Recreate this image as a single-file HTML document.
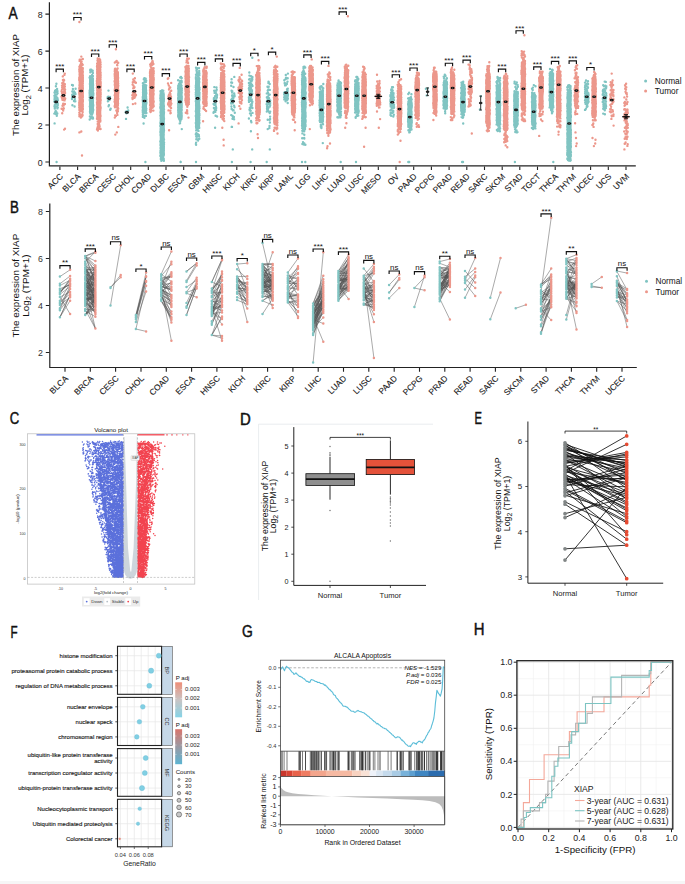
<!DOCTYPE html>
<html><head><meta charset="utf-8"><style>html,body{margin:0;padding:0;background:#fff;}svg{display:block;}</style></head>
<body><svg width="685" height="884" viewBox="0 0 685 884" font-family='"Liberation Sans", sans-serif'>
<rect width="685" height="884" fill="#fff"/>
<rect x="78.6" y="66.7" width="5" height="43.2" rx="1.5" fill="#ec978b"/><rect x="89" y="77.6" width="5" height="35.7" rx="1.5" fill="#80c4c2"/><rect x="96.3" y="64.2" width="5" height="55" rx="1.5" fill="#ec978b"/><rect x="114" y="71.1" width="5" height="35.4" rx="1.5" fill="#ec978b"/><rect x="142" y="85.6" width="5" height="27" rx="1.5" fill="#80c4c2"/><rect x="149.3" y="68.2" width="5" height="38.4" rx="1.5" fill="#ec978b"/><rect x="159.7" y="94.1" width="5" height="62.6" rx="1.5" fill="#80c4c2"/><rect x="177.4" y="83.7" width="5" height="33.7" rx="1.5" fill="#80c4c2"/><rect x="184.7" y="66.9" width="5" height="37.1" rx="1.5" fill="#ec978b"/><rect x="195.1" y="77.3" width="5" height="51.6" rx="1.5" fill="#80c4c2"/><rect x="202.4" y="70.7" width="5" height="34.6" rx="1.5" fill="#ec978b"/><rect x="220.1" y="73" width="5" height="37.8" rx="1.5" fill="#ec978b"/><rect x="255.5" y="73.6" width="5" height="42.1" rx="1.5" fill="#ec978b"/><rect x="273.2" y="74.4" width="5" height="49.3" rx="1.5" fill="#ec978b"/><rect x="290.9" y="75.9" width="5" height="38.1" rx="1.5" fill="#ec978b"/><rect x="301.3" y="76.8" width="5" height="50.6" rx="1.5" fill="#80c4c2"/><rect x="308.6" y="71.8" width="5" height="26.5" rx="1.5" fill="#ec978b"/><rect x="318.9" y="91.1" width="5" height="30.4" rx="1.5" fill="#80c4c2"/><rect x="326.2" y="83.2" width="5" height="44.5" rx="1.5" fill="#ec978b"/><rect x="336.6" y="85.3" width="5" height="25.5" rx="1.5" fill="#80c4c2"/><rect x="343.9" y="70.7" width="5" height="38.3" rx="1.5" fill="#ec978b"/><rect x="354.3" y="82.8" width="5" height="29" rx="1.5" fill="#80c4c2"/><rect x="361.6" y="74.9" width="5" height="37.1" rx="1.5" fill="#ec978b"/><rect x="397" y="89" width="5" height="38.5" rx="1.5" fill="#ec978b"/><rect x="407.4" y="99.9" width="5" height="27.7" rx="1.5" fill="#80c4c2"/><rect x="414.7" y="77" width="5" height="40.5" rx="1.5" fill="#ec978b"/><rect x="432.4" y="72.6" width="5" height="37" rx="1.5" fill="#ec978b"/><rect x="442.8" y="80.8" width="5" height="27.4" rx="1.5" fill="#80c4c2"/><rect x="450.1" y="73.2" width="5" height="38.1" rx="1.5" fill="#ec978b"/><rect x="460.5" y="86.1" width="5" height="26" rx="1.5" fill="#80c4c2"/><rect x="485.5" y="74.2" width="5" height="49.6" rx="1.5" fill="#ec978b"/><rect x="495.9" y="84.8" width="5" height="39.2" rx="1.5" fill="#80c4c2"/><rect x="503.2" y="80.1" width="5" height="50.9" rx="1.5" fill="#ec978b"/><rect x="513.5" y="91.2" width="5" height="34.8" rx="1.5" fill="#80c4c2"/><rect x="520.8" y="60.9" width="5" height="49.6" rx="1.5" fill="#ec978b"/><rect x="531.2" y="93.8" width="5" height="32.3" rx="1.5" fill="#80c4c2"/><rect x="538.5" y="75.4" width="5" height="34.4" rx="1.5" fill="#ec978b"/><rect x="548.9" y="74.1" width="5" height="33.2" rx="1.5" fill="#80c4c2"/><rect x="556.2" y="72" width="5" height="45.7" rx="1.5" fill="#ec978b"/><rect x="566.6" y="90.8" width="5" height="66.4" rx="1.5" fill="#80c4c2"/><rect x="591.6" y="77.2" width="5" height="40.1" rx="1.5" fill="#ec978b"/>
<g>
<path d="M56.8 115.8h0M56.4 83.8h0M56.4 103.5h0M55.9 104.1h0M57.4 108.4h0M57.7 103.4h0M56 91.8h0M56.7 98.1h0M54.5 92.5h0M56.8 99.7h0M56.6 98.3h0M57.9 100.2h0M57.3 113.5h0M55.3 94.2h0M55.7 97.3h0M56.7 97.4h0M54.3 113.6h0M56 114h0M54.9 108.1h0M54.7 105.2h0M54.5 99.1h0M57.1 102.2h0M54.7 97.2h0M55.2 106.4h0M55.7 99.1h0M57.5 98.3h0M54.5 106.5h0M55.9 86.3h0M56.3 96.9h0M57.5 91.1h0M57.3 106.2h0M57.4 107h0M55.3 104.3h0M55.8 102.6h0M55.6 96.2h0M57.5 99.7h0M57.8 105h0M54.8 108.5h0M54.9 105.5h0M55.1 90.8h0M55.1 107.5h0M56 99.7h0M56.4 98h0M55.2 112.2h0M54.3 101.5h0M55.8 90.1h0M55.6 104.1h0M56.3 102.6h0M57.8 107.6h0M56.8 97.4h0M56.2 102.3h0M56.5 112.1h0M56.8 94.4h0M54.4 95.8h0M57.6 93.3h0M57.1 88.9h0M57.5 98.6h0M57.2 100.8h0M55.7 110.9h0M55.7 96.3h0M54.6 123.4h0M56.6 162h0M74.6 106.5h0M72 84.9h0M74 101h0M73.6 95h0M72 99h0M73.2 92.1h0M74.2 92.3h0M73.8 92.8h0M72.2 94.8h0M75.6 88.8h0M74.9 92.8h0M75.5 94.1h0M72.3 91.4h0M72.9 89h0M72.1 98.2h0M74.8 99h0M72.9 85.2h0M72.4 105.3h0M73.5 94h0M75.3 101.3h0M75 92.7h0M72.9 85.6h0M72.5 97.3h0M75.3 93.4h0M74.1 91.4h0M74.5 101.2h0M72.3 97.2h0M72.2 95h0M89.7 119.5h0M91.2 69.6h0M91.2 102.4h0M92.5 108.9h0M90.9 105.8h0M92.2 104.3h0M91.6 104.5h0M90.4 110.4h0M92.8 88.8h0M90 112h0M92.7 88.5h0M90.3 108.8h0M89.6 92.9h0M90.4 78.4h0M92.5 95h0M93.2 105.7h0M89.6 97.2h0M91.4 95.7h0M91.4 116.6h0M92.6 104.4h0M90.3 95.5h0M91.5 102.9h0M90.9 96.7h0M92.7 87.5h0M90.6 87h0M93.1 85h0M90.7 89.5h0M90.4 101h0M92.2 98h0M91.5 100.8h0M90 101.2h0M92 99.8h0M89.9 116.5h0M92.5 101.4h0M92.2 98.1h0M92.5 108.4h0M92 98.1h0M90.9 90.5h0M91.1 99.6h0M91.1 100.1h0M92.9 117.6h0M89.9 84h0M92.9 96h0M89.7 90.5h0M90.4 101.1h0M90.6 90h0M93 85.8h0M91.5 92.6h0M91 97.5h0M92.9 104.2h0M90.5 88.8h0M91.3 103.1h0M91.6 94.7h0M92.4 103.4h0M92.4 98.2h0M92 95h0M90.9 87.2h0M90.8 107.3h0M90.2 98.2h0M92.7 89.1h0M92.1 95.8h0M92.4 80.3h0M90.3 69.7h0M91.3 107.7h0M92.5 118.6h0M91.8 85.7h0M90.1 76.2h0M91.3 84.8h0M92.9 86.3h0M90.5 104.5h0M90.3 105.6h0M90.7 85.3h0M92.2 107.7h0M92.8 117.5h0M90.2 108.6h0M90.2 70.6h0M90.5 105.3h0M90.8 105.7h0M91.6 94.6h0M90.2 105.9h0M90.8 79.3h0M90.3 98.7h0M93.2 109.6h0M92.3 79.3h0M90 104.1h0M93.2 94.7h0M90 98h0M91.1 101.2h0M93.3 93.2h0M92.6 105.3h0M92.3 117.8h0M91.2 111.5h0M90.4 106h0M92 98.1h0M90 97.1h0M90.4 90h0M91.1 96.1h0M89.8 106.4h0M91.1 105.5h0M92.6 99.7h0M92.2 91h0M91.5 90.3h0M92 99.2h0M91.3 99.7h0M90.2 84.6h0M91.9 97.6h0M91.1 87.4h0M92.4 89.6h0M93 94.8h0M91.2 79.4h0M91.8 104h0M92.4 101.7h0M91.2 106.6h0M90.5 106.5h0M92.3 75.8h0M92.9 73h0M92.5 97.5h0M92.2 89.8h0M92.8 81.2h0M92.1 86.4h0M92 80.8h0M91.3 111.5h0M90.8 104.8h0M92 91.4h0M90 77.5h0M91.2 96.4h0M92.5 107.1h0M92.3 101.7h0M92 105h0M90.6 107.1h0M91.2 76.6h0M91.3 104.6h0M91.9 97.6h0M91.1 81.1h0M92.1 93.1h0M93.1 104.5h0M90.3 92h0M92.1 74.9h0M92.5 89h0M91.1 80h0M91.4 96.5h0M93.2 90.5h0M89.8 100h0M91.6 91.8h0M90.2 79.4h0M92.5 113.3h0M93.1 98.5h0M91.6 94.4h0M90 104h0M91.8 101.2h0M91.6 86.7h0M92.3 88.9h0M91.5 93.2h0M92 114.6h0M92.7 70.6h0M91.6 96.8h0M91.1 98.2h0M93.1 109.9h0M90.4 98.5h0M92.2 109.7h0M91.1 96.8h0M92.5 91.2h0M90.1 97.4h0M93.3 93.9h0M90.9 107.1h0M89.8 77.6h0M90.6 104.9h0M91.1 117.5h0M89.7 99.9h0M91.2 106.1h0M91.2 108.8h0M92.2 101.7h0M90.9 93.7h0M90.6 110.6h0M90.5 99.3h0M92.4 77.7h0M93.1 88.2h0M91.6 99.5h0M90.4 96h0M92.6 99.1h0M91.1 98.4h0M90.4 87.5h0M90.1 98.8h0M92.5 98.1h0M92.6 107.5h0M92 88.6h0M91.4 104.4h0M91.7 95.7h0M90.5 109.2h0M93.2 110h0M90.9 113.1h0M92 118.2h0M92.7 92.7h0M92.6 104.7h0M91.4 118h0M90.7 113.9h0M91.7 89.1h0M90.1 106.2h0M92.7 101.8h0M90.9 93.2h0M92.8 78.7h0M90.6 70.4h0M91 83.2h0M90.6 95.8h0M91.2 95.2h0M90.3 72.3h0M89.6 77.6h0M92.3 101.2h0M90.7 91.4h0M90.5 93.8h0M90.7 97.1h0M91.4 103.2h0M91.2 112.2h0M92 103.6h0M92.1 114.5h0M91 80.5h0M93.1 90.2h0M92.8 110.9h0M89.8 78.1h0M92.7 85.2h0M93 118.5h0M92.5 71.8h0M90.1 86.4h0M92.7 111.2h0M92 90.3h0M89.7 91.9h0M89.7 95h0M93.2 95.4h0M92.1 82.9h0M90.6 114h0M90 111.3h0M90.2 112.9h0M90.5 103.9h0M92.5 104.4h0M90.9 92.6h0M90.2 94.1h0M93 97.4h0M92.6 105.2h0M90.3 102.6h0M92.9 84.4h0M91.9 87h0M92.5 96.4h0M92.1 101.3h0M92.9 75.9h0M92.5 104.3h0M92.7 88.7h0M90.4 81.5h0M92.2 100.7h0M91.6 86.2h0M92.4 109.9h0M110.2 109.7h0M108.5 90.6h0M110 97h0M108.6 98.5h0M107.9 101.2h0M108.3 96.6h0M107.7 97.1h0M110.7 108.8h0M109.5 100h0M108.6 106.2h0M109 105.1h0M108.7 98h0M107.5 98.3h0M126 118.9h0M127.6 107.5h0M125.8 111.8h0M126.5 113.3h0M125.8 111.9h0M127.2 112.9h0M128.2 110.5h0M127.4 111h0M125.7 112.2h0M144.4 117.8h0M144.4 78.1h0M145.8 96h0M144.2 106h0M144.5 102.8h0M146 90.8h0M144.3 103.9h0M144.5 96.7h0M144.6 95.2h0M145.8 102.4h0M145.2 99.5h0M145.4 98.6h0M144.2 99.5h0M142.9 107.2h0M145.2 87.6h0M144.7 102.1h0M145.5 106.1h0M145.5 106.8h0M143.1 97h0M143.5 109.9h0M143 109.1h0M145.7 78.8h0M143.1 86.5h0M143 89.3h0M145.5 85.8h0M144.8 94.4h0M142.9 114.7h0M145.2 87.7h0M145.3 87.2h0M144.5 95.5h0M142.9 116.9h0M145.3 87.2h0M144.2 85.8h0M144.9 105h0M146.4 99.6h0M145.7 92.4h0M145.9 101.7h0M143.2 88.8h0M143.9 100.1h0M144.6 93.3h0M142.7 100h0M146.4 113h0M143.7 109.1h0M143.7 97.9h0M143.9 86.4h0M143.6 88.3h0M145.9 81.9h0M144.8 94.8h0M144.6 105.8h0M144.3 100.8h0M142.9 116.6h0M143.8 102.5h0M145.9 90.9h0M145.7 98.8h0M145.9 91.8h0M143.7 86.2h0M143.4 108.5h0M142.9 106.3h0M144.7 116.3h0M144.1 109.3h0M144.4 95h0M144.5 110.3h0M144.9 85.6h0M144.1 96.2h0M145.7 105h0M143.4 101.5h0M146.1 98.5h0M144.8 81h0M142.9 99.5h0M143.9 90.1h0M144.7 85.8h0M144.2 95.3h0M144.8 97h0M143.9 102.5h0M143.7 104.3h0M145.6 111h0M143.8 79.3h0M145.3 104.6h0M145.7 98h0M144.9 101.3h0M144.4 99h0M146.2 80.8h0M144.3 101.9h0M145.9 103.2h0M142.9 107.1h0M144.3 101.2h0M145.1 104.6h0M142.9 98.7h0M145.9 96.6h0M143 108h0M144.9 79.5h0M143.4 91.3h0M146.1 91.9h0M144.8 93h0M145.7 91.8h0M144.5 93.5h0M145.2 85.3h0M145.2 89.8h0M143.8 85.9h0M143.5 105.1h0M145.8 101h0M143.2 107h0M146.1 90.3h0M143.5 91.7h0M143.1 104.8h0M143.1 94.5h0M145.6 87.2h0M146.2 110.1h0M144.2 101.7h0M145.1 93.9h0M143.7 101.3h0M146.1 96.7h0M145.2 87.8h0M143.3 97.3h0M142.9 110h0M145.3 93h0M142.9 101.8h0M145.8 99.7h0M143.8 105.6h0M143.6 112.3h0M144.9 111.2h0M143.9 103.9h0M144.8 109.7h0M143.3 88.2h0M146.1 110.5h0M143.9 106.9h0M145.8 95h0M143.3 86h0M145.7 107.3h0M146.3 93.6h0M144.1 104.9h0M142.8 97.6h0M144.1 99.8h0M145.1 101h0M143.5 116h0M144.7 113h0M143 101.3h0M144.4 85.2h0M145.4 105.5h0M144.3 95h0M145.2 99.2h0M143.1 95.6h0M145.8 89.9h0M143.2 113.3h0M146.1 97.9h0M146.4 102.4h0M146.2 103.5h0M144.6 108h0M143.8 107.4h0M144 109.4h0M145.5 110h0M144.5 82h0M146.1 100.9h0M143 92.7h0M144.5 109h0M145.9 115.9h0M144.9 99.4h0M144.7 84.9h0M143 101.3h0M143.2 109.2h0M143.7 103h0M146 109.2h0M145.8 112.4h0M143.5 102.9h0M146.1 104.3h0M142.8 107.6h0M144.9 108.2h0M146.3 108.6h0M144 98.3h0M146.2 85.4h0M145.1 102.7h0M142.9 114.2h0M143.9 97.9h0M144.4 110.5h0M143.6 102.3h0M145.4 99.8h0M143.4 94.7h0M145.6 88.4h0M143.8 105.5h0M143 111.2h0M144.8 102.5h0M143.1 97.7h0M144.7 106.7h0M145.6 91h0M144.9 82.2h0M144.4 112.6h0M142.8 96.9h0M144.6 89.6h0M143.1 116.7h0M145.1 98.7h0M143.2 102.8h0M144.8 112.7h0M144 86.3h0M144.1 98.6h0M145.2 104.9h0M143.3 96h0M143.3 93.8h0M146.2 92.4h0M143.9 94.5h0M145.8 96.4h0M145.9 110.6h0M144.5 104.4h0M143.3 99.5h0M143 104.1h0M146 109.6h0M143.1 115.9h0M144.5 98.2h0M144.7 100.6h0M143.1 105.8h0M144.4 104.4h0M143.3 108.3h0M144.7 107.1h0M144.6 101.8h0M144.1 106.3h0M143.4 93.4h0M144.2 102.2h0M143.5 99.5h0M143.2 96.5h0M143.6 86.8h0M145.9 94.3h0M144.6 98.4h0M146 102.3h0M142.8 107.6h0M146.2 103.8h0M144.5 93.4h0M145.6 98.5h0M144.8 104.2h0M145.2 111.9h0M143.5 113.6h0M145.5 97.4h0M143.3 89.5h0M143.7 96.8h0M142.8 112.2h0M144.2 102.7h0M144.6 98.5h0M143.8 108.5h0M146 97.1h0M143 102.6h0M144.8 107.8h0M143.6 111.2h0M144.9 91.9h0M145.6 97h0M145.3 108.3h0M142.9 109.3h0M143.6 91h0M144.9 94.3h0M146.3 103.5h0M142.9 83.2h0M145 103.4h0M145.3 109.6h0M145.7 88.8h0M144 102.5h0M145.7 97.1h0M144.4 100.6h0M146.1 109.2h0M142.7 110.7h0M146.2 102.6h0M144.2 85.3h0M144.2 109.2h0M143 85.8h0M143.6 123.5h0M145.4 162h0M163.9 160.7h0M161.9 90.4h0M160.6 106.7h0M163.8 160.2h0M160.8 155.4h0M160.5 152.7h0M161.5 112.1h0M161.5 118.6h0M164 124.2h0M163.6 128.7h0M161.9 132.1h0M162.3 117.8h0M163.5 115.1h0M163.4 96.3h0M162.8 109.2h0M162.3 104.7h0M160.8 96.6h0M161.3 101.9h0M162.8 110.4h0M162.6 158.6h0M163.4 112.9h0M163.7 101h0M164 130.4h0M161.1 99h0M160.7 148.1h0M163.7 94.5h0M162.5 129.7h0M161.1 111.1h0M163 143h0M161.3 139.6h0M161.3 136.2h0M161.7 137.9h0M162.3 154.1h0M162.9 129.6h0M160.7 91.8h0M163.1 114.8h0M162.7 95.2h0M162.1 107.1h0M162.9 101.9h0M163.3 90.8h0M160.4 107.8h0M162.1 141.4h0M162.9 143.2h0M163 131.7h0M162.8 159.2h0M161.1 144.5h0M163.9 98.4h0M163.3 96h0M161.3 137.6h0M162 106.6h0M163.9 106.3h0M161.2 98.2h0M161.9 104.9h0M163.9 123.3h0M163.7 153.3h0M161.3 102.7h0M163.1 138.7h0M161.7 116.7h0M162.8 134.9h0M163.2 123h0M160.9 92.9h0M161.2 149.4h0M161.2 123.4h0M161.4 115h0M160.5 122.9h0M160.9 94.8h0M161.9 132.1h0M161.9 96.5h0M160.7 112.2h0M162.5 92.7h0M163.9 154.4h0M162.5 145.8h0M161.7 140.5h0M163 97h0M162 159.7h0M161 142.4h0M162.2 110.4h0M160.5 91.2h0M162.9 148.3h0M161 129.9h0M161.8 112.4h0M164 112.2h0M163.2 108.3h0M163.5 107.8h0M162.8 143.2h0M162.7 142.6h0M163 158.8h0M164 112.1h0M161.1 146h0M163.2 142.5h0M161.5 93h0M161.3 115.5h0M163.4 119.2h0M162.6 114.6h0M163.5 118.7h0M163.6 111.9h0M162.6 139.4h0M161.1 156.2h0M160.4 156h0M162.4 159.7h0M163.1 135.3h0M161.4 150.7h0M160.6 152.8h0M160.4 126h0M161 92.6h0M163 112.4h0M160.4 141.5h0M161.2 106.6h0M161.4 148.2h0M163 153.7h0M164 139.4h0M160.5 132h0M160.8 112.3h0M163.8 129.4h0M164 109.5h0M160.9 154h0M161.6 95.2h0M162.3 136.7h0M161.6 102.2h0M161.9 158.5h0M162.2 102.5h0M161.3 144.8h0M160.6 100.6h0M160.7 104.3h0M161 113.6h0M160.7 141.2h0M162.7 160h0M163 147.4h0M161.4 97.1h0M163.3 149.6h0M163.1 114.4h0M161.7 119.5h0M162.2 114.2h0M161.1 148h0M163.8 150.6h0M162.5 153.9h0M160.6 91.7h0M161 133.8h0M163 114.9h0M161.8 120.7h0M163 145h0M161.2 156.2h0M163.3 159.7h0M163.4 100.8h0M160.7 151.6h0M162.6 93h0M161.1 135.2h0M163 109.9h0M163.4 151h0M163.3 105.3h0M161.2 143h0M160.7 135h0M162.8 124h0M162.5 152.9h0M160.9 143.3h0M161.1 104.8h0M162.5 140.7h0M160.8 134h0M162.7 107h0M161.3 145h0M161.3 147.1h0M162 145.3h0M162.4 133.7h0M163.1 135h0M160.5 115.6h0M163.1 127.6h0M161.2 99.6h0M161.5 157.2h0M162.8 114.1h0M162.9 101.9h0M162.7 144.2h0M163.7 158.6h0M161.1 129.9h0M161.5 152.6h0M162.8 128.4h0M161.4 110.7h0M161 154.1h0M161.2 152.4h0M163.2 127h0M163.4 148.5h0M163 144.5h0M163.9 129.8h0M163.3 152.4h0M161.5 155.9h0M161.6 135.3h0M163.1 127.7h0M160.6 94.9h0M162.6 121.7h0M160.7 155.7h0M160.6 145.1h0M162.3 108.4h0M160.9 121.2h0M163.8 99.6h0M163.6 93.1h0M162.1 100.4h0M161.1 153h0M160.8 94.4h0M162.3 123.8h0M162.3 143.9h0M161.7 148.7h0M163 100h0M162.3 145.8h0M163.3 154.9h0M160.8 142.1h0M160.6 95.8h0M161.8 128.3h0M162.2 109.3h0M161.3 155.5h0M162.9 128.9h0M161.2 138.4h0M161.6 146.3h0M162.2 114.1h0M163 135.3h0M163.2 152.3h0M161.8 91.6h0M162 126.9h0M163.8 148.1h0M163.8 159.9h0M162.7 114.8h0M160.8 124.5h0M162.1 159h0M162.7 127.7h0M161.4 108.7h0M160.5 123h0M164 144.3h0M163.8 125.6h0M160.9 118.2h0M162.1 115h0M162.7 150.5h0M161.5 104.2h0M160.6 94.3h0M163.2 108.7h0M163.2 100.5h0M162 134.9h0M160.7 97.3h0M161.8 147.9h0M160.7 144.8h0M164 118.7h0M160.6 97.4h0M161.5 154.9h0M163.2 145.5h0M160.9 158.2h0M160.8 129.9h0M160.7 150.8h0M161 147.2h0M162.4 108.1h0M163.5 119.7h0M161 94.7h0M161 132.5h0M163.2 113h0M162 159.8h0M161.6 94.1h0M160.8 144.3h0M161.3 127.2h0M164 124.8h0M160.8 94.1h0M161.4 126.1h0M163.1 91h0M163.7 117.1h0M163.7 145.5h0M162.1 102.1h0M163.9 146.5h0M162.6 90.5h0M161.5 128.6h0M162.1 144.8h0M163 93.2h0M163.1 138.1h0M160.9 132.1h0M161.1 136.6h0M163.9 113.7h0M160.8 159.1h0M163.4 134.4h0M161.6 149.3h0M161.3 102.5h0M161.3 160.7h0M162.1 118h0M164.1 142.6h0M160.9 128.8h0M163.6 121.2h0M161.6 110.7h0M161 151h0M163.1 143.8h0M161.7 152.2h0M161.1 93.2h0M161.9 150.2h0M163.4 151.1h0M163.6 124h0M162.5 119.9h0M160.4 98.4h0M163.2 156.7h0M162.6 144.2h0M163.7 148.9h0M163.9 119.6h0M161.6 128.9h0M163.5 132h0M163.4 98.3h0M161.4 114.2h0M161.7 100.3h0M161.8 93.5h0M161.7 141.8h0M179.7 123.4h0M181 76.9h0M180.2 98.7h0M179.8 91.8h0M181.3 110.2h0M180.3 84.1h0M179.3 95.8h0M179.5 87.4h0M181.6 117.8h0M181.3 101.9h0M181.5 82.5h0M180.2 77.4h0M178.6 85.9h0M178.7 101.9h0M179.5 99.7h0M180.6 108.5h0M178.1 88.6h0M181 109.2h0M181 100.4h0M180 117.6h0M178.1 80.3h0M181 101.2h0M179.6 99.3h0M180.6 102.3h0M180.2 117.5h0M180.8 103.6h0M179.6 107.5h0M181.6 104.1h0M181.6 115.1h0M181.5 116.1h0M180.4 114.8h0M179.3 94.1h0M179.5 102.4h0M179.1 91.9h0M181.4 113.2h0M181 94.7h0M181 106.5h0M181.1 100.8h0M181.7 90.5h0M180.6 101.5h0M179.3 105.6h0M180.9 119.3h0M179.1 101.1h0M180.3 92.3h0M178.7 108.5h0M181.3 102.6h0M179.9 120.4h0M179.1 115.9h0M181.5 97h0M178.4 86.1h0M181.5 105.2h0M180.9 119.4h0M178.6 105.9h0M180.9 118.3h0M180.2 104.8h0M181.4 78.3h0M180.3 98.3h0M179.7 103.5h0M181.5 89.2h0M178.4 105.9h0M181 97.8h0M178.5 99.5h0M179.1 96.5h0M178.5 117.3h0M181.3 93.2h0M179.7 91.1h0M180.8 111.3h0M179 83.7h0M180.8 101.7h0M180.5 93.6h0M178.4 95.1h0M179.9 91h0M180.8 108.6h0M178.9 108.1h0M180.5 97.3h0M179.1 94.5h0M179.5 94.9h0M181.5 97.7h0M181.6 107h0M181.8 88.4h0M179.7 96.1h0M180.2 88.9h0M181.1 89.5h0M180.9 99.3h0M179.8 108.9h0M181.3 100.4h0M179.6 106.9h0M181.6 105.2h0M179.8 99.5h0M178.5 97.7h0M180.9 110.3h0M178.6 110.1h0M180.6 95.3h0M178.3 110.8h0M181.7 96.6h0M180.1 105.8h0M180.8 111.9h0M178.6 87.5h0M180.4 81.5h0M179.5 103h0M179 102.4h0M181.1 90.1h0M178.2 115.9h0M179.8 111.1h0M178.4 88h0M181.2 90.8h0M181.4 107.1h0M178.2 110.1h0M179.8 97.6h0M179.8 116.8h0M180.7 107.2h0M180.8 104.4h0M179.3 94.6h0M181.5 92.5h0M178.8 88.8h0M178.6 117.1h0M181.1 115.5h0M178.5 110.6h0M178.8 115.7h0M179.9 112.3h0M179.3 105.2h0M178.7 99.4h0M181.5 96.3h0M179.8 84h0M181 113.5h0M179 91h0M181.5 100.1h0M178.9 114.4h0M181.4 100h0M180.3 116.8h0M181.7 81.9h0M180.9 109.7h0M180.4 89.5h0M180.1 85.8h0M181.2 108.5h0M179.7 111.5h0M178.4 100.3h0M181.5 113.1h0M181.1 90.8h0M180.6 99.7h0M180.8 110h0M178.9 109.2h0M179.8 92.9h0M181.1 117.3h0M181.6 81h0M181.5 110.3h0M178.7 104h0M180.6 111.8h0M180.1 81.8h0M179.6 91.7h0M178.7 85.8h0M178.6 93.8h0M179.8 100.8h0M179.9 80.9h0M179.1 93.7h0M179.4 96.5h0M180.1 94.7h0M180.9 92.8h0M180.3 98.4h0M178.7 103.7h0M181.4 118.9h0M179.4 115.8h0M181.6 109.5h0M181.7 77.9h0M178.6 86.7h0M180.2 108.3h0M181.7 98.6h0M179.5 102.2h0M180.1 123.1h0M179.2 105.5h0M178.2 98.3h0M178.8 87.3h0M178.5 114.8h0M179.1 118.7h0M180.4 97.8h0M180.2 100.9h0M181.6 100h0M180.6 100.1h0M179.4 105.8h0M181.6 116.5h0M180.4 96.3h0M180.1 97.1h0M181.3 94.7h0M180.6 86.4h0M179.4 115.2h0M180.3 121h0M179.2 111.7h0M181.7 96.9h0M179 102.1h0M181.7 92.8h0M178.3 107.4h0M178.1 103.7h0M180.1 108.3h0M178.8 98.8h0M180 95.4h0M178.5 112.3h0M181.2 85.5h0M180.6 87.6h0M180.6 96.4h0M181.5 103.1h0M181.8 129.1h0M180.6 162h0M180.7 162h0M196.1 144.8h0M196 67.7h0M198.3 84.9h0M197.9 84.4h0M198.4 104.3h0M196.8 109.7h0M197.6 93.1h0M196.5 116.3h0M197.4 127.6h0M196.8 120.7h0M197.9 93.2h0M196.9 95.5h0M196.8 71.4h0M198.1 140.6h0M196.1 90.7h0M198.7 125.1h0M197.6 80.7h0M196.6 87.8h0M196.2 96.5h0M197.7 75.9h0M197.6 107h0M198.4 110.6h0M197.2 122.7h0M197.3 113.6h0M199.1 96.6h0M196.8 88.1h0M199.4 78.8h0M199.1 104.6h0M199.4 115.2h0M199.3 106.1h0M196.7 108.3h0M198.8 109.2h0M198 107.7h0M196.5 118.5h0M199.5 99.6h0M198.2 110.2h0M198.8 102.3h0M197.8 130.4h0M196.1 96.2h0M199 89.7h0M196.4 88.5h0M196.7 111h0M198 124.7h0M196.5 128.4h0M197.5 125.4h0M198.4 113.2h0M196.1 105.5h0M198.2 139.3h0M196.2 88.2h0M197.5 133.9h0M198.2 114.2h0M198.3 115h0M195.9 85.8h0M196.5 70.4h0M199.3 106.5h0M197.2 104.7h0M197.3 107.4h0M197.2 103h0M198.3 102.3h0M198.5 123.4h0M198.2 100.9h0M197.3 116.5h0M197.9 93h0M197.7 110.3h0M196.5 89.6h0M199.3 123.2h0M199.3 95.2h0M198.6 139h0M199.4 87.8h0M197.5 109.2h0M198.9 124.9h0M196.7 91.7h0M198.5 110.3h0M198.4 87.2h0M199.2 111h0M198.9 84.7h0M199 96.1h0M196.8 93h0M198.7 96h0M197.5 106.8h0M196.9 106.7h0M197.1 91.5h0M198.7 87.6h0M198.9 107.8h0M198.9 72.7h0M198.2 124.7h0M196.4 81.9h0M196.3 100h0M197.9 94.9h0M196.6 116.5h0M197 73.3h0M196.1 117.3h0M196.3 100.3h0M198.4 115h0M196.6 69.1h0M198.9 79.4h0M197 128.6h0M198.9 108.7h0M196.9 92.9h0M196.8 108.2h0M197.2 106.5h0M195.8 123h0M197.4 94.6h0M197.2 123.3h0M195.8 85.8h0M199 105.9h0M197.2 73.5h0M195.8 92.7h0M199.3 113.7h0M196.6 106.3h0M196.7 120.3h0M195.9 96.7h0M196.1 87.8h0M198.4 84.3h0M197.9 104.7h0M197.6 125.7h0M196.7 100.1h0M196.8 73.1h0M199.4 94.1h0M197.1 99.8h0M199.4 108.3h0M199.1 90.2h0M196.2 120h0M198.9 78h0M195.8 111.3h0M198.4 118.2h0M198.8 111.7h0M198.3 100.5h0M197.8 83.3h0M198.8 111.2h0M196.3 139.2h0M197.8 100.1h0M196.8 90.5h0M197.2 75.1h0M196.5 124.1h0M198.4 76h0M197.9 88.2h0M198.7 91.5h0M198.1 115.9h0M198 118.4h0M199.2 120.2h0M198.8 84.3h0M197.9 95.1h0M197 82.3h0M199.2 70.9h0M197.1 98.1h0M196.1 99.5h0M197 69.5h0M198.4 128.2h0M199.2 108.5h0M198.2 106.8h0M198.2 106.9h0M199.2 96.2h0M198.6 117.4h0M197.4 80.8h0M197.5 129.4h0M198.6 117h0M196.9 136.8h0M196.2 130.4h0M198.1 89.5h0M198.8 88.9h0M196.7 102.8h0M198.3 85.6h0M199.1 89h0M196.2 111.6h0M196.3 99.2h0M197.6 92.8h0M197 68.1h0M199.3 108.4h0M199.5 92.8h0M197.4 90.2h0M198.7 80h0M198.1 92h0M196.4 82.2h0M199.4 122.7h0M196.4 104.3h0M196.1 142.6h0M197.4 99.4h0M195.8 94.7h0M197.5 97h0M197.3 94.3h0M199.3 96.2h0M197.3 128.4h0M198.9 114.2h0M198.7 102.2h0M197.9 95.8h0M196.6 117.9h0M196.9 100.8h0M197.6 114.9h0M197.2 128.5h0M198.2 113.2h0M197.6 116.8h0M197 85.7h0M198 78.2h0M199.5 89.6h0M196.5 103.2h0M197 110.9h0M195.8 134.2h0M196.1 110.2h0M196 74.8h0M197.3 81h0M198.9 95h0M198.4 103.8h0M199.3 98.3h0M198.9 92h0M197.9 98.6h0M197.9 91.9h0M195.8 116h0M197.2 97.6h0M196.7 106.4h0M198.1 82.2h0M196 126.7h0M197.8 78.9h0M197.2 100.3h0M197.6 109.6h0M197.3 98.1h0M196.1 96.4h0M198.5 103.7h0M198.7 91.9h0M198 111.6h0M196.2 136.6h0M198 87.9h0M199 98.8h0M199.4 73.3h0M198.6 92.5h0M195.9 144h0M199 79.7h0M198.2 114.1h0M196.8 90.1h0M199.2 81.9h0M198.8 123.3h0M199.1 100.3h0M196.7 135h0M197.9 88.3h0M197.2 89.9h0M196.9 121.4h0M198.6 91.6h0M198.1 84.3h0M197 86.2h0M197.8 113.4h0M199.2 114.2h0M197.9 123.6h0M199.2 127.9h0M197.9 93.6h0M199.4 97.8h0M195.9 78.8h0M197.5 94.3h0M197.8 105.5h0M198.5 130.9h0M199.4 75.2h0M198.1 95.9h0M197.5 98.9h0M198.1 121.3h0M197.7 121.9h0M198.4 88.8h0M199.3 120.2h0M195.8 89.6h0M197 88.9h0M199 107.1h0M196 134.8h0M198.7 92.2h0M195.9 77.3h0M198.2 117.2h0M198.7 126.7h0M196.7 82h0M197.2 96.1h0M196.6 112.6h0M198.4 80h0M197.7 104.7h0M198 91.5h0M197 107.6h0M197.9 115.1h0M199.3 95.1h0M198.7 117.6h0M199.3 138.8h0M196.7 110.4h0M197.7 79.8h0M197.2 81.9h0M197.1 83.4h0M198.7 74.1h0M196.4 94.5h0M197.8 108.3h0M198.6 91.3h0M199.2 120h0M195.8 87.3h0M196.8 108.6h0M197.6 94.4h0M199.2 117.8h0M196.4 101.2h0M198.9 83.6h0M197.2 103.1h0M197.8 113.7h0M199.2 94h0M196 85.1h0M197 102.4h0M196.3 125h0M196.3 133.3h0M196.9 128.9h0M198.4 82.4h0M197.9 100.4h0M196.2 91.1h0M198.7 82.2h0M197.6 94h0M196.3 91.1h0M198.8 109.5h0M198.8 135h0M196.6 88.9h0M199.2 100.6h0M198.8 89.7h0M196.6 122.6h0M195.8 101.3h0M199 68.1h0M198.8 117.1h0M196.1 96.9h0M198.6 78.8h0M198.6 103.7h0M198.1 96.4h0M198.9 86.7h0M199.4 108.4h0M197 79.1h0M198.9 100.5h0M199.2 106.5h0M196.9 91.8h0M198.3 103.5h0M198.3 110.1h0M198.9 75.3h0M197.9 83.6h0M196.8 96.6h0M196.7 86.2h0M197.8 86h0M196.3 89.7h0M199 97.5h0M199.1 97.3h0M196.7 92.2h0M198.3 89.9h0M198.3 93h0M196.2 110.9h0M198.7 99.8h0M198.6 91.5h0M196.9 120.1h0M196.1 98.6h0M196.8 87h0M198.6 95.9h0M197.5 104.5h0M198.8 98.9h0M196.4 108.9h0M196.2 83.6h0M197.1 106.5h0M199 136.2h0M196.4 125h0M196 162h0M217.1 116.5h0M214.3 87.1h0M213.5 112.8h0M214.7 109.1h0M214.6 101.5h0M213.9 99.5h0M215 96.2h0M213.6 104h0M216.9 97.5h0M215.3 100.2h0M216.7 89.6h0M216 101.6h0M216.2 100.2h0M216.3 97.3h0M214.6 92.9h0M216.2 108h0M214.2 104.7h0M215.5 103.2h0M215.7 92.4h0M216.3 93.8h0M214.1 101h0M214.7 92.6h0M216.5 87.4h0M216.4 90.5h0M217.1 95h0M213.9 111.6h0M214.2 90.7h0M213.9 98.3h0M216.1 110.1h0M216.2 100.8h0M215.9 96h0M216.3 94.5h0M215.4 100h0M215.5 105h0M216.9 95.9h0M215.9 106.8h0M215.9 101.7h0M215.6 96h0M215.3 111.9h0M216.3 98.6h0M215.6 115.8h0M213.9 108h0M215 110.3h0M215 101.8h0M215.1 127.8h0M231.7 126.9h0M234.3 76.9h0M233.5 96.9h0M234.6 96.3h0M231.8 102.4h0M232.1 101.1h0M233 110.4h0M231.4 106.5h0M232.3 91.3h0M233.1 96.9h0M232.9 101.5h0M234.5 107.3h0M233.3 98.6h0M233.5 87h0M233.3 101.4h0M234.1 105.8h0M232.5 116h0M231.2 100h0M234.8 112.7h0M234.1 119.3h0M231.6 90.8h0M231.6 109h0M232 126.9h0M233.6 110.2h0M231.6 79.3h0M231.2 102.5h0M233 117.9h0M231.2 115.1h0M232.1 92.6h0M232.6 96.3h0M231.9 98.6h0M231.2 103.6h0M232.1 95.4h0M232.1 82.8h0M232.3 95.4h0M232.7 103.2h0M232.5 118.8h0M232.3 95.9h0M231.2 82.5h0M234.2 93.4h0M233.9 117h0M233 99h0M231.2 85.7h0M232 109.2h0M234.5 95.3h0M232.8 149.4h0M231.9 162h0M251.4 122.2h0M249.3 72.5h0M249.2 99.2h0M249 99.1h0M249.8 97.2h0M251.2 95.1h0M252.4 108h0M252.4 101.7h0M252 103.5h0M249.3 85.4h0M251.8 101.2h0M251.7 99.4h0M250.6 93.2h0M252.5 86h0M251.1 92.1h0M249.3 89h0M249.6 89.6h0M249.3 93.5h0M251.1 99.9h0M251.1 115.4h0M252 84.8h0M248.9 100.4h0M248.9 118.5h0M252.4 77.4h0M249.8 79h0M249.8 110.4h0M252 78.8h0M249.3 90.6h0M251.8 105.2h0M252.2 93.5h0M250.9 87.1h0M251.1 84.2h0M248.9 88.4h0M251.1 92.7h0M251.1 84.5h0M251.7 107.4h0M250.8 90.6h0M249.3 100.7h0M249.7 110.1h0M251.3 93.2h0M249.1 87.9h0M249.2 89.3h0M249.8 79h0M251.8 105.1h0M250.9 113.6h0M250.2 95.8h0M252.4 77h0M251 120.9h0M249.7 98.4h0M250.9 97.2h0M252 90.1h0M250.2 100.7h0M250.4 94.3h0M251 88.7h0M252.5 112.9h0M251.2 96.1h0M249.5 109.7h0M251 91.6h0M250 83.5h0M250.6 81h0M251.5 106.2h0M248.9 97.5h0M250.7 81.5h0M250 113.4h0M251.1 84.7h0M251.9 90.1h0M250.6 104.8h0M251.2 92.1h0M249.9 95.9h0M249.8 86.2h0M250.7 84.6h0M250.8 100.6h0M249.7 100.9h0M251.7 93.1h0M250.7 110.7h0M250.2 91.1h0M249.8 93.1h0M251.9 103.3h0M252.2 102h0M252.3 79.5h0M249.8 93.6h0M249.1 79.4h0M251.2 84.3h0M248.9 83h0M252 90.9h0M251.4 94.2h0M250.1 91.3h0M250.5 90.9h0M251.4 92.4h0M249.4 75.6h0M250.2 108.1h0M251.8 80.8h0M251.4 81.6h0M251 91.8h0M249.2 100.8h0M249.6 96.2h0M249.8 107.8h0M249 101.9h0M251.2 106.8h0M251 76.2h0M252.3 57.7h0M250.9 131.3h0M252.2 149.4h0M250.6 162h0M267.7 129.1h0M268.5 81.6h0M270.2 103h0M268.8 82.3h0M268 92.6h0M270.1 118.9h0M267.5 107.4h0M270.1 116.6h0M267.7 119.7h0M268.1 110.3h0M267.7 90.6h0M268.9 100.7h0M269.8 94.6h0M269.1 103h0M267.2 106.7h0M270.2 100.4h0M269.2 102h0M268.4 82.9h0M269.7 84h0M266.9 97.6h0M268.7 95.3h0M269.4 128h0M269.4 102.6h0M269 111.7h0M266.8 93.4h0M268.3 89.5h0M267.5 106.5h0M268.8 104h0M268 107.3h0M268.2 93.5h0M268.5 100.9h0M268.7 86.8h0M269.8 89.9h0M267.6 101.1h0M267.5 105.1h0M267.2 109.4h0M266.9 104.2h0M269.7 113h0M269.9 106.6h0M267 102.1h0M267.9 92.6h0M269.9 122.5h0M269.7 119.8h0M270.2 111.6h0M270.2 105.1h0M267.7 96.8h0M266.8 111.6h0M267.5 86.8h0M268.4 108.1h0M266.6 104.1h0M267.5 100.5h0M268.3 90.1h0M269.1 98.2h0M267.1 100.9h0M267 108.3h0M267.8 99.5h0M266.9 97.2h0M267 105.9h0M266.9 101.3h0M269.5 126h0M269.8 149.4h0M266.7 162h0M287.7 103h0M287.9 73.6h0M284.7 97.6h0M285.1 85.4h0M284.9 92.2h0M285.9 94.6h0M285.3 99.2h0M286.7 94.5h0M287.5 93.8h0M284.5 97.4h0M284.3 99.4h0M284.6 98h0M285.4 98.5h0M284.7 83h0M285.8 85.3h0M285.6 95.6h0M286.9 98.6h0M287.8 93.8h0M287.8 88.8h0M285.8 96.3h0M286.6 94h0M284.7 83.5h0M286.5 94.5h0M287.5 95.3h0M287.5 81.6h0M284.7 93.7h0M284.8 93.5h0M287.6 98.1h0M286.8 83.5h0M287 91.2h0M284.5 94.8h0M286.5 93.8h0M284.3 80.2h0M286.9 93.7h0M287.2 94h0M285.4 92.3h0M284.2 92.7h0M286.9 84.1h0M287.9 94.7h0M286.5 95.4h0M285.6 96.9h0M285.4 92.1h0M287.2 100h0M287.8 95.9h0M285.6 101.3h0M285 93.8h0M287.9 94.4h0M285.8 94.3h0M285.9 96.1h0M285.4 97.7h0M286.9 91.6h0M287.9 98.7h0M286 77.8h0M287.4 91.1h0M285.7 79h0M285.8 74.9h0M287.2 92.2h0M287.8 98.1h0M287 89.3h0M286.8 97.8h0M287.3 92.7h0M287.6 91h0M287.7 78.2h0M286.2 94h0M285.7 94.1h0M284.2 94.4h0M286.2 93.7h0M285.5 85h0M284.2 97.2h0M287.9 95.2h0M305.4 144.8h0M304.5 66.8h0M305 111.3h0M304 75.3h0M304.2 95h0M302.4 111.2h0M305 129.3h0M304.3 88.9h0M304.3 138.5h0M303 128.8h0M304.7 128.9h0M303.9 71.4h0M303.1 71.4h0M305.6 103.6h0M304.8 107.3h0M304.4 87.3h0M305 78.7h0M304.5 117.2h0M303.3 103.2h0M305.4 80.5h0M305.3 99.6h0M304.4 114.7h0M303.5 66.9h0M303.8 103.4h0M302.1 128.1h0M305.2 67.5h0M305 114.4h0M304.1 98.5h0M303.6 127.5h0M304.9 87.7h0M302 95.4h0M303.4 105.2h0M302.8 107.8h0M304.2 111.7h0M303.2 115.2h0M304.2 131.2h0M305.2 79.3h0M303.4 84.2h0M302.3 130.8h0M302 125.6h0M305 91.9h0M303.6 103.2h0M303.5 105.7h0M302 104.3h0M302.3 94.5h0M301.9 102.5h0M305.2 81.2h0M302.1 82.8h0M303.1 89.6h0M303.7 73.4h0M304 103.8h0M302.7 111.2h0M304.3 143.4h0M304.3 134.8h0M305.6 92.7h0M302.3 123.3h0M303 81.6h0M302.3 101.6h0M303 107.5h0M302.7 123.6h0M302 80.7h0M304.9 107.7h0M302.9 91.3h0M304.7 110.7h0M304.9 96h0M304.9 108.9h0M302 97.2h0M304.1 100.7h0M305.1 114.3h0M304.2 91.5h0M304.1 102.7h0M303.5 121h0M305 122.9h0M303.9 91.4h0M303.2 77.3h0M303.7 129h0M303.7 108.2h0M302.6 91.3h0M304.4 81.9h0M305 87.1h0M304.3 126h0M301.9 97.8h0M303.4 84.1h0M304.7 94.6h0M302.4 103.7h0M303.8 126h0M304.4 95.8h0M303.9 99.9h0M303.1 97.9h0M302 74.6h0M304.5 79.6h0M302.5 116.9h0M304.1 94.7h0M303.9 105.7h0M304.6 96.8h0M302.3 72.5h0M305.5 83.9h0M304.7 97.8h0M305.1 113.7h0M302.6 102.2h0M304.6 92.6h0M303.3 110h0M304.5 80.9h0M304.5 98.1h0M303.4 125.9h0M305.4 104.7h0M303.5 101.2h0M303.6 82.7h0M304.6 80.7h0M302.5 75.3h0M305.2 73.7h0M303.1 93.4h0M305.2 96.6h0M302.4 82.2h0M302.4 99h0M304.1 127.8h0M302.8 109h0M303.5 87.9h0M302.7 88.7h0M304.6 124.2h0M304.6 79.4h0M304.4 93.5h0M302.4 133.4h0M302.1 91h0M304.1 82.4h0M302.2 89.9h0M304.6 105.7h0M303.9 117.1h0M305.4 80.6h0M304.9 94.8h0M304.3 98.6h0M305 107.7h0M303.8 122.5h0M303 142.1h0M302.1 106.4h0M304.5 80.8h0M304.4 86.3h0M304.3 114.3h0M303.8 74.2h0M303.6 103.7h0M305.3 121.9h0M303.3 82.9h0M302.4 76.4h0M305.4 107.5h0M304.7 126.9h0M305.2 99.9h0M305.6 97.6h0M303.5 74.2h0M302.5 94.1h0M303.7 115.5h0M303.7 87.1h0M303.3 109.9h0M304.8 78.3h0M302.8 106.8h0M305.5 106.6h0M302.7 95.4h0M303 120.3h0M305 128.2h0M302.8 92.9h0M304.6 92.8h0M302.9 121h0M303.4 89.5h0M303.6 108h0M302.8 111.3h0M305 100.1h0M305.4 92.1h0M305.3 86.9h0M302.5 78.8h0M302 92.4h0M303.5 115.4h0M304.6 114.4h0M303.9 92.5h0M305.5 126.2h0M305.6 102.4h0M304.4 107.3h0M302.9 100.7h0M303.4 95.5h0M302.2 81.9h0M303.4 72.4h0M304.7 84.4h0M303.1 82.4h0M302.6 123.3h0M303.9 82h0M305.2 77.8h0M304.3 129.9h0M302.3 111.6h0M303.5 70.4h0M302.8 97.4h0M304.9 117.1h0M303.5 111.7h0M303.6 81.4h0M305.2 94.3h0M303 107.1h0M303.6 80.1h0M305.5 120.2h0M303 118.2h0M303.9 111.5h0M304.3 115.8h0M303.1 87.5h0M304.2 103.8h0M303.5 122.9h0M305 109.1h0M304 144.6h0M304.6 95.8h0M304 96.8h0M304.5 88.7h0M303.4 103.9h0M302.5 92.1h0M303.3 120.1h0M303.1 98h0M302 95.9h0M304.8 126.7h0M303.9 89.1h0M303.7 96.1h0M304.5 97.6h0M302.2 109.5h0M302.4 98.4h0M304.6 116.3h0M302.1 118.2h0M305.1 89h0M303.8 103.3h0M305.5 116.8h0M305.1 115.2h0M303.4 83.6h0M303.2 97h0M303.5 81.7h0M304.8 98.8h0M303.6 125.9h0M304.6 84.6h0M305.6 93.4h0M304.7 113.6h0M303.8 105.6h0M304.7 121h0M303.7 85.3h0M304.1 108.1h0M303.5 90.8h0M305.4 94.3h0M305.6 104.4h0M304 92.5h0M304 104.2h0M302.3 125.9h0M304 108.1h0M305.3 125.8h0M302.8 86.5h0M304.8 88.1h0M302.9 112h0M304.6 88.6h0M303 94.5h0M304.1 83h0M304.8 120.1h0M302 98h0M305 121.4h0M303.8 114.3h0M302.8 76.8h0M303 119.7h0M304 90.7h0M304.7 86.1h0M302.6 116.6h0M302.2 138.3h0M302.8 92.6h0M304.3 80.9h0M303.4 84.1h0M304.7 115.4h0M304.6 77h0M303.3 102.8h0M304.1 88.7h0M302.4 102.9h0M304.2 73.2h0M304.3 110.4h0M302.8 105.7h0M304.4 95.4h0M302.4 94h0M305.5 115.1h0M303.9 103.8h0M305.3 124.7h0M304.4 103.8h0M302.7 97h0M304.6 94.6h0M304.2 72.4h0M303.3 90.2h0M304.5 91.6h0M304.7 125.3h0M304.4 97.3h0M302.7 98.6h0M305.5 121.7h0M305.3 87h0M303.5 68.2h0M305.3 87.8h0M305.6 86.1h0M303.2 81.6h0M302.6 101.4h0M302.8 83h0M303.7 117.1h0M302.4 95.6h0M302.8 87.3h0M304.6 77.8h0M302 105.1h0M304.2 105.2h0M303.4 91h0M304.5 100.2h0M302.9 96.2h0M303.7 85.7h0M302.7 116.1h0M302 84.6h0M305.1 92.4h0M303.3 104.5h0M303 127.4h0M305.4 113h0M303.3 99.4h0M303.9 83.6h0M302.4 144h0M303.4 87.2h0M305.1 95.4h0M305 124.5h0M304.9 84.9h0M305.3 92.1h0M302.8 91.5h0M302.1 121h0M302.4 124h0M304.3 84.1h0M303.9 76.3h0M303.3 92.6h0M304.5 102.9h0M302.7 108.8h0M304.2 138h0M303.5 82.9h0M302.4 100.6h0M304.8 79h0M302.6 115.1h0M304.9 81.9h0M304.7 114.9h0M303.5 89.2h0M303.6 76.8h0M302.7 114.6h0M302.4 84.1h0M304.5 98.6h0M303.3 120h0M304 95.2h0M303.3 88.3h0M302.9 114.9h0M302.5 104.6h0M304.7 111.5h0M303.5 116.1h0M302.5 103.2h0M305.1 85.5h0M302.5 109.8h0M302.8 78.8h0M302.5 107.2h0M304 114.3h0M304.8 81.6h0M302 162h0M305.3 162h0M321.4 128h0M323.3 84h0M323.2 116.7h0M321 100.9h0M322.9 121.2h0M322.1 97.5h0M319.9 107.4h0M322.9 113.5h0M320.6 120.6h0M323.2 88.2h0M320.1 115h0M322.9 91.1h0M321.5 120.8h0M321.5 86.3h0M320.3 86.7h0M321.4 109.5h0M322.4 96.9h0M321.7 101.9h0M323.2 113.1h0M321.6 108.1h0M322.9 120.3h0M320.1 121.9h0M322.3 108.3h0M321.8 100.3h0M322.9 107.8h0M320.8 120.9h0M321.3 98.9h0M322.6 108.6h0M320.5 100.1h0M321 112.4h0M322.7 112.3h0M322 96.1h0M321.4 92h0M319.7 120.7h0M322.4 119.9h0M321.1 97.2h0M320.5 105.2h0M321 109h0M320.1 118.8h0M322.7 96.6h0M322.6 107.4h0M323.2 106.9h0M322.1 104.8h0M320.2 114.5h0M321.2 104.7h0M323.3 108h0M319.6 100.5h0M320.9 104.8h0M320.2 121.5h0M320.2 116.2h0M320.6 112.3h0M321.9 94.7h0M319.8 115.8h0M322.8 95.1h0M321.2 95.8h0M320.2 98.4h0M320 109.8h0M321.5 105.7h0M320.9 93.9h0M321.5 104.6h0M320 96.9h0M320.9 111h0M321.5 91.4h0M319.9 105.3h0M321.5 127h0M322.7 95.8h0M321.8 111.5h0M320.1 117.9h0M321.9 112.4h0M319.9 112.4h0M320.1 94.9h0M319.6 105.5h0M321.6 110.4h0M320.3 110h0M320.6 117.9h0M320 115.7h0M322.9 114h0M320.1 111.9h0M322.1 120.3h0M322.6 113.5h0M321.3 96.7h0M321.8 104h0M320.8 109.7h0M322.6 105.4h0M322.1 111.9h0M319.9 120.6h0M322.2 98.3h0M320.1 103.1h0M321.4 100.9h0M320.3 120.9h0M321.4 102.9h0M322 113h0M322.3 112.2h0M320.8 124.9h0M319.8 110.4h0M321.3 104.7h0M323 124.2h0M321.6 111.9h0M321.9 114.2h0M322.4 119h0M322 101.5h0M323.1 88.5h0M323.1 104.3h0M322.3 96.5h0M322.6 99.9h0M320.1 110.4h0M320.6 102.2h0M322.2 92.6h0M321.7 113.6h0M322.8 111.2h0M322.5 122.2h0M320.8 126.8h0M320.2 117.1h0M322 98.2h0M320 105h0M321.4 106.5h0M320.6 92.8h0M321.1 125.9h0M322 91.9h0M321.9 108.8h0M321.9 99.7h0M319.8 91.9h0M322.9 117h0M322.2 117.8h0M323 104.5h0M321.9 110.4h0M322 115h0M322.9 111h0M322.4 116.3h0M321.9 108.1h0M319.7 113.2h0M319.7 87.8h0M322.3 119.1h0M322.7 102.3h0M321 108.7h0M320.4 89.3h0M321.2 118.4h0M322.7 114.1h0M322.4 87.4h0M320.1 115.8h0M320.3 113.1h0M320.4 113.4h0M322.4 118.5h0M320.5 94h0M322.9 90.2h0M321.1 111.2h0M320.3 116.5h0M321.1 122.2h0M320.1 101.2h0M322.9 114.7h0M319.7 102.6h0M321.1 113.5h0M321 101.7h0M319.7 104.3h0M320.4 105.9h0M323.3 108.2h0M322.8 109.9h0M321.2 113h0M322.8 113.7h0M323 108h0M322.8 143.1h0M338.1 117.6h0M338.6 80.5h0M339.9 96.9h0M338.8 113h0M339.2 93.3h0M338.1 96.1h0M339.6 101.5h0M339.1 114.3h0M337.3 94.5h0M340.1 93h0M340.3 82.3h0M340.9 98.2h0M340.8 91.3h0M339.9 93.7h0M339 99.4h0M338.3 101.4h0M339.9 101.5h0M338.8 94.1h0M338.5 88.4h0M337.7 91h0M339.5 116.2h0M339.9 101.4h0M340.1 88.6h0M337.9 95.6h0M338 87.1h0M339.6 91.5h0M337.8 92.3h0M340.6 89.9h0M340.7 84.9h0M339.6 98.8h0M338.3 103.1h0M339.4 108.8h0M340.1 92.3h0M338.6 84.7h0M339.7 92.5h0M339.5 96.7h0M340.7 92.1h0M340.2 104.3h0M339.8 92.4h0M339.3 85.1h0M340.6 93.1h0M339.5 101.1h0M339.8 92.9h0M338.4 87.3h0M337.7 93.2h0M339.4 87.1h0M338.1 94.1h0M340.9 96h0M338.1 102.4h0M340.6 93.5h0M338.5 90.7h0M338 87h0M339.4 87.6h0M338.5 99.8h0M341 111.6h0M339.6 101.9h0M337.7 83.1h0M338.4 99.2h0M337.7 91.7h0M339.1 86.7h0M339.2 103.2h0M338.5 92.6h0M339.8 99.9h0M338.9 94.9h0M340.3 101.1h0M339.8 93.2h0M338.2 92.9h0M340.4 103.1h0M337.4 89.7h0M338.2 109.9h0M337.4 117.3h0M340.8 108.8h0M339.3 91.5h0M340.4 104.9h0M341 91.8h0M337.6 95.9h0M340.6 95h0M337.4 96.4h0M339.9 83.5h0M340.2 92.3h0M338.7 111.6h0M340.6 106.3h0M340.1 92.9h0M339.1 93.7h0M338.3 90.5h0M337.9 85.6h0M337.6 96h0M339.3 106.9h0M339.2 90.4h0M338 104.9h0M339.3 95.5h0M337.6 105.9h0M338.4 91.8h0M339.8 82.8h0M337.8 109.5h0M339.2 98.7h0M337.8 87.6h0M340.6 92.5h0M338.1 90h0M340.7 89.2h0M340.7 87.3h0M340.9 95.2h0M338.3 97.6h0M339.8 95.5h0M337.5 90.6h0M340.9 88.4h0M339.9 105h0M337.4 94.7h0M337.8 89.4h0M337.7 93.5h0M338.6 98.7h0M340.8 92.9h0M340.2 102h0M338.5 100.3h0M340.3 112.6h0M337.3 99.2h0M339.3 86.8h0M338.7 95h0M337.6 110.9h0M340.7 113.3h0M339.7 103.4h0M341 115.2h0M339.7 99.9h0M339.6 102.4h0M337.8 90.8h0M339.1 112.7h0M340.6 94.4h0M339.4 90.8h0M339.7 104.3h0M339 88.3h0M338.6 94.5h0M337.3 102.1h0M338.1 97.7h0M338 95.8h0M337.6 91.5h0M337.5 94.3h0M340.1 87.9h0M341 82.9h0M339.9 83.6h0M340.4 117.2h0M338.1 96.7h0M340.4 97.5h0M338.7 87.3h0M340.5 95.6h0M338.2 85.6h0M338.4 99.6h0M339.2 109.5h0M338.1 103.9h0M338.2 100.6h0M340 94.4h0M340.2 96.4h0M340.9 90.1h0M339.7 86h0M338.6 81.1h0M339 99.4h0M339.5 95.4h0M339.5 109.5h0M340.7 93.1h0M339.4 104.9h0M340.8 107.9h0M339.1 83.9h0M338.9 111.8h0M337.4 105.1h0M338.5 81h0M339.1 102.5h0M337.3 85.1h0M338.9 89.8h0M337.7 86.6h0M338.3 106.8h0M340.6 101.3h0M340.7 105.1h0M337.7 92.1h0M339.5 97.1h0M339.1 96.1h0M337.5 111.6h0M338.4 87.3h0M339.3 94.9h0M338.9 87h0M339.4 89.4h0M337.5 101.2h0M339.6 97.3h0M339.6 86.6h0M338 101.5h0M339.4 102.1h0M340.7 101.6h0M340.6 91.9h0M339.6 90.2h0M339.2 90.8h0M340.1 94.7h0M339 106.7h0M339.9 95.6h0M338.7 95.5h0M339.3 101.8h0M340 93.3h0M339.5 86.8h0M339.5 99.5h0M338.7 104.6h0M338.6 94.7h0M339.7 92h0M338.9 102.8h0M338.9 90.1h0M338.7 94.2h0M338.4 103.5h0M339.6 105.5h0M340.5 85.1h0M338 95.2h0M339.7 93.7h0M339.3 100h0M339.6 99.4h0M339.7 90.1h0M338.8 103.1h0M337.3 94.5h0M338.6 92.2h0M339.2 98.4h0M339.6 106.5h0M340.7 86.2h0M339.7 117.4h0M339.7 91.2h0M338.6 85.4h0M340.2 85.3h0M337.8 93.6h0M340.6 106.5h0M339.1 96.3h0M339 104.9h0M339.9 87.3h0M339.3 92.2h0M341 88.3h0M337.7 91.9h0M337.5 89.7h0M339.5 107.2h0M338.1 96.6h0M338.1 90.5h0M341 108h0M339.2 100.5h0M338.4 91.9h0M338.6 99.6h0M338.1 107.4h0M338.2 94h0M337.8 100.8h0M340.9 92.4h0M340 106h0M338.6 89.4h0M337.7 93.5h0M340.9 89.5h0M340.6 100.2h0M337.6 105.8h0M340.5 95h0M339.3 86.8h0M340.9 93.8h0M338.9 98.8h0M338.9 92.6h0M337.3 110.7h0M339.4 94.1h0M338.2 106.4h0M340.6 85.7h0M338.1 98.5h0M340.6 98.7h0M338.5 86.9h0M340.3 92.9h0M339.9 106.8h0M340.7 162h0M355.7 117.8h0M357.1 76.9h0M356.9 93.1h0M358.6 94.6h0M358.3 86.7h0M355.2 89.4h0M358 101.3h0M358.6 83h0M357.7 91.8h0M358.5 89.5h0M356.4 77h0M357.3 81.5h0M357.5 105.2h0M357.9 93.1h0M357.6 114.6h0M358 91.3h0M356.2 105.2h0M357.9 96.1h0M357.2 97.5h0M358.5 99.9h0M356.2 107h0M357.3 79.3h0M358.2 97.7h0M357.8 112.3h0M357.6 91.5h0M355.5 108.9h0M355.6 103.6h0M356.2 89.1h0M357.4 95.5h0M355.1 96.6h0M357.4 81.1h0M355.4 84.3h0M355.7 103.6h0M356 95.1h0M357 111.4h0M357.6 91.4h0M358.5 90.1h0M355.8 111.9h0M355.3 104.8h0M358.2 110.6h0M357.2 88.7h0M358.4 100.6h0M357.6 88.7h0M355.5 91.1h0M356.3 87.3h0M355.8 100.5h0M356.6 98.4h0M356 94.7h0M358.2 96.4h0M358.3 97h0M355.7 105.9h0M358.7 88.6h0M358.5 99.2h0M356.4 81.5h0M358.2 93.5h0M358.5 110.5h0M357.7 83.8h0M356.3 101.7h0M357.3 106.1h0M357.8 104.6h0M356.2 109.9h0M356.7 99.2h0M355.3 90.3h0M355.6 103.9h0M357.9 107.5h0M356.1 90.5h0M357.6 94.2h0M356.6 100.1h0M357.6 94.1h0M356 106.7h0M355.3 97.5h0M357.4 101h0M355.9 80.7h0M355.7 96.1h0M356.7 99.9h0M356.8 115.5h0M358.3 115.6h0M357.6 95.1h0M356.6 89.2h0M356.6 99.6h0M357.2 89.7h0M355.5 91.9h0M356.1 89.7h0M357.2 115.9h0M358.5 95.9h0M357.2 95.4h0M355.8 98.9h0M358.6 94.4h0M357.9 111.4h0M355.8 95.9h0M356.3 94.7h0M355.1 92.6h0M357.8 100.4h0M355.8 96h0M358 87.8h0M357.6 89.3h0M357.9 80h0M357.1 106.6h0M355.9 89.8h0M355.1 106.1h0M357.2 89.3h0M355 93.4h0M356.9 92.8h0M357.8 92.2h0M355.5 90.3h0M356.6 89.6h0M357 88.3h0M355.5 93.4h0M355.7 91.5h0M357.2 102.3h0M355.6 117.2h0M355.5 97h0M355.8 80.7h0M358.4 94.3h0M358.3 98.4h0M355.4 96.5h0M357.1 82.8h0M356.5 108.2h0M355.1 81.5h0M355.9 109.6h0M357.4 103.1h0M355.1 95.3h0M358.5 93.5h0M356 100.6h0M356.3 112.5h0M358.5 94.8h0M355.5 93.6h0M355.5 104.2h0M356.7 100.1h0M356.1 108.2h0M356.2 80.1h0M357.1 100.9h0M358.5 98h0M356.5 101.3h0M355.1 112.5h0M356.4 107.1h0M358.1 111.6h0M356.6 93.7h0M355.2 88.3h0M355.9 93.1h0M355.8 99.4h0M356.3 86.3h0M356.2 101.2h0M357.5 96.2h0M357.6 97.1h0M355.1 99.2h0M355.5 96h0M358 83.3h0M358.2 87.5h0M357.9 94.5h0M355.6 90.2h0M357.5 112.4h0M355.3 100.5h0M357.5 91.8h0M355.8 95.8h0M358.1 87.2h0M358.1 91h0M356.7 112h0M357.7 100.8h0M358.5 90.7h0M358.3 79h0M357.4 111.1h0M357.3 108.3h0M356.3 82.3h0M357.5 101.2h0M355.5 100.2h0M356.7 103.9h0M355.3 97.3h0M355.3 86.8h0M357.5 91.1h0M356.6 109.6h0M355.7 100h0M358.5 99h0M356.1 106.1h0M357 110.5h0M356.8 114.9h0M355.7 112.1h0M358.7 94h0M357.8 106.8h0M358.3 89.3h0M356.1 91.8h0M358.4 87.7h0M358.3 111.3h0M358.5 87.8h0M355.6 92.4h0M355.6 90.6h0M355.3 103.5h0M355.3 105.6h0M357.6 94.4h0M355.2 97.3h0M356.7 115.2h0M356.3 89.5h0M357.7 95.5h0M355.2 106.1h0M357.6 106.8h0M358.5 96.9h0M356.1 91.9h0M356.5 95.7h0M357.7 93.2h0M356.1 93h0M358.1 88.6h0M358.7 111.7h0M355.8 101.9h0M356.7 101.4h0M355.5 103.4h0M357 96.8h0M356.4 94.5h0M358.6 93.3h0M357.7 106.1h0M358.7 97.7h0M358 89.6h0M358 102.1h0M356.4 95.6h0M357.4 98.2h0M355.4 91.9h0M356.3 91.6h0M358.4 85.1h0M358.6 98.3h0M355.6 91.8h0M356.8 93.5h0M356.5 98.6h0M357.3 103.6h0M357.2 91.7h0M355.9 88.4h0M358.2 93h0M356.6 111.5h0M357.8 90.6h0M357.7 96.4h0M358.6 86.6h0M356.9 85h0M357.2 104.9h0M357.8 103h0M355.8 93.6h0M355.1 91h0M358 94.6h0M357.5 77.5h0M357.8 104.6h0M357.9 88.1h0M355.7 88.9h0M358.2 94.7h0M357.3 95.4h0M358.5 89.5h0M357 85.2h0M358.2 104.1h0M355.2 80.4h0M355.6 100.4h0M357 84h0M357.5 88.7h0M356.4 110.4h0M355.2 97.2h0M358.3 92.7h0M355.2 108.7h0M358.3 113.1h0M355.8 94.9h0M357.6 110h0M357.2 93.8h0M355.9 97.7h0M356.2 90.6h0M355.9 91.6h0M357 97.6h0M356 162h0M393.3 116.5h0M392 87.1h0M391.3 101.7h0M393.2 112h0M393.2 93.2h0M393.4 104.4h0M392.2 101.5h0M390.4 101.4h0M390.4 95.1h0M392.4 97.7h0M390.5 115h0M392.7 106.7h0M390.9 99.6h0M393.2 101h0M390.4 96.3h0M392.9 98.2h0M391.2 90.1h0M394.1 107.1h0M392.1 92.5h0M392.3 99.5h0M393.5 100h0M391.4 97.4h0M394 104.6h0M391.5 97.1h0M390.5 103.7h0M391.4 97.1h0M391.7 107.6h0M392.6 93.9h0M390.6 112.9h0M393.7 106.7h0M393.2 102.6h0M393.1 100.5h0M394 107.8h0M390.6 105h0M392.9 100.3h0M393.5 94.7h0M391 92.6h0M391.9 105.5h0M391.1 102.7h0M393.8 104.4h0M392.1 112.9h0M393.4 105.3h0M391.3 93.8h0M392.6 111.3h0M393.1 95.3h0M391.6 89.3h0M391.4 100.9h0M390.7 99.1h0M392.7 90.4h0M391.9 106.1h0M391.1 92.8h0M391.5 96.8h0M391.5 96.4h0M390.8 96.9h0M392.6 97.9h0M390.9 97.6h0M391.2 93.3h0M391.7 99.2h0M394 97.5h0M393 99.2h0M391.1 101.2h0M393.5 108.1h0M393.8 114.8h0M391.6 109.1h0M393.3 110.9h0M392.7 112.2h0M392.4 97.1h0M393.7 104.5h0M392.8 92.8h0M392.8 96.5h0M393.8 105.4h0M392 99.4h0M390.7 103.6h0M390.4 100.1h0M393 87.3h0M392.1 90.3h0M393.6 93.1h0M394 100.1h0M391.3 89.5h0M391.1 96.1h0M392.5 95.9h0M390.4 110.4h0M390.7 106.4h0M390.6 101h0M391.5 103.7h0M392 105.9h0M391.1 115.7h0M392.9 107.4h0M409.3 132.4h0M409.1 92.8h0M409.1 119.5h0M410.6 120.4h0M409.8 117.6h0M408.9 126.4h0M408.6 127h0M411 123.2h0M408.8 108.4h0M408.7 124h0M410 124h0M408.3 94h0M409.5 119h0M408.8 119.9h0M411.2 123.6h0M410.1 99.9h0M409.9 110.9h0M409.8 114h0M408.1 98.4h0M411.2 125.8h0M411.5 129.5h0M408.1 104.1h0M410.1 112h0M411 120.8h0M411.2 107.7h0M411.6 117.8h0M411.4 94.2h0M411.3 126.4h0M408.6 112.8h0M411.7 105.7h0M411.7 106.7h0M410.4 119.7h0M411.3 120h0M409 120.3h0M409.6 109h0M408.5 120h0M409.8 118.1h0M411.7 105.1h0M410.7 117.9h0M409.8 114.2h0M409.2 118h0M408.8 117h0M409.6 124h0M409.1 112.7h0M409.9 121.8h0M410.2 121.6h0M409.6 116.4h0M410.2 122.7h0M409.6 124.1h0M409.9 130.3h0M409.8 111.7h0M411.2 117.5h0M411.4 123.3h0M410.2 120.1h0M410.9 105.6h0M409.2 105.2h0M408.7 112.8h0M409.2 103.6h0M408.6 105.2h0M410.9 120.5h0M411.4 107.7h0M410.4 115.2h0M408.9 108.1h0M408.5 113.8h0M410.9 126.3h0M410.2 112.8h0M408.6 125.1h0M411.7 120.9h0M410.8 119.8h0M411.6 117.2h0M411.7 117.4h0M411 97.2h0M411.5 117.5h0M411.5 114.2h0M408.6 104.6h0M409.3 99.5h0M410 124.2h0M410.4 113.5h0M408.6 126.9h0M409.1 111.3h0M410.9 100.4h0M411.6 120.9h0M409.8 119.1h0M411.5 103.2h0M411.3 111.9h0M411.4 107.7h0M408.7 120.5h0M409.5 119.4h0M410.5 119.8h0M411.1 98.8h0M411.1 128.2h0M408.5 120.9h0M410.6 98.7h0M408.1 117.6h0M409.2 125.2h0M408.2 114.3h0M409.9 118.7h0M408.5 118h0M410.5 111.2h0M409.6 107.9h0M411 128.2h0M409.2 114.7h0M411.7 99.4h0M408.5 127h0M408.4 117.8h0M409.9 125.7h0M409.9 109.2h0M411.2 123.3h0M408.1 119.5h0M408.7 120.1h0M409 111.7h0M409.7 126.7h0M411.1 127.5h0M410.5 114.9h0M408.9 101.1h0M409.5 120.8h0M410.9 112.2h0M410.1 114h0M408.4 115.8h0M409.4 117.2h0M408.1 121.2h0M409.7 118.9h0M408.9 102.9h0M409.2 111.9h0M409.3 102h0M411.3 122.5h0M408.4 115.7h0M408.4 121.8h0M408.5 126.9h0M409.6 106.6h0M409.7 119.2h0M411.5 114.3h0M410.7 127.6h0M409 119h0M408.5 118h0M410.1 120h0M411.1 105.1h0M408.9 111.8h0M410.9 115.5h0M409.4 114.4h0M411.6 120.4h0M411.6 122.3h0M408.7 119.2h0M411 124.6h0M410.2 118.3h0M409.5 117.9h0M410 103.8h0M411.4 120.3h0M409.8 120.9h0M410.1 115.5h0M409.9 117.3h0M408.1 121.7h0M410.9 117.6h0M408.4 130.3h0M411.4 104.1h0M408.1 121.4h0M410.2 117.3h0M409 130.7h0M410.6 110.5h0M410.4 126.7h0M410.8 101.3h0M411.1 124.9h0M411.7 122.5h0M408.5 109.2h0M408.9 102.2h0M409.8 131.9h0M411.5 129.5h0M409.5 98h0M408.8 112h0M410 128.5h0M409.2 162h0M408.3 162h0M426.7 95.4h0M427.7 88.4h0M425.9 88.8h0M445.2 113.2h0M444.8 74.7h0M447 105.5h0M443.6 108.3h0M444.2 99.2h0M444.2 89.3h0M445.3 90.7h0M444.9 108.2h0M443.9 92.2h0M445.7 106.6h0M446.7 84.5h0M445.5 92.4h0M444.7 102h0M445.3 100.5h0M444.3 97.4h0M443.6 101.4h0M444.6 83.7h0M444.8 93.3h0M446.3 101.5h0M444.9 91.7h0M446.7 108.2h0M443.9 94.9h0M444.6 99.5h0M444.1 101.3h0M446.3 97.2h0M444 94.2h0M445.5 109h0M445.3 92.7h0M446.1 88h0M445.4 101.7h0M444.5 92.8h0M446.9 78.2h0M445.2 105.4h0M444 78.2h0M445.4 99.5h0M445.3 75.5h0M443.8 103.4h0M443.6 85h0M445.3 101.3h0M446.1 82.7h0M444.8 87h0M445.8 92.9h0M444.4 103.4h0M446.1 85h0M446.4 92.6h0M445.4 105.8h0M446.8 90.6h0M444.9 98.1h0M444.8 97.6h0M443.5 105h0M444.8 94.4h0M446.3 87.1h0M446.3 103.4h0M445 87.7h0M445.1 111.3h0M445.7 95.5h0M443.6 93.8h0M445.4 104.7h0M446.6 95h0M443.9 107.7h0M443.7 76.6h0M445.3 92.3h0M445.7 85h0M444.8 104.5h0M445 97.5h0M446.9 82.3h0M447.1 98.1h0M447.1 84.3h0M444.1 92.2h0M444.6 93.1h0M444.4 84.9h0M446.8 101.4h0M445.7 100.2h0M445.5 84.9h0M443.8 91.6h0M446.4 101h0M447 105.8h0M444.3 80.8h0M444.5 86.9h0M443.5 98h0M446.5 107h0M444.3 92.2h0M444.1 91.6h0M446.7 93.5h0M445.9 104.1h0M445.1 88.2h0M444.3 100.5h0M447 97.2h0M444.7 97.3h0M446.2 80.7h0M445.8 93.2h0M444.9 98.1h0M447 101.7h0M445 85.4h0M444.4 102.2h0M444.3 92.1h0M443.6 92.3h0M445.1 88.4h0M446.9 88.4h0M446.1 93.6h0M444.7 75.9h0M444.5 87.9h0M446.4 102.6h0M446.5 104.4h0M444.6 102.2h0M444.4 81.8h0M444.4 105.3h0M446.4 79.2h0M445.2 92.2h0M445.9 101.7h0M445.9 104.5h0M446.4 97.6h0M445.4 88.7h0M443.5 97.4h0M445.9 89.1h0M444.3 94.8h0M446.6 82.4h0M445.6 100.8h0M446 97.7h0M446 106.2h0M446.6 99.2h0M446.5 105.1h0M446.8 108.5h0M446.5 98.6h0M444.4 89.6h0M446.2 106.6h0M444.7 108.5h0M446.2 92.8h0M445.5 90.4h0M445.6 93.3h0M443.8 98.3h0M444.1 102.7h0M443.9 94.7h0M443.8 103.4h0M446.6 98.7h0M446.8 92.5h0M444.7 98.9h0M445.1 84.2h0M445.6 109.1h0M446 85.6h0M443.7 101.1h0M447 100.7h0M443.5 101h0M443.9 97.3h0M446.1 97.9h0M444.6 92.7h0M445.8 87h0M445.5 76h0M445.2 113.2h0M445.3 97.7h0M446.4 103.6h0M444.9 94.4h0M462.9 117.8h0M463.2 81.6h0M463.1 105.5h0M462.2 100.2h0M461.9 108.8h0M462.2 96.4h0M462 102.7h0M464.7 94.9h0M461.7 88h0M461.9 107h0M464.8 92.7h0M461.6 98.3h0M461.2 105.7h0M462.6 99.9h0M463.2 88.1h0M463.6 101h0M464.3 90.9h0M464.5 99.2h0M461.2 87.8h0M464.1 103.5h0M461.9 104.1h0M463.4 96.4h0M464.2 106.4h0M461.6 85h0M463.1 108.1h0M464.6 86.6h0M462.6 105.5h0M463.5 108.2h0M464 97h0M462.5 93.6h0M461.5 82.6h0M463.7 87.4h0M461.2 107.2h0M464.6 94h0M462.9 105.6h0M463.2 91.9h0M461.6 96.3h0M463.1 88.3h0M462.7 102.2h0M463.5 94.4h0M461.5 111.8h0M462.2 109.8h0M463.1 95.8h0M464 101.5h0M463.6 91.9h0M461.2 106.5h0M464.6 111.4h0M462.6 110.1h0M463.5 107.2h0M464.8 88.9h0M464.2 98.8h0M462.5 103.9h0M462.1 95.8h0M463 102.8h0M463 100h0M461.6 101.5h0M463.4 112.7h0M464.2 92.6h0M461.8 100.7h0M463.4 101.5h0M463.1 106.4h0M461.9 100.7h0M464.3 107.4h0M461.6 102.7h0M464 104.5h0M461.4 99.2h0M464.4 109h0M462.1 103.2h0M463.7 104.9h0M463.6 109.9h0M463.6 102.1h0M464 95.6h0M462.1 93.5h0M462.8 99.4h0M463.3 102.5h0M463.8 93h0M462.6 103.8h0M462.4 95.8h0M463.4 115.7h0M461.5 111.6h0M463.1 107.5h0M462.6 91.2h0M463.7 103.7h0M462.3 97.9h0M461.3 110.5h0M463.7 113.9h0M462.3 86h0M461.4 82.6h0M461.3 102.3h0M464.6 107h0M463 99.9h0M461.6 103.5h0M461.4 105.9h0M463.2 100.2h0M462.7 106.2h0M461.3 114.1h0M463.1 82.5h0M463 112.1h0M463.3 105.4h0M461.5 97.4h0M461.1 104.8h0M463.4 98.8h0M461.1 93.1h0M463 106.8h0M462.6 97.2h0M464.3 102.6h0M463.1 112.4h0M461.7 98.4h0M461.7 110.6h0M464.2 90.3h0M462 102.3h0M463.3 99.6h0M462.4 92.4h0M462.2 108.4h0M462.5 108.4h0M463.4 86.1h0M462.5 95.1h0M462.4 96.8h0M462.4 117.6h0M464.3 101.2h0M464.7 109.6h0M463.9 106.6h0M463.9 114.9h0M462.5 115.1h0M463.8 105.7h0M463.6 97.4h0M464.8 106.2h0M462 103.1h0M461.1 101.6h0M463 87.1h0M463.7 106.8h0M462.3 100.1h0M464.7 101.8h0M461.9 94.1h0M463.5 111.4h0M464.3 110.5h0M464.8 105.3h0M462.5 106.8h0M463.8 88.1h0M461.6 105.8h0M463 112h0M461.6 117.1h0M464 100.7h0M463.1 90.2h0M461.3 108.4h0M464.7 105h0M462.9 110.9h0M464.3 107.7h0M464.5 91.9h0M463.3 106.1h0M462.7 110.4h0M463.6 95h0M463 99.6h0M461.8 102h0M461.1 98.3h0M463.9 90.5h0M464.5 111.9h0M463.8 102.8h0M463.1 87.9h0M464.2 94.6h0M462.3 91.7h0M462.2 113.8h0M464 104h0M464.4 85.1h0M463.2 85.9h0M463.1 117.3h0M463.4 88.3h0M462.6 93h0M462.7 88.6h0M461.4 101.3h0M463.3 93h0M464.1 89.7h0M462.4 109.7h0M463.7 91.4h0M463.8 93.1h0M463.7 106.3h0M461.8 84.5h0M462.8 89.1h0M463.3 92h0M464.4 105.8h0M461.2 98.6h0M461.5 102.4h0M461.8 83.7h0M464.1 108.8h0M461.7 96.9h0M463.1 107.5h0M462.2 107.7h0M463.7 86.3h0M462.7 98.2h0M462.1 107.4h0M463.1 103.3h0M464.4 105.2h0M464.3 102.8h0M463.1 83.5h0M463.8 107.4h0M464.5 104.7h0M463.7 96.9h0M463.4 91.5h0M464 106.8h0M461.5 104.5h0M463.2 123.5h0M462.1 162h0M463 162h0M479.9 109.5h0M480.9 96.2h0M499.9 131.3h0M497.5 76.9h0M497.2 109.9h0M499.7 94.9h0M498.5 105.6h0M499.7 114.7h0M497.1 96.3h0M499.8 111.8h0M498 79.4h0M499.8 122.9h0M498.8 105.9h0M497.8 103.1h0M497.8 96.1h0M496.9 130h0M498.5 88.6h0M496.8 86.9h0M499.8 92.9h0M497.5 96.1h0M497.7 104.2h0M497.9 95h0M498.3 128.8h0M499.9 102.9h0M496.8 102.8h0M497.8 95.5h0M498.5 107.5h0M498.4 79.3h0M499.7 108.3h0M498.5 91.8h0M499 90.2h0M499 116.6h0M497.9 125.6h0M498.1 86.6h0M497.3 96.8h0M496.9 95.5h0M500.1 114.7h0M499 113.5h0M496.9 112.8h0M499.6 126.6h0M498 105.7h0M498 110.4h0M499.4 103.9h0M497.6 112.6h0M499 93.4h0M499.4 96.1h0M499 115h0M497.1 92.2h0M496.9 88.9h0M499.3 90.1h0M498.8 129.4h0M497.8 99.1h0M500 96h0M498.5 120.7h0M500.2 105.3h0M497.2 107.4h0M499.6 122.7h0M500.1 97.5h0M497.1 105h0M497.2 99.7h0M498.2 91.4h0M497.7 97.7h0M498.7 93.5h0M496.9 88.4h0M496.6 92.5h0M496.9 94.2h0M496.9 111.6h0M497.8 89.2h0M499.4 127.3h0M498.7 128.2h0M497.1 115.1h0M498.7 102.5h0M500.1 84.8h0M500.1 102.9h0M497 103.1h0M499.1 92.4h0M496.8 103h0M499.7 127.8h0M497.7 105h0M498.8 109.6h0M499.9 101.2h0M498.2 104h0M497.7 115h0M496.7 101.6h0M499 91.2h0M499 101.7h0M499 81.1h0M496.8 105.2h0M497.8 91.1h0M497.5 87.6h0M497.1 89.5h0M496.9 94.6h0M497.3 99.3h0M499.7 103.1h0M499.7 102.4h0M498.8 90.9h0M497.7 94.1h0M497.7 94.5h0M499.8 128.8h0M497 120.8h0M496.9 106.3h0M500 123.2h0M497.5 107.7h0M500 83.8h0M497.6 105h0M496.9 100.6h0M497.7 93.1h0M499.7 123.7h0M499.7 101h0M498.8 99.3h0M498.5 113.3h0M498.1 100.1h0M497.8 97h0M500 101.9h0M498 105.7h0M496.9 88.6h0M498.7 101.2h0M497.9 89.8h0M497.7 103.5h0M500 90.5h0M499 96.9h0M498.2 97.8h0M499.9 94.7h0M497.2 81h0M497.2 107.8h0M500.1 124h0M496.9 100.8h0M499.2 111.8h0M497.6 86.9h0M496.9 105.6h0M500 104.6h0M499.2 79.5h0M497.7 102.1h0M497.3 99.7h0M499.2 101.7h0M499.3 109.7h0M497.6 78h0M496.6 103.7h0M497.8 121.5h0M498.5 117.5h0M497.6 112h0M499.3 108.7h0M498.2 111.3h0M497.3 110h0M498.5 106.7h0M497 92.3h0M499.1 118.3h0M500.1 120.2h0M497.4 111.7h0M497.2 102.3h0M498.6 107.3h0M497.4 122.4h0M496.9 117.6h0M498.4 87.9h0M497.2 104.8h0M499 102h0M498.4 89.4h0M497.3 104.5h0M499.9 86h0M498.5 92.3h0M499.4 100h0M499.4 114.4h0M497.4 101.5h0M497.3 105.4h0M497.6 115.6h0M498.4 117h0M499.2 100.3h0M497 99.4h0M497.5 120.1h0M496.6 124.4h0M499.5 85.4h0M499.9 87.6h0M498.7 98.3h0M498.7 98h0M498.1 112.2h0M497.7 131h0M497.9 91.2h0M496.5 98.5h0M497.4 105.2h0M498.3 125.2h0M497.8 123h0M498.8 109.6h0M497.1 90.7h0M497.9 116h0M499.9 109.3h0M497.3 96.2h0M500.2 115.6h0M496.5 82h0M500.1 94.6h0M500.1 112.9h0M499.9 98.8h0M500.2 90.3h0M500.1 97.9h0M498.4 121h0M499.5 91.4h0M497.2 83.7h0M499.5 97.4h0M497.1 93.8h0M499.7 100.1h0M499.3 125.3h0M499 94.5h0M499.4 95.6h0M497.7 85h0M499.5 94.8h0M499.9 101h0M498.9 104.1h0M499 97.4h0M497.4 96.3h0M498 120h0M499.1 95.4h0M498.7 116.5h0M498.5 105.4h0M497 103.3h0M496.6 92.1h0M498.3 107.2h0M499.5 119.9h0M500.2 124.3h0M497 113.3h0M500.1 95.7h0M497.5 100.2h0M500.1 128.4h0M498 91.3h0M499.5 110h0M498.6 111.3h0M498.9 89.4h0M496.7 120.2h0M497 114.4h0M499.9 93.7h0M496.7 120.2h0M498.8 102.4h0M500 80.4h0M498.9 98.3h0M498.6 129.5h0M499.1 91.8h0M499.4 94.7h0M497.6 94.6h0M496.9 113.7h0M497.6 100.2h0M498.8 99.1h0M497.3 103.1h0M497.8 105.6h0M498.2 111.2h0M497.8 90.6h0M498.9 95.4h0M500 89.9h0M498.5 102.6h0M499.5 107.7h0M497.4 111.9h0M499.8 85.4h0M499.7 115.8h0M496.9 114.9h0M496.6 105h0M498 90.6h0M497.4 88.9h0M496.5 108.9h0M497.1 106h0M499.5 88.3h0M498.3 89.9h0M498.9 91.2h0M498.3 85.1h0M496.9 109.7h0M500.1 77.9h0M500 101.5h0M498.2 101h0M500.1 98.9h0M499 105.3h0M498.1 86.8h0M496.9 101.4h0M500.2 103.8h0M496.6 101.1h0M498 118.6h0M497.7 94.8h0M499.2 101h0M497.9 93.2h0M496.7 94.1h0M497.9 104.8h0M496.6 100h0M498.7 81.2h0M500 107.9h0M499 106.4h0M500 84.8h0M498.6 128.1h0M498.6 99.1h0M498.6 100.2h0M496.6 104.5h0M497.7 122.4h0M498.2 121.5h0M498.5 110.7h0M499.8 98.3h0M499.1 111.8h0M497.7 101.4h0M500.1 116.9h0M498.8 86.5h0M496.8 100.2h0M498.4 112.1h0M497.6 77.1h0M498 90.5h0M498.8 97.2h0M499.6 82.8h0M499.2 108.8h0M500 117.9h0M498.6 104h0M496.9 83.1h0M498.7 93.2h0M499.7 105.2h0M497.7 97.9h0M500.1 96.8h0M496.8 103.3h0M498.8 124.2h0M497.3 98.3h0M498.7 116.2h0M497.4 105.9h0M498.5 102.8h0M497.2 113h0M499.9 106.7h0M499.9 116.6h0M498.4 78h0M497.1 108.2h0M498.5 97.5h0M497.3 114.6h0M499.9 98.2h0M499.6 97.4h0M497 95.8h0M497 93.5h0M498.9 100.1h0M497.4 119h0M497 89.7h0M497.1 86.2h0M496.6 114.7h0M499.7 110.2h0M497 95.1h0M496.8 111h0M497.5 85.9h0M496.6 97.5h0M499.4 129.8h0M499.3 97.4h0M498.5 106.5h0M500.1 83.5h0M499.9 104.4h0M498.6 118.6h0M497.1 98.7h0M499.3 129.8h0M496.5 85.6h0M500 85.9h0M499.4 78.7h0M499 104.6h0M497 118.6h0M499.5 112.8h0M499.4 88.9h0M500 92.8h0M498.1 105.2h0M497.9 93.3h0M516.9 132.4h0M514.6 81.6h0M516.7 126h0M515.6 99.5h0M517.8 115.3h0M515 109.1h0M516.5 117.6h0M515.9 112.1h0M516 105.9h0M516.5 107.6h0M515.7 117.6h0M517.1 100.6h0M516.5 123.2h0M515.1 100.3h0M515 125.5h0M516.6 100.3h0M516.2 88.9h0M514.8 104.2h0M515.8 121h0M517.6 107.1h0M515.7 119.6h0M515.3 95.9h0M516.5 100.4h0M514.4 97.7h0M515.5 104h0M517.6 84.9h0M514.3 119.9h0M514.7 109.9h0M515.5 121.2h0M515 99.6h0M514.3 96.1h0M516.1 89.1h0M516.4 97.4h0M514.3 107.9h0M516.9 114.4h0M516.2 115.6h0M516.5 94.1h0M515.1 123h0M516.5 95.5h0M517.9 86.8h0M517.5 104.4h0M515.6 114h0M514.3 116.8h0M515.5 103.2h0M517 106.3h0M515.7 100.9h0M516.5 96.8h0M516.7 108.6h0M515.8 108h0M515 112.2h0M517 106.9h0M515.9 84.2h0M516.1 105.7h0M515.5 117h0M516.2 114.9h0M516.4 112.6h0M517.3 95.7h0M516.8 123.7h0M516.2 100.9h0M517.3 100.8h0M517 92.8h0M517.1 124.5h0M514.6 126.8h0M517.6 100.5h0M515.9 127.6h0M515.2 113h0M517 111.7h0M514.8 93.5h0M516.5 119.8h0M514.4 118.4h0M516.7 116.3h0M517.1 104h0M516.9 106.3h0M516.2 96.7h0M517.1 116.8h0M515 129.1h0M515.9 91.6h0M516.3 119.9h0M515.2 108.7h0M517.6 120.6h0M517.6 100.2h0M516.3 123.2h0M514.3 121.6h0M515.4 87h0M516.9 103.9h0M516.1 116h0M516.8 113.3h0M516.3 104h0M517.1 98.3h0M517.4 111.2h0M517.7 92h0M516 130.8h0M516.9 111.1h0M517.3 119h0M515.1 124.5h0M517.7 110.8h0M514.6 112.1h0M515.9 91.4h0M514.5 91.2h0M517.5 111.4h0M516.9 119.7h0M514.4 117.1h0M515.4 110.6h0M516.8 82.4h0M515 96.4h0M514.9 101.2h0M515.3 132h0M515.6 93.6h0M516.1 112h0M515.1 112.7h0M515.3 112.5h0M517.6 102.9h0M514.4 94.9h0M514.9 121.2h0M515 106.5h0M516 112.1h0M516.6 130.5h0M516 99.2h0M517.7 101.6h0M516 99.9h0M514.6 126.7h0M514.6 125h0M516.4 107.9h0M514.5 100h0M517 92.1h0M516.8 105.2h0M515.1 111.9h0M517.8 112.5h0M517.8 98.9h0M515.5 98.4h0M514.7 112.3h0M515.9 112.4h0M515.3 96.6h0M517.2 119.4h0M514.7 121.7h0M516 120.8h0M515.7 120.7h0M517.2 96.6h0M515.7 124.2h0M514.6 95.2h0M514.3 113.6h0M515.8 110.2h0M515.6 112.8h0M515.7 106.3h0M516.9 105.5h0M515.5 112.7h0M516.1 127h0M514.6 101.7h0M514.2 112h0M515.7 108.3h0M516.7 105.6h0M515.4 95.9h0M517.7 110.1h0M514.5 83.3h0M514.6 102.9h0M515.1 113.2h0M515 117.3h0M514.6 123h0M514.8 100.9h0M517.8 93.8h0M515.4 83.7h0M517.5 96.3h0M517.5 93.3h0M515.8 131.4h0M517.1 110.9h0M517 103.3h0M516.5 105.8h0M516.3 117.8h0M516.4 113.2h0M514.5 109.7h0M516.5 97.5h0M516.4 108h0M517.5 123.7h0M517 97.4h0M516 93.8h0M516.5 109.5h0M515.2 109.2h0M515.1 111.3h0M514.8 96h0M516.4 118.2h0M515.3 109.1h0M515 94.2h0M516.9 88.7h0M517.5 96.5h0M514.7 99h0M517.8 105.3h0M515.5 119.7h0M515.8 114.6h0M516.7 117.5h0M517.6 112.4h0M517.3 113.4h0M517.3 116.3h0M516.5 89.3h0M516.5 114.1h0M514.2 125h0M516.2 104.7h0M514.4 99.8h0M517.5 132.1h0M515.2 120h0M516.6 109.3h0M514.4 105.7h0M517.2 98.9h0M514.9 111.2h0M514.4 114.4h0M515.3 112.6h0M516.7 112.2h0M516.4 107.9h0M515.3 117.7h0M515.7 131h0M514.2 101h0M514.9 162h0M533.1 129.1h0M533.8 85.1h0M533 105.2h0M532.9 110.3h0M533.5 124.9h0M534.3 113.3h0M534 126.1h0M532.2 112h0M534.6 108.8h0M533.6 114.3h0M532.2 95.2h0M533.3 101.9h0M535.3 115.7h0M534.5 101.4h0M535.3 103.2h0M533 115.1h0M532.3 93.8h0M532.1 117.1h0M532.6 122.1h0M535.2 104.4h0M532 88.8h0M534.4 93.1h0M532 117.6h0M531.9 102h0M535.4 128.4h0M534.7 97.3h0M535.1 112.3h0M532.9 123.6h0M532.4 104.1h0M534.9 109.9h0M534.7 118.7h0M532.8 93.3h0M534.5 116.2h0M534.2 101.4h0M532 113h0M535.5 110.7h0M532.5 107.4h0M534.2 118.5h0M533 116h0M533.7 121.7h0M534.8 117.9h0M532.4 112.4h0M532.9 114.7h0M533.5 93.7h0M533.1 112.2h0M534.3 124.3h0M535 116.6h0M534.9 125.7h0M534.2 120h0M533.9 119.3h0M534.3 112.6h0M532.9 106.5h0M534.5 101.8h0M532.5 117.4h0M535.3 103.9h0M534.7 123.2h0M534.6 115.1h0M533.6 117h0M534.1 99.1h0M533.6 123.1h0M534.3 110h0M532.2 107.1h0M533.8 117h0M533.4 125.9h0M535.1 112h0M532.2 119.6h0M535.1 100.4h0M535.4 106h0M535.4 107.3h0M532.9 117.1h0M533 115.9h0M532.5 118.6h0M534.8 109.9h0M534.5 112.6h0M532.7 117.4h0M534.5 116h0M532.8 113.3h0M534.8 122.3h0M532.1 92.8h0M535.1 123.8h0M533.4 106.7h0M535.2 116.7h0M533.8 117.4h0M532.3 122.6h0M534.7 97.7h0M534.5 112.6h0M532 121.2h0M532.4 120.7h0M532.4 103.4h0M533.4 105.1h0M533.9 127.6h0M534.1 119.6h0M535.3 126.1h0M533.6 101.6h0M533.9 126.4h0M534.4 119h0M535.4 101h0M535.3 115.1h0M533.8 113.7h0M533.3 109.1h0M532.3 107.6h0M532.5 121.8h0M532.6 107.5h0M533.6 114.5h0M534.1 127.6h0M532.3 104.1h0M533.8 106.9h0M535.1 95.9h0M535.1 95.4h0M535.1 122.4h0M535 107.9h0M533.6 97.9h0M533.7 118.2h0M532.2 101.6h0M535.5 86.2h0M533.4 98.2h0M531.9 128h0M535.1 117.6h0M534.6 113.3h0M534.3 114.5h0M532.7 114.8h0M532.1 105.6h0M534 116.2h0M532.7 90h0M533.9 111.3h0M534.5 113.4h0M533.2 111.5h0M534.9 114h0M535.1 108.6h0M535.5 96.4h0M532 101.7h0M533.7 110.2h0M534.6 114.3h0M533.1 106.2h0M534.6 118.9h0M532.4 98.8h0M533.7 124.5h0M535.6 123.5h0M533.3 109h0M532.2 115.1h0M533.9 109.1h0M532.5 121.7h0M533.8 118.3h0M535.2 97.9h0M535.5 105.3h0M534.5 111.5h0M534.5 98.4h0M533.4 117h0M534.3 116.2h0M533.9 112.9h0M533.4 109.1h0M533.1 115h0M533.6 126.8h0M531.9 96.9h0M534.6 112.1h0M534.1 118.1h0M533.1 103.7h0M534.6 120.1h0M534.6 119.5h0M533.6 98.9h0M533.9 104.7h0M532.2 101.5h0M532 115.2h0M534.9 127.2h0M532.9 87.6h0M552 113.2h0M550 69h0M552.7 75.8h0M551.1 94.6h0M550.4 76.6h0M551.8 101.8h0M552.7 89.7h0M551.9 91.9h0M549.9 95.9h0M552 71.1h0M550.9 99.7h0M552.9 83.6h0M552.9 73.9h0M552.6 82.5h0M551.9 111.7h0M552.6 103h0M550.8 95.1h0M551.9 95.8h0M553.2 89h0M550 93.6h0M552.4 91.3h0M551.8 102.7h0M549.8 90.1h0M552.5 77.4h0M552.3 90.7h0M550.4 102.1h0M553.2 81h0M552.2 73.9h0M552.5 107.7h0M551.4 101.6h0M550.1 81.2h0M550.6 99h0M552.5 93.3h0M552.8 83h0M550.7 76.9h0M552.6 99.7h0M550 93.2h0M550.8 75.7h0M552.5 108.1h0M552.2 95.2h0M550.2 77.3h0M553.2 105.9h0M552 76.4h0M552.6 100.5h0M553.2 92.3h0M552.7 88.6h0M551.8 88h0M550.7 78.2h0M551 91.6h0M552.7 104.7h0M553.2 84.5h0M553.1 99.3h0M551.9 104h0M550.7 93.2h0M551.4 84.8h0M552.2 104.2h0M550.2 101.9h0M551.9 89.5h0M549.8 79.9h0M550.8 95h0M551.5 87.4h0M553 73.4h0M552.7 93.7h0M551.5 101.7h0M550.3 78.9h0M551.3 87.2h0M550.5 87.6h0M553.2 96.2h0M549.6 84.8h0M551.2 108.7h0M550.6 92.5h0M551.6 101.6h0M551.8 97.9h0M551.3 86h0M549.6 100.2h0M553.1 80.5h0M550.7 72.5h0M551.2 96.4h0M551.2 91.9h0M550.6 93.7h0M550.6 95.6h0M550 87.7h0M553 102.5h0M552.3 108.2h0M551 100h0M552.9 107.8h0M549.7 96.3h0M552.1 85.7h0M552.4 89.6h0M552.9 96.4h0M552.1 96.3h0M550 99.2h0M552.1 94.7h0M551.2 85.2h0M551.1 90h0M552.3 100.5h0M552 103.8h0M551.3 86.5h0M550.3 81.5h0M552.9 78.9h0M551.5 101.7h0M550.6 75.1h0M551.2 101.6h0M552 83.5h0M550.6 96.7h0M551.3 93h0M552.2 86.1h0M552 79.4h0M551.5 79.4h0M552 97.5h0M550.8 87.4h0M553.2 94.4h0M553.2 83.5h0M552.7 101.9h0M552.1 82h0M549.8 78.3h0M550.9 94.7h0M550.6 72.5h0M553 95h0M551.9 104h0M552 97.1h0M551.8 83.4h0M553.3 80.6h0M551.5 92.3h0M550.4 91.6h0M553.2 94.9h0M550.6 89.3h0M552 104.1h0M551.6 91.1h0M553.1 74.9h0M552.4 73.2h0M553.2 101.1h0M552.5 89h0M551.9 95.5h0M550.1 95.6h0M550.2 104.4h0M550.9 86.5h0M550.9 88.5h0M550.2 87.3h0M552 79h0M552.9 73.4h0M551.6 106.3h0M552.4 107.9h0M550.9 103.2h0M551 100.3h0M551.9 101h0M550.1 88.8h0M552.2 98.5h0M552.1 92.3h0M550.8 79.8h0M553 95.7h0M552.6 88.6h0M552.2 69.7h0M551.3 85.9h0M551.7 95.8h0M551.9 73.8h0M553.3 107.3h0M551.9 101.3h0M550.5 94.4h0M552.7 75.3h0M551.8 90.5h0M551.2 97.7h0M551.8 103.7h0M551.3 110.2h0M551 98h0M551.5 107.3h0M552.7 81.1h0M552.9 95.5h0M553 76.8h0M552 92.7h0M549.6 92.3h0M552.7 70.1h0M549.6 91.5h0M552.8 100.1h0M551.1 98.5h0M551.3 91.1h0M551 90.4h0M552.4 109.2h0M552.6 95h0M553 99.4h0M550.7 82.3h0M553.3 81.3h0M551 99.8h0M551.6 89.4h0M551.7 78h0M550.2 99.9h0M551.6 106.3h0M550.7 83h0M550.3 86h0M549.7 73.4h0M551.8 81.6h0M549.8 81.1h0M552.2 98.4h0M552 100.4h0M552.2 98.9h0M550.8 96.9h0M552.7 97.3h0M552.9 89.8h0M552.1 71.3h0M550.5 99h0M552.9 83.7h0M551.4 101.6h0M550.7 93.1h0M550.7 84.7h0M550.9 85.3h0M551.3 99h0M552.7 84.9h0M550.4 72.2h0M551.4 86.9h0M550 86.9h0M550.1 95.9h0M551.3 93.5h0M551 108.5h0M550.7 89.9h0M552.7 111.5h0M549.6 99.1h0M549.8 84.8h0M549.8 83.6h0M549.6 107.4h0M550.8 103.1h0M550.5 88.1h0M552.3 96.6h0M550.8 95.7h0M550 81.8h0M551.4 80.7h0M553.1 106.5h0M551.5 101.9h0M550.2 74.1h0M552.5 82.9h0M549.9 83.2h0M550.5 88.7h0M552.3 85h0M552.2 91.3h0M551.5 102h0M551.1 106.5h0M549.8 75.2h0M551.4 106.9h0M551.2 85.8h0M550.1 96.7h0M552.3 98.6h0M550.5 93.5h0M550.5 96.1h0M550.7 99h0M551.6 74.2h0M551.5 101.6h0M552.3 86.9h0M551.1 96.4h0M551.1 110h0M551.1 101.7h0M549.6 95.8h0M552.9 105.1h0M550.7 85.4h0M552.4 96.8h0M552.4 97.5h0M552.7 102.5h0M552.2 92.1h0M552.8 82.7h0M550.6 95.2h0M552.1 85.7h0M550.2 87.7h0M553.3 162h0M570.1 160.7h0M569.3 85.1h0M570.7 129.6h0M567.7 140.6h0M568.6 108.2h0M567.6 135.9h0M568.4 132.1h0M569 100.4h0M568.9 152.4h0M568.5 99.3h0M570 127h0M570.7 93.5h0M569.4 144.4h0M569 145.5h0M570.2 147.1h0M569.5 143.7h0M569.5 146.7h0M568.2 119.2h0M569.3 99.9h0M569.8 149.7h0M567.7 124.8h0M569.4 91.3h0M569.5 119.7h0M569.4 91.8h0M569.8 103.4h0M570.7 160.3h0M570.8 137.2h0M570.7 95.5h0M570.3 131.8h0M567.9 97.2h0M569.9 118.4h0M569.9 157.6h0M569.2 144.1h0M568.9 151.1h0M568.7 126.5h0M568.7 99.2h0M568.8 122.4h0M568 160h0M570.3 98.6h0M569.4 160.2h0M570.9 93.1h0M569.2 111.6h0M570.8 130.5h0M570.8 134.2h0M567.6 139.7h0M569.2 131.1h0M569.6 121.9h0M570.6 86.2h0M568.8 142.4h0M570.1 98.2h0M568.2 93.8h0M568.6 112.7h0M568.8 92.9h0M569.5 113.4h0M568.2 94.8h0M567.9 151.9h0M567.4 129.6h0M567.9 104.8h0M570.5 90.7h0M570.4 145.3h0M568.4 113.9h0M568.9 124.5h0M568.8 140.5h0M569.3 122.8h0M568.1 121.7h0M567.4 153.9h0M569.3 107.6h0M570.8 117h0M570.3 110.3h0M569.5 143h0M567.7 158.8h0M568.8 119.9h0M569.1 85.6h0M570.9 116.5h0M569.6 143.4h0M569.9 110.3h0M569 158.2h0M570 151.8h0M567.9 153.1h0M570.9 146.8h0M570.8 90.8h0M569.8 116.5h0M568.8 109.5h0M570.4 130.6h0M567.3 154.7h0M568.2 112.3h0M569.5 136.5h0M570.3 145.4h0M568.3 155.8h0M569.8 92.8h0M570.6 104.7h0M570.2 132.8h0M569.2 144.4h0M570.2 86.7h0M570.5 87.9h0M569 119.3h0M568.1 129.9h0M568.5 98.4h0M568.6 117.6h0M570.8 134.7h0M567.3 87.2h0M569.6 91h0M567.9 140.9h0M567.9 86.8h0M568.6 96.4h0M568.8 86h0M570.1 88.4h0M568.2 137.4h0M569.8 100.2h0M567.4 146.5h0M568.5 147.2h0M568.4 141.5h0M567.8 137.9h0M569.2 135.9h0M568.5 96.9h0M568.3 112.7h0M568.3 159.5h0M570.1 98.5h0M568.7 148.3h0M569.8 101.4h0M569.9 141.8h0M570.3 88.3h0M570.3 112.3h0M569.8 114.1h0M569.2 139.7h0M568.5 96.3h0M570.8 154.9h0M567.6 98.2h0M567.6 118.3h0M567.6 129.8h0M568.7 130.2h0M570.5 158.9h0M570.7 123.5h0M569.8 124.7h0M570.7 132.6h0M568.1 145.5h0M569.3 116.7h0M568.5 126.5h0M569.3 144.4h0M570.5 143.4h0M567.9 147.6h0M569.2 158.9h0M567.6 106.5h0M567.7 146.9h0M568.5 109.3h0M569.1 132.2h0M567.4 152.9h0M570.3 144.3h0M567.3 106h0M570.1 136.2h0M568.4 118.2h0M568.6 154.3h0M570.3 88.8h0M567.4 126.2h0M569 100h0M567.8 144h0M570 89.6h0M570 143.1h0M568 108.9h0M570.2 92.8h0M567.8 112.9h0M567.8 152.4h0M567.9 95h0M568.8 101.5h0M570.7 109.3h0M568.3 113.8h0M568.9 156.6h0M569.2 137.9h0M570.4 135.6h0M568 143.1h0M568.5 100h0M567.8 151.1h0M570.7 140.9h0M570 147.5h0M569.1 147.6h0M568.6 94.6h0M569.4 157.8h0M568.6 157.2h0M568.6 102.5h0M569.8 138.1h0M567.5 138.6h0M567.6 148.3h0M567.9 114.9h0M571 152.3h0M567.8 128.3h0M568.8 112.5h0M568.8 160.6h0M569 127.5h0M569.8 150.5h0M570 157.9h0M570.4 100.7h0M568 158.9h0M570.9 146.7h0M569.7 88.4h0M569.8 157.2h0M568.5 127.5h0M569.3 107.3h0M567.3 117.8h0M570.4 87.4h0M568.7 128.3h0M569.7 93.9h0M569.3 141h0M569.4 131.4h0M568.2 85.5h0M569.9 128.6h0M568 115.2h0M570.6 96.6h0M569 94.4h0M570.6 91.3h0M567.4 158.9h0M567.4 133.2h0M567.5 89.8h0M569.1 133h0M567.6 143.4h0M569.3 142h0M567.8 97h0M567.6 117.9h0M569.6 131.7h0M570.6 146.4h0M569.9 140.4h0M567.5 141.9h0M569.2 123.5h0M570.7 156.5h0M568 120.2h0M570.7 115.5h0M570.4 104h0M570.1 119.4h0M569.5 103.2h0M568.6 147.9h0M567.7 97.8h0M567.8 144.6h0M567.5 134.6h0M570.6 115.1h0M570 152.7h0M568.8 98.9h0M570.5 99.3h0M569.2 106.5h0M569.8 135.8h0M567.4 146.8h0M570.7 146.2h0M568.3 143.6h0M568.6 113h0M568.7 142.8h0M569 118h0M569.7 102.5h0M568.3 93.8h0M569.4 104.2h0M569 135.9h0M568.1 105.8h0M570.3 88.9h0M567.7 111.3h0M569.4 154.4h0M568.2 120.4h0M570.1 124.9h0M568.2 159.6h0M569.7 138.7h0M568.8 96.1h0M569.5 125h0M569.3 91h0M568.9 96.2h0M570 124.9h0M570.2 120.2h0M567.4 146.9h0M567.5 111.3h0M569.1 149.7h0M570.1 120.1h0M570 124.4h0M569.9 108h0M568.5 107.2h0M569.2 90.9h0M569.3 93.2h0M567.6 97.2h0M569.7 149.6h0M567.4 127.1h0M569.2 107.5h0M568.9 128.9h0M569.1 160.6h0M570.4 116.2h0M569.9 152.5h0M569.5 158.9h0M569 147.8h0M569.8 143.4h0M569.7 144h0M568.2 130h0M568.9 104.2h0M567.9 114.9h0M570.7 130.4h0M568.9 132.1h0M569.4 126h0M570.5 134.6h0M568.9 93.6h0M568.8 130.7h0M567.5 104.2h0M569 118.8h0M568.6 127.5h0M569.3 116h0M569.8 101.6h0M569.3 124.8h0M568.2 110.6h0M570.5 139.2h0M570 109.6h0M568 143.3h0M570.5 139.2h0M568.8 90.1h0M567.6 108.3h0M569.4 112.3h0M569.3 138h0M569.5 117.3h0M569.8 138.2h0M568.4 144.2h0M570.6 112.1h0M567.6 150.6h0M567.4 158.5h0M570 110.6h0M567.7 133.7h0M569.4 134.9h0M567.9 112.9h0M568.5 94.3h0M568.5 111.2h0M569.2 151.3h0M585 109.9h0M586 80.5h0M587.7 102.9h0M586.7 96.5h0M585.5 103.8h0M585.3 102.2h0M587.5 100.2h0M586.8 106.3h0M585 82.6h0M586.3 99.2h0M588.6 95h0M586.7 98.3h0M588.4 97.4h0M588.6 101.8h0M585.1 93.5h0M585.8 99.5h0M588.2 102.1h0M585.1 89.5h0M585.5 84.9h0M586.3 93.2h0M587.8 92.7h0M586.3 98.7h0M585.4 95.8h0M587.1 91.1h0M586.7 96.5h0M586.8 86.3h0M585.2 85.6h0M587.6 94.8h0M586.5 95h0M585.5 102h0M587.9 99.5h0M586.6 100.8h0M587.3 99h0M585.2 102.3h0M586 93.8h0M587.1 94.2h0M587.1 97.8h0M588.1 84h0M586.2 94.8h0M587.2 97.1h0M587.5 95.3h0M585.1 100.5h0M586 90.8h0M587.4 102.4h0M585 97h0M588 81.2h0M587 94.6h0M586.3 103.4h0M586.5 103.9h0M588 87.8h0M586 108.6h0M586.6 83.8h0M587.3 86.4h0M586.2 99.6h0M586.7 94.7h0M588.2 99.7h0M588 102.7h0M588.4 93.3h0M586.8 101.1h0M586.5 92h0M585.6 94.2h0M588.2 100.6h0M585 96.2h0M587.6 96.4h0M587.1 97.8h0M587.6 98.1h0M585 87.2h0M585.4 101.3h0M586.9 95.6h0M585.9 88.7h0M585.8 93.7h0M588.3 99.3h0M586.2 104h0M585.6 98.4h0M585.7 109.2h0M585.9 99.5h0M586.1 96.9h0M587.5 86.5h0M585.2 91.8h0M587.2 88.6h0M587.2 93.2h0M587.4 94.8h0M587.1 106.8h0M585 100.3h0M586.9 98.2h0M586.1 97.2h0M586.9 104.6h0M587.5 106.3h0M586.7 95.4h0M587.1 98.4h0M587 96.7h0M588.5 98.1h0M587.5 98.3h0M587.3 103.9h0M587 90h0M585.3 93.6h0M585.2 97h0M587.3 83.4h0M586.2 101.3h0M586.1 90.3h0M585.9 97.1h0M604.9 114.3h0M604.7 81.6h0M602.8 94.2h0M606.2 87.5h0M603.2 113.6h0M605.1 98.6h0M604.2 107.1h0M605.4 85.7h0M605.1 97.6h0M605.2 100.4h0M604.4 86.4h0M603.2 85.2h0M603.1 101.2h0M605.1 90.7h0M603.5 95.5h0M604.5 96.2h0M604.5 109.5h0M605.8 81.9h0M603.4 98.7h0M606.1 106.2h0M605.1 108.7h0M606.3 86.2h0M605 95.7h0M602.9 90.6h0M606.1 96.9h0M603.2 108.7h0M604.8 99.5h0M604.1 104.1h0M603.5 106.6h0M606.1 96.8h0M604.7 103.7h0M606.3 95.4h0M605.2 96.8h0M603.1 101.9h0M604.7 105h0M605.2 100h0M604.4 89.7h0M603.2 89.7h0M606 88.4h0M603.4 104.6h0M605.8 105h0M604 96.2h0M604.2 98.1h0M603.3 92.9h0M603.9 94.6h0M603.6 109.1h0M606 96.1h0M604.1 86.3h0M602.8 98.8h0M606 98.4h0M605.1 97.5h0M604.8 110.2h0M604.5 92.4h0M602.7 94.7h0M602.9 91.2h0M603.4 102.2h0M605.6 103.6h0M605.3 106.2h0M604.6 99.1h0M603.2 98.2h0M606.2 93.4h0M603.6 105.4h0M605.5 103.8h0M604.1 107h0M602.7 101.9h0M604.3 91.3h0M604.6 90.9h0M604.8 97.7h0M604.2 89.1h0M602.8 94.6h0M606 101.5h0M606 92.9h0M605.9 108h0M605.5 103.6h0M605.4 96.3h0M604.3 97.8h0M603.6 103.2h0M604.2 100.5h0" stroke="#80c4c2" stroke-width="2.4" stroke-linecap="round" fill="none"/>
<path d="M62.2 113.2h0M64.5 74.7h0M62.8 94h0M64.5 93.9h0M65.1 89.5h0M63 97h0M63 92.6h0M65.1 89.5h0M64.2 95.4h0M62.2 87.5h0M62 89.6h0M62.1 92.1h0M64.9 99.2h0M64.5 98.7h0M62.1 95.6h0M64.6 85.9h0M65.2 98.4h0M64 91.4h0M62.8 76.4h0M63.6 105.4h0M62 92.9h0M61.6 91.3h0M65.1 93h0M64 99.3h0M63.5 88.7h0M65 92.5h0M63.2 100.1h0M64.8 91.8h0M64.6 100.4h0M62.3 96.3h0M62.5 97.4h0M62.6 96h0M62.4 99.8h0M63.7 85h0M62.5 105.8h0M63.1 96h0M62 85.6h0M64.9 86.6h0M62.9 80h0M63.2 110.5h0M63.7 98.6h0M64.9 98.5h0M63.1 89h0M64.9 84.1h0M63.4 84.2h0M63.5 108.3h0M63.5 88.4h0M61.6 108.7h0M63.2 93.6h0M62.2 83.1h0M61.6 96.8h0M64.5 93.5h0M62.2 87.2h0M63.3 94h0M64.2 96.2h0M63.6 79.6h0M62.8 84.6h0M63.5 98h0M63.6 105.6h0M64.5 86h0M61.9 97.8h0M63.6 94.1h0M62.5 88.1h0M62.6 93.1h0M64.4 88.8h0M63.4 109h0M63.6 108.8h0M64.4 89.1h0M64.9 104h0M63.2 104.5h0M63.8 108.5h0M63.4 82.3h0M63.4 87.7h0M64.1 80.2h0M63.2 103.8h0M63.5 95.4h0M63.3 105.6h0M65 128.7h0M64.1 129.6h0M64.8 73.6h0M80.9 117.6h0M81.3 56.6h0M79.4 104h0M82.1 73.2h0M80.1 106.9h0M82.6 108.9h0M81.6 61.7h0M80.4 74h0M79.7 59.7h0M80.2 77.1h0M81.6 102.6h0M81.8 86.5h0M79.7 101h0M79.5 91.8h0M81.2 82h0M81.4 100.7h0M80.7 92.7h0M80.1 83.1h0M81.5 84.5h0M79.3 80h0M80.4 87.4h0M80.9 95.3h0M82.8 77.4h0M81.6 90.1h0M82.5 102h0M81 99.3h0M80.1 91h0M80.2 92.5h0M82.8 88.3h0M81.8 91h0M80.4 88h0M79.3 92.8h0M81.1 107.8h0M81.7 83.8h0M80.8 72.9h0M80.2 83.5h0M81.7 93.5h0M82.7 83.3h0M80.1 103.9h0M79.4 116.2h0M80.5 90h0M80.8 103.4h0M81.8 78.3h0M80 105.4h0M82.2 104.8h0M82 63.9h0M81.1 96.1h0M80 109.2h0M82.8 101.2h0M80.4 82h0M82.3 82.5h0M80.1 88h0M80.1 65.5h0M82.1 78.8h0M80.3 91.3h0M82.8 80.7h0M81.1 62.5h0M79.9 74.3h0M80.1 73.4h0M80.8 105.4h0M81.7 93h0M82.8 78.4h0M79.8 94.9h0M80.7 72.6h0M80 80.7h0M82.8 75.4h0M79.8 93.8h0M79.4 69.7h0M79.5 93.9h0M80.7 89.4h0M82.6 95.6h0M82.5 76h0M82 74.1h0M82.9 90.9h0M82.7 106.5h0M80.5 87.8h0M79.9 84.8h0M82.7 71.6h0M82 77.5h0M79.4 90.6h0M81.7 76.3h0M80.6 81.7h0M80.6 87.5h0M80.5 90h0M79.9 94.2h0M79.3 79.2h0M80.3 105h0M80.5 99.4h0M82.8 90.9h0M79.7 110.5h0M82.8 96.8h0M80 100.1h0M80.6 81.2h0M82.3 81.3h0M82.3 91.7h0M80.8 94.1h0M79.4 109.9h0M81 59.6h0M80.6 82.1h0M82.6 72.2h0M80 102.7h0M80.6 93.5h0M82.6 115.2h0M79.4 77.6h0M80.8 74.9h0M82.2 116.3h0M82.1 91.7h0M79.4 80.2h0M79.4 114.5h0M79.5 115.3h0M82.6 105.2h0M80.2 99.4h0M82 109.7h0M82.6 90.5h0M80.5 86.7h0M80.2 80.1h0M82.8 78.9h0M81.5 65.2h0M80.2 71h0M81.9 108.5h0M80.4 97.7h0M80.3 105.1h0M79.3 105.3h0M82 92.1h0M82.6 90.9h0M81.6 82.6h0M82.7 112.1h0M79.3 107.5h0M80.1 91.3h0M81 93.7h0M82.8 95.1h0M82.8 91.8h0M80.7 101.1h0M80.2 78.9h0M80.8 84.9h0M81.1 92.2h0M82.7 99.9h0M79.9 93.3h0M82.2 104.1h0M82 90.4h0M82.3 111h0M82.1 87.6h0M81.5 88.5h0M80.5 109.3h0M80.4 94.3h0M80.6 95.2h0M82.1 83.1h0M79.5 80.5h0M80 91.5h0M82 102.3h0M80.2 92.9h0M79.5 91.9h0M79.4 78.4h0M81.3 85.9h0M80.4 100.6h0M82.9 109h0M82.5 96h0M82.9 100.9h0M80.2 105.8h0M79.6 92.5h0M79.6 97.5h0M81.1 89.2h0M81.9 82h0M80.9 96.5h0M80.1 95.3h0M80.8 72.1h0M81.5 88.9h0M81.7 71.8h0M82 101h0M82.4 86.8h0M81.7 80.6h0M79.7 85.5h0M82.4 69h0M80.3 77.8h0M81.3 74.7h0M80.6 82.2h0M82 93.1h0M80 82.2h0M80.2 105.4h0M80.1 70.7h0M79.8 104.5h0M82.5 86.7h0M81.4 94h0M80.4 90.7h0M80.7 71h0M82.9 90.5h0M81.1 101.8h0M80.1 86.6h0M82.2 81h0M81.7 78.8h0M82.9 101.3h0M79.6 60.9h0M81 62.3h0M82.3 90.7h0M82.4 86.4h0M82.6 96.7h0M79.4 66.7h0M80.3 100.4h0M79.7 79.4h0M79.9 97.4h0M82.8 100.2h0M81.4 78.6h0M82.7 68.1h0M80.6 91.1h0M82.4 100h0M80.9 77h0M80.2 91.7h0M82.1 85.7h0M82.7 64.8h0M79.6 71.5h0M81.4 97.9h0M81.5 90.9h0M80 77.5h0M80.6 99.6h0M79.8 91.6h0M80 114.3h0M80.2 60.3h0M81.5 67.5h0M81.7 107.2h0M80 111h0M79.3 112.6h0M80.5 70.8h0M81.7 97.1h0M79.9 91.8h0M80.4 95.2h0M80 92.6h0M82.2 105.5h0M81.3 90.6h0M79.5 110.1h0M79.6 91.9h0M80.7 85.7h0M81.3 83h0M81.6 94.1h0M79.6 103h0M79.8 88.3h0M81.8 97.5h0M80.8 64.1h0M80.3 77.8h0M80.4 92.5h0M82.8 97.3h0M80.4 100.4h0M81.3 103.5h0M80.6 95.7h0M80.8 85.9h0M82.4 82.1h0M82.9 81.2h0M80.6 100.4h0M80 90.8h0M81.9 115.9h0M80 97.9h0M79.3 88.1h0M82.6 88.3h0M80.8 84h0M82.3 94.2h0M80.7 84.7h0M82.5 90.1h0M80.9 77.7h0M79.8 116.2h0M79.3 102.8h0M81.3 91h0M81.6 104.7h0M82.6 104.9h0M79.6 80.2h0M81.5 99.7h0M80.6 80.1h0M81.1 78.2h0M79.8 85.7h0M80.3 82.3h0M81.2 92.4h0M82.7 109.8h0M79.6 91.4h0M81.1 83.2h0M82.2 98h0M82.8 92.3h0M80 78.1h0M79.7 102.7h0M82.7 80h0M82.8 59h0M81 98.4h0M79.4 88.5h0M82.7 93h0M80.7 64.5h0M82.6 85.6h0M81.5 75.6h0M82.3 100.2h0M79.8 91.2h0M82.1 91.1h0M80.1 114.6h0M80.7 66.2h0M82.4 75.5h0M82.3 114.3h0M79.9 78.2h0M80 92.7h0M80.7 83.3h0M81.2 84.7h0M80.7 111h0M79.7 93.8h0M80.2 65.3h0M81.9 98.7h0M82.6 104.6h0M79.4 132.4h0M81.3 131.5h0M82 155.5h0M79.4 22h0M97.9 130.6h0M97.7 58.5h0M98.3 103.1h0M100.6 92.9h0M100.6 86.3h0M100.4 79.3h0M97.3 94.6h0M98 86.9h0M100.2 99h0M97.1 85.5h0M99.6 112.6h0M98 86.2h0M100.6 129.1h0M97 97.8h0M99.9 59.7h0M98.2 86h0M97.4 114.5h0M96.9 83.4h0M100 108.2h0M98.9 123h0M97.6 103.1h0M98.5 76.6h0M100.3 81.6h0M97.7 89.2h0M99 107.2h0M97.4 110.5h0M97.6 67.8h0M99.8 83.6h0M99.6 107.8h0M97.7 116.9h0M97.2 112.1h0M97.3 88.8h0M99.2 84.1h0M98.8 90.5h0M97.9 93.2h0M97.7 116.9h0M99.2 110h0M99.5 62.9h0M99.9 103.5h0M99.1 75h0M97.7 123.9h0M97.2 93.1h0M99.6 83.4h0M98.4 72.3h0M99.6 111.5h0M97.1 78.6h0M99.9 81.6h0M98.2 103.1h0M100 80.3h0M100.1 106.6h0M98.8 104.4h0M97 87.5h0M100.3 89.5h0M98.7 108.8h0M100.2 118.9h0M97.9 96.4h0M97.6 76.2h0M100 95.9h0M98.3 69h0M97.5 112.3h0M98.3 115.6h0M99.1 64.9h0M96.9 81.4h0M98.9 73.6h0M98.6 105.1h0M98.8 75.6h0M97.4 83.4h0M99.6 77.8h0M100 86.8h0M100.1 69.8h0M98.1 101.2h0M99.6 108.1h0M98.3 119.2h0M99.7 70.5h0M97.2 103.2h0M100.2 109.8h0M100.5 107.5h0M98.8 96.8h0M98.8 114.7h0M98.9 93.4h0M98.9 100.7h0M97 99.1h0M100.5 108h0M97.8 86.6h0M97.6 97.1h0M97.3 85.5h0M97.9 83.5h0M100 82.2h0M97 98.8h0M97.3 104.4h0M99.5 76h0M97.7 121.4h0M97 102.6h0M99.1 93.5h0M99.1 94.4h0M98.9 72.9h0M99.5 96.7h0M97.3 73.3h0M100.1 119h0M99.6 126.5h0M97.1 69.6h0M97.4 80.9h0M98.8 80.1h0M98.8 85.4h0M98 80.2h0M97.4 113.5h0M98.4 73.5h0M97.4 98.7h0M99.1 73h0M100.1 85.9h0M97.5 130h0M99 115.1h0M99.7 71h0M97.5 90.1h0M100 95.7h0M100.4 83.6h0M98.4 96.4h0M98.5 98.9h0M100 85.6h0M98.9 85h0M98.4 65.4h0M100.4 86.5h0M99.8 60.2h0M98.2 61.3h0M97.8 62.5h0M98.2 71.9h0M98.5 85.2h0M100.6 85.1h0M99.9 90.2h0M100.3 103h0M99.9 88.6h0M100.1 101h0M97.1 63.6h0M98.8 79.5h0M100.5 96.8h0M100.4 128.7h0M97.9 88.3h0M98.5 96.2h0M99.3 110.7h0M98.3 111.8h0M98.9 79h0M97.2 88.5h0M98.5 87.8h0M98.8 90.3h0M97 66.4h0M97.4 85.2h0M100.5 84.7h0M99.8 95.2h0M100.4 100.3h0M99.3 65.6h0M99.9 72.8h0M100.2 62.5h0M100.2 94.7h0M97.1 86.7h0M99.3 106.3h0M97.9 73.3h0M99.4 117.4h0M97.9 79h0M98.9 71.4h0M100.4 66.9h0M99.2 107.5h0M97.9 71.5h0M98.9 102.6h0M98.5 103.6h0M100.4 115.9h0M98 70.6h0M98.1 63.5h0M99.3 100h0M97.4 103.6h0M99.1 94.5h0M100.5 72.7h0M98.8 98.9h0M97.9 126.1h0M98.7 101.7h0M98.9 70.1h0M97.5 60.4h0M97.4 92.9h0M97.4 102.1h0M98 98.2h0M98.4 128.1h0M98 74.1h0M97.8 110.7h0M97.3 71.9h0M99 124.2h0M100 114.7h0M99.2 83h0M99 103.7h0M99.3 75.9h0M97.7 87h0M99.6 112.6h0M98.6 78.2h0M99 75.1h0M99.2 128.7h0M98.7 60.9h0M98.1 80h0M97.8 76.2h0M97.7 127.5h0M98.8 102.8h0M98.3 94.7h0M99.1 71.7h0M97 118.8h0M98.2 106.3h0M100.1 92.4h0M97.8 82.2h0M99 123.7h0M98.7 100h0M98 79.8h0M100.6 64.4h0M98 77.6h0M99.8 93.7h0M97.5 112.7h0M97.2 107.5h0M100.2 101.5h0M98.6 85h0M97.2 88.2h0M98.4 63.2h0M98.6 83h0M99.7 110.4h0M97.3 65h0M97.8 73.5h0M100.5 85.7h0M99.7 102.8h0M97.5 127.8h0M98.2 109.3h0M98.2 74.1h0M99.4 104.6h0M99.2 115.8h0M100.1 84.3h0M100 83.6h0M98.8 78.4h0M99.7 77.7h0M99.7 66.9h0M99.7 105.4h0M98.7 73.1h0M99.8 108.6h0M99.6 77.2h0M100.3 84.5h0M97.4 83.6h0M100.2 73.2h0M96.9 87.5h0M99.8 71.2h0M99.1 74.6h0M98.8 85.2h0M100.5 99.4h0M99 103.5h0M98.5 98.6h0M99.8 91.5h0M100.2 87.7h0M99.2 78h0M98.3 76.1h0M98.6 105.8h0M98.6 102.6h0M99.6 94h0M98 84.4h0M98.4 109.6h0M99 64h0M98.4 99.4h0M98.1 71.7h0M99.8 87.3h0M100.1 83.1h0M98.8 84.4h0M98.6 78.5h0M97.6 83.1h0M98.1 84.8h0M97.5 128.2h0M99.1 102.6h0M99.1 78.1h0M97.3 82.7h0M100.3 91.4h0M98.1 105h0M100.1 99.8h0M100 60.7h0M100.5 62.3h0M97.7 88.4h0M98.5 68.7h0M100.3 121.6h0M97 129.2h0M97.1 97.6h0M99 106.1h0M98.8 99.3h0M100.3 84.4h0M99.8 101.5h0M98.9 86.4h0M100.6 83.2h0M98.8 87.9h0M98.8 73.8h0M99.5 61.7h0M98.4 114.1h0M98.3 84.8h0M99.1 92.9h0M98.2 82h0M100.4 120.4h0M99.4 125.3h0M98.9 79.6h0M97.3 84.4h0M98.3 86.1h0M98.4 95.2h0M99 103.5h0M99.1 117.8h0M100.2 107h0M100.5 77.1h0M98.7 79.3h0M98.6 87.6h0M99.2 79.7h0M100.6 100.2h0M98.2 86.1h0M98.9 86.5h0M99.9 79.2h0M97.6 88.6h0M98.1 90.2h0M100.6 90h0M100 101.1h0M98.8 79.7h0M97.3 81h0M100.2 67h0M99.5 120.9h0M100 77.2h0M100.6 75.1h0M100.2 60.1h0M98.5 68.3h0M97.5 76.1h0M98 112.7h0M98.8 106h0M98.8 83.3h0M97.6 79.9h0M97.6 109.3h0M99.3 95.5h0M99.2 95.8h0M98.2 86.2h0M100.6 82.3h0M99.3 93.3h0M97.1 114h0M98.5 69.3h0M99.8 64.2h0M98.1 89.4h0M99.5 72.4h0M96.9 80.8h0M98.1 77.7h0M100 80.2h0M99.1 103.7h0M99.4 78.9h0M97.7 72.6h0M98.8 106.6h0M99 58.9h0M97.9 61h0M99.3 58.6h0M98.9 76.5h0M100.6 94.5h0M99.1 100.1h0M98.5 104.8h0M114.8 117.6h0M116.7 61h0M116.9 75.2h0M117.7 94.3h0M117.2 98.1h0M118 97.6h0M118.1 81.3h0M116.4 82.8h0M116.5 99.9h0M115.2 68.7h0M115.7 105.4h0M116.8 96.7h0M114.9 71.7h0M117.2 73.9h0M115.2 94.6h0M116.3 80.1h0M118.2 93.8h0M115 107.2h0M114.8 75.6h0M116.2 88.4h0M115.3 78.1h0M117.3 78.6h0M114.6 101.6h0M117.7 87.7h0M117.8 100.3h0M117.5 84.2h0M116.2 78.3h0M115.7 75.3h0M117.1 95h0M116.5 72.3h0M116.2 76.9h0M115.9 78.6h0M116.2 100.9h0M117.1 80.7h0M117.7 83.7h0M118 87.6h0M115.2 84.3h0M115.7 101.8h0M116.3 90.3h0M116.7 81h0M115.9 92.7h0M115.3 80h0M114.9 69.3h0M115.8 85.9h0M116.3 94.9h0M118.2 83.4h0M118 92.3h0M117.8 96.4h0M118.2 93.8h0M118.2 62.8h0M116.9 79.5h0M117.6 79.1h0M114.8 76.8h0M117.1 111.5h0M116.9 83.2h0M115.7 79h0M116.7 92.9h0M118.1 103.6h0M116.4 80.9h0M117 93h0M115.7 73.9h0M115.9 95.5h0M117.9 88.3h0M114.7 74.6h0M115.3 74.9h0M117.1 73.7h0M116.3 92.6h0M114.9 101.7h0M117.1 97.4h0M116 90.2h0M116.8 70.4h0M116.2 83.6h0M116.6 61.4h0M116.7 77.9h0M116.1 78.3h0M115 101h0M115.3 93.5h0M117.9 88.6h0M116.6 103.8h0M115 100.2h0M117.8 105.2h0M115.6 95.6h0M115 77h0M116.6 82.7h0M115.6 85.9h0M116.4 82.9h0M116.7 100.2h0M115.5 94h0M116.7 96.2h0M115 102.5h0M116.5 95.5h0M116.8 102h0M114.9 90.7h0M116.1 78.9h0M114.9 85.5h0M116.2 89.5h0M117.8 83h0M116.7 92.9h0M117.3 101.4h0M117.4 114.9h0M115 72.2h0M118.3 85.8h0M117.3 85.6h0M115 96.1h0M117.7 91.2h0M116.1 87.1h0M115.3 99.2h0M118.2 108.6h0M116.7 98.9h0M117.5 78.4h0M115.1 101.9h0M117.5 108.2h0M114.8 90.3h0M115.5 62h0M116 102h0M114.7 73.9h0M116.8 87.6h0M115.4 84h0M115.7 70.1h0M117.2 102.1h0M116.2 91.5h0M117.9 94.4h0M116.9 82.1h0M117.8 88.4h0M116.7 86.6h0M118 78.7h0M117.8 93.4h0M115.2 87.8h0M117.4 97.8h0M115.9 71.1h0M117.4 78.5h0M117.1 65.1h0M117.7 110h0M115.1 99.8h0M116 91.1h0M117.3 74.8h0M118.1 95.6h0M117.3 102.1h0M114.8 62.6h0M116.9 90.5h0M115 88.6h0M116.7 101.6h0M117.6 62.7h0M115 82.9h0M118 93.9h0M117.1 93.3h0M115.6 90.4h0M115.3 83.5h0M116.3 88h0M117.7 99.6h0M116.8 69.5h0M115 102.1h0M114.7 71.1h0M115 78.9h0M117.6 108.2h0M115.3 75.4h0M116.7 84.9h0M115.7 100.3h0M117.2 71.5h0M116 74.9h0M115.2 98.6h0M117.9 111.3h0M116.6 80.6h0M117.2 107.3h0M117.6 94.9h0M118.1 89.2h0M114.7 95.2h0M115.9 104.2h0M115.2 92.9h0M116.5 73.2h0M117.9 72.6h0M117.6 68.5h0M114.8 84.4h0M115.3 86.7h0M117.6 100.5h0M117.1 100.9h0M116.1 101.6h0M116.4 103.5h0M115.2 90.6h0M117.7 85.5h0M116.1 99.3h0M117.9 78.8h0M116.9 86.8h0M114.9 78.5h0M115.8 75.5h0M115.4 73.1h0M117.9 95.4h0M116.8 99.4h0M114.8 89.7h0M115.2 72.8h0M116 78.9h0M116.4 97.4h0M116.8 80.6h0M116.1 84.5h0M115.9 95.6h0M114.6 101.8h0M116.8 95.3h0M115.9 83.2h0M114.7 106.2h0M116.3 90h0M118.3 98.8h0M114.8 99.8h0M115.2 106.4h0M117.1 113h0M115.6 84.5h0M115.6 87.1h0M116.5 96.4h0M115.6 93.8h0M116.7 77.1h0M116.6 89.2h0M118.2 85.6h0M118.3 92.4h0M114.7 81h0M116.7 95h0M117.5 104.7h0M117.8 80.7h0M117.5 82.1h0M117 103.2h0M117 87.9h0M116 87.8h0M115.7 85.7h0M117.6 87.5h0M117.8 90.6h0M118.1 96.3h0M117.1 98.4h0M115.7 96.6h0M117.4 93.2h0M117.4 105h0M116.5 89.5h0M117 83.8h0M115.9 73.4h0M116.7 88.9h0M116.1 102.3h0M114.8 105.6h0M115.9 70.9h0M115.8 98.4h0M118.3 90.7h0M116.4 79.5h0M116 88.4h0M115.5 87.9h0M115.5 86.3h0M115.9 116.1h0M115.1 93.1h0M114.6 81.5h0M117.8 107.5h0M116.3 110.5h0M116.3 82.6h0M116.7 94.3h0M115.7 84.6h0M115.2 115.5h0M114.9 91.2h0M115.7 102.6h0M115.8 79.6h0M117.3 65.3h0M116.7 96.2h0M118.1 77.8h0M115.9 102.9h0M118 94.7h0M116.8 85.3h0M114.9 99.3h0M115.3 134.6h0M116.8 132.4h0M118.3 126.9h0M115.9 49.2h0M132.9 104.1h0M132.8 73.6h0M135.1 92.7h0M132.6 84.6h0M135.3 103.5h0M133.9 93.1h0M134.3 87.2h0M134.5 87.1h0M134.4 81.1h0M134.7 82.3h0M134.5 97.7h0M133.5 85.8h0M135.1 93.3h0M133.3 96.2h0M134.9 78.2h0M135.1 95.1h0M135.2 96.5h0M133.5 93.7h0M135.2 96.5h0M135.9 82.7h0M134 88h0M133.3 79.4h0M134.2 87.7h0M135.8 95h0M132.8 82.3h0M132.3 95.3h0M134.1 94.1h0M134.7 92.2h0M135.2 90.9h0M133.7 81.1h0M136 95h0M133.2 88.2h0M135.1 91.4h0M132.6 99h0M132.4 98h0M132.8 92.6h0M150.6 112.1h0M152.5 61h0M152.8 93.8h0M151.9 91.3h0M153.3 81.5h0M153.3 84.5h0M152.7 78.7h0M153 103.9h0M152.4 64.1h0M153.3 87.9h0M150.5 101.8h0M152.6 85.5h0M152.6 82.2h0M152.3 87.3h0M151 105h0M150.2 81.7h0M152.2 69.9h0M153 74.3h0M151 105.3h0M150.8 69.9h0M150.8 76h0M150.3 91.8h0M152.5 81.1h0M153.6 68.2h0M153 91.4h0M151.3 87.7h0M152.6 94.1h0M150.3 72.8h0M153.1 69.4h0M151.2 98.9h0M150 75.7h0M152.3 106.7h0M150.5 98.6h0M151 94.6h0M150.2 76.9h0M151.6 106.7h0M152.1 79.8h0M153 95h0M150.1 71.7h0M153.1 91.2h0M150.4 81.3h0M150.8 89.5h0M152.3 64.7h0M151.3 91.7h0M151.2 87.8h0M152.1 62.2h0M150.8 86.5h0M152.9 78.8h0M150.8 96.2h0M153.1 84.9h0M153 86.1h0M152 95.1h0M150.1 105.3h0M152.9 104.2h0M150.1 73h0M151.9 82.1h0M151.6 105.4h0M150.2 64.4h0M152.3 95.7h0M152.7 91.8h0M152.2 84.3h0M151.5 100.9h0M151.9 106.6h0M152.2 96.3h0M150.8 72.5h0M153.2 75.4h0M153.7 106.2h0M153 72.2h0M153.6 87.1h0M151.2 81.1h0M153.6 86.8h0M150.3 82.2h0M151.8 99.3h0M150.5 98.2h0M151.7 95.8h0M152.5 91.8h0M152.6 79.6h0M151.7 101.9h0M151.3 67.2h0M150.7 95h0M151.5 94.4h0M151 78.5h0M150.7 82h0M152.7 91.5h0M151.9 100.1h0M151.6 99.3h0M150.7 106.4h0M152.6 72.9h0M150.7 73.7h0M151 63.7h0M152.1 81.1h0M152.6 83.3h0M153.6 77.9h0M152.8 75.4h0M153.5 90.5h0M153.4 83h0M152.7 107.5h0M152.7 104.1h0M150.2 98.9h0M150.8 77.9h0M150 72.4h0M153.2 91.5h0M152.7 78.9h0M152.3 88.1h0M151 83.7h0M151.3 93.9h0M150.6 87.8h0M152.3 87.5h0M153.7 73.1h0M151.1 109h0M150.2 80.7h0M150.6 87.5h0M151.3 75.2h0M153.3 74h0M153 77.6h0M151.7 77.2h0M150.4 98.7h0M150.4 107.7h0M150.6 66.2h0M152.9 72.1h0M151.7 98.8h0M153.7 71.1h0M153.4 79h0M152.9 76h0M151.8 99.2h0M153 72.6h0M150.5 95.6h0M150.4 96.3h0M152.1 105.8h0M151.9 90.1h0M150.8 74.5h0M150.9 95.4h0M150.1 109.5h0M153.4 64h0M152.6 78.7h0M153.5 93.9h0M153.6 101.8h0M151.6 106.9h0M152.7 80.4h0M151.4 70.9h0M153 100h0M153.1 87.5h0M150.5 90.8h0M150 90.5h0M150.8 81.1h0M152.2 95h0M151.4 76.7h0M150 73.6h0M153.1 90.9h0M152.9 89.2h0M151.7 103.4h0M150.2 73.7h0M153.3 93.8h0M152 95.2h0M150.3 86.6h0M151.2 97.7h0M152.3 99.8h0M153.3 91h0M151.8 68.5h0M152.4 89.9h0M150.8 80.8h0M150.9 104.9h0M153.4 110.6h0M151.4 64.3h0M150.4 92.2h0M152.2 105.7h0M150.5 88.7h0M150.7 79.7h0M151.7 108h0M152.2 97.9h0M152.4 84.2h0M152.6 98.4h0M151.6 77.3h0M150.2 75.2h0M152.7 81.8h0M150.2 92.6h0M151.7 88h0M151.5 95h0M152.5 89h0M152.6 83.4h0M150.9 91h0M152.4 75.1h0M152.6 94h0M151.7 83.1h0M150.5 77h0M153.4 79.3h0M152.2 90.3h0M150.2 93.2h0M150.9 74.7h0M153.7 79.5h0M150.8 81h0M151.5 97h0M152.9 79.4h0M153 77.3h0M152.3 89.7h0M152.7 79.2h0M150.1 109.8h0M150.3 79.7h0M153.6 101.4h0M153 103.7h0M150.1 90.3h0M150.2 80.5h0M150.9 86.8h0M153.4 101.3h0M150.8 104.6h0M152.5 94.1h0M153.4 87.3h0M152.4 97.4h0M153.4 105.4h0M151 65.1h0M150.6 97.5h0M150.1 89.3h0M152.8 94h0M150.4 94.4h0M153.6 87h0M152.6 91h0M150.7 79.6h0M153 101.6h0M150.6 105.2h0M151.9 62.6h0M150.4 88.4h0M152.9 77.7h0M153.3 72.4h0M153.4 80.4h0M150 87h0M153.2 106h0M152.1 106.5h0M153 75h0M151.9 78.8h0M152.3 80.2h0M152.2 107.2h0M153 100.1h0M150.3 101.6h0M150.2 85.4h0M152 99.7h0M151.1 67.2h0M151.5 94.9h0M150 94.2h0M152.8 76.4h0M150.1 83.3h0M153.1 98.2h0M153 77h0M151.7 62.9h0M150.5 102.1h0M152.4 90.4h0M150.8 100.3h0M151.6 110.6h0M150.4 79.5h0M153.6 78.5h0M152 75h0M151.3 82h0M150.3 111.5h0M152.7 87.8h0M153.1 95.5h0M153.1 101.5h0M150.4 100.7h0M151.4 77.7h0M151.1 91h0M152.8 62.3h0M150.5 81.4h0M170.4 113.2h0M168.4 78.1h0M169.4 95.1h0M169.2 95.4h0M170.7 107.4h0M171.2 90.8h0M168.8 85.5h0M170 106.6h0M171 97.8h0M169.4 88.1h0M171 100.3h0M170.4 110.7h0M168.8 95.6h0M170.9 103.7h0M169.8 102.6h0M168.1 104.5h0M169.9 95.6h0M170.8 101.9h0M169.6 105h0M169.5 100.2h0M169.2 94.5h0M170.9 104.7h0M170.2 87.5h0M168.5 110.4h0M169 94.5h0M169 101.3h0M171.2 82.9h0M170.3 103.1h0M168.2 103.3h0M171.1 108.1h0M167.8 78.8h0M169.9 92.4h0M169.3 106.3h0M170.3 101h0M169.3 105.4h0M168 83.4h0M169.6 94.4h0M170.7 113h0M170.6 96.5h0M169 89.5h0M168.5 98.6h0M170.4 93.9h0M170.7 99.4h0M168.5 96.5h0M171 96.5h0M171.4 103.6h0M169.3 95.1h0M169.1 130.2h0M187.3 113.4h0M187.2 58.5h0M186.6 86.5h0M186.8 70.1h0M187.3 93.3h0M187.6 69.8h0M186.2 72h0M186.4 85.8h0M187.2 71.2h0M187.2 96.8h0M186.9 85.5h0M187.8 88.5h0M186.1 84h0M187.3 78.1h0M186.4 83.3h0M188.2 92h0M188 76.5h0M188.3 90.9h0M187.3 74.2h0M186.3 97.6h0M188.8 102.1h0M187.3 103.7h0M186.8 74.4h0M186.5 62.4h0M186.9 75.7h0M188 79.8h0M188.4 87.3h0M187.2 86.8h0M188.1 97.2h0M186.2 78.6h0M187.1 75.8h0M186.7 104h0M186.5 88.2h0M186.7 100.5h0M188.2 100.2h0M188.1 74.6h0M186.1 67.4h0M186.2 98.6h0M188.3 90.6h0M187.8 77.8h0M187.9 92.6h0M187.7 81.4h0M187.9 80.2h0M186.4 75.5h0M185.6 71.5h0M186.7 84h0M185.5 94.1h0M188.9 104.1h0M187.3 86.9h0M187.9 99.4h0M189 91.7h0M188.4 88.8h0M186.2 87.2h0M186.6 72.8h0M185.8 81.3h0M188.3 84.6h0M188.1 63h0M187.2 85.2h0M186.7 60.4h0M186.4 86.2h0M187.2 80.4h0M188 99.7h0M188.7 84.6h0M188.5 98.2h0M188.6 66h0M187 82.9h0M186.9 66h0M186.5 78.7h0M189 99.2h0M186.1 87.2h0M186 93.3h0M186.4 91.7h0M188.8 81.3h0M188.5 84.1h0M186.6 89.4h0M188.5 81.3h0M188.7 94.9h0M187 97.9h0M186.1 92.3h0M188.2 70.8h0M186.8 76.9h0M185.8 90.5h0M188.7 79.8h0M187 76.7h0M186.9 99.8h0M187.6 59h0M186.3 90.4h0M185.5 100.2h0M186.8 84.4h0M186.8 82.9h0M185.4 67h0M186.8 67.6h0M188.2 91.2h0M186.6 92.8h0M187.9 89.8h0M187.7 89.9h0M186.1 98.7h0M185.5 87.1h0M187.9 68h0M187.6 72.7h0M186.5 89.9h0M186.1 102.2h0M188.5 76.3h0M188.7 68.4h0M186.2 104.6h0M187.5 78.1h0M187.5 61.1h0M186.6 70.1h0M185.5 76.6h0M186.6 86.3h0M187.8 93.7h0M187.6 81h0M187.3 68.3h0M185.8 75.3h0M186.2 73.9h0M186.5 87h0M186.9 88.6h0M186.7 65.7h0M188.7 84.1h0M185.8 72.5h0M189 91.9h0M186.3 99.7h0M188.5 83.6h0M186.3 82.1h0M187.6 97.5h0M186.8 80.9h0M185.5 89.5h0M188.3 102.1h0M188.4 86.8h0M186.4 79.4h0M188.3 66.9h0M187.2 110.9h0M189 85.9h0M185.6 94.7h0M186.8 80.3h0M186.2 100.5h0M187.7 76.4h0M188.3 74h0M188.5 71.6h0M187.4 71.2h0M186.8 92.3h0M188.3 103.2h0M185.8 82.3h0M186.3 87.2h0M188.2 91.8h0M187 110.1h0M189.1 77.2h0M185.7 78.5h0M187.1 69h0M186.2 80.4h0M185.4 88.7h0M185.7 98.8h0M185.7 90.9h0M186.7 98.6h0M187 89.1h0M187.3 97.1h0M186.5 71.6h0M188 88.5h0M187.3 80.4h0M189 86.4h0M186 90.6h0M187.3 113.1h0M187.2 91.6h0M186.8 92.5h0M188.6 71.1h0M186.2 101.9h0M188.6 76.3h0M186.7 77.5h0M186.6 87.1h0M187.7 87.6h0M187.5 73.9h0M186.4 83.1h0M185.7 98.8h0M188.9 58.6h0M186.7 80.2h0M185.8 112.7h0M187.8 105.2h0M187.3 106.7h0M186.6 112.2h0M186.6 94.7h0M188.5 117.6h0M206.1 111h0M206.7 66.8h0M204.5 89.4h0M206.7 91.3h0M203.1 86.6h0M206.3 72.1h0M203.2 79.7h0M205.1 95.7h0M204.5 89.8h0M205.9 86.1h0M204.2 91.8h0M203.8 80.6h0M206 83.1h0M205.1 105.4h0M205.9 84.3h0M204.9 101.4h0M203.2 88.9h0M205.9 92.9h0M203.9 94.4h0M204.8 81.4h0M203.1 90.9h0M204 70.7h0M205.5 84.9h0M205.9 78.2h0M205.4 91.8h0M204.7 67.2h0M205.8 95.8h0M205.5 97.4h0M203.8 106.7h0M205.1 71.3h0M205.3 76.7h0M205.8 91.8h0M203.8 108.8h0M204.2 96.7h0M204.3 87.3h0M203.4 79.1h0M204.4 77.4h0M205.8 79.7h0M205.2 86.3h0M203.7 93.9h0M205.8 74.2h0M203.5 98.6h0M205.8 85.8h0M203.6 75.6h0M203.4 108.4h0M204 91.3h0M205 83.3h0M204.1 99.8h0M206.3 101.9h0M206.5 73.8h0M204.1 95.1h0M205.8 92.1h0M205.6 75.6h0M205.1 90h0M204 76.3h0M206.6 82.5h0M206.6 67.8h0M203.1 102.2h0M204.3 83.3h0M204.3 72.3h0M203.8 69.5h0M204.7 102.4h0M206.4 105.8h0M203.2 70.9h0M206.2 67.6h0M204.2 83.9h0M203.1 82.8h0M206.4 97.5h0M204.1 83.6h0M203.9 94.3h0M203.5 86.8h0M204.4 100.4h0M203.5 93.7h0M203.7 83.4h0M204 81.9h0M205.2 105.4h0M204.7 72.2h0M204.2 85.2h0M205 77.3h0M205.9 100.5h0M205.7 80.2h0M204.3 68.2h0M206.5 105.4h0M206 94.6h0M205.1 95.4h0M204.8 84h0M204.3 84.6h0M203.6 102.7h0M206.3 88.8h0M205.3 77.6h0M203.4 96.5h0M206.5 82.1h0M206.4 93.4h0M203.2 83.9h0M205.7 74.4h0M204 92.9h0M205.1 99.1h0M206.2 90.3h0M204.4 86.9h0M204.9 78.2h0M205.5 100h0M203.8 86.5h0M205.4 74.1h0M204.6 88.9h0M206.7 86h0M203.8 83.7h0M205.7 81.9h0M203.2 79.1h0M204.1 82.6h0M203.5 85.4h0M203.6 69.5h0M205 100.9h0M203.7 82.4h0M206 90.4h0M203.4 87.7h0M205.4 73.3h0M206.3 80.9h0M203.5 91.3h0M203.9 97.8h0M205.9 70.6h0M204.8 97.8h0M206.5 88.4h0M204.3 83.4h0M204.5 103.5h0M206.6 92.7h0M204.3 86.4h0M206.6 84h0M206.4 90.1h0M203.8 86.7h0M205.1 88.3h0M206.6 103.7h0M203.5 89.3h0M206.2 76.2h0M205.9 86.2h0M205.8 80.5h0M205.3 79.2h0M203.4 70.1h0M206.6 105.2h0M203.4 82.3h0M206 99.5h0M205.7 72h0M204.2 101.4h0M205.6 96.8h0M204.6 99h0M205.8 78.9h0M203.2 77h0M206.5 93.9h0M204.5 100h0M206 90.5h0M204.8 91.2h0M206.1 91.3h0M204.2 80.6h0M205.1 86h0M203.2 88.5h0M204.9 109.7h0M203.4 80h0M206.2 83.7h0M205.6 105.7h0M204.6 89.7h0M206.7 80h0M206.6 89.8h0M206.6 96.6h0M203.4 88.8h0M205.7 97.9h0M205.8 86.1h0M205.3 102.6h0M203.1 121.3h0M224.3 121.1h0M220.8 63.4h0M224.1 104.4h0M223.4 83h0M222.6 119h0M223.9 64.5h0M221.3 90.6h0M222 91.4h0M223.4 95.4h0M223.8 106.8h0M222.1 110.8h0M224.4 86.6h0M223.2 99.9h0M220.9 84.8h0M221.2 90h0M221 81.7h0M222.9 97.2h0M222 105.1h0M221.7 90h0M222.4 63.9h0M221 81.7h0M224.1 87.2h0M223.9 101.8h0M222.8 93.5h0M222.4 70.1h0M221.9 88.1h0M223 108.1h0M222 100.7h0M224.4 85.9h0M224.3 84.1h0M223.4 119.8h0M223.8 88.3h0M221 98.3h0M221.2 115.7h0M222 96.3h0M221.2 108.2h0M222.3 89.7h0M224.4 88.7h0M223.8 93.5h0M224.3 98.1h0M221.6 85h0M221.6 112.4h0M220.8 87.7h0M221.8 74.3h0M221 100.9h0M222.7 77h0M221.9 81.4h0M223.3 102.3h0M222.8 87.5h0M223 71.4h0M221.9 102.8h0M223.5 85.2h0M223.3 85.5h0M223.4 103h0M222.5 76.8h0M222.5 99.7h0M221.8 78.7h0M220.9 89.2h0M222.5 101.1h0M223 95.2h0M221.4 105.3h0M223.9 104.7h0M224 101.9h0M223.9 75.1h0M223.8 81.3h0M222.6 83.2h0M221.4 107.3h0M221.8 107h0M223.5 94.9h0M224.4 89.6h0M221.2 79.5h0M220.8 79.6h0M222.1 86.9h0M222.1 81.8h0M223 115.2h0M221.2 113.4h0M223.9 103.6h0M222 93.9h0M224.1 102.6h0M222 98.7h0M221.9 91.1h0M221.4 100.9h0M224.3 94h0M222.9 77.1h0M223.8 85.4h0M221 97.5h0M222.8 90.1h0M223.5 85.5h0M224.4 89.9h0M224.2 80h0M221.1 111.7h0M222.1 77.6h0M224.5 106.1h0M222.7 83.4h0M224.3 112.3h0M221.7 77.5h0M220.9 80.1h0M224.3 101.4h0M221.7 83h0M222.8 97.9h0M222.1 75.1h0M222.9 95.2h0M224.2 98.6h0M224.3 105.5h0M224 93.9h0M221.7 85h0M223.8 82.4h0M220.8 101.7h0M222.3 97.8h0M224.3 107.8h0M221.7 102.3h0M222.1 94.5h0M222.9 87h0M221.6 80.9h0M223.4 100.2h0M223.2 108.9h0M221.1 69.7h0M224.2 92.5h0M221 97.7h0M223.3 90.6h0M222 93.5h0M221.3 82.7h0M221 84.6h0M224.5 108.9h0M223.7 97.8h0M222.5 83h0M223.7 95.8h0M224.3 81.3h0M224.2 107.1h0M222.7 71.5h0M221.8 87.4h0M222.7 114.1h0M224.4 76.8h0M223.5 106.5h0M223.2 89.5h0M223.9 89.9h0M222.3 87h0M222.8 83.1h0M223.9 118.7h0M221.5 97.5h0M223.9 105.7h0M220.9 100.5h0M222.7 90.8h0M222.9 92.6h0M221.3 105.8h0M224.2 81h0M222.4 93.9h0M221.4 64.4h0M222.3 77h0M222.9 78.5h0M222.3 111.2h0M220.8 68.7h0M221.1 94.7h0M223.4 86.4h0M221.2 84.4h0M221.7 67.6h0M223.7 71.9h0M223.9 95.6h0M224 97.6h0M221.4 103.3h0M220.8 93.7h0M223.6 86.6h0M223 88.5h0M222.1 93.2h0M220.8 102.8h0M222.4 101.4h0M221.6 86.8h0M222.9 78.3h0M224.4 82.8h0M221.5 97.3h0M221 82.3h0M223.3 75h0M221.2 102.2h0M221.6 107h0M222.4 80h0M224.4 65.8h0M222 85.9h0M221.9 87h0M222.5 91.9h0M221.4 75.2h0M222.2 110.6h0M223.4 90.1h0M222 97.2h0M223.7 96.9h0M221.4 92h0M221.1 91.5h0M223.1 95.2h0M222.4 96.1h0M224.2 85.4h0M221.1 112.6h0M223.5 107.6h0M223.2 84.4h0M222.1 84h0M221.2 79.5h0M223 110.3h0M223.6 75.5h0M222.5 78.7h0M222.5 88.7h0M223.3 106.8h0M223 80.8h0M222.3 75h0M221.4 96h0M222.5 85.7h0M222.8 85.2h0M224.1 80h0M224.4 82.7h0M222.8 82.5h0M222 109.8h0M221.6 98.5h0M223.1 113.7h0M223.5 77.8h0M221.7 81.6h0M223.3 86h0M224.5 66h0M222.2 104.3h0M224.2 70.9h0M222.4 104.3h0M223.2 117.1h0M224 98.4h0M221.5 99.2h0M222 96h0M224.4 93.1h0M221 86.2h0M221.9 83.7h0M222.5 101.7h0M223.5 107.5h0M223.1 82.8h0M224.2 74.3h0M223.2 79.2h0M220.8 85.4h0M221 117h0M220.9 83.4h0M222.4 101.2h0M220.9 77.6h0M222.7 73.1h0M223.1 97.6h0M221.5 105.6h0M223.9 97.4h0M222.3 85.8h0M224.3 84.8h0M222.1 106.5h0M223.1 87.8h0M222.8 104.8h0M221.7 100.2h0M223.6 76.9h0M220.8 93.7h0M221.7 106h0M221.9 74.8h0M224 116h0M222.6 76.2h0M220.9 91.7h0M221.9 110.8h0M223 100.2h0M223.8 83.9h0M221.2 73h0M223.6 109.7h0M222.2 94.9h0M222.7 87h0M222.3 80h0M222.4 66.9h0M224.4 86.3h0M224.2 110.5h0M224.2 96.1h0M223.5 106.9h0M223.4 96.4h0M221.3 98.6h0M220.9 95h0M223.8 86.8h0M223.3 96h0M223.1 78.7h0M221.9 76h0M221.7 109.1h0M224.2 112.7h0M222.7 104.4h0M220.8 90.8h0M222 92.2h0M222.1 90.7h0M221 67.4h0M224.4 82.5h0M224.1 78h0M223.8 91.8h0M220.8 101h0M222.3 98.1h0M221.2 93.1h0M223.4 107.1h0M223.8 104.2h0M223.7 91.3h0M223.7 68h0M221.2 98.9h0M220.8 97.9h0M221.1 103.8h0M223.9 94.7h0M223.8 109.1h0M222.7 88.7h0M221.6 105.7h0M223.9 76.4h0M221.2 107.4h0M222 110.2h0M220.8 87.1h0M224.4 86.7h0M222.3 127.8h0M223.6 139.8h0M223.7 145.4h0M240.4 108.7h0M241.6 74.7h0M242.1 83.9h0M241.3 84.1h0M240.4 94.8h0M241.1 92.3h0M240.8 95.9h0M242 80.6h0M242 96.5h0M241.3 101.9h0M239.3 97.1h0M240.6 96.7h0M240.1 89.3h0M239.3 90h0M241.3 82.3h0M239.3 106.1h0M241.1 88h0M240.3 92.7h0M240 90h0M241.1 96.2h0M241.1 94.1h0M242.1 86.3h0M242.1 81.3h0M241.4 103.5h0M239.4 86.8h0M240.9 98.3h0M240.3 84.9h0M241.9 93.4h0M240.1 102.7h0M239.8 96.7h0M238.5 89.8h0M240.2 82.9h0M240.4 79.2h0M239.6 82.3h0M238.8 88.9h0M240.2 86.7h0M238.7 92.9h0M239.1 79.4h0M240.1 97.8h0M239.7 99h0M240.3 82.6h0M240.4 102.7h0M239.9 88.2h0M238.9 81.1h0M238.5 87.8h0M240.5 85.5h0M242 88.7h0M239.5 88.1h0M239.8 101.8h0M239.6 77.2h0M241.2 92.8h0M240.3 93.9h0M241.4 88.6h0M238.5 80.2h0M238.9 92.7h0M239.2 91h0M239.8 82.1h0M239.9 84.9h0M239.9 93.6h0M242 92.8h0M240.1 89.8h0M240.6 97.3h0M242 100.1h0M240.8 96.5h0M240.7 102.4h0M241.5 98.2h0M239.7 67.9h0M238.6 123.4h0M256.7 123.4h0M258.2 65.9h0M257.2 87.4h0M256.6 96h0M259.4 95h0M258.3 100.8h0M259.4 87.4h0M257.2 107.1h0M258.3 106.9h0M257.2 90h0M259.2 94.6h0M256.9 101.1h0M258.5 72.8h0M258.2 90.7h0M257.3 111.9h0M256.4 106.8h0M257.9 98.9h0M258.1 95.1h0M259.2 120.7h0M256.9 86.8h0M256.8 98.5h0M257.3 97.6h0M259.1 72.6h0M257 72.7h0M258.5 103.2h0M256.3 97.4h0M256.4 103.7h0M258.8 81.1h0M258 110.3h0M256.6 92.9h0M257.9 100.7h0M259.6 120.2h0M257.6 89h0M258.2 99.3h0M257.7 88.2h0M258 79.9h0M256.3 111.6h0M259.4 89.8h0M258.3 94.8h0M257.4 107.4h0M257.2 116.4h0M256.8 114.6h0M259.6 80h0M259.3 83.3h0M257.5 89.6h0M258.4 83.1h0M258.2 85.4h0M256.9 81.9h0M256.3 74.6h0M258.9 89h0M256.7 113.7h0M258.2 119.5h0M256.2 94.4h0M256.2 100.6h0M256.7 82.6h0M258.6 108.1h0M258.4 79.4h0M259.8 101.5h0M258.6 75.2h0M258.1 83.9h0M256.2 75.6h0M259.7 102.5h0M257.9 107.6h0M259.3 94.5h0M256.3 106.7h0M259.2 114h0M257.9 106.1h0M256.9 92.2h0M257.6 114.7h0M256.4 84h0M258.3 93.9h0M257 86.6h0M258.7 115.7h0M256.8 92.9h0M258.7 84.4h0M258.4 90.3h0M258.8 83.7h0M259.7 97h0M257.2 93.4h0M258.7 107h0M257.6 80.6h0M259.4 86.4h0M259.2 77.8h0M259 113h0M258.4 73.3h0M257.1 88.3h0M259.5 106.8h0M259.7 106.2h0M259.7 103.8h0M257.4 109.8h0M259.2 85.9h0M258.7 74.5h0M259.2 86.4h0M259.1 86h0M257.8 83.8h0M257.6 109.8h0M259.1 117.3h0M258.6 96.6h0M258.1 109h0M259.4 94.4h0M256.3 97.9h0M256.2 96h0M257.9 97.5h0M256.5 91.7h0M259.3 95.9h0M256.5 99.8h0M259.4 101.9h0M257 87.8h0M256.6 104.2h0M258.9 87.9h0M258.6 114.4h0M257.7 113.5h0M258.3 109.3h0M258.2 98h0M259.6 67.5h0M258 118h0M258.1 101.4h0M257.8 89.1h0M257.7 104.2h0M258.7 106.4h0M256.6 87.7h0M258.7 68.7h0M259.6 81.2h0M259 101.5h0M258.1 110.2h0M257.4 123h0M256.5 103.2h0M256.5 82.6h0M258.1 89.2h0M259.4 101.9h0M259.3 111.2h0M256.8 106h0M258.9 94.9h0M259.1 91.4h0M257.9 73.6h0M259.3 113.1h0M256.8 66.1h0M257.4 116.7h0M258 97.9h0M258.8 77.8h0M257.8 84.1h0M257.3 86.7h0M259.3 79.7h0M257.6 87.3h0M257.7 71.2h0M257 101.5h0M257.9 102.5h0M258.8 86.2h0M257.5 90.7h0M258.6 97h0M258 78.9h0M256.2 118.1h0M259.7 80h0M257.2 103.6h0M258.2 106.2h0M259.7 112.3h0M256.9 86h0M256.4 123.1h0M256.9 99.9h0M256.7 84.8h0M259.3 102.8h0M258.1 69.7h0M256.3 93.7h0M257.1 107.4h0M258 111.6h0M256.8 89.9h0M257.3 92.5h0M259.5 83.9h0M257.8 103.1h0M257 88.4h0M258.4 88h0M256.6 75.5h0M258.1 77.7h0M258.5 88h0M256.5 95.6h0M258.2 103.3h0M257.3 92.7h0M258.9 83.2h0M258.4 117.3h0M259.5 73.1h0M258.4 102.4h0M256.8 120.3h0M256.8 102.8h0M258.7 87.9h0M259.1 113.8h0M256.4 99.4h0M257.7 102.8h0M257.2 101.7h0M257.9 84.1h0M259.4 79h0M258.2 114.2h0M258.9 106.5h0M259 90.2h0M257.2 93.2h0M258.4 97.7h0M257.5 89.9h0M257.9 82h0M258.1 99.2h0M258.6 116.3h0M256.8 76.5h0M259.2 114.6h0M256.7 99.2h0M257.3 109.7h0M259.3 89.1h0M259.8 83.7h0M257.5 98.1h0M259.7 111h0M256.3 97.6h0M259.7 89.9h0M256.9 88.7h0M256.3 120.4h0M259 96.1h0M256.7 99.6h0M258.9 93h0M256.2 87.8h0M256.6 98.1h0M257.5 91.7h0M256.5 97.9h0M257.9 99.8h0M257.4 101.5h0M258.9 96h0M258 79.8h0M259.7 94.5h0M259.3 110.2h0M256.8 107.6h0M259.5 87.8h0M259.5 106.5h0M258.2 96.6h0M258.1 86h0M256.8 97.7h0M257.3 82.7h0M257 81.4h0M256.9 108.5h0M258.4 76.3h0M257.3 73.8h0M259 89.7h0M258.3 116.4h0M259.2 69.9h0M256.5 99.7h0M259.3 80.3h0M258 102.2h0M258.5 78.6h0M257 99.1h0M258.7 73.7h0M257.6 113.9h0M258.8 83h0M258.3 99.1h0M256.7 79.5h0M257.3 116.2h0M258.9 103h0M256.2 103.7h0M258.5 107.3h0M258.2 89h0M258.8 91.4h0M257.4 89.4h0M257.9 87.6h0M257.9 86.3h0M258.9 75.4h0M256.4 111.8h0M258 68.2h0M257.1 94h0M258.3 84.2h0M257.1 91.7h0M256.9 87.6h0M257 102.8h0M259.5 112h0M257.5 95.3h0M259.4 68.4h0M258.9 101.8h0M257.1 108.4h0M258.2 111.2h0M256.2 108h0M259.6 100.8h0M258.5 92.7h0M256.6 117.6h0M258.1 68.5h0M258 109.2h0M258.6 80.2h0M257.2 73.7h0M259.5 81.8h0M258.4 85.8h0M256.4 105.4h0M259.2 106.8h0M259.4 82.4h0M257.3 95.2h0M258.8 85h0M259.3 79.7h0M259.4 79h0M256.4 97.1h0M259.2 66.1h0M257.1 101.8h0M259.1 68.9h0M258.7 104.3h0M257.9 87.5h0M259.5 93.9h0M259.1 99.4h0M259.8 109.8h0M259.7 108.1h0M258.3 108.8h0M258.9 89.1h0M258.6 60.3h0M257.6 134.3h0M258 138h0M277.5 133.5h0M275.3 65.9h0M275.7 104.5h0M276.6 108.3h0M276.8 92.5h0M276.6 102.2h0M275.2 84.6h0M276.5 89.3h0M274.6 94.9h0M276.1 101h0M273.9 77.6h0M274.5 83.3h0M274.5 81.9h0M275.1 77.9h0M276.6 101.6h0M273.9 107.4h0M277.1 108.2h0M274.2 93.6h0M277.3 80.8h0M277.3 114.7h0M276.1 104.8h0M276.9 120.1h0M277.3 66.8h0M275.5 83.7h0M277 91.8h0M274 117.8h0M276.7 113.9h0M276.2 107.1h0M276.7 94.5h0M274.4 118.8h0M274.1 99.1h0M275.8 77.7h0M276.1 94.7h0M276.4 93.7h0M274.5 100.1h0M275.9 97.6h0M277.4 108h0M274.8 120.5h0M276.9 96.4h0M277.4 113.8h0M276.3 105.3h0M275.5 124.4h0M275.4 96.8h0M275.6 82.2h0M274.3 110.8h0M274.1 90.4h0M274.9 123.4h0M274.5 86.8h0M277.2 87.3h0M275.2 102.1h0M277.1 82.5h0M275.9 111.1h0M277.2 94.4h0M277.1 71.3h0M276.5 95.5h0M275.5 115.7h0M274.7 78.7h0M275.9 87.4h0M275 100.2h0M276.9 128.5h0M274 130.3h0M276.2 123h0M275.1 74h0M275.4 90.8h0M275.8 111h0M277.5 78.8h0M277.5 74.2h0M275.2 110.5h0M277.4 88.2h0M277.4 125.3h0M275.8 89.7h0M275.9 69.4h0M274.6 121.5h0M276.8 94.1h0M275.6 107h0M276.6 96.6h0M277.2 93.8h0M276.1 91h0M276.4 82.4h0M275.9 87.7h0M274.3 80.2h0M275.5 80.7h0M274.1 79.4h0M274.5 107.3h0M277.5 89.2h0M275.2 101.8h0M274.3 110.8h0M275.4 67.5h0M274.1 90.9h0M276.1 94.3h0M274.7 99.2h0M274.6 84.1h0M276.2 98.6h0M277.3 105.3h0M273.9 74.3h0M276.5 100.9h0M276 101h0M275.6 96.9h0M275.4 99.3h0M273.9 80.1h0M275.1 87h0M275.8 96.4h0M275.1 101.6h0M277.5 99.3h0M275.1 71.2h0M277 100.8h0M276.8 85.8h0M276.8 124.6h0M275.7 90.4h0M275.7 85.3h0M277 77.1h0M274.3 90.5h0M274.7 86.8h0M273.9 90.5h0M275.6 80h0M275.5 65.9h0M277.4 92.1h0M277.3 110.4h0M275.3 86.6h0M275.7 97.1h0M274.2 86h0M276.6 84h0M275.8 92.8h0M274.5 103.3h0M277.1 90.6h0M274 118.5h0M274.5 91.1h0M275.6 111.7h0M277.5 88.6h0M274.3 93.3h0M274.8 98.9h0M276.8 117.6h0M275.1 94.2h0M277.3 107.8h0M273.9 97.5h0M274.7 85.2h0M275 81.6h0M277 119.2h0M274.2 81.8h0M276.3 75.6h0M277.1 79.2h0M277.4 91.1h0M276.8 96.5h0M274 70.2h0M275.6 100.8h0M274.6 123.7h0M274.3 93.7h0M274.7 91h0M276.5 113.9h0M276 117.9h0M274.3 67.2h0M274.9 93.4h0M274.1 84h0M277.3 106h0M276.6 122.8h0M275.6 98.4h0M277.4 76.2h0M277.4 107.6h0M274.6 127.8h0M274.8 98.3h0M274.5 100h0M276.2 94.8h0M276 114.1h0M275.7 100.9h0M276.7 104.9h0M275.8 82.5h0M275 92.8h0M276.3 82.6h0M277.3 95.8h0M274 130.9h0M275.6 87.4h0M274.3 82.7h0M276.6 82.6h0M275.4 96.2h0M276.9 128.6h0M276.3 103.9h0M277.4 89.3h0M276 75.6h0M276 101.5h0M277.4 105.2h0M276.8 109.6h0M275.1 80.7h0M274.2 82.7h0M277.2 128.4h0M274.1 77.8h0M277.2 111.8h0M277.3 122.7h0M276.3 124.2h0M277.3 108.7h0M276.1 117.7h0M276.6 107.7h0M276 92.7h0M274.7 89.1h0M274.1 103.6h0M276.6 124.8h0M275.5 102.4h0M274.3 107.8h0M275.9 127.8h0M274.8 93h0M274.8 121.8h0M277.1 127.7h0M276.1 73.7h0M276.6 81.6h0M276.9 74.7h0M275.4 93.4h0M275.5 102.4h0M275.4 96.7h0M275.2 120h0M276.7 84.5h0M277.1 91.1h0M274.9 100.8h0M276.5 129.3h0M274.6 97.1h0M273.9 72.2h0M276.4 74.4h0M276.7 82.7h0M275.1 101.7h0M277.5 93h0M276.5 87.1h0M275 92.2h0M276.6 80.1h0M277 107.1h0M274.3 112.2h0M277.2 120.3h0M275.4 85.6h0M274.8 79.9h0M275.2 95.1h0M275.8 87.4h0M275.8 94h0M274.9 92.5h0M274.1 103.9h0M276.2 102.3h0M276.5 78.1h0M276.4 99.8h0M275.3 95.8h0M277 78.2h0M273.9 81h0M274.3 102.1h0M273.9 91.4h0M275.9 113.5h0M275.8 93.2h0M274.7 90.5h0M275.8 95.1h0M273.8 92.6h0M274 89.9h0M277.4 110.5h0M277.1 93.8h0M274.1 104.3h0M276.3 112.6h0M275.7 99.5h0M275.8 72.4h0M276.9 99.3h0M276.2 106.8h0M277.3 104.1h0M276.4 116.7h0M277.2 88.1h0M274.3 113h0M276.9 82.1h0M275 82.2h0M277.2 86.9h0M276.8 56.6h0M295.1 122.2h0M292.8 71.4h0M293.1 91.8h0M293 89.5h0M292.3 114.3h0M292.8 100.8h0M294.4 107.9h0M292.2 75.9h0M293.3 81.9h0M292.6 92h0M293.7 109.6h0M294.4 117.4h0M291.9 102.9h0M293.3 109.5h0M292.2 92.4h0M293.9 116.7h0M294 91.1h0M292.3 94.1h0M292.4 106.1h0M292.6 91.1h0M292.7 106.9h0M294.8 99.5h0M294.8 105.5h0M294.4 72.3h0M293 113.5h0M293.2 91h0M292.3 107h0M293.2 102.2h0M295 83.7h0M291.9 95.9h0M293 95.2h0M292.2 102.3h0M294.6 72.1h0M292.6 84h0M293.3 115.3h0M291.7 96.8h0M294.1 115.9h0M293.4 92.6h0M294.5 108.2h0M294.2 77.3h0M294.3 78.6h0M292.5 80.6h0M292.4 109.2h0M293.7 90.3h0M291.7 80.5h0M295 106.8h0M294.2 94.1h0M293.3 109.1h0M292.9 92.1h0M291.8 77.9h0M293.6 95.4h0M294.4 97.6h0M292 84.7h0M291.9 76.3h0M294.1 107.4h0M293.3 83h0M294.4 115.1h0M293 102.2h0M295.2 99.8h0M294.7 77.5h0M292.7 110.4h0M293.5 79.2h0M293.7 113.9h0M293.2 92.2h0M294.5 84.2h0M294.1 93.1h0M294.5 92.2h0M292.5 113.8h0M293.4 96.1h0M293.5 81.9h0M293.7 119.9h0M291.6 72h0M294.5 111.1h0M293.2 81.9h0M292.1 87.8h0M294.7 105h0M293.6 105.1h0M294.3 87.9h0M294.3 101.1h0M293.8 83.6h0M294.9 90.7h0M291.7 97.1h0M292.8 73.9h0M292.1 94.6h0M293.9 112.5h0M292.3 100.5h0M291.6 100.5h0M292 75.5h0M292.2 85.5h0M293.5 103.1h0M293.2 103.2h0M293.2 92.8h0M291.6 93h0M293.5 71.9h0M292.5 102.9h0M291.9 105.3h0M291.7 98.8h0M292.1 100.1h0M293 82.8h0M292.1 92.6h0M293.2 101.2h0M292.1 97.1h0M294.2 105.4h0M294.8 96.2h0M292.7 94.7h0M291.8 75.3h0M295.1 108.4h0M291.8 79.3h0M293.9 92.9h0M294.3 107.1h0M293.3 72.6h0M294.8 88.8h0M292.1 111.2h0M294.2 99h0M294.9 100.2h0M294.8 109.9h0M294.7 91.7h0M293.1 93.9h0M293.4 78.3h0M294.7 96.8h0M292.9 119.6h0M292.5 80h0M291.6 81.4h0M292.3 104.9h0M292 77.9h0M295 91.9h0M292.7 109.2h0M292.8 85.5h0M295.1 90.1h0M294.1 99.7h0M293.1 87.7h0M291.9 103.4h0M292.9 92.9h0M292.6 89.9h0M295 86.2h0M293.1 87.6h0M295.1 99.2h0M292.5 88.7h0M291.7 85h0M294.8 107.5h0M291.8 81.9h0M294.4 106.1h0M293.7 80.2h0M292.6 91h0M294.6 90.2h0M293.1 113.5h0M295.2 104.2h0M293.6 90.6h0M295 90.3h0M295 95.5h0M292.9 97.6h0M294.1 78.2h0M294.2 103h0M293.9 87h0M291.6 83.5h0M294.1 88.5h0M294.3 91.3h0M292.2 110.8h0M291.9 75.2h0M291.8 77.7h0M293.5 106.1h0M291.9 105.5h0M294.7 107.7h0M293.1 114.3h0M295.2 94.3h0M294.2 107.6h0M293.1 92.6h0M292.2 88.1h0M293.1 103.5h0M293.8 111.2h0M294.7 130.2h0M309.9 105.2h0M310.1 65.9h0M309.4 94.1h0M311 79.5h0M311.7 78.2h0M310.7 80.2h0M311.4 79h0M311.4 90.4h0M309.4 70.1h0M309.4 95.8h0M311.1 79.7h0M312.6 86.9h0M311.8 101.8h0M310.9 76.1h0M310.2 87.1h0M309.7 77.8h0M311.6 72.9h0M312 82.7h0M310.7 91.1h0M309.5 86.4h0M310.2 85h0M311.8 71.2h0M312.1 76.7h0M310.7 69.9h0M312.5 77.5h0M310.7 92.1h0M309.3 76h0M310 75.5h0M312.5 85.6h0M311.8 80h0M309.5 87.6h0M310.3 97.2h0M310.7 85.2h0M311 77.3h0M309.3 88h0M312.6 92.5h0M311.2 74.4h0M310.2 82.3h0M309.3 74.1h0M311.3 92h0M312.7 88.5h0M311.9 94.6h0M312.4 92.2h0M312.4 79.7h0M311.7 82.9h0M309.4 89.3h0M310.4 81.5h0M311.4 97.7h0M310.7 88.2h0M310 99.7h0M309.5 99.7h0M312.4 98.2h0M311.7 95.5h0M310.3 70.2h0M310.9 71.8h0M312.4 73.1h0M309.7 90.2h0M311.5 78.7h0M310.1 95.9h0M312.6 89.9h0M312.2 82h0M312.7 100.7h0M310.6 82.4h0M311.1 78.8h0M310.4 87h0M310.5 85.6h0M312.7 82.9h0M312.8 95.9h0M312.9 79h0M312.6 83.2h0M311 91.8h0M311.7 69.7h0M312.6 81.8h0M310.8 77.7h0M312.6 67.5h0M312.2 89.4h0M310.3 86.5h0M310.5 102.1h0M311.8 86.5h0M309.8 80.4h0M310.2 79.3h0M309.9 82.4h0M309.6 97.3h0M312.6 93h0M312.9 103.3h0M312.2 98.5h0M311.1 83.3h0M312 81.5h0M311.8 93.7h0M310.8 86.4h0M311.1 92.6h0M309.7 78.6h0M310.1 78.6h0M310.5 90h0M310.5 89h0M311.6 96.9h0M310.1 89.1h0M310.1 84.5h0M312.4 76.4h0M312.1 79.1h0M312.7 70.9h0M312.1 87.7h0M309.9 93.6h0M311 75.1h0M312.3 75.9h0M312.2 91.1h0M310.1 74.3h0M311 84.5h0M311.4 84.6h0M309.3 67.9h0M310.1 79.4h0M312 81.5h0M311.7 87.5h0M310.9 82.5h0M311.3 74.6h0M311.2 80.2h0M310.5 92h0M309.5 80.3h0M312 85.4h0M312.1 81.6h0M310.8 86.2h0M312.1 101h0M312.3 88.3h0M311.8 99.8h0M312.2 78.1h0M312.8 89h0M309.4 81.4h0M312.7 82.1h0M310.9 75.3h0M312.1 82.6h0M311.9 97.8h0M309.6 75.7h0M311.4 89.7h0M309.5 90.2h0M311.9 82.4h0M310.5 87.4h0M310.6 85.8h0M310.2 80.3h0M312.2 97.1h0M311.6 84.3h0M310.3 83.7h0M312 71.5h0M309.9 72.6h0M312.2 91.1h0M311.4 88.8h0M312 93.5h0M311.5 80.9h0M312.9 69.9h0M311.8 94.7h0M310.9 87.9h0M311.4 92h0M311.3 79.6h0M310.3 80.5h0M310.3 84.7h0M312.2 78.2h0M312.2 92.4h0M312.8 88.1h0M311.7 80.1h0M311.1 65.9h0M310.7 84.7h0M311.8 83.6h0M311.6 72.6h0M312.7 83.5h0M312 72.7h0M310.6 82h0M310.2 74h0M309.4 82.5h0M312.1 93.8h0M310.8 93.1h0M310.7 80.5h0M309.4 67.1h0M311 67.6h0M312.5 87.5h0M310.2 95.8h0M312 93.1h0M312 75.7h0M311.7 100h0M311.4 75.9h0M310.1 80.9h0M311.7 78.4h0M311.4 96.8h0M312.8 80.7h0M311.1 75.9h0M310.5 84.7h0M312.6 75.1h0M311.5 83.9h0M310.5 81.2h0M311.6 87.5h0M309.8 98.3h0M309.9 85.8h0M312.5 79.8h0M310.9 92.1h0M312.2 104.5h0M310 100.4h0M311 72.5h0M310.1 86.5h0M312.2 92.2h0M311.4 72.9h0M310.7 86.1h0M310.6 100h0M310 88.9h0M310 93.4h0M311.8 86.2h0M310.4 93.7h0M309.6 83.7h0M310.6 80h0M310.9 90.2h0M312.9 86.3h0M310.6 85.9h0M310.7 76.6h0M312.8 91.7h0M311.9 77.3h0M310.9 73.1h0M310.7 86.2h0M310 94.3h0M309.8 87.4h0M311 102.6h0M311.6 89.9h0M309.6 96.7h0M311 85.9h0M309.9 88.2h0M311.4 79.4h0M310.5 83.2h0M311.7 80.3h0M312.1 84.8h0M310.7 81.6h0M310.6 96h0M309.5 78.1h0M310 72.6h0M311.5 74h0M312.2 98.2h0M309.7 80.3h0M312.8 101.1h0M312.6 77.2h0M310.6 86.4h0M311.2 89h0M311.7 92h0M310.4 86.7h0M310.6 84.4h0M311.9 94.3h0M311 83.8h0M310.8 81.8h0M311.3 79.6h0M309.6 84.6h0M311 84.4h0M310.3 75.2h0M309.8 81.2h0M311.2 98.7h0M311.8 78.5h0M311.2 79.1h0M311.1 86h0M311.7 80.7h0M310.8 84h0M312.8 83.3h0M310 85.9h0M309.2 71.5h0M311.3 80.9h0M311.8 87.1h0M310.6 86.7h0M310.7 93.2h0M310.5 89.7h0M310.1 81.4h0M312.1 82.8h0M312.4 81.6h0M310.2 71.8h0M311.3 74h0M310.9 80.3h0M309.7 83.9h0M311.9 84.8h0M311.2 86.7h0M312.9 75h0M312.6 97.4h0M312.6 95.1h0M310.2 89h0M309.6 94.3h0M312.2 91.9h0M309.6 73.2h0M311.8 78.9h0M309.9 97.9h0M311.8 86.7h0M309.4 90.3h0M309.5 94.6h0M312.4 99.7h0M311.1 83.5h0M310.9 88.3h0M312.8 74.1h0M312.1 67.6h0M310 87.2h0M311.8 92.6h0M310.6 87.2h0M310.9 80h0M310.4 75.6h0M310.1 94.2h0M310.3 79.8h0M310.2 84.6h0M309.9 73.7h0M312.4 88.5h0M310.6 86.3h0M311.3 93.1h0M312.2 98.1h0M311.7 59.4h0M309.8 129.1h0M328.4 135.7h0M329.3 72.5h0M328.4 124.4h0M330.1 129.2h0M327.5 105.9h0M330.1 129.4h0M328.5 89.8h0M329.8 73.5h0M328.4 103.6h0M327.9 121.2h0M330.2 96.6h0M329.3 114.7h0M329.6 120.2h0M328.8 91h0M329.5 92.6h0M330.4 106.3h0M329.6 90.8h0M330.5 123.1h0M328.2 92.4h0M328 110.6h0M330.2 121.2h0M330 132.5h0M330.2 85.9h0M328.5 120.4h0M328.4 92.1h0M330.4 123.1h0M327.6 113.9h0M327.5 107.5h0M327.5 109.1h0M328 99.8h0M328.4 105.7h0M328.3 108h0M328.6 93.1h0M327 98.6h0M328.2 112.5h0M328.8 103.1h0M327.1 114.5h0M328.7 126.8h0M330.2 89.4h0M329.3 89.3h0M330.4 108.2h0M330.1 77.9h0M328.7 82.4h0M327 94.4h0M327.1 106h0M329 115.3h0M330 83.4h0M328.1 97.4h0M327.4 127.5h0M329.7 130.2h0M328.9 104.3h0M328.6 109.7h0M327.4 104.7h0M328.9 119.6h0M329 94h0M329.5 111.7h0M330.2 116.7h0M327.2 83.5h0M330 94.1h0M328.1 93.2h0M328.4 99.9h0M328.2 94.9h0M329.9 101.2h0M328.5 104.3h0M327.2 116.6h0M328.7 91.4h0M327.4 105.2h0M327 96.3h0M327.1 128.7h0M328.3 117.5h0M328.6 121h0M326.9 85.2h0M327.4 81.3h0M330.2 86.9h0M328.9 113.2h0M330.5 101.5h0M328.9 97.9h0M330.4 105.7h0M329.5 109.4h0M328.3 92.4h0M327.1 108.3h0M327.4 104.8h0M329.8 97.4h0M329.4 130.8h0M328 105.5h0M327.5 100.5h0M329.3 80.8h0M330.3 121.1h0M327.8 103.2h0M330.6 115h0M328.9 82.4h0M327.7 110.5h0M327.6 95.3h0M329.5 107.3h0M330.3 113.7h0M327.7 87.7h0M327.8 117.7h0M327.4 106.6h0M327.7 107h0M327.7 97.8h0M328.4 76.8h0M327.8 93.8h0M329.4 103.2h0M327.8 85.2h0M327.9 95.3h0M328.4 86.2h0M327.5 83h0M327.1 130.5h0M327.2 95.9h0M326.9 126h0M329.4 98.7h0M327.1 90.1h0M328.7 100.3h0M330.2 117.8h0M329.2 90.9h0M328 109.6h0M328.4 112.6h0M328.5 112.8h0M328.1 106.3h0M327.1 116.8h0M327.5 126.5h0M327.4 92.2h0M327.7 100h0M328.1 111.8h0M327.3 99.1h0M329.2 94.5h0M327.6 101.6h0M328.8 127.7h0M329.5 110h0M328.7 132.2h0M329.6 102.2h0M329.8 85.7h0M328.6 89.4h0M327.7 103.7h0M327.1 114h0M329.5 111.4h0M328.3 101.1h0M328 114.6h0M327.2 126.5h0M327.6 95.6h0M330.2 100h0M328.6 81.2h0M330 108.2h0M330 101.2h0M327.8 86h0M327.7 90h0M330.2 93.6h0M327.8 125.6h0M329.1 88.9h0M330.4 121.9h0M328.6 98.7h0M328.5 133.8h0M330.4 120.2h0M330.1 115.1h0M330.3 98h0M329.5 94.3h0M327.7 97.5h0M327.1 100.2h0M327 114.3h0M330.3 95.9h0M328.9 131.5h0M330.2 115.5h0M330.4 108.1h0M327.8 98.9h0M330.5 113h0M327.9 113h0M327.6 109.7h0M327.9 93.9h0M330.6 99.7h0M330.4 103.6h0M328.2 102.3h0M328.7 75.8h0M329.9 99.5h0M329.9 83.2h0M330.2 127.8h0M328.2 101h0M327.8 102.6h0M328.8 94.6h0M330.4 116.1h0M329.2 118h0M330.1 83.8h0M327.6 118h0M328.8 106.8h0M330.3 99.5h0M329 97.8h0M329.8 112.2h0M329.9 93.2h0M328.5 101.4h0M329.5 116.4h0M329.5 106.1h0M328.5 122.7h0M328.8 102.9h0M329.9 104.8h0M330.2 96.3h0M330.6 129.3h0M328.3 90.1h0M329.4 91.4h0M328.9 89.1h0M330.1 96.5h0M327.8 123.2h0M328.6 124.9h0M327.8 74.4h0M329.9 93.6h0M329.5 109.7h0M326.9 86.8h0M327.3 133h0M327.4 94.8h0M329.1 118.7h0M329.8 117.8h0M328.2 107.2h0M327.2 109.2h0M329.1 97.4h0M329.2 98.8h0M328.5 93.6h0M327.9 79.6h0M328.2 130.7h0M327.8 113.7h0M329.9 122.5h0M328.3 98.7h0M329.5 99h0M328.9 118.3h0M327.7 96.4h0M327.9 105.7h0M329.4 86h0M330.1 104.4h0M330.3 130.4h0M327.5 90.5h0M327.9 113.6h0M327.3 99.3h0M327.6 117.5h0M328.3 102.3h0M329.6 105.4h0M330.3 76.9h0M329.1 117h0M327.4 86.1h0M328.3 106.7h0M327.4 96.8h0M327.9 98.8h0M329 130.9h0M328.8 110.2h0M327.5 125h0M327.9 95.6h0M330.2 87.5h0M329.2 90.3h0M329.1 128.1h0M328.1 122.9h0M328 116.2h0M329.7 101.6h0M327 99.4h0M329.3 102.4h0M330.4 106.6h0M329.3 104.5h0M327.1 88.2h0M327 111.6h0M329.8 127.4h0M327.6 79.7h0M328.5 131.2h0M329.3 105.7h0M329.4 92.3h0M328 93.9h0M329.4 94.3h0M330.3 79.9h0M328.6 120.5h0M328.4 112.5h0M329.4 91.8h0M330.1 103.3h0M329.4 77h0M330.3 100.6h0M329.8 92.1h0M330.4 91.4h0M327.8 89.3h0M329.4 108.5h0M327.7 84h0M327.3 106.6h0M328.2 115.2h0M330.4 91.2h0M328 90.1h0M328 118h0M330.3 94h0M330.5 110.6h0M329.7 97.1h0M328.2 85.8h0M329.9 86.4h0M327.1 120.2h0M326.9 122.1h0M327.1 116.3h0M328.1 118.6h0M327.8 92.6h0M330.1 121.3h0M328.6 107.7h0M330 105.2h0M328.7 88.8h0M328.3 88.1h0M328.2 106.1h0M327.1 101.4h0M328.6 111.8h0M330.4 114.4h0M330.5 111.5h0M330.3 102.8h0M327.3 90.7h0M328.5 65.9h0M330 143.5h0M327.5 146.3h0M327.1 148.3h0M346.5 117.8h0M346.2 64.6h0M347.4 95.2h0M346.4 89.8h0M345.2 80.1h0M345.6 80.8h0M346.7 82.8h0M347.1 99.9h0M346.9 68.2h0M347.4 74.6h0M345.9 88.3h0M347.4 97.4h0M346.7 89.4h0M345.5 92.4h0M345.1 98.2h0M346.9 89.3h0M347.7 97.7h0M348.1 81.3h0M347.6 97.6h0M347.6 83.2h0M346.8 85.1h0M345.5 87.1h0M345.7 82.7h0M347.8 104h0M345.6 99.1h0M346.4 80.3h0M346.6 88.9h0M344.7 94.6h0M345 68h0M345.3 76.1h0M347.5 93.1h0M347.5 82.3h0M344.9 80.8h0M345.2 70.6h0M348.2 76.8h0M345.2 91h0M347.5 92.8h0M346.8 104.6h0M347.8 85.9h0M347.3 78.8h0M345 94.8h0M347.4 81.1h0M347.2 87.5h0M344.7 95h0M348.1 106.7h0M345.7 75.9h0M346.3 82.5h0M346.5 104.7h0M346.6 102.8h0M346.7 86h0M344.8 81.3h0M347.7 70.6h0M346.5 66.6h0M345 86.9h0M346.4 87.5h0M345.3 84.3h0M346.2 94.3h0M347.3 92.6h0M347.4 76.3h0M345.2 112.4h0M345.7 90.8h0M348.2 82.3h0M346.9 112.9h0M345.3 90.9h0M346.8 70.4h0M345.5 84.5h0M344.9 80.5h0M347 80.6h0M345 86.4h0M345.1 84.6h0M347.1 100.8h0M348.2 91.6h0M344.8 66.6h0M347.4 105.5h0M345.1 91.5h0M344.8 106h0M344.7 96.8h0M344.7 99.3h0M347.3 106.8h0M347.9 86h0M344.6 102.7h0M345.1 82.7h0M344.8 67h0M346.1 91.5h0M345.8 117.4h0M345.3 90.9h0M347.6 84.5h0M345 86.5h0M346.9 74.8h0M345.1 87.1h0M347 112.3h0M345.1 70.7h0M345.3 101.7h0M348.2 90.4h0M345.6 85h0M346.3 101.8h0M347 87.7h0M348.3 70.8h0M346.6 111.8h0M345 113.1h0M347.1 94.9h0M347.1 91.5h0M346.8 106.2h0M346 78.2h0M347.6 84.3h0M344.8 106.9h0M346.6 82.1h0M346.6 89.6h0M348 87.1h0M347.5 107.1h0M345.5 92.2h0M346 83.2h0M346.8 114.3h0M346 103.2h0M344.8 77.2h0M348.3 65.7h0M346.3 81h0M345.1 89.7h0M345.2 104.7h0M344.6 94.3h0M348 92.7h0M345.1 83.7h0M346.7 92.7h0M348.1 72.9h0M347.4 105.9h0M346.8 88.8h0M345.6 77h0M347.1 84.1h0M347.6 111.4h0M345.4 72.6h0M345.4 81.9h0M346.1 79.5h0M346.8 83.4h0M347.9 71h0M346.8 95.5h0M345.6 96.3h0M347.3 103.7h0M345.1 85.9h0M345 83.7h0M344.6 77.9h0M346.7 71.3h0M346.7 81.5h0M346.3 74h0M346.6 92.2h0M345.3 103h0M345.4 80.3h0M346.8 76.6h0M346.1 73.2h0M346.4 91.4h0M348 95.3h0M346.3 94.3h0M347.3 84.6h0M344.8 89.7h0M346.4 91.3h0M344.8 85.9h0M345.3 92.8h0M345.3 84.9h0M346 97.1h0M345.2 111.3h0M348 93.1h0M345.7 65.9h0M345.7 100h0M344.9 77.8h0M346 73.1h0M347.5 96.9h0M346.6 85.8h0M347.9 82.2h0M346.9 70.2h0M347 86.7h0M346.2 117.8h0M347.7 96.8h0M346.3 99.7h0M345.1 87.5h0M345.4 85.5h0M347.5 94.5h0M344.8 93.5h0M345.3 100.1h0M346.9 82h0M347.1 86.5h0M346.3 84.8h0M347 95.8h0M346.1 83h0M346.8 93h0M344.7 85.4h0M346.1 91h0M348.2 98.6h0M346.7 104h0M345.9 115.9h0M346.9 107.7h0M348.2 83.3h0M346.3 112.7h0M346.1 100.1h0M347.6 89.1h0M347.7 92h0M345.4 105h0M347.1 83.9h0M345.7 105h0M345.9 73.8h0M347.6 104.9h0M345.9 90.5h0M348 97.6h0M346.4 79.6h0M347.8 109h0M345.1 85.2h0M346.1 86.3h0M344.7 82.1h0M347.8 83.9h0M347.9 87.1h0M346.4 113.5h0M346.3 93.7h0M348.2 102h0M346 82.5h0M345.7 92.1h0M345.1 87.1h0M348 75.9h0M347.6 90.5h0M346.5 69.1h0M347.3 78.8h0M347.7 109.5h0M347.1 97.4h0M345 74.6h0M347 96.2h0M347.8 74.8h0M346.3 97.1h0M346.2 90.6h0M347 76.4h0M345.3 110.8h0M345.4 88h0M347.1 95.2h0M348.3 86.9h0M345 68.8h0M347.1 83h0M346.5 107.7h0M344.7 77.2h0M345.2 95.2h0M345.7 87h0M347.2 75.3h0M345.1 93.5h0M346 77.6h0M346.9 86.8h0M347.4 101.5h0M348.3 93.4h0M347.7 107.8h0M345.3 74.5h0M346.7 87h0M346.8 77.1h0M346.6 104.4h0M346.8 78.6h0M346 105.5h0M345.5 85.5h0M347.1 89.1h0M347.8 97.5h0M347.1 85.3h0M347 88.5h0M348.1 101h0M345.5 99.7h0M346.7 107.1h0M347.7 72.2h0M347 87.2h0M344.6 94.2h0M346.5 80.8h0M347.6 101.4h0M345.3 105.1h0M346 84.6h0M348.2 70.2h0M346.3 85.3h0M346.6 87.1h0M346.8 67.7h0M347.7 110.5h0M346.3 104.3h0M347.9 90h0M347.2 107.6h0M346.1 106.5h0M346.9 92.3h0M345.7 102h0M344.8 97.9h0M346.4 85.8h0M344.8 103.7h0M345.7 92.5h0M347.7 79h0M348.2 93.3h0M345.3 93h0M345.2 96.4h0M345.9 90.6h0M346.3 114.9h0M345.1 95.1h0M347.6 96.5h0M345.2 103.3h0M346.6 73.5h0M345.6 65.3h0M347 79.2h0M345 101h0M346.4 71.6h0M347.7 83.1h0M344.7 100.8h0M345.3 81.8h0M344.9 97.3h0M347.7 82.2h0M347.1 77.7h0M345.5 75.3h0M347.9 16.3h0M345.2 127.8h0M346.4 123.2h0M362.3 118.9h0M363.1 66.8h0M365 98.4h0M365.5 79.5h0M364.3 80.4h0M365.6 97.9h0M362.6 103.3h0M363.2 89.5h0M365.3 100.8h0M365.2 108.7h0M363.1 78.6h0M364.4 114h0M363.9 96.8h0M365 92h0M363.8 77.7h0M363.5 95.4h0M365.1 102.5h0M364.9 102.5h0M363.6 106h0M364.9 88.2h0M363.3 100.7h0M364.1 88.7h0M363 112.3h0M363.6 100.5h0M363.8 90.7h0M362.6 96.6h0M363.4 79.4h0M363.6 91.4h0M363.5 74.5h0M364.2 108.5h0M365.6 85.1h0M365.4 107.3h0M363.4 86.3h0M362.8 74.6h0M362.6 105.1h0M365.6 89.9h0M365.1 88.9h0M365 103.7h0M365.6 91.9h0M363.8 107.5h0M362.9 81.7h0M362.6 83.1h0M363.8 97.3h0M365.1 86.2h0M362.6 97.5h0M363.9 116.5h0M362.6 91.1h0M363.1 100.5h0M364.3 104.4h0M364.7 82.6h0M365.8 81.9h0M363.5 87h0M363.1 73.1h0M362.5 102.5h0M363 100.4h0M362.4 89.4h0M362.3 91h0M362.7 97.9h0M364.3 95h0M364 106.3h0M365.6 92.6h0M364.1 80.5h0M362.6 102.8h0M362.8 87.4h0M364.9 97.5h0M365.9 97.3h0M365.1 94.2h0M363.1 74.1h0M363.6 88.5h0M363.9 85.7h0M363.9 93.7h0M363.3 82.7h0M362.9 95.7h0M362.4 94.4h0M365.5 101.2h0M365.9 112.8h0M365.9 74.4h0M363.7 70.3h0M364.8 73.2h0M363 116.1h0M362.7 87.6h0M362.3 108.8h0M363.5 97.6h0M365.2 101.5h0M364.2 102.5h0M363.1 104.3h0M364.1 100.9h0M364.3 85h0M363 72.7h0M363.9 82.9h0M365.7 95.6h0M363.9 97.4h0M365.9 98.3h0M365 96h0M362.8 102.5h0M365.7 97.8h0M364.8 83.5h0M363.9 98.3h0M363 104.7h0M364.7 97.1h0M363 94.3h0M364 96.7h0M362.8 98.5h0M363.8 86h0M365.9 96.1h0M364.5 106.9h0M364.2 87.5h0M364.6 103.7h0M364.7 84.6h0M364.5 84.4h0M363.3 88.7h0M363.1 91.5h0M364.5 110.8h0M365.7 98h0M365.5 93.7h0M364.1 86.9h0M363.4 108.2h0M364.5 97.5h0M362.5 112.9h0M364.1 93.3h0M365.2 94.4h0M365.9 94.1h0M362.6 72.1h0M363 85.6h0M364.1 97.8h0M364.5 102.2h0M365.8 100.6h0M362.7 84.9h0M362.8 82.6h0M364.1 101.4h0M365.2 96.9h0M362.4 100.6h0M363.7 85.8h0M364.9 93.1h0M363.8 103.7h0M362.9 105.6h0M362.5 77.1h0M365.1 111.3h0M364.2 116.1h0M364.3 101.7h0M364.8 83.4h0M365.1 88h0M363.8 83.6h0M363.6 80h0M365.7 100.9h0M362.6 96h0M365.2 81.6h0M364 88h0M364.3 104.2h0M363.2 104.1h0M365.8 111.9h0M363.4 92.2h0M363.5 101.6h0M362.5 113h0M365.6 101.9h0M365.4 91.3h0M362.5 92.9h0M362.8 98.2h0M363.3 93.2h0M362.4 86.7h0M364.1 109.2h0M365.4 104.8h0M364.9 81.7h0M364.1 85.6h0M365.9 111.5h0M363.4 103.8h0M363.5 74.9h0M363.3 85.3h0M364.5 97.2h0M364 81.6h0M362.7 76h0M364.1 76.2h0M365.9 111.4h0M365.5 110.1h0M364.6 101.4h0M365.5 96.3h0M364.1 99.6h0M364.1 92.4h0M364.9 74.4h0M363 80.5h0M364.5 81.4h0M364.1 95.8h0M363.4 72h0M364.1 89.4h0M362.9 92.1h0M364.7 96h0M362.7 116.5h0M363.9 95.9h0M362.5 83.3h0M364.3 97.9h0M362.6 108.8h0M365.3 81.6h0M362.3 92.1h0M365.3 106.2h0M363.4 81.8h0M365.8 95.6h0M363.5 106.4h0M362.8 106.9h0M364.8 90.5h0M363.2 107.4h0M365.3 82.3h0M364 91.3h0M363.3 92.3h0M364.5 96.6h0M363.1 83.2h0M363.3 95.3h0M362.6 80.7h0M363.2 76.1h0M363.1 83.3h0M362.9 106.4h0M363.8 86h0M363.9 98.7h0M364.5 91.1h0M364.3 82.3h0M364.8 103.1h0M364.6 92.9h0M364 74.5h0M365.4 105h0M362.8 97.8h0M363.3 85.7h0M362.3 98.2h0M365.6 81.6h0M365.5 107.1h0M363.8 112.3h0M365.4 90.1h0M364.4 97.3h0M365.7 91h0M365.6 82.4h0M363.5 80.5h0M363.3 99.6h0M363.8 100h0M365.8 117.1h0M364 106.7h0M363.6 92.4h0M362.4 92.4h0M363.7 112.1h0M365.7 84.3h0M363.8 96.2h0M365.2 79.8h0M365.6 99.7h0M365.7 81.7h0M365 108h0M364.1 116.7h0M363.4 104.6h0M365.8 85.5h0M365.3 90.1h0M365 117.1h0M362.5 93.7h0M364.7 85.9h0M364.8 72.6h0M362.8 84.3h0M363.5 88.7h0M364 113.6h0M363.2 90.6h0M362.7 118.1h0M362.8 99h0M364 99.8h0M362.3 106.4h0M365.2 107.2h0M363.8 97.3h0M363.3 87.2h0M363.2 102.9h0M363.5 91.2h0M364.5 86h0M364.9 95.9h0M363.9 69.4h0M364.9 99.2h0M364.4 103.8h0M365.3 117.3h0M365 81h0M365.1 85.8h0M362.4 97.8h0M363.6 91.1h0M362.7 97.2h0M365.4 83h0M362.9 95.9h0M365.7 92.3h0M363.5 96.6h0M362.8 105.7h0M364.9 87.7h0M363 109.4h0M363.6 89.8h0M363.9 86.9h0M364.6 68.5h0M364.2 103.9h0M364.7 93.4h0M365.2 82.7h0M365.9 103.2h0M364.6 102.2h0M363.9 89.1h0M364.1 67.3h0M363.6 80.1h0M365.4 82.6h0M364.3 106.6h0M364.9 86.7h0M365.3 79.2h0M364.9 109.6h0M365.6 95.4h0M364 97.9h0M364.9 86.3h0M365.6 127.8h0M364.1 146.7h0M379 107.5h0M379.5 81h0M377.2 100.4h0M379.7 88.3h0M378.4 83.7h0M378.8 100.9h0M379.7 99.9h0M377.3 98.8h0M378.2 84.5h0M379.1 85h0M376.5 96.4h0M377.9 91.7h0M378.5 105h0M378.1 97.9h0M378.3 97.9h0M379.6 97.1h0M376.9 94.1h0M379.1 104.5h0M377.5 102.1h0M376.8 105.8h0M378.2 95.9h0M376.9 90.8h0M378.2 92.8h0M377.1 95.9h0M378.1 104.8h0M377 98.9h0M380.2 104.5h0M377.2 81.5h0M378.1 93.8h0M378.7 90.8h0M379 94.9h0M376.9 98.5h0M379.6 87.8h0M377.8 89.7h0M376.8 91.8h0M378.1 91.9h0M378.8 91h0M377.8 97.9h0M379.2 93.2h0M377.6 95.7h0M379.5 97.7h0M379.9 91.4h0M379.5 107.4h0M376.7 86h0M378 98.7h0M378.4 87.7h0M377.9 101.9h0M377.2 97.3h0M378.6 88.6h0M376.9 96.7h0M377.1 93.7h0M378 102.7h0M380.2 102.6h0M377.9 84.3h0M380 95.2h0M379 96.8h0M378.9 103.9h0M379.9 101.8h0M378.6 102h0M379.2 96.6h0M378.2 97h0M379.4 99.5h0M379.7 100h0M376.5 95.6h0M379.9 87.5h0M376.6 103.7h0M378.8 104.1h0M376.7 88.2h0M379.3 104.2h0M378.1 98.5h0M377 95.5h0M379.6 83.2h0M377.4 96.8h0M379.8 88.6h0M377.9 95.3h0M378.5 100.6h0M378.1 94.9h0M379.3 107.1h0M377.8 90.1h0M378.4 85.7h0M377.3 97.5h0M377.7 90.4h0M376.9 102.1h0M377.4 85.7h0M377.5 99.9h0M379 100.5h0M377 74.7h0M377 111.5h0M380.1 119.1h0M378.8 127.8h0M397.8 134.6h0M401.1 79.2h0M398.7 133.2h0M398.4 129.6h0M399.5 115.3h0M399.4 102.2h0M399.5 128.9h0M400.3 116h0M398.3 91.3h0M400.6 104h0M398.9 117.7h0M399.1 110.3h0M401 107.4h0M400.4 114.2h0M400.4 112.9h0M400.6 116.9h0M399.2 105.9h0M398.9 85.7h0M399.6 88.3h0M400.8 124.4h0M398.3 110.4h0M400.3 126.1h0M399.4 127.5h0M401.2 107h0M400.3 105.5h0M401.1 116.8h0M399.2 118.9h0M399.4 111.7h0M398.6 105.1h0M398.4 99.4h0M398.8 100.7h0M398.5 116.3h0M400 105.3h0M399.8 103.4h0M400.4 97.6h0M400.4 127.4h0M401.2 86.7h0M399.6 123.8h0M399.9 111.5h0M399.6 114.7h0M399.4 114.8h0M398.9 118.6h0M398.8 97.4h0M398.9 97.4h0M399.5 104h0M399.3 124.7h0M399.7 116.7h0M400.1 109.6h0M401.3 103.3h0M399.8 115.8h0M401.3 112.3h0M398.8 108.1h0M399.9 112.6h0M399.8 118.2h0M399.3 85.8h0M399.4 96.5h0M398.5 123.5h0M401.3 97.4h0M397.9 106.6h0M400.6 118.8h0M399.4 97.7h0M398.9 116.5h0M398.8 112.7h0M401.2 108.6h0M398.9 106h0M399.8 114.3h0M399.2 104.8h0M400.1 108.8h0M399.7 106.2h0M399.6 103.2h0M398.1 116.8h0M397.8 125.9h0M400.1 109.9h0M397.7 90.9h0M399.6 104.3h0M398.7 105.6h0M400.4 118h0M398.9 123.1h0M397.8 124.1h0M398.2 120.3h0M398.9 113.6h0M400 128h0M400.3 110.5h0M400.7 128.4h0M401.2 99.7h0M399.7 109.2h0M397.8 130.4h0M400.1 115.7h0M399 105.7h0M399.9 103.3h0M398.3 98h0M399.1 113.2h0M398.6 110.8h0M400.2 111.8h0M401.2 101.3h0M399 117.5h0M399.5 111h0M400 106.7h0M400.5 113.3h0M399 122.3h0M398.7 89.7h0M400.1 101.6h0M398.8 120.1h0M399.5 80.3h0M400 118.3h0M399.7 119.7h0M401.3 113.5h0M398.9 101.1h0M398.5 87.7h0M399.2 89h0M401 101.1h0M400.8 107.9h0M397.9 99.6h0M398.3 118.6h0M398.5 117.6h0M400.5 101.2h0M400.2 106.2h0M398.3 105.4h0M400.6 121.4h0M400.9 105.3h0M400.7 126.5h0M398.9 95.4h0M400.7 108.9h0M398.6 116.8h0M401.1 114.7h0M398.2 117.5h0M399.1 89.5h0M398.8 93h0M400.7 108.6h0M400.5 105.4h0M399.6 120.7h0M399.6 124.9h0M398.7 105.4h0M399.8 114.4h0M397.8 101.5h0M400.3 93.9h0M401.2 110.3h0M399.3 101.4h0M399.4 106.3h0M399.8 105.7h0M399.1 115.3h0M401.1 105.6h0M398.5 102.5h0M399.5 107.9h0M400.2 114.5h0M400.4 126.7h0M398.8 122h0M398.1 86.7h0M400.2 94.1h0M398.1 104.8h0M400.7 104.6h0M397.7 110.8h0M400.9 99h0M400.7 95.3h0M399.5 112h0M401 104.6h0M400.5 95h0M400.1 128.2h0M398.6 120.5h0M398 116h0M398.1 123.2h0M398 114.3h0M400.2 119.3h0M400.3 113.8h0M401.2 101.9h0M399.1 123.3h0M399 107.4h0M400.8 89.3h0M400.6 106.1h0M401.3 123.9h0M397.7 116.3h0M401.2 92.4h0M399.2 112.1h0M400.6 116.6h0M398.4 97.5h0M399.7 117.7h0M400.4 122.6h0M400.3 100.3h0M400.2 108.6h0M398 116.9h0M401 102.1h0M397.9 93.3h0M400.7 93.2h0M399.8 107.5h0M400 102.2h0M398.5 101.9h0M400.6 127.1h0M400.5 85.3h0M398.6 117h0M401.1 115.8h0M399.2 119h0M400.8 120.7h0M398.5 93h0M399 108.9h0M398.4 116h0M397.8 131.2h0M398.2 106.4h0M398.2 109.6h0M399.6 121.6h0M399.4 110.2h0M398.1 131.3h0M401.1 99.8h0M400 123.9h0M399.6 101.9h0M398.7 107.4h0M399.2 122.6h0M401 117h0M399.2 97.4h0M399.5 100.5h0M401.1 99.7h0M399.1 85.1h0M400.8 112.4h0M397.9 115.2h0M400.3 131.9h0M398.1 121.5h0M398.7 100.7h0M398 119.2h0M400.9 119.6h0M401 95.4h0M400.6 89.1h0M399.5 90.2h0M398.1 130.8h0M399.6 102h0M401 109.1h0M400.3 95.7h0M397.7 113.1h0M401.3 110.3h0M401.2 88.9h0M399.8 116.1h0M397.7 103h0M400.3 99.7h0M400 110.4h0M397.7 96.2h0M399.3 101.6h0M397.7 96.9h0M397.9 129.7h0M400.2 121.6h0M400.5 104.8h0M398.9 92h0M398.2 88.5h0M398.7 108.6h0M398.5 118.1h0M399.7 122.3h0M398.7 132.6h0M401 115h0M397.7 100.7h0M398.5 109.7h0M400 126.9h0M399.3 110.1h0M398 108.3h0M399.1 118h0M398.7 88.2h0M400.6 102.5h0M398.5 93.3h0M400 107.4h0M400.2 120.8h0M399.2 93.2h0M397.8 93.2h0M399.6 116h0M398.1 125.2h0M398.5 97.1h0M401.1 115.9h0M398.3 123.1h0M401.2 110h0M398.2 100.9h0M397.8 118.1h0M397.8 108.3h0M400.8 94.8h0M401 98h0M398.7 127.9h0M398.9 98.5h0M398.9 83.6h0M400 95.6h0M398.8 110h0M399.4 103.5h0M400.1 128.1h0M398.7 116h0M398.2 115.3h0M400.1 108.9h0M400.1 120.8h0M397.7 84.8h0M399.3 91.1h0M400.8 129.1h0M399.9 111.3h0M400.2 129.5h0M401.3 93.9h0M398.4 82.1h0M399.1 121.8h0M398.2 121.6h0M401 101.1h0M399.8 103.9h0M400.9 96.5h0M400.1 121h0M398.9 96.2h0M400.3 112.4h0M398.7 101.3h0M399.5 105.7h0M400 88.9h0M400.5 124.6h0M398.6 125.9h0M400.5 140.7h0M399.7 162h0M419 126.9h0M417.3 72.5h0M416.2 87.8h0M418.7 97.3h0M418.3 94.9h0M418 86.3h0M416.9 84.7h0M416.2 106.6h0M417.7 94.8h0M418.5 93.7h0M418.1 107h0M418 86.9h0M415.6 93.9h0M417.1 103h0M416.4 82.3h0M417.3 91.7h0M417.8 110.7h0M417.6 91.9h0M415.4 93.6h0M416.5 87.6h0M416.4 85.3h0M416.9 78.1h0M416.4 93.3h0M416.1 86.2h0M416.2 85.8h0M417.2 92.1h0M418.6 88h0M416.2 98.3h0M418.9 84.1h0M417.8 106.3h0M418.7 75.2h0M418.6 115.4h0M418.1 92.5h0M418.7 86.9h0M416.1 89h0M417.7 119.7h0M416.7 86.6h0M416 106.3h0M416.4 88.5h0M417.7 97.8h0M415.8 95.1h0M415.7 117.9h0M418.5 113.3h0M418.4 100.3h0M415.5 109.1h0M416.1 88h0M415.4 114.9h0M417.3 88.2h0M419 85.5h0M415.9 103.8h0M417.5 107.2h0M417 96.5h0M418 83.6h0M417.5 78h0M418.1 89.3h0M415.7 85h0M419 88.4h0M418.3 90.7h0M415.8 109.7h0M415.4 96.6h0M418.4 80.4h0M418.2 78.6h0M416.8 101.2h0M418.8 118.8h0M417.7 73.7h0M417.2 89.9h0M415.5 86.2h0M417.1 93.4h0M416.8 123.1h0M417 87.6h0M416.6 107.8h0M418.5 95.3h0M416.7 101.6h0M415.7 95h0M416.3 77.5h0M418.4 125.8h0M417.3 117.5h0M416.6 99.4h0M418.6 102.1h0M419 83.3h0M416.9 77h0M415.9 103.5h0M416.5 85.4h0M415.8 94h0M418.6 125.2h0M418 79.9h0M416.5 75.5h0M417.8 105.1h0M418.5 84.9h0M419 99.6h0M416 92h0M417 98.5h0M417.7 92.8h0M417 89.7h0M417.3 101.1h0M417 87.7h0M416.9 113.2h0M417.5 83h0M416.8 107.2h0M416.4 124.1h0M416.9 83.2h0M418.2 96.4h0M415.9 99.7h0M417.1 82.2h0M416.2 90.9h0M418.8 73.2h0M415.4 86.6h0M416.6 116.2h0M418.9 99.2h0M418 102.4h0M416.2 95.4h0M418.1 75.4h0M417.2 75.2h0M415.7 86.4h0M415.7 85.3h0M415.5 88.8h0M416.4 78.5h0M416.9 72.8h0M418.9 99.6h0M418.6 90.7h0M417.4 102.9h0M417.8 93.9h0M417.6 105.6h0M418.4 110.8h0M416.7 80h0M417.8 125.7h0M416.2 81.5h0M416.2 111h0M416.3 94.8h0M416.8 126.8h0M416.4 84.7h0M417.6 108.4h0M415.5 107.2h0M416.5 88.1h0M417.6 84.3h0M418.3 107.5h0M418.3 105.3h0M416.9 109.2h0M417.7 85.2h0M415.4 87.7h0M418.8 81.3h0M417.8 115.7h0M418.3 107.1h0M415.7 92.4h0M416.9 98.3h0M416.5 87.6h0M418.5 80.3h0M418.2 89.1h0M415.9 104.7h0M418.9 91.1h0M416.1 103.3h0M415.8 101.8h0M417.4 73.9h0M417 84.5h0M418.9 74.2h0M415.5 94.1h0M418.7 91.4h0M418 112.6h0M416.5 88h0M415.9 84.1h0M418 84.1h0M415.5 110.8h0M416.4 89.2h0M415.7 82.4h0M416.6 98.7h0M419 84.3h0M418.5 99.3h0M417.4 90.4h0M417.7 100.8h0M417.7 116.4h0M418.3 105.4h0M418.4 88.7h0M418.9 95.4h0M418.8 90.5h0M416.6 100.7h0M418.9 82.8h0M416.3 93.4h0M415.8 86.9h0M417.8 98.8h0M433.4 120h0M434.7 67.7h0M434.8 80.9h0M433.6 84.9h0M433.5 81.5h0M434.2 96.2h0M434.5 79.7h0M436.6 94.1h0M434.3 79.5h0M436.3 74.4h0M433.1 80.9h0M434.8 109.6h0M433.6 86h0M433.3 103.2h0M434.1 68.4h0M435.6 84.9h0M435.3 107.7h0M434.1 110.9h0M435.7 74.3h0M435.6 102.7h0M436.2 82.9h0M435.6 91.9h0M433.4 89.1h0M435.9 93.7h0M436.6 86.6h0M436.3 72h0M435.5 101.1h0M433.5 82h0M436.2 82.2h0M434.9 97.4h0M435.7 104.7h0M436.5 100.9h0M433.8 81.3h0M433.1 85.2h0M436.5 77.1h0M436.3 83.4h0M433.4 85.6h0M434.7 86.5h0M436.2 84.5h0M435.3 86.3h0M435 80.4h0M436.7 100.4h0M433.1 76.7h0M434.4 71.9h0M433.6 88.2h0M436.6 81.5h0M435.2 106h0M434 85.8h0M436.3 110.2h0M436.4 77.7h0M434.8 86.3h0M436.6 76.9h0M433.8 76.1h0M435.6 98.4h0M436.7 79.1h0M433.9 72.6h0M435.6 88.3h0M436.1 81.6h0M436.2 96.8h0M434 80.7h0M434.5 81.2h0M433.5 73.1h0M434.9 89h0M436.2 86.1h0M434.1 82.1h0M436.3 89.4h0M434 67.8h0M434.8 113.9h0M435.5 94.9h0M436 80.4h0M436.5 86.5h0M434.4 82.9h0M434.5 111.5h0M435.8 81.3h0M436 81.6h0M436 71.8h0M434 79h0M436.2 96.5h0M435.9 98.7h0M435.2 104.7h0M434.3 94.6h0M435.7 88.2h0M433.3 75h0M435.8 71.6h0M434.6 86h0M435.9 81.2h0M435.2 89.4h0M434.4 107.3h0M434.2 81.7h0M434.9 98.2h0M433.5 113h0M434 100h0M435.4 72.8h0M433.8 105.1h0M436.4 74h0M435 108.4h0M434.2 87.8h0M433.7 82.1h0M434.1 93.2h0M434.5 102.1h0M433.5 86.7h0M434.2 71.4h0M436.6 80.5h0M436.5 84.9h0M436.4 81.3h0M436.5 75.9h0M435.6 74.3h0M436.6 90.9h0M435.4 101h0M434.6 102.3h0M433.7 86.1h0M435.5 91.4h0M436.6 86.6h0M436.5 96.5h0M436.6 97.8h0M434.7 73.4h0M435.6 100.3h0M436.7 99.5h0M435.7 105.4h0M436.2 104.4h0M436.3 112.7h0M435.1 100.1h0M436.3 90.5h0M434.3 80.2h0M436.1 115.1h0M434.6 82.6h0M433.8 88.5h0M436.1 86.7h0M436 82.2h0M435.4 80.6h0M434.8 76h0M434 91.3h0M436.2 75.1h0M435.5 86h0M435.5 101.6h0M436.1 81.9h0M433.1 77.6h0M436 84.5h0M436.2 87.1h0M433.6 90.6h0M433.2 80.4h0M436.2 115.5h0M434 83.9h0M435 107.3h0M436.5 95.1h0M433.8 84.8h0M434.9 75.2h0M433.3 86.8h0M436.3 101.7h0M436.2 83.7h0M434.7 88.2h0M436 98.4h0M433.6 96.5h0M436 77h0M436 85.8h0M435.7 108.5h0M433.2 78.7h0M434.1 85.8h0M435.5 93.2h0M436.1 84.8h0M434.9 105.2h0M435.6 84.9h0M434.7 83.4h0M435.2 75.6h0M434.1 68.3h0M433.8 96.8h0M436.3 83.2h0M435.1 99.5h0M434.2 85.6h0M434.1 76h0M434.3 80.7h0M435 91.4h0M433.6 70.2h0M434.7 78.4h0M434.3 75.4h0M434.5 85.9h0M434.4 74.4h0M433.2 89h0M436.3 78.7h0M434.2 86.3h0M435.8 86.7h0M436.5 111.8h0M452.3 120h0M452 67.7h0M453 84.4h0M452.4 93.1h0M451.9 89h0M452.5 85.9h0M452.7 75.5h0M450.9 85.7h0M451.9 97.8h0M451.7 86.3h0M451.8 84.2h0M452.1 82.4h0M451.8 77.9h0M452.1 101h0M453.3 106h0M451.6 81.5h0M454.3 105.1h0M451 83.2h0M451.8 75.1h0M453.4 110.1h0M453.1 101.1h0M451.9 84.3h0M451.8 92.4h0M453.4 81.3h0M452.1 85.4h0M453.7 84.8h0M454.1 82.2h0M451.3 111.6h0M453.2 76.1h0M451.6 109.4h0M452.8 102.1h0M454 87.8h0M453.1 84.1h0M454 93.8h0M452 106.1h0M451.8 82.6h0M452.7 106.4h0M452.1 93.5h0M452.7 85.4h0M451.7 89h0M451.5 83.6h0M453 72.1h0M451.1 80.5h0M451.6 103.3h0M451.1 88.4h0M453.3 91.5h0M451.3 101.6h0M451.7 81.7h0M453.9 94h0M452.7 85.8h0M452.5 81.2h0M451.9 67.8h0M452.6 97.6h0M453.6 81h0M452.1 72.7h0M451.2 84.7h0M451.4 99.1h0M453.3 86.2h0M452.5 97.4h0M454.2 94.5h0M451.5 114.1h0M453.4 92.4h0M452.2 118.4h0M451.8 77.7h0M453.4 83h0M451.9 94.3h0M451.5 87.7h0M452.4 86.6h0M452.3 91.8h0M451 84.8h0M454.4 90.7h0M452.2 83.2h0M452.1 100.3h0M451.2 87.1h0M451.3 71.8h0M451.4 100.8h0M451 100.2h0M452.8 78.1h0M453.1 84.9h0M453.9 86.2h0M451.7 86.2h0M453.7 94.2h0M453.5 96h0M450.9 82.5h0M451.5 86.3h0M451.5 81.1h0M454 83.6h0M453.5 87.1h0M451 73.3h0M451.6 86.5h0M451.3 78.5h0M453.1 99.8h0M452.3 72.7h0M454.2 96.7h0M453.8 78.2h0M451.8 99.8h0M451.7 84.5h0M452.6 86.1h0M452.2 74.2h0M453.7 117.2h0M451.4 77.6h0M453.9 80.7h0M452.9 95.8h0M452.2 87h0M454.3 115.8h0M452 93.7h0M453.6 98.2h0M454.3 79.4h0M454 85.1h0M454.4 90.3h0M452.4 75.8h0M453.6 97.8h0M453.8 79.8h0M451.8 91.5h0M452.4 83h0M454.1 92.4h0M453.6 73.2h0M451.9 94.6h0M453.6 80.2h0M451.2 100.9h0M452.2 94.7h0M452.9 73.8h0M451.9 73.7h0M450.8 107h0M452.9 86.3h0M453 81.2h0M453.2 80.7h0M451.3 91h0M451 78.1h0M450.9 87.2h0M452.7 101.2h0M450.9 88.6h0M451.5 90.9h0M452.6 91.2h0M452.1 86.7h0M453.3 84.5h0M451.2 99.9h0M452.6 81.4h0M452.3 112.8h0M451.5 81.5h0M454.1 82.5h0M454.2 83.8h0M454.3 111.4h0M451.7 95.5h0M450.8 85.4h0M453.3 83.4h0M454.1 79.8h0M452 111.3h0M451.8 87.3h0M453.7 77.4h0M452.8 106h0M452.9 106.5h0M453.4 94.8h0M452.7 92h0M453.8 91.4h0M452.8 75.8h0M453.5 84.6h0M450.8 117.1h0M452.5 79.4h0M454.1 87h0M452.5 78.7h0M453.3 88.3h0M452.7 73.2h0M454.2 86.5h0M451 95h0M451.8 106.2h0M451.3 77.9h0M454 90h0M454.3 115.4h0M451.4 79.7h0M451.8 74.1h0M451.6 119.9h0M453 81.6h0M453.4 81.6h0M451.7 69.7h0M453.8 76h0M452.4 99.1h0M452.6 83.5h0M452.1 79.8h0M452.4 110.4h0M450.9 72.6h0M450.9 83.1h0M454.3 78.8h0M451.8 101.4h0M452 78.9h0M454.4 88.6h0M451.9 92h0M451.1 87.6h0M453.9 83.9h0M452.2 111.1h0M453.1 87.4h0M451.8 84.4h0M451.2 113.1h0M451.5 71.4h0M453.6 81.4h0M452.7 87.4h0M453.2 103.8h0M453.4 104.9h0M452.8 106.7h0M453.2 78.3h0M451.4 101.3h0M451.4 85.4h0M452.3 94.6h0M453.8 78.1h0M451.6 75.5h0M453.6 77.9h0M453.8 81.5h0M453.5 76.4h0M451.1 71.3h0M451.2 101h0M453.7 85.4h0M451.5 97.4h0M450.8 87.5h0M452.9 90.4h0M453.3 86.8h0M453.8 80h0M453.4 107.8h0M452.9 85.3h0M452.1 76.4h0M454.2 93.9h0M451.7 72.2h0M452.4 86.6h0M451.1 91.1h0M452.9 82h0M453.3 80.5h0M452.6 111h0M452.1 83.1h0M450.9 120h0M453.1 104.3h0M450.9 85h0M453.5 84.9h0M453 106.1h0M453.9 87.5h0M453.2 74h0M453.5 113.1h0M451.8 81.5h0M454.2 75.6h0M452.9 108.5h0M452.8 76.3h0M452.2 82.6h0M453.9 92.7h0M453.1 87h0M452.8 88.5h0M453 86.9h0M453.6 91.1h0M454.4 98.7h0M451.5 79.1h0M454.3 69.7h0M451.8 90.9h0M452.3 72.7h0M453.4 99.8h0M453.7 107.4h0M452 81.8h0M451.9 84.7h0M452.7 83.5h0M452.5 102.3h0M452.2 94h0M451.8 76.8h0M450.8 72.4h0M454.2 84.6h0M452 84.2h0M454.1 97.9h0M453 73.8h0M451.1 69.4h0M451.4 100.1h0M452.1 82h0M451.5 107.9h0M451.1 93.5h0M453.6 97.2h0M452.6 92.7h0M451.3 102.8h0M452.6 80.5h0M453.2 85.1h0M453.8 108h0M452.3 112.2h0M451.5 82.5h0M450.9 85h0M452.9 113.9h0M452.7 103.9h0M454.4 85.9h0M451.6 84.8h0M450.9 98.4h0M452.7 86.8h0M453.3 94.1h0M451.6 119.5h0M451.7 109.1h0M451.4 97.5h0M453.9 95.3h0M452.9 83.8h0M451.7 70.1h0M452.1 91.7h0M451.7 94.7h0M450.8 86h0M453.8 91.5h0M453.6 114h0M451.9 89.1h0M452 90h0M454.2 100.8h0M451.7 79.5h0M453.3 84.1h0M468.5 106.5h0M468.5 64.6h0M469 81.9h0M469.2 104.8h0M471.5 88.5h0M470.9 90h0M470.5 99.7h0M468.7 99.2h0M469.6 90.5h0M471.9 83h0M471.7 91.9h0M471.7 71.1h0M469.8 91.1h0M470.8 88.4h0M469.3 83.1h0M470.8 70.2h0M470.4 75.4h0M470.6 90.5h0M468.6 89h0M469.3 87.5h0M469.5 101.5h0M470.3 104.3h0M469.6 91.4h0M469.8 88.1h0M470.3 83.3h0M470.5 80.4h0M469.7 100.5h0M469.7 65.4h0M470.5 71.2h0M470.7 97.3h0M471.2 83.8h0M470.7 81.1h0M468.9 83.6h0M469.7 80.5h0M470.8 101.2h0M471.1 97.7h0M471.8 91.8h0M471.1 97.4h0M470.6 71.3h0M470.7 81.9h0M469.4 87.1h0M470.5 88.2h0M469.8 67.7h0M469.7 93h0M469.2 102.8h0M472 79.2h0M472 78h0M469.6 88.7h0M470.3 86.1h0M468.7 92h0M471.5 89h0M469.4 103.6h0M471.6 86.5h0M469.3 64.8h0M470.3 72.5h0M471 86.7h0M470.6 96h0M471.8 72.7h0M471.1 77.2h0M470.2 71.1h0M469.9 100.1h0M469.9 83.7h0M470.1 89.5h0M471.5 81.3h0M468.5 92.5h0M469.5 82.4h0M471 94.1h0M468.8 86.8h0M471.4 89.6h0M469.7 106h0M471.7 90.2h0M469.3 93.9h0M471.3 69.2h0M471.6 80.5h0M469.6 68.9h0M470.5 75.5h0M471.3 76.1h0M471.9 80.6h0M470.5 93.3h0M471.7 92.6h0M471.7 81.3h0M472 83.7h0M469.2 101.7h0M470.1 74.5h0M470.7 85.9h0M470.7 105.3h0M468.8 85.1h0M470.5 89h0M471.8 79h0M470.4 96.5h0M469.1 83.8h0M469.6 89.6h0M471.8 133.5h0M487.6 131.3h0M489.2 65.9h0M488.8 78.5h0M487.9 120.7h0M487.8 89.2h0M487.6 93.4h0M487.5 83.1h0M487.4 103.6h0M487.9 89.5h0M488.3 109.8h0M486.7 98.6h0M486.7 86.4h0M488.4 101.5h0M488.2 107.1h0M487.9 94.2h0M488 86.8h0M487.4 86h0M489.8 113.8h0M487.2 100h0M488.1 113.5h0M487.2 111.7h0M488.3 75.8h0M487.2 82.1h0M487.7 97.1h0M486.3 80.2h0M487.4 71.5h0M487.8 75.5h0M488.4 82h0M489 110.1h0M486.3 81.4h0M487.3 80.2h0M487 86.5h0M487.8 86.4h0M489.5 98.6h0M489.6 125.7h0M488.8 68.8h0M489.6 84.9h0M488 82.6h0M488.4 91.1h0M486.6 81.5h0M488.8 93.7h0M487.1 93h0M488.2 83.2h0M487 125.8h0M488 73.6h0M487.6 99.1h0M489.4 84.2h0M488 83.5h0M488.9 71.1h0M487.1 69.7h0M488 116.3h0M488.1 110.7h0M487.3 88.9h0M487.6 124.4h0M486.2 83.3h0M486.7 93.7h0M487.3 106.3h0M488.6 80.5h0M488.3 109.3h0M488.7 106.3h0M486.4 91.2h0M486.9 80.2h0M489.5 94.9h0M486.6 98.3h0M486.8 88.7h0M488.2 98.8h0M487.8 127.5h0M489.3 79.5h0M489.3 85.1h0M488.3 77.1h0M487.8 89.6h0M487.8 85.2h0M489.8 124h0M486.5 119h0M487.9 129.1h0M488.9 76.2h0M488.6 104.9h0M486.5 74.2h0M489.1 85.8h0M489.5 100.4h0M488.9 93.2h0M486.7 107.4h0M489.4 100.1h0M486.6 86.9h0M486.2 82.8h0M488.7 101.2h0M488.7 122.5h0M489 76.7h0M488.1 113.2h0M486.4 82h0M486.2 121.3h0M488.5 109.7h0M488.9 130.7h0M487.4 82.9h0M488.9 85.8h0M487.5 68h0M487.8 89.5h0M488.7 95.9h0M488.7 88.2h0M488.5 86.6h0M486.6 89.5h0M488.7 111.7h0M489 97.7h0M488.9 67h0M488.4 102.3h0M488.3 99.2h0M487 115.2h0M489.8 103.9h0M489.7 76.5h0M487.1 86.5h0M488.5 101.7h0M488.9 98.6h0M487.9 81.3h0M487.2 102.8h0M487.4 107.5h0M486.7 97.6h0M489.1 76.6h0M488 107.7h0M489.8 81.6h0M486.9 92h0M489.7 78.3h0M488.5 102.3h0M488.1 84.7h0M486.5 95.6h0M486.4 87.7h0M488 114.3h0M486.6 97.2h0M488.5 87.4h0M487 120.9h0M489.5 122.5h0M488.5 86.4h0M486.3 83.7h0M489.3 95.4h0M488.6 73.4h0M486.9 88.1h0M487.5 66.3h0M488.6 80.4h0M489.4 82.2h0M487.6 81.3h0M489.1 73h0M489.6 83.6h0M489.6 86.6h0M488.4 87.1h0M489.1 89.1h0M486.4 84h0M488.7 71.5h0M489.3 123.8h0M487.4 100.7h0M489.3 120.8h0M487.4 103.5h0M489.2 87.7h0M487.3 89.3h0M488.2 86.3h0M488.4 82.5h0M486.6 85.7h0M486.4 98.4h0M487.4 93.7h0M487.7 113h0M488.5 100.2h0M489.7 93.9h0M489.6 86.4h0M486.6 123.3h0M488.7 77.1h0M486.5 93.4h0M486.4 122.7h0M486.5 95.1h0M489.4 83.8h0M488.7 90.5h0M488 99.6h0M488.2 109.6h0M488.4 88.4h0M486.5 89.7h0M487.9 87.4h0M489.5 99.6h0M486.2 75.6h0M488.7 128h0M486.4 91.3h0M488.1 124.4h0M486.8 130.6h0M486.4 89.5h0M486.3 80.5h0M487.7 97.9h0M489.7 85.5h0M486.6 95.7h0M487.7 76.5h0M487.2 103.9h0M487.5 84.4h0M486.9 87.7h0M487.6 123.1h0M489.7 77.2h0M486.6 103h0M489.2 114.7h0M489 104.5h0M487.8 81.1h0M488.7 99.4h0M488.1 82.1h0M489.8 110.2h0M486.3 88.6h0M488.9 126.1h0M489.1 98h0M488.5 74.7h0M489.7 102.7h0M486.3 89h0M488.4 128.1h0M488.9 70.1h0M486.4 96.7h0M488.1 85.5h0M489.1 100h0M488.6 112.1h0M487.5 99.2h0M489.1 97.9h0M489.5 112.8h0M487 94.5h0M487 111.6h0M489.1 101.2h0M488.9 110.9h0M487.7 88h0M489.8 88.4h0M489.7 97.1h0M488.3 86h0M487.5 70.6h0M486.4 86.8h0M486.2 90.5h0M487.6 93h0M487.7 87.8h0M486.4 83.1h0M486.9 80.1h0M489.3 85.2h0M488.9 104.4h0M487.4 93.5h0M486.5 107.5h0M489.6 74.3h0M489.5 106h0M488.9 123.7h0M488.6 96.9h0M488.6 108.4h0M487.1 89.7h0M488.2 89.4h0M486.1 109.2h0M487.3 122.1h0M486.8 99.2h0M486.5 117.3h0M488.8 96.4h0M487.7 89h0M487.3 100.4h0M489 89.2h0M488.5 100.7h0M488.6 70.5h0M489.5 127.6h0M486.8 113h0M487.8 78.2h0M486.4 115.8h0M488.8 84.5h0M488.9 95.7h0M486.2 92.7h0M487.4 119.5h0M486.4 100.9h0M489.1 94.3h0M488.4 91.1h0M487 101.5h0M488.7 90.3h0M489.6 98.5h0M489.3 62.3h0M507.3 147.2h0M505.9 73.6h0M506.1 119.5h0M505.1 135.3h0M505.9 96.8h0M507.3 84.3h0M504.4 87.7h0M504.6 101.7h0M506.4 89h0M506.4 115h0M505.6 99.6h0M506.6 81.1h0M505.8 101.4h0M504.6 103h0M504.9 125.3h0M505 92.4h0M505.2 90.9h0M504.4 87.6h0M507.1 88.1h0M505.1 91.4h0M504.5 97.2h0M504.2 86.1h0M505.6 96.2h0M504.1 83.1h0M505.4 118.4h0M504.3 96.2h0M505.6 96.4h0M504.3 106.5h0M504.7 110.2h0M507.3 106.9h0M504 105.2h0M505.7 78.2h0M506.8 84.6h0M506.6 117.9h0M504.3 94.5h0M504.9 80.1h0M505.9 94.6h0M506.5 135.7h0M507.2 113.8h0M505.8 90.4h0M504.3 93.8h0M503.9 103h0M505.9 100.1h0M507 127.2h0M504.7 94.8h0M506.4 138.1h0M506.6 101.6h0M503.8 126.2h0M504.5 96.8h0M505.6 95.6h0M504.6 88.8h0M504.2 99.9h0M506.2 86.9h0M504.3 116.5h0M506.1 123.1h0M507.5 98.4h0M503.9 78.5h0M504.7 84.2h0M504.2 81.7h0M505.6 94.7h0M506.7 112h0M506.6 94h0M505 85.5h0M505 85.4h0M505.8 97.8h0M505.8 141.7h0M504.1 100.2h0M507.2 92.9h0M506.8 80.1h0M506.5 86.7h0M504.1 93.8h0M505.9 121h0M504.3 95.3h0M507.2 122.2h0M504.5 100.3h0M504.2 111.1h0M505.7 134.2h0M505.6 86.9h0M505.4 101.4h0M506.5 111.9h0M505.9 82.2h0M505.4 89.8h0M507 136.3h0M504.6 75.8h0M505.7 132.1h0M504.1 106h0M506.7 103.1h0M504.5 113.5h0M505.9 89.1h0M506.4 114.5h0M504.1 89.9h0M504.1 90.4h0M505.7 95.1h0M506 92h0M504.5 90.3h0M505.1 77.3h0M507.3 76.1h0M506.2 110.8h0M504.4 141.6h0M506.1 126.5h0M504.8 89.1h0M503.9 114.1h0M503.8 115.4h0M506.8 93.5h0M507.4 92.5h0M504.7 77.6h0M506.5 111.8h0M506.6 88.8h0M504.4 89.7h0M507.4 125.2h0M507.1 82.8h0M504 96.9h0M504.7 88.1h0M506.5 92.3h0M505.2 101h0M504.3 77.3h0M503.9 124.5h0M507.1 112h0M507.3 100.2h0M505.5 132.2h0M506.5 90.9h0M506.3 81.8h0M507.5 83.8h0M504.9 92.1h0M505.6 109.6h0M506 97.5h0M507.3 92h0M507.2 91.5h0M506.7 91.6h0M505.8 87.9h0M505 77.9h0M507.4 103.3h0M506.5 90.6h0M507.4 119.1h0M504.8 100h0M505.5 98h0M505.5 123h0M505.4 111.2h0M507.1 110.2h0M505.6 119.4h0M506.5 108.3h0M505.7 82.1h0M507.1 88.8h0M506.9 115.2h0M504.9 101.3h0M507.5 106.8h0M507 104.5h0M506.8 77.7h0M506.3 97.9h0M505.4 110.6h0M504.3 99.4h0M504.2 142.2h0M505.1 110h0M506.1 96.3h0M507 109.6h0M505.2 103.2h0M506.4 82.1h0M506 106.8h0M507.1 110.6h0M507.2 100.9h0M503.8 101.9h0M506.5 101.6h0M504.9 91.1h0M507.3 89.6h0M504 109.4h0M505.2 86.5h0M503.9 104.6h0M506.1 107.9h0M504 83.3h0M504.1 113.2h0M505.9 107.7h0M504.4 103.7h0M503.8 88.5h0M507 107.9h0M506.9 100.8h0M505.6 79.9h0M506.9 117h0M506 100.5h0M507 78.7h0M504.2 84.6h0M503.9 88h0M506.3 112h0M504.9 123.7h0M505.9 97.1h0M506.5 106.1h0M505.7 145.4h0M504.9 93.8h0M507.3 141.1h0M505.2 111.6h0M505.5 99.8h0M505.7 120.4h0M503.9 98.3h0M505.8 103.2h0M506.1 101.5h0M504.4 105.2h0M506.4 98.9h0M505.5 99.2h0M507.3 94.8h0M505.2 85h0M504.1 127.3h0M507.2 92.6h0M504.8 91.4h0M507.3 113.5h0M506.2 74.1h0M505.1 89.7h0M505.7 109.2h0M506.8 87h0M507 117.4h0M504.3 76.2h0M504.9 82.3h0M504.1 89h0M505.7 107.8h0M504.8 99.7h0M504.8 97.6h0M506.2 115.3h0M507.4 95.9h0M504.6 113.6h0M505.7 91.1h0M505.4 97.2h0M505.9 123.9h0M505 92.4h0M504.5 85.3h0M504.9 110.7h0M507.2 101.2h0M505.6 120.3h0M507.3 99.5h0M503.9 103.3h0M504.5 85.4h0M507.2 101.8h0M504.2 90.3h0M506 116.6h0M504.5 90.7h0M504.3 122.2h0M505.6 108.5h0M507 90.2h0M505.9 78.8h0M503.9 128.5h0M504.6 123.7h0M507.5 101.6h0M506.7 98.3h0M505.7 113.8h0M505 129.5h0M505 110.4h0M503.9 92.6h0M504.7 107.2h0M506.9 140.6h0M505.2 94.2h0M507 91.7h0M507.3 110h0M506.3 91.5h0M504.9 101.5h0M505.4 106h0M504.2 122.5h0M504.7 80.3h0M505.1 88.2h0M503.9 95.3h0M507 112.7h0M505.7 113.1h0M505.1 139.8h0M506.1 118.6h0M505.5 117.9h0M505 85.8h0M505.2 98.6h0M505.4 95.6h0M504.9 101.6h0M505.2 106.3h0M505.5 123.4h0M507 91.6h0M506.8 88.6h0M507 87.4h0M505.5 137.1h0M507.3 91.9h0M504 98.2h0M506.9 127h0M506.3 98.4h0M503.9 82.3h0M506.9 120h0M505 113.5h0M506 109.5h0M504 114h0M506.2 125.5h0M506.2 101.9h0M505.1 102.2h0M505 116.8h0M506.7 93.4h0M507.2 124.2h0M503.8 92.4h0M504.9 97.6h0M505.7 128.7h0M505 97.3h0M505 86.2h0M505.9 108.2h0M506.9 104.8h0M506.8 127h0M505.2 116.3h0M507 122.9h0M507.4 128.4h0M504.3 101.4h0M504.5 111.4h0M507.4 109.1h0M504.2 91.5h0M504.7 133.8h0M507.5 137h0M506.8 128h0M504.5 83.3h0M505.3 91.1h0M507.5 100.7h0M504.7 114h0M506.7 107.2h0M504.7 90.9h0M505.4 105.8h0M507.3 94h0M506.2 106.8h0M505.4 115.3h0M507.4 108.8h0M507.1 92.2h0M507.3 93.8h0M505.7 112.1h0M504.3 135.1h0M505 94.7h0M504.5 90.7h0M504.8 83.3h0M504.4 108.2h0M506.3 78.1h0M506.7 98.4h0M503.9 98.7h0M506.8 90h0M506.8 138.9h0M505.7 117.9h0M507.4 78.2h0M504.2 108.9h0M503.9 121h0M504.2 116.5h0M504.3 138.9h0M506.6 130h0M506.1 103.5h0M504.3 100.1h0M506.9 96.4h0M506.4 78.7h0M505.9 92h0M504.8 76.1h0M505.2 104.2h0M507.4 91.3h0M506 120.8h0M504 77.4h0M505.4 82.2h0M505.9 130.9h0M506.4 109.7h0M505.8 104.7h0M504.6 118h0M523.9 121.1h0M521.7 51.1h0M522.9 63.1h0M523 92.8h0M525.1 94h0M522.6 84.4h0M522.5 117.7h0M521.7 88.1h0M521.6 96.2h0M522.8 63.4h0M523 78.1h0M523.6 59.5h0M521.6 95.4h0M525 61h0M524.6 85.6h0M522.1 78.8h0M523.2 81h0M524.2 109h0M521.9 71.8h0M522.3 95.9h0M522.3 76.7h0M523.5 89.5h0M524.2 103.7h0M524.5 93.7h0M522.8 83.1h0M521.6 93.4h0M521.9 57.6h0M522.8 66h0M521.8 86.6h0M522.6 94.5h0M524.4 62.2h0M523.3 87.9h0M522.6 67.3h0M523 110.5h0M524.6 119.4h0M525.2 74.3h0M524.1 71.8h0M521.8 91.3h0M524.5 91h0M524.7 80h0M523.1 78.9h0M522.1 89.9h0M524 88h0M524.5 84.2h0M525.1 68.9h0M524.5 75.3h0M522.4 82h0M522.1 93.2h0M525 68.5h0M524.7 75.3h0M524 97.1h0M521.7 89.8h0M521.9 90.4h0M523.6 106.2h0M525 86.2h0M524.2 100.2h0M523.6 66h0M523.7 64.5h0M523.2 94h0M524.6 102.9h0M523.2 64.9h0M524.8 110.3h0M523.1 93.9h0M523.2 94.8h0M525.1 84h0M523.9 87.6h0M523.1 102.7h0M521.5 72.3h0M523 81.6h0M522.3 82.5h0M523 59.7h0M521.7 53.4h0M523 83.8h0M522.9 95.2h0M524.5 92.7h0M522.7 90.5h0M524.2 105.2h0M523.7 99.9h0M523.7 96.5h0M524.4 78.8h0M524.7 75h0M522 113.5h0M522.5 98.5h0M521.6 105.2h0M523.6 89.1h0M521.7 115.9h0M522.6 92.4h0M524.8 84.8h0M523 81.3h0M523 95.2h0M522.5 80.8h0M524.4 74.8h0M523.4 94.3h0M523.3 104.9h0M524.7 96.9h0M522.1 83.1h0M521.6 83.5h0M524.8 114.8h0M524.4 112.7h0M524.2 113.6h0M524.5 54.9h0M523.4 80.7h0M521.8 85.3h0M522.2 107h0M524.1 51.6h0M522 77.1h0M523.7 58.5h0M523 81.4h0M524.9 89.4h0M524.3 83.8h0M522.8 71.8h0M521.9 119.6h0M523.5 83.4h0M523.8 108.5h0M521.6 95.3h0M523.3 91.8h0M522 95.5h0M522.7 100.1h0M524.3 85.5h0M524.9 94.8h0M521.9 83.7h0M522.8 74.9h0M523.4 102.5h0M525 91.6h0M524.8 102.5h0M524.4 73.7h0M522.1 75h0M524.3 69.9h0M524 68.8h0M521.6 86.3h0M523 104.7h0M523.4 100.4h0M522.2 66h0M522.1 86.2h0M523 73.7h0M521.5 97.6h0M522.7 92.3h0M523.4 53.6h0M522.5 70.3h0M523.4 113.3h0M524.8 99.8h0M523.2 86h0M522.9 69h0M524 70.9h0M524.8 72.7h0M521.9 66.3h0M524.6 75.6h0M524.9 73.1h0M524.9 102.8h0M522.2 107.4h0M524.8 96.9h0M522.7 65.5h0M522.8 63.4h0M522.5 105.4h0M524.4 93.2h0M523.8 87.1h0M522 77.9h0M522.6 82.5h0M523.6 60.9h0M524.6 83.8h0M523.7 92.2h0M524 92.4h0M522.6 68.3h0M524.6 92.5h0M523.8 78.8h0M523.7 95h0M522.5 107.5h0M523.6 93.4h0M522.7 101h0M523 73.5h0M525 94.4h0M523.1 103.7h0M522.2 75.3h0M523 95.5h0M522.3 96h0M524.1 87.2h0M522.3 101.1h0M524.1 60.8h0M523.2 83.3h0M523 92.2h0M523.6 90.2h0M525.1 121h0M523.7 65.2h0M522.3 88.4h0M522.7 66.9h0M522 101.6h0M523.8 61.7h0M524.9 98.8h0M521.7 88.1h0M522.5 51.9h0M521.9 96.8h0M523.4 88.1h0M524.6 91.3h0M522.1 86.5h0M524.6 85.9h0M523 91h0M523.5 80.5h0M523.7 95.4h0M525 63.8h0M525 76.1h0M525.1 107h0M523.6 96.8h0M525 93.9h0M524.4 71.3h0M523.6 119.8h0M523.7 68.4h0M522.6 120.2h0M522.1 98.3h0M523.2 102.5h0M522.4 94h0M521.5 74h0M524.9 71.7h0M522.3 90.5h0M525.1 91.8h0M523.3 104.4h0M522.4 67.3h0M523 96.6h0M521.8 113.9h0M523.5 98.9h0M522.6 75.8h0M521.5 55.4h0M522.3 93.7h0M523 80.6h0M524.9 98.6h0M522.3 84.6h0M524.6 76.8h0M523.1 97.3h0M522.8 80.8h0M522.9 90.9h0M523.4 103.7h0M522.7 113.7h0M523.7 104h0M524.3 89.5h0M524.8 75.4h0M523 67.8h0M523.6 70.9h0M522 70.5h0M523.4 55.1h0M524.8 74.1h0M522.2 82.7h0M521.8 115.4h0M521.5 70.6h0M522.4 90.7h0M522.9 95h0M523.5 109.3h0M522.9 65.1h0M525.1 88.7h0M523.6 95.6h0M524.7 100.8h0M522.4 90.2h0M522.4 80.5h0M523.5 77.4h0M521.5 86.5h0M524.1 84.7h0M522.7 87.4h0M524.1 95.5h0M523.4 67.7h0M524.6 91h0M522.2 97.6h0M525 56.5h0M525.1 103.2h0M523 96h0M523.6 86.4h0M521.5 91.6h0M523.6 89.9h0M523 70.7h0M524.4 70.3h0M524.2 110.2h0M524.1 54.5h0M525.1 107.7h0M521.6 104.6h0M522.8 76h0M523.8 104.3h0M524.9 108.1h0M522.7 73.4h0M524.4 79.3h0M524.5 81.6h0M523.3 62.4h0M524.1 69.7h0M524.3 96.2h0M523.9 95.9h0M524.6 80.9h0M521.7 95.1h0M524.6 83.9h0M521.7 72.6h0M523.7 83.9h0M522.8 110.5h0M523.4 57.9h0M524.6 89.6h0M522.5 82.2h0M523.4 114h0M524.3 89.4h0M523.5 108.6h0M523.5 59h0M523.8 96h0M525.1 111h0M521.8 90.5h0M523.1 103.7h0M524.5 87.4h0M521.6 103.9h0M524.4 35.2h0M542.4 121.1h0M539.9 71.4h0M539.3 104.5h0M542.7 85.6h0M541 83.3h0M540.2 85.6h0M542.2 94.6h0M540.9 86.3h0M540.6 79.2h0M541 87h0M541.5 71.8h0M539.2 77.9h0M542.8 86.6h0M540.9 90.9h0M541.4 107.6h0M542.2 105.6h0M541.6 85.9h0M539.3 86.6h0M541.7 84.6h0M540.5 74.1h0M541.1 84.1h0M542.1 84.4h0M539.5 91.4h0M539.7 105.8h0M540 95.3h0M542.8 89.2h0M541.3 81.7h0M541.3 82h0M542 104.8h0M542.7 89.4h0M542.8 81.3h0M540.1 111.4h0M542.9 91.6h0M542.9 111.8h0M540.8 99.2h0M539.2 78.3h0M541.8 84.5h0M539.9 105h0M539.4 80.2h0M541.1 90.2h0M542.5 114.2h0M539.5 85.9h0M541.2 85.7h0M542.3 92h0M541.2 77.9h0M542.6 92.8h0M542.6 81.6h0M539.5 87.5h0M540.1 96.4h0M541.9 84.3h0M539.8 79h0M541 75.8h0M541.5 78h0M539.5 116.1h0M540.5 109.8h0M542.4 91.9h0M542.9 78h0M541 119.5h0M539.5 86.4h0M539.7 107.5h0M539.4 81.2h0M541.7 79.1h0M541.9 92.1h0M540.7 76.4h0M541.5 81.5h0M542.9 90h0M540.2 75.9h0M541.2 88.9h0M541.2 85.4h0M540 84.8h0M539.9 80.8h0M542.1 94.2h0M541.1 91.1h0M542.6 78h0M540.4 89.3h0M540.6 76.9h0M541.8 85.2h0M542.1 73.8h0M541.4 75.4h0M542.8 106.6h0M541.7 81.8h0M540.9 91.4h0M540.5 97.4h0M542.7 80.5h0M541.1 78.8h0M541.7 83.2h0M539.2 78.4h0M541.2 74.4h0M541 84.4h0M542.4 82.5h0M540.1 83.4h0M541.4 75.4h0M541.7 101.9h0M542 88.5h0M541.8 107.5h0M541 96.6h0M539.9 84.5h0M540 93.2h0M541.4 99.8h0M539.2 91.2h0M541.5 78.2h0M542.2 86.3h0M540 99.4h0M541.6 85.7h0M539.9 97.6h0M542.7 84.6h0M541.7 81.9h0M542.6 71.7h0M540.2 99.7h0M539.3 89.3h0M541.7 101.1h0M542.4 78.6h0M542.3 103.1h0M542.6 76.8h0M539.8 72.9h0M540.6 115.8h0M542.9 78.6h0M541.4 86.5h0M542.7 88h0M540.6 90.6h0M539.8 88.7h0M541.7 102.3h0M541.9 82.1h0M542.1 76.6h0M542 100.1h0M542.8 80.5h0M542.6 83.3h0M541.8 74.6h0M540.4 88.7h0M541 99.9h0M539.5 85.5h0M540.7 83.5h0M540.5 91.6h0M540.5 102.8h0M542.2 82.2h0M539.4 113.8h0M540.7 106.4h0M540.5 88.9h0M540.4 109.7h0M541.7 83.2h0M541.3 114.1h0M542.5 90.2h0M542 83.9h0M542 76.3h0M542.5 101.1h0M542.6 85h0M541.4 77.7h0M540.1 100.6h0M540 84.3h0M541.5 78.1h0M541.5 78.4h0M539.9 88h0M542.9 84.4h0M541.3 99h0M539.2 135.9h0M558.5 134.6h0M559.8 65.9h0M558.1 92.8h0M558 100.7h0M557.1 94.5h0M557.7 111.6h0M560.4 108h0M558.5 81.3h0M560.1 83.3h0M557.1 82.8h0M559.3 88.4h0M558.9 121.7h0M557.7 79.2h0M559.8 84.5h0M559 76.8h0M558.3 83.2h0M558.4 109.6h0M557.9 75.7h0M558.7 77.1h0M560.1 91h0M559.3 77.7h0M558.9 80.4h0M557.3 96.3h0M557.1 82.5h0M557.7 103.5h0M558.9 71.9h0M558.3 95.6h0M559.8 75.6h0M557.7 67.3h0M560.4 84.1h0M557.1 78.1h0M559.4 70.8h0M558.6 131.7h0M560 78.7h0M557.2 114.8h0M559.8 83h0M559.6 83.5h0M558.9 71.6h0M559.7 74.3h0M559.3 100.4h0M559 81h0M558.1 68.2h0M560 104h0M557.8 83.6h0M558.9 98.1h0M556.9 97.7h0M557.6 89.1h0M557.7 100.1h0M560.3 127.2h0M557.4 108.3h0M559.8 98.8h0M557.6 74.6h0M559 111.8h0M559.1 76.1h0M559.6 94.7h0M560.1 103.6h0M557.1 126.6h0M558 83h0M559.1 86.5h0M559.9 76.9h0M559.4 99.8h0M560.4 79.4h0M558.6 71.6h0M559.8 84.3h0M558.2 83.2h0M560.5 79.9h0M557.4 81.9h0M560.2 86.6h0M557.6 79.8h0M559 75.8h0M560.2 79.6h0M559.6 127.1h0M560.3 80.8h0M559.8 92.3h0M559.6 109.2h0M560.5 75.5h0M559.5 100.9h0M559.8 80.5h0M557 101.8h0M560.3 78.7h0M560.3 72h0M558.4 105.4h0M557.2 104.1h0M558.6 75.5h0M558.1 106.8h0M557.6 74.3h0M559.5 81h0M559.1 106.8h0M559.1 98.4h0M560.5 71.7h0M557.6 76.6h0M560.2 82.9h0M559.3 82.5h0M557.8 73.9h0M560.5 99.6h0M559.1 81h0M556.9 80.3h0M557.1 71.6h0M559 93.6h0M560.5 88.4h0M557.1 82.1h0M557.1 89.2h0M559.5 90.6h0M559.2 79.1h0M559.9 96.5h0M557.1 90.6h0M558.9 82.1h0M558.4 83.2h0M557.7 93.6h0M560.3 85.8h0M560.2 114.4h0M559.3 102.5h0M559.9 102.1h0M559.8 111.2h0M558.9 70.4h0M560.4 90.3h0M557.1 86h0M560.2 87.8h0M558.4 92.7h0M557.9 98.4h0M558.8 75.7h0M560.2 79.6h0M559.3 116.2h0M559.6 82.6h0M559.4 104.6h0M558.1 78.7h0M559.8 102.9h0M559.1 81.7h0M557.4 102.2h0M557.5 89.2h0M557.3 80.8h0M558.5 78.1h0M557.5 118.4h0M559 98.1h0M557.3 104.3h0M559.7 126.5h0M560.1 82h0M559.9 89.9h0M557.9 91.2h0M559.4 104.7h0M558.2 67.4h0M558.3 106.5h0M557.4 93.4h0M559.8 81.6h0M558.5 111.3h0M557.6 87.1h0M557.9 90.2h0M557.6 84.1h0M558.7 107.4h0M560 111.9h0M560.6 110.5h0M558.8 97.8h0M557.4 74.4h0M559.9 83.7h0M559.9 99.4h0M557.2 96.9h0M559.4 77h0M559.1 101.3h0M559 106.3h0M557.3 77.4h0M560.2 84.4h0M558.8 72.3h0M558.8 90h0M557.7 92.2h0M557.9 80.4h0M559.1 82.8h0M557.8 84h0M559.3 108.1h0M559.7 100.7h0M560.5 103.6h0M559.6 96.5h0M558.7 72.6h0M559.7 106.7h0M558.2 80.3h0M560.4 80.3h0M558.3 123.2h0M557.9 74.8h0M560.2 82.5h0M559.3 80.9h0M557.4 82.8h0M558 75h0M558 81h0M557 100.4h0M557 100.2h0M560.3 105.5h0M559.1 104.1h0M557.4 105.5h0M558.7 82.5h0M560 75.2h0M557.5 89.7h0M557.9 74.7h0M558.7 74.1h0M558.4 78h0M560.5 125.4h0M558.2 74.6h0M559.1 79.8h0M557.3 119.5h0M557.7 102.6h0M560.1 82.6h0M557.8 84.6h0M556.9 116.7h0M559.7 85.4h0M560.4 121.3h0M558.1 90.4h0M558 78.9h0M558.7 81.9h0M558.7 99.1h0M558.3 78.5h0M559.4 66.5h0M559.9 91.2h0M556.9 83.5h0M558.4 120.1h0M558.7 77.3h0M559.9 124.6h0M557.1 90.2h0M560.5 75.9h0M558.1 79.2h0M557.2 104.8h0M558.3 92.1h0M557.1 120.9h0M558.1 73.2h0M557 109.4h0M558.1 92h0M558.3 84.1h0M559.3 75.3h0M560.2 71.6h0M558.9 78.2h0M559.9 116.4h0M557.7 123h0M557.5 113.4h0M559.9 77.5h0M559.8 117.7h0M558.5 72.6h0M559.7 77h0M557.1 84h0M560 76.7h0M557.9 102.5h0M558.5 74.6h0M557.2 83.8h0M560.1 99.2h0M560 104.4h0M557.1 92.9h0M559.1 79.5h0M557.7 94.8h0M558.5 95.8h0M558.9 68.5h0M560.4 118.4h0M558.6 72.7h0M557.3 85.4h0M558.5 84.8h0M559 105.3h0M556.9 91h0M560.3 81.8h0M559.7 80.6h0M559 99h0M557.9 97.9h0M558.3 78.6h0M558.2 70.2h0M560.3 95.4h0M557.7 79.7h0M559.8 77.8h0M560 81.2h0M557.8 107.7h0M560.4 84.3h0M560.1 83.9h0M559.3 112.5h0M560.2 84.2h0M558.6 84.7h0M557.4 102.2h0M558.3 68.9h0M558.2 81.8h0M560.4 105.9h0M558.9 73.4h0M559.3 91.7h0M557.3 109.7h0M558.3 114.6h0M560 74.6h0M557.2 114.2h0M557.1 81.6h0M558.2 80.2h0M557.9 98.9h0M558.8 77.5h0M560.4 74.9h0M559.7 86.1h0M559.4 84.7h0M558.6 78.2h0M558.6 84h0M558.8 72h0M560 77.5h0M559.8 83.7h0M558.1 82.5h0M557.2 94.3h0M558.1 78.4h0M558.5 102.8h0M560.5 85.5h0M557.6 116.1h0M557.1 81.7h0M558.9 84.1h0M557.2 80.1h0M559 126.2h0M575.3 114.3h0M577.2 65.3h0M578 77.1h0M577.7 97.2h0M577.4 97h0M575.5 76.5h0M576.4 91.4h0M576.8 84.1h0M577.1 104h0M576.8 82.5h0M577 87.7h0M575.3 112.7h0M576.3 97.6h0M576.3 104.2h0M574.9 100.3h0M575.2 94.4h0M577 100h0M576.3 75.3h0M576.2 93.7h0M578 107.1h0M577.8 81.4h0M576.6 86.3h0M576.8 107.1h0M577.5 78.8h0M578.2 106.2h0M576.8 101.1h0M576.3 72.6h0M574.9 96.4h0M577.3 90.1h0M574.7 100.2h0M575.6 94.2h0M575.3 114.3h0M577.7 94.3h0M576.9 99.7h0M576.7 79.4h0M574.6 95.7h0M575.4 100.5h0M578 96.2h0M575.1 112.7h0M576 85.5h0M575.6 111.2h0M575.1 105h0M575 87.6h0M577.3 94.3h0M576.3 65.7h0M575.6 106.9h0M577.5 86.6h0M576.2 68.3h0M577 98.1h0M575.1 105.8h0M574.6 78.2h0M575.7 67.3h0M574.7 99.7h0M577.8 80.2h0M576.1 82.5h0M575 89.1h0M577.4 80.6h0M575.5 93.8h0M577.5 82.8h0M576.8 93.6h0M577.6 92.7h0M575 103.3h0M577.4 91.3h0M575.3 91.8h0M578 101.2h0M577.5 99.1h0M574.6 95.2h0M575.5 73.1h0M577.9 84.9h0M576.7 82.2h0M576.1 74.5h0M576.9 81.9h0M574.9 70.2h0M576.5 72.9h0M576.2 81.8h0M578.3 91.7h0M574.6 89.1h0M576.9 91.6h0M576.1 99.2h0M576 108.5h0M576.5 85.6h0M577.4 106.3h0M575.2 82.1h0M577 68.8h0M576.7 89.4h0M574.9 101.5h0M576.5 98.1h0M576.7 83h0M576.4 91.7h0M575.3 95.6h0M576.1 87.4h0M575.7 104.1h0M577.2 102.5h0M575.3 85.7h0M575 99h0M575.5 82.8h0M576.8 96.3h0M574.7 89.6h0M574.9 92.5h0M575.9 74.8h0M575.5 93.8h0M577.7 89.5h0M577.1 103.7h0M576.7 88.8h0M576.2 92.5h0M575.3 86.8h0M575.9 114h0M578.1 82.8h0M577.8 89.8h0M576.6 86.8h0M577.5 85.8h0M576.6 77.9h0M577.2 101.8h0M574.7 96.7h0M577.7 87.7h0M578 107.9h0M577.2 113.9h0M577.6 84.1h0M576.7 96.2h0M575.1 123.2h0M575.5 132.4h0M576 138h0M576.7 143.5h0M576.1 146.1h0M593.6 126.9h0M594.2 72h0M594.7 84h0M593.2 88.9h0M594.1 89.6h0M594.1 101.7h0M592.8 92.1h0M594.8 117.3h0M592.9 120.2h0M594.7 104.7h0M595.7 120.3h0M594.4 104h0M595.5 74h0M594.4 94.5h0M593.8 108.4h0M594 92.2h0M595.3 84.2h0M595.2 115.6h0M594.2 97.3h0M594.4 106.6h0M593.3 94.1h0M592.9 124.7h0M594.2 117.4h0M592.8 83.2h0M593.4 107h0M592.5 90.1h0M594.5 80.4h0M593 94.1h0M592.7 98.4h0M592.3 100.3h0M593.6 93.4h0M595.7 88.1h0M593.9 102.9h0M594.1 84.5h0M593.9 97.1h0M593 100.8h0M595.4 113.1h0M594.9 76.9h0M593.7 75.9h0M594.4 112.9h0M595.4 103h0M594.6 87.6h0M592.7 94.8h0M592.3 102.8h0M592.4 110.6h0M593.3 123.4h0M595.8 88.9h0M594.4 115.6h0M592.9 107.7h0M594.4 86.3h0M594.5 87.7h0M595.1 76.6h0M595 109h0M594.8 75.6h0M593.3 95.9h0M593.1 91.8h0M592.8 86.3h0M593.3 83.4h0M593.4 113.9h0M593.8 76.7h0M592.9 93.5h0M594.7 94.9h0M595.2 102.5h0M594.3 112.4h0M593.8 94.6h0M593 81.1h0M595.2 119.6h0M592.8 93.8h0M593 109h0M593.5 90.7h0M595.2 113.7h0M594.2 104.8h0M593 104.3h0M592.5 86.4h0M595.5 96.6h0M595.8 111.9h0M595.6 104h0M595.2 96.3h0M594.2 97.7h0M595.3 77.2h0M593.1 84.6h0M592.5 108.3h0M594.5 107.5h0M594.2 82.4h0M595.1 85.3h0M594 92.4h0M593.2 95.6h0M595.4 100.2h0M594.8 95.4h0M593.4 110.8h0M593 100.1h0M594.4 90.3h0M593.7 95.7h0M593.5 100.4h0M594.1 96.8h0M595.4 84.6h0M594.4 120.2h0M592.8 116.9h0M595.3 115.9h0M593.7 113.1h0M592.6 103.2h0M592.8 89.1h0M593.4 85.7h0M592.3 113.4h0M595.6 83.4h0M593.8 82h0M592.5 78.4h0M595 84.9h0M595.1 108.6h0M592.4 125h0M593.4 105.9h0M594.6 91.2h0M594.1 94.3h0M594 98.1h0M594.8 109.5h0M592.5 97h0M592.4 90.2h0M595.8 91.5h0M593.6 91.1h0M594.1 97h0M594 86.5h0M592.7 102.2h0M595.4 100.4h0M593.2 111h0M595.2 79.7h0M594.4 93.9h0M593.9 93.7h0M593.3 94.2h0M595.4 80.9h0M594 75h0M595.9 103.5h0M595.1 81.7h0M593.4 105.3h0M595.1 87.6h0M595.4 95.1h0M595.2 95.7h0M593.6 94.3h0M593.9 108.2h0M593.2 92.3h0M594.9 98.9h0M592.7 83h0M595 119.8h0M593.1 88.8h0M592.4 111.9h0M594.3 77.5h0M593 89.1h0M594.4 93.4h0M595.6 106.7h0M595.7 96.3h0M595.1 100.5h0M594.1 97.2h0M595.5 97.1h0M593.3 86.7h0M594.3 87.3h0M593.1 77.7h0M595.5 114.4h0M594.6 97.2h0M595.6 101.5h0M592.6 89.2h0M593.9 100.5h0M592.5 107.7h0M595.8 111.2h0M595.2 106.1h0M592.9 86.6h0M592.5 96.1h0M594.2 107.2h0M594.8 73h0M592.6 114.9h0M592.9 101.2h0M595.1 82.1h0M593.6 87h0M593.5 110.7h0M592.9 81.2h0M593.6 91.1h0M594 85h0M593 78.4h0M594.8 88h0M594.1 84h0M594.8 102.3h0M594.5 79.3h0M595.3 76.8h0M592.5 138h0M595.5 139.8h0M595.2 143.5h0M593.9 146.1h0M613.6 125.6h0M611.7 73.6h0M612.9 101.9h0M613.5 89.9h0M611.4 118.9h0M612.8 102.3h0M610.2 109.1h0M611.7 103.9h0M613 116.1h0M613.1 85h0M612.9 111.5h0M612.2 85h0M612.4 103.3h0M611.3 86.7h0M613.3 92.5h0M612.1 82.7h0M610.3 111.4h0M611.8 116.3h0M610.4 98.2h0M610.4 85h0M610 99.2h0M611.8 86.7h0M610.3 100.4h0M611.1 97.9h0M611.3 84.3h0M613.4 96.3h0M613.5 101.6h0M610.4 99h0M613.1 85h0M611.6 84h0M612.6 80.5h0M611.7 94.4h0M610.9 112.3h0M611.5 89.4h0M612.2 103.8h0M612.6 110.2h0M613.1 101.4h0M611 109.2h0M613.4 115.9h0M613.5 99.3h0M609.9 111.6h0M611.7 89.2h0M610.6 95.9h0M611.6 115.6h0M610.3 94.4h0M613.4 95.3h0M613.5 114.5h0M610.7 90.3h0M610.4 105h0M611.7 103.9h0M612.7 90.9h0M611.1 106.7h0M612.4 91.5h0M612.7 95.2h0M610.7 82.2h0M611.6 92.8h0M613.4 99.5h0M624.4 149.4h0M626.1 83.8h0M626 123.3h0M627.1 115.8h0M627 104h0M625.8 117.3h0M627.4 145.9h0M626.8 139h0M625.2 88.7h0M626.1 116.6h0M626.6 134.2h0M627.5 117.4h0M626.1 126.4h0M625 85.1h0M627.5 109.7h0M627.7 131.8h0M624.9 101.9h0M625.5 112.7h0M626.8 94.2h0M627.6 123.7h0M625.7 122.6h0M624.5 109.1h0M625.5 86.4h0M624.4 114.2h0M627.1 118.1h0M624.9 127.7h0M625 105.1h0M626.8 117h0M625.7 134.4h0M626.6 113.7h0M624.6 105.7h0M624.2 131.4h0M626 120.5h0M627.3 109.7h0M625.5 91.7h0M627.5 112.2h0M625.5 109.5h0M625.8 112.4h0M626.8 121.3h0M624.9 114h0M626.4 103.6h0M627.8 113h0M626.9 131.6h0M626.6 127.8h0M627.7 127.9h0M626.9 125.6h0M626.3 87.3h0M624.3 103h0M626.5 109.9h0M626.6 93h0M627.5 111h0M624.5 120.4h0M627.1 124.3h0M624.7 143.7h0M627.1 136.9h0M627.3 110.9h0M625.3 119.1h0M624.2 117.6h0M624.2 109.6h0M626.1 121.7h0M624.7 138.7h0M626.2 110.8h0M627.8 127.7h0M626.8 123h0M627.5 136.7h0M627.1 96.6h0M624.9 143.7h0M624.4 116.1h0M627.8 125.1h0M627.7 144.2h0M625.5 137.3h0M626.3 130.2h0M627.5 102h0M625.3 133.6h0M625.6 142.5h0M626 89.6h0M627.4 132.6h0M624.4 97.4h0M626.3 99.5h0M626.1 93.3h0" stroke="#ec978b" stroke-width="2.4" stroke-linecap="round" fill="none"/>
<ellipse cx="56.1" cy="101.9" rx="2" ry="1.3" fill="#111"/><circle cx="56.1" cy="101.9" r=".45" fill="#bbb"/><ellipse cx="63.4" cy="95.4" rx="2" ry="1.3" fill="#111"/><circle cx="63.4" cy="95.4" r=".45" fill="#bbb"/><ellipse cx="73.8" cy="96.7" rx="2" ry="1.3" fill="#111"/><circle cx="73.8" cy="96.7" r=".45" fill="#bbb"/><ellipse cx="81.1" cy="91" rx="2" ry="1.3" fill="#111"/><circle cx="81.1" cy="91" r=".45" fill="#bbb"/><ellipse cx="91.5" cy="97.8" rx="2" ry="1.3" fill="#111"/><circle cx="91.5" cy="97.8" r=".45" fill="#bbb"/><ellipse cx="98.8" cy="87.1" rx="2" ry="1.3" fill="#111"/><circle cx="98.8" cy="87.1" r=".45" fill="#bbb"/><ellipse cx="109.2" cy="98.6" rx="2" ry="1.3" fill="#111"/><circle cx="109.2" cy="98.6" r=".45" fill="#bbb"/><ellipse cx="116.5" cy="90.6" rx="2" ry="1.3" fill="#111"/><circle cx="116.5" cy="90.6" r=".45" fill="#bbb"/><ellipse cx="126.9" cy="112.4" rx="2" ry="1.3" fill="#111"/><circle cx="126.9" cy="112.4" r=".45" fill="#bbb"/><ellipse cx="134.2" cy="91.2" rx="2" ry="1.3" fill="#111"/><circle cx="134.2" cy="91.2" r=".45" fill="#bbb"/><ellipse cx="144.5" cy="101" rx="2" ry="1.3" fill="#111"/><circle cx="144.5" cy="101" r=".45" fill="#bbb"/><ellipse cx="151.8" cy="87.5" rx="2" ry="1.3" fill="#111"/><circle cx="151.8" cy="87.5" r=".45" fill="#bbb"/><ellipse cx="162.2" cy="124.1" rx="2" ry="1.3" fill="#111"/><circle cx="162.2" cy="124.1" r=".45" fill="#bbb"/><ellipse cx="169.5" cy="98.6" rx="2" ry="1.3" fill="#111"/><circle cx="169.5" cy="98.6" r=".45" fill="#bbb"/><ellipse cx="179.9" cy="101.9" rx="2" ry="1.3" fill="#111"/><circle cx="179.9" cy="101.9" r=".45" fill="#bbb"/><ellipse cx="187.2" cy="86.6" rx="2" ry="1.3" fill="#111"/><circle cx="187.2" cy="86.6" r=".45" fill="#bbb"/><ellipse cx="197.6" cy="98.4" rx="2" ry="1.3" fill="#111"/><circle cx="197.6" cy="98.4" r=".45" fill="#bbb"/><ellipse cx="204.9" cy="86.9" rx="2" ry="1.3" fill="#111"/><circle cx="204.9" cy="86.9" r=".45" fill="#bbb"/><ellipse cx="215.3" cy="101.2" rx="2" ry="1.3" fill="#111"/><circle cx="215.3" cy="101.2" r=".45" fill="#bbb"/><ellipse cx="222.6" cy="92.8" rx="2" ry="1.3" fill="#111"/><circle cx="222.6" cy="92.8" r=".45" fill="#bbb"/><ellipse cx="233" cy="101.2" rx="2" ry="1.3" fill="#111"/><circle cx="233" cy="101.2" r=".45" fill="#bbb"/><ellipse cx="240.3" cy="90.6" rx="2" ry="1.3" fill="#111"/><circle cx="240.3" cy="90.6" r=".45" fill="#bbb"/><ellipse cx="250.7" cy="94.7" rx="2" ry="1.3" fill="#111"/><circle cx="250.7" cy="94.7" r=".45" fill="#bbb"/><ellipse cx="258" cy="95.1" rx="2" ry="1.3" fill="#111"/><circle cx="258" cy="95.1" r=".45" fill="#bbb"/><ellipse cx="268.4" cy="101.2" rx="2" ry="1.3" fill="#111"/><circle cx="268.4" cy="101.2" r=".45" fill="#bbb"/><ellipse cx="275.7" cy="95.1" rx="2" ry="1.3" fill="#111"/><circle cx="275.7" cy="95.1" r=".45" fill="#bbb"/><ellipse cx="286.1" cy="92.8" rx="2" ry="1.3" fill="#111"/><circle cx="286.1" cy="92.8" r=".45" fill="#bbb"/><ellipse cx="293.4" cy="92.8" rx="2" ry="1.3" fill="#111"/><circle cx="293.4" cy="92.8" r=".45" fill="#bbb"/><ellipse cx="303.8" cy="98.4" rx="2" ry="1.3" fill="#111"/><circle cx="303.8" cy="98.4" r=".45" fill="#bbb"/><ellipse cx="311.1" cy="84.2" rx="2" ry="1.3" fill="#111"/><circle cx="311.1" cy="84.2" r=".45" fill="#bbb"/><ellipse cx="321.4" cy="109.9" rx="2" ry="1.3" fill="#111"/><circle cx="321.4" cy="109.9" r=".45" fill="#bbb"/><ellipse cx="328.8" cy="104.1" rx="2" ry="1.3" fill="#111"/><circle cx="328.8" cy="104.1" r=".45" fill="#bbb"/><ellipse cx="339.1" cy="95.8" rx="2" ry="1.3" fill="#111"/><circle cx="339.1" cy="95.8" r=".45" fill="#bbb"/><ellipse cx="346.4" cy="89" rx="2" ry="1.3" fill="#111"/><circle cx="346.4" cy="89" r=".45" fill="#bbb"/><ellipse cx="356.8" cy="95.8" rx="2" ry="1.3" fill="#111"/><circle cx="356.8" cy="95.8" r=".45" fill="#bbb"/><ellipse cx="364.1" cy="95.8" rx="2" ry="1.3" fill="#111"/><circle cx="364.1" cy="95.8" r=".45" fill="#bbb"/><path d="M374.5 96.4h7.6" stroke="#111" stroke-width="1.3"/><path d="M378.3 94.3v4.2M376.3 94.3h4M376.3 98.5h4" stroke="#111" stroke-width=".9" fill="none"/><ellipse cx="378.3" cy="96.4" rx="2" ry="1.3" fill="#111"/><ellipse cx="392.2" cy="102.3" rx="2" ry="1.3" fill="#111"/><circle cx="392.2" cy="102.3" r=".45" fill="#bbb"/><ellipse cx="399.5" cy="109.1" rx="2" ry="1.3" fill="#111"/><circle cx="399.5" cy="109.1" r=".45" fill="#bbb"/><ellipse cx="409.9" cy="117.1" rx="2" ry="1.3" fill="#111"/><circle cx="409.9" cy="117.1" r=".45" fill="#bbb"/><ellipse cx="417.2" cy="90.1" rx="2" ry="1.3" fill="#111"/><circle cx="417.2" cy="90.1" r=".45" fill="#bbb"/><path d="M427.6 87.9V95.6M426.3 87.9h2.6M426.3 95.6h2.6" stroke="#333" stroke-width="1" fill="none"/><ellipse cx="427.6" cy="91.7" rx="1.8" ry="1.3" fill="#222"/><ellipse cx="434.9" cy="86.7" rx="2" ry="1.3" fill="#111"/><circle cx="434.9" cy="86.7" r=".45" fill="#bbb"/><ellipse cx="445.3" cy="96.7" rx="2" ry="1.3" fill="#111"/><circle cx="445.3" cy="96.7" r=".45" fill="#bbb"/><ellipse cx="452.6" cy="88" rx="2" ry="1.3" fill="#111"/><circle cx="452.6" cy="88" r=".45" fill="#bbb"/><ellipse cx="463" cy="102.1" rx="2" ry="1.3" fill="#111"/><circle cx="463" cy="102.1" r=".45" fill="#bbb"/><ellipse cx="470.3" cy="86.6" rx="2" ry="1.3" fill="#111"/><circle cx="470.3" cy="86.6" r=".45" fill="#bbb"/><path d="M480.7 96.1V110M479.4 96.1h2.6M479.4 110h2.6" stroke="#333" stroke-width="1" fill="none"/><ellipse cx="480.7" cy="103" rx="1.8" ry="1.3" fill="#222"/><ellipse cx="488" cy="91.2" rx="2" ry="1.3" fill="#111"/><circle cx="488" cy="91.2" r=".45" fill="#bbb"/><ellipse cx="498.4" cy="102.1" rx="2" ry="1.3" fill="#111"/><circle cx="498.4" cy="102.1" r=".45" fill="#bbb"/><ellipse cx="505.7" cy="101.7" rx="2" ry="1.3" fill="#111"/><circle cx="505.7" cy="101.7" r=".45" fill="#bbb"/><ellipse cx="516" cy="109.9" rx="2" ry="1.3" fill="#111"/><circle cx="516" cy="109.9" r=".45" fill="#bbb"/><ellipse cx="523.3" cy="88.8" rx="2" ry="1.3" fill="#111"/><circle cx="523.3" cy="88.8" r=".45" fill="#bbb"/><ellipse cx="533.7" cy="111.7" rx="2" ry="1.3" fill="#111"/><circle cx="533.7" cy="111.7" r=".45" fill="#bbb"/><ellipse cx="541" cy="87.5" rx="2" ry="1.3" fill="#111"/><circle cx="541" cy="87.5" r=".45" fill="#bbb"/><ellipse cx="551.4" cy="92.1" rx="2" ry="1.3" fill="#111"/><circle cx="551.4" cy="92.1" r=".45" fill="#bbb"/><ellipse cx="558.7" cy="84.7" rx="2" ry="1.3" fill="#111"/><circle cx="558.7" cy="84.7" r=".45" fill="#bbb"/><ellipse cx="569.1" cy="123.5" rx="2" ry="1.3" fill="#111"/><circle cx="569.1" cy="123.5" r=".45" fill="#bbb"/><ellipse cx="576.4" cy="90.6" rx="2" ry="1.3" fill="#111"/><circle cx="576.4" cy="90.6" r=".45" fill="#bbb"/><ellipse cx="586.8" cy="96.7" rx="2" ry="1.3" fill="#111"/><circle cx="586.8" cy="96.7" r=".45" fill="#bbb"/><ellipse cx="594.1" cy="96.7" rx="2" ry="1.3" fill="#111"/><circle cx="594.1" cy="96.7" r=".45" fill="#bbb"/><ellipse cx="604.5" cy="97.8" rx="2" ry="1.3" fill="#111"/><circle cx="604.5" cy="97.8" r=".45" fill="#bbb"/><ellipse cx="611.8" cy="100.1" rx="2" ry="1.3" fill="#111"/><circle cx="611.8" cy="100.1" r=".45" fill="#bbb"/><path d="M622.2 116.7h7.6" stroke="#111" stroke-width="1.3"/><path d="M626 114.6v4.2M624 114.6h4M624 118.8h4" stroke="#111" stroke-width=".9" fill="none"/><ellipse cx="626" cy="116.7" rx="2" ry="1.3" fill="#111"/>
<path d="M56.1 72.2V69.1H63.4V72.2" stroke="#111" stroke-width="1.15" fill="none"/><text x="59.8" y="68.9" font-size="8" text-anchor="middle" fill="#111">***</text><path d="M73.8 20.6V17.5H81.1V20.6" stroke="#111" stroke-width="1.15" fill="none"/><text x="77.4" y="17.3" font-size="8" text-anchor="middle" fill="#111">***</text><path d="M91.5 57.1V54H98.8V57.1" stroke="#111" stroke-width="1.15" fill="none"/><text x="95.1" y="53.8" font-size="8" text-anchor="middle" fill="#111">***</text><path d="M109.2 47.8V44.7H116.5V47.8" stroke="#111" stroke-width="1.15" fill="none"/><text x="112.8" y="44.5" font-size="8" text-anchor="middle" fill="#111">***</text><path d="M126.9 72.2V69.1H134.2V72.2" stroke="#111" stroke-width="1.15" fill="none"/><text x="130.5" y="68.9" font-size="8" text-anchor="middle" fill="#111">***</text><path d="M144.5 59.6V56.5H151.8V59.6" stroke="#111" stroke-width="1.15" fill="none"/><text x="148.2" y="56.3" font-size="8" text-anchor="middle" fill="#111">***</text><path d="M162.2 76.7V73.6H169.5V76.7" stroke="#111" stroke-width="1.15" fill="none"/><text x="165.9" y="73.4" font-size="8" text-anchor="middle" fill="#111">***</text><path d="M179.9 57.1V54H187.2V57.1" stroke="#111" stroke-width="1.15" fill="none"/><text x="183.6" y="53.8" font-size="8" text-anchor="middle" fill="#111">***</text><path d="M197.6 65.4V62.3H204.9V65.4" stroke="#111" stroke-width="1.15" fill="none"/><text x="201.3" y="62.1" font-size="8" text-anchor="middle" fill="#111">***</text><path d="M215.3 62V58.9H222.6V62" stroke="#111" stroke-width="1.15" fill="none"/><text x="219" y="58.7" font-size="8" text-anchor="middle" fill="#111">***</text><path d="M233 66.5V63.4H240.3V66.5" stroke="#111" stroke-width="1.15" fill="none"/><text x="236.7" y="63.2" font-size="8" text-anchor="middle" fill="#111">***</text><path d="M250.7 56.3V53.2H258V56.3" stroke="#111" stroke-width="1.15" fill="none"/><text x="254.3" y="52.8" font-size="8" text-anchor="middle" fill="#111">*</text><path d="M268.4 55.2V52.1H275.7V55.2" stroke="#111" stroke-width="1.15" fill="none"/><text x="272" y="51.7" font-size="8" text-anchor="middle" fill="#111">*</text><path d="M303.8 58V54.9H311.1V58" stroke="#111" stroke-width="1.15" fill="none"/><text x="307.4" y="54.7" font-size="8" text-anchor="middle" fill="#111">***</text><path d="M321.4 64.5V61.4H328.8V64.5" stroke="#111" stroke-width="1.15" fill="none"/><text x="325.1" y="61.2" font-size="8" text-anchor="middle" fill="#111">***</text><path d="M339.1 14.9V11.8H346.4V14.9" stroke="#111" stroke-width="1.15" fill="none"/><text x="342.8" y="11.6" font-size="8" text-anchor="middle" fill="#111">***</text><path d="M392.2 77.8V74.7H399.5V77.8" stroke="#111" stroke-width="1.15" fill="none"/><text x="395.9" y="74.5" font-size="8" text-anchor="middle" fill="#111">***</text><path d="M409.9 71.1V68H417.2V71.1" stroke="#111" stroke-width="1.15" fill="none"/><text x="413.6" y="67.8" font-size="8" text-anchor="middle" fill="#111">***</text><path d="M445.3 66.3V63.2H452.6V66.3" stroke="#111" stroke-width="1.15" fill="none"/><text x="448.9" y="63" font-size="8" text-anchor="middle" fill="#111">***</text><path d="M463 63.2V60.1H470.3V63.2" stroke="#111" stroke-width="1.15" fill="none"/><text x="466.6" y="59.9" font-size="8" text-anchor="middle" fill="#111">***</text><path d="M498.4 72.2V69.1H505.7V72.2" stroke="#111" stroke-width="1.15" fill="none"/><text x="502" y="68.9" font-size="8" text-anchor="middle" fill="#111">***</text><path d="M516 33.8V30.7H523.3V33.8" stroke="#111" stroke-width="1.15" fill="none"/><text x="519.7" y="30.5" font-size="8" text-anchor="middle" fill="#111">***</text><path d="M533.7 70V66.9H541V70" stroke="#111" stroke-width="1.15" fill="none"/><text x="537.4" y="66.7" font-size="8" text-anchor="middle" fill="#111">***</text><path d="M551.4 64.5V61.4H558.7V64.5" stroke="#111" stroke-width="1.15" fill="none"/><text x="555.1" y="61.2" font-size="8" text-anchor="middle" fill="#111">***</text><path d="M569.1 63.9V60.8H576.4V63.9" stroke="#111" stroke-width="1.15" fill="none"/><text x="572.8" y="60.6" font-size="8" text-anchor="middle" fill="#111">***</text><path d="M586.8 70.6V67.5H594.1V70.6" stroke="#111" stroke-width="1.15" fill="none"/><text x="590.5" y="67.1" font-size="8" text-anchor="middle" fill="#111">*</text>
</g>
<path d="M49.4 2.3V166.4M48.8 165.8H635.8" stroke="#222" stroke-width="1.2" fill="none"/>
<path d="M45.4 162H49M45.4 125H49M45.4 88H49M45.4 51.1H49M45.4 14.1H49M59.9 166.4V170M77.6 166.4V170M95.3 166.4V170M113 166.4V170M130.7 166.4V170M148.3 166.4V170M166 166.4V170M183.7 166.4V170M201.4 166.4V170M219.1 166.4V170M236.8 166.4V170M254.5 166.4V170M272.2 166.4V170M289.9 166.4V170M307.6 166.4V170M325.2 166.4V170M342.9 166.4V170M360.6 166.4V170M378.3 166.4V170M396 166.4V170M413.7 166.4V170M431.4 166.4V170M449.1 166.4V170M466.8 166.4V170M484.5 166.4V170M502.2 166.4V170M519.8 166.4V170M537.5 166.4V170M555.2 166.4V170M572.9 166.4V170M590.6 166.4V170M608.3 166.4V170M626 166.4V170" stroke="#222" stroke-width="1.1" fill="none"/>
<text x="42.6" y="165.5" font-size="8.8" text-anchor="end" fill="#222">0</text>
<text x="42.6" y="128.5" font-size="8.8" text-anchor="end" fill="#222">2</text>
<text x="42.6" y="91.5" font-size="8.8" text-anchor="end" fill="#222">4</text>
<text x="42.6" y="54.6" font-size="8.8" text-anchor="end" fill="#222">6</text>
<text x="42.6" y="17.6" font-size="8.8" text-anchor="end" fill="#222">8</text>
<text x="63.5" y="177" font-size="8.4" text-anchor="end" fill="#1a1a1a" stroke="#1a1a1a" stroke-width=".12" transform="rotate(-45 63.5 177)">ACC</text>
<text x="81.2" y="177" font-size="8.4" text-anchor="end" fill="#1a1a1a" stroke="#1a1a1a" stroke-width=".12" transform="rotate(-45 81.2 177)">BLCA</text>
<text x="98.9" y="177" font-size="8.4" text-anchor="end" fill="#1a1a1a" stroke="#1a1a1a" stroke-width=".12" transform="rotate(-45 98.9 177)">BRCA</text>
<text x="116.6" y="177" font-size="8.4" text-anchor="end" fill="#1a1a1a" stroke="#1a1a1a" stroke-width=".12" transform="rotate(-45 116.6 177)">CESC</text>
<text x="134.3" y="177" font-size="8.4" text-anchor="end" fill="#1a1a1a" stroke="#1a1a1a" stroke-width=".12" transform="rotate(-45 134.3 177)">CHOL</text>
<text x="151.9" y="177" font-size="8.4" text-anchor="end" fill="#1a1a1a" stroke="#1a1a1a" stroke-width=".12" transform="rotate(-45 151.9 177)">COAD</text>
<text x="169.6" y="177" font-size="8.4" text-anchor="end" fill="#1a1a1a" stroke="#1a1a1a" stroke-width=".12" transform="rotate(-45 169.6 177)">DLBC</text>
<text x="187.3" y="177" font-size="8.4" text-anchor="end" fill="#1a1a1a" stroke="#1a1a1a" stroke-width=".12" transform="rotate(-45 187.3 177)">ESCA</text>
<text x="205" y="177" font-size="8.4" text-anchor="end" fill="#1a1a1a" stroke="#1a1a1a" stroke-width=".12" transform="rotate(-45 205 177)">GBM</text>
<text x="222.7" y="177" font-size="8.4" text-anchor="end" fill="#1a1a1a" stroke="#1a1a1a" stroke-width=".12" transform="rotate(-45 222.7 177)">HNSC</text>
<text x="240.4" y="177" font-size="8.4" text-anchor="end" fill="#1a1a1a" stroke="#1a1a1a" stroke-width=".12" transform="rotate(-45 240.4 177)">KICH</text>
<text x="258.1" y="177" font-size="8.4" text-anchor="end" fill="#1a1a1a" stroke="#1a1a1a" stroke-width=".12" transform="rotate(-45 258.1 177)">KIRC</text>
<text x="275.8" y="177" font-size="8.4" text-anchor="end" fill="#1a1a1a" stroke="#1a1a1a" stroke-width=".12" transform="rotate(-45 275.8 177)">KIRP</text>
<text x="293.5" y="177" font-size="8.4" text-anchor="end" fill="#1a1a1a" stroke="#1a1a1a" stroke-width=".12" transform="rotate(-45 293.5 177)">LAML</text>
<text x="311.2" y="177" font-size="8.4" text-anchor="end" fill="#1a1a1a" stroke="#1a1a1a" stroke-width=".12" transform="rotate(-45 311.2 177)">LGG</text>
<text x="328.9" y="177" font-size="8.4" text-anchor="end" fill="#1a1a1a" stroke="#1a1a1a" stroke-width=".12" transform="rotate(-45 328.9 177)">LIHC</text>
<text x="346.5" y="177" font-size="8.4" text-anchor="end" fill="#1a1a1a" stroke="#1a1a1a" stroke-width=".12" transform="rotate(-45 346.5 177)">LUAD</text>
<text x="364.2" y="177" font-size="8.4" text-anchor="end" fill="#1a1a1a" stroke="#1a1a1a" stroke-width=".12" transform="rotate(-45 364.2 177)">LUSC</text>
<text x="381.9" y="177" font-size="8.4" text-anchor="end" fill="#1a1a1a" stroke="#1a1a1a" stroke-width=".12" transform="rotate(-45 381.9 177)">MESO</text>
<text x="399.6" y="177" font-size="8.4" text-anchor="end" fill="#1a1a1a" stroke="#1a1a1a" stroke-width=".12" transform="rotate(-45 399.6 177)">OV</text>
<text x="417.3" y="177" font-size="8.4" text-anchor="end" fill="#1a1a1a" stroke="#1a1a1a" stroke-width=".12" transform="rotate(-45 417.3 177)">PAAD</text>
<text x="435" y="177" font-size="8.4" text-anchor="end" fill="#1a1a1a" stroke="#1a1a1a" stroke-width=".12" transform="rotate(-45 435 177)">PCPG</text>
<text x="452.7" y="177" font-size="8.4" text-anchor="end" fill="#1a1a1a" stroke="#1a1a1a" stroke-width=".12" transform="rotate(-45 452.7 177)">PRAD</text>
<text x="470.4" y="177" font-size="8.4" text-anchor="end" fill="#1a1a1a" stroke="#1a1a1a" stroke-width=".12" transform="rotate(-45 470.4 177)">READ</text>
<text x="488.1" y="177" font-size="8.4" text-anchor="end" fill="#1a1a1a" stroke="#1a1a1a" stroke-width=".12" transform="rotate(-45 488.1 177)">SARC</text>
<text x="505.8" y="177" font-size="8.4" text-anchor="end" fill="#1a1a1a" stroke="#1a1a1a" stroke-width=".12" transform="rotate(-45 505.8 177)">SKCM</text>
<text x="523.4" y="177" font-size="8.4" text-anchor="end" fill="#1a1a1a" stroke="#1a1a1a" stroke-width=".12" transform="rotate(-45 523.4 177)">STAD</text>
<text x="541.1" y="177" font-size="8.4" text-anchor="end" fill="#1a1a1a" stroke="#1a1a1a" stroke-width=".12" transform="rotate(-45 541.1 177)">TGCT</text>
<text x="558.8" y="177" font-size="8.4" text-anchor="end" fill="#1a1a1a" stroke="#1a1a1a" stroke-width=".12" transform="rotate(-45 558.8 177)">THCA</text>
<text x="576.5" y="177" font-size="8.4" text-anchor="end" fill="#1a1a1a" stroke="#1a1a1a" stroke-width=".12" transform="rotate(-45 576.5 177)">THYM</text>
<text x="594.2" y="177" font-size="8.4" text-anchor="end" fill="#1a1a1a" stroke="#1a1a1a" stroke-width=".12" transform="rotate(-45 594.2 177)">UCEC</text>
<text x="611.9" y="177" font-size="8.4" text-anchor="end" fill="#1a1a1a" stroke="#1a1a1a" stroke-width=".12" transform="rotate(-45 611.9 177)">UCS</text>
<text x="629.6" y="177" font-size="8.4" text-anchor="end" fill="#1a1a1a" stroke="#1a1a1a" stroke-width=".12" transform="rotate(-45 629.6 177)">UVM</text>
<text x="0" y="0" font-size="9.7" text-anchor="middle" fill="#111" transform="translate(18.5 85) rotate(-90)">The expression of XIAP</text>
<text x="0" y="0" font-size="9.7" text-anchor="middle" fill="#111" transform="translate(28.4 85) rotate(-90)">Log<tspan font-size="7.6" dy="2.2">2</tspan><tspan dy="-2.2"> (TPM+1)</tspan></text>
<circle cx="645.6" cy="81" r="1.5" fill="#80c4c2"/><circle cx="645.6" cy="91" r="1.5" fill="#ec978b"/>
<text x="654.8" y="84" font-size="8.3" fill="#111">Normal</text><text x="654.8" y="93.8" font-size="8.3" fill="#111">Tumor</text>
<text x="0" y="0" font-size="15.7" fill="#111" stroke="#111" stroke-width=".45" transform="translate(8.59 18.58) scale(0.875 1)">A</text>
<path d="M59.9 292.4L70.1 281.1M59.9 283.8L70.1 276M59.9 303.6L70.1 289M59.9 293.1L70.1 278.7M59.9 288.7L70.1 284.7M59.9 290.1L70.1 284.3M59.9 304.9L70.1 297.2M59.9 297.1L70.1 291.9M59.9 292L70.1 283.5M59.9 308.2L70.1 285.9M59.9 285.6L70.1 280.2M59.9 310.2L70.1 296.5M59.9 309.2L70.1 288.9M59.9 293.3L70.1 279.9M59.9 317.2L70.1 294.9M59.9 300.8L70.1 283.3M59.9 302.3L70.1 293.9M59.9 317.2L70.1 295.5M59.9 294.3L70.1 286.6M59.9 317.2L70.1 300.7M59.9 276.6L70.1 269.8M59.9 296.9L70.1 314M85.2 282.3L95.4 297.1M85.2 271L95.4 275.2M85.2 271.4L95.4 281.6M85.2 269.1L95.4 280.3M85.2 273.4L95.4 278.9M85.2 297.9L95.4 301.2M85.2 305.6L95.4 306.9M85.2 305.7L95.4 289.7M85.2 303L95.4 294.4M85.2 283.7L95.4 304.4M85.2 314.9L95.4 305.8M85.2 300.9L95.4 271.4M85.2 272.7L95.4 303.1M85.2 298.3L95.4 306.9M85.2 276.3L95.4 285.4M85.2 282.4L95.4 285.8M85.2 279.4L95.4 274.2M85.2 298.3L95.4 297.7M85.2 268.9L95.4 292.8M85.2 256.1L95.4 281.6M85.2 256.1L95.4 261M85.2 291.6L95.4 297.2M85.2 293.9L95.4 305.3M85.2 297.2L95.4 284.7M85.2 263.5L95.4 292.9M85.2 261.6L95.4 280.8M85.2 314.9L95.4 302.4M85.2 298.2L95.4 299.5M85.2 290.3L95.4 283.9M85.2 311L95.4 316.7M85.2 302.1L95.4 278.1M85.2 300L95.4 298.5M85.2 258.3L95.4 271.4M85.2 294.6L95.4 287.8M85.2 268.1L95.4 267.5M85.2 314.6L95.4 308.9M85.2 299.3L95.4 295.2M85.2 256.1L95.4 267.6M85.2 309.3L95.4 310.2M85.2 296.9L95.4 266.1M85.2 303.3L95.4 310.5M85.2 283.4L95.4 292.8M85.2 286L95.4 269.7M85.2 289.7L95.4 293.4M85.2 286.4L95.4 292.8M85.2 308.9L95.4 299.8M85.2 292.5L95.4 296M85.2 271.8L95.4 272.7M85.2 273.7L95.4 281.9M85.2 273.4L95.4 314.3M85.2 300.4L95.4 295.8M85.2 288.6L95.4 280.6M85.2 286L95.4 284.4M85.2 265L95.4 276.2M85.2 285.7L95.4 297.5M85.2 309.6L95.4 328.5M85.2 256.1L95.4 265.4M85.2 299.9L95.4 293.5M85.2 295.2L95.4 294.3M85.2 256.1L95.4 252.7M85.2 287.7L95.4 304.8M85.2 300.9L95.4 295.9M85.2 279.1L95.4 286.6M85.2 299.9L95.4 313.2M85.2 302.1L95.4 313M85.2 297.1L95.4 275.6M85.2 285L95.4 271.3M85.2 305.9L95.4 284.7M85.2 285.5L95.4 272.4M85.2 256.1L95.4 271.6M85.2 293.6L95.4 303.9M85.2 293.5L95.4 301.1M85.2 278.9L95.4 292.5M85.2 292.2L95.4 297.4M85.2 278.5L95.4 293M85.2 304.5L95.4 300.5M85.2 269.5L95.4 269.6M85.2 305.6L95.4 301.7M85.2 267.6L95.4 291.8M85.2 283.7L95.4 282.6M85.2 298.1L95.4 306.8M85.2 285.2L95.4 295.7M85.2 283.6L95.4 313M85.2 277.3L95.4 299.3M85.2 302.4L95.4 328.5M85.2 268L95.4 283.4M85.2 282.3L95.4 300.1M85.2 296.8L95.4 288.1M85.2 271.5L95.4 267M85.2 278.3L95.4 267.7M85.2 279.1L95.4 279M85.2 300.6L95.4 312.3M85.2 297.8L95.4 301.4M85.2 288.8L95.4 282.9M85.2 269.1L95.4 270.8M85.2 256.1L95.4 283.6M85.2 287.7L95.4 274.1M85.2 271.8L95.4 295.9M85.2 298.9L95.4 303.2M85.2 267.7L95.4 286.4M85.2 314.9L95.4 301.9M85.2 310.3L95.4 301.7M85.2 267.2L95.4 303.9M85.2 300.3L95.4 288M85.2 282.3L95.4 289.9M85.2 299.1L95.4 297.2M85.2 314.9L95.4 298.2M85.2 314.9L95.4 296.3M85.2 273.2L95.4 300.2M85.2 262.1L95.4 251.7M85.2 284.4L95.4 294.4M85.2 279.9L95.4 292.1M85.2 314.9L95.4 305.5M85.2 256.1L95.4 251.7M85.2 285.5L95.4 328.5M110.5 305.5L120.7 245.3M110.5 287.2L120.7 277.3M110.5 287.9L120.7 274.9M135.9 329L146.1 331.4M135.9 317.7L146.1 276.3M135.9 315.4L146.1 276.8M135.9 319.3L146.1 281.7M135.9 317.5L146.1 281M135.9 316.9L146.1 276.6M135.9 329L146.1 285.8M135.9 314.9L146.1 272.6M135.9 321.9L146.1 291.4M161.2 292.2L171.4 281.5M161.2 289.5L171.4 314.2M161.2 285L171.4 273.5M161.2 289.4L171.4 298.3M161.2 276L171.4 264.2M161.2 289.8L171.4 295.5M161.2 283.1L171.4 290.8M161.2 288.1L171.4 306.9M161.2 300.8L171.4 319.3M161.2 291.6L171.4 284.3M161.2 285.8L171.4 275.2M161.2 286.8L171.4 288.9M161.2 295.9L171.4 305.9M161.2 278.9L171.4 276.4M161.2 287L171.4 282.4M161.2 300.8L171.4 318.1M161.2 294.4L171.4 322.4M161.2 286.7L171.4 304M161.2 286.5L171.4 289.8M161.2 283.1L171.4 272.3M161.2 286.5L171.4 261.7M161.2 278.4L171.4 295.4M161.2 289.6L171.4 300.5M161.2 286.1L171.4 290.4M161.2 288.9L171.4 296M161.2 292.7L171.4 296.9M161.2 294.8L171.4 301.1M161.2 277.9L171.4 276.2M161.2 299.2L171.4 304.9M161.2 296.5L171.4 311.6M161.2 279.6L171.4 305.1M161.2 280.4L171.4 276.7M161.2 284.4L171.4 283.6M161.2 295.7L171.4 317.3M161.2 289.3L171.4 294.9M161.2 294.3L171.4 301.4M161.2 286.6L171.4 287M161.2 274.2L171.4 281.5M161.2 288.5L171.4 275M161.2 294.8L171.4 319.7M161.2 279.2L171.4 289.8M161.2 300.8L171.4 314M161.2 274.2L171.4 251.5M161.2 287.5L171.4 340.8M186.5 306.5L196.7 284M186.5 292.1L196.7 277.7M186.5 314.9L196.7 286.8M186.5 282.1L196.7 265.4M186.5 307.1L196.7 283.6M186.5 287.1L196.7 280.1M186.5 302.9L196.7 281.6M186.5 292.5L196.7 288.5M186.5 307.8L196.7 284.2M186.5 280.7L196.7 263.3M186.5 271.4L196.7 263.2M186.5 314.9L196.7 287.1M186.5 271.4L196.7 263.2M186.5 293.2L196.7 297.3M211.8 309.2L222 319M211.8 312.3L222 299.9M211.8 311.3L222 304.4M211.8 309.1L222 306.9M211.8 313.6L222 312.4M211.8 309.9L222 324.4M211.8 313.3L222 284.9M211.8 307.8L222 305.7M211.8 306.4L222 297.2M211.8 288.4L222 280.1M211.8 314.2L222 271.5M211.8 321.3L222 302.4M211.8 293L222 285M211.8 282L222 286.6M211.8 335.1L222 306.1M211.8 301.1L222 280.4M211.8 296.1L222 274.5M211.8 290.9L222 277.3M211.8 288.6L222 301.2M211.8 291.3L222 273.6M211.8 314.8L222 295.7M211.8 290.6L222 274.6M211.8 296.9L222 291.2M211.8 291.2L222 260.3M211.8 307.8L222 300.2M211.8 300.7L222 306.9M211.8 335.1L222 336M211.8 335.1L222 317.6M211.8 300.9L222 291.8M211.8 311.4L222 289.7M211.8 312.6L222 319.1M211.8 304L222 286.5M211.8 335.1L222 338.2M211.8 315.9L222 288.3M211.8 301.7L222 300.8M211.8 282L222 259.4M211.8 323.3L222 304.9M211.8 312.3L222 284.4M211.8 297.2L222 280.8M211.8 324.8L222 298.4M211.8 312.6L222 304.4M211.8 292.9L222 292.5M211.8 306.2L222 310.6M211.8 335.1L222 316.4M211.8 282L222 259.4M211.8 308.6L222 340.8M237.1 281.4L247.3 282.8M237.1 292.6L247.3 299.4M237.1 292L247.3 289.2M237.1 276.5L247.3 276.3M237.1 269.3L247.3 278.9M237.1 286.7L247.3 290.5M237.1 276.8L247.3 288.6M237.1 276.5L247.3 289.9M237.1 284.6L247.3 303.6M237.1 288.4L247.3 288.6M237.1 276.4L247.3 292.8M237.1 297.3L247.3 301.3M237.1 279.2L247.3 287.2M237.1 289.2L247.3 308.6M237.1 280.1L247.3 284.4M237.1 288.5L247.3 300.9M237.1 293.8L247.3 303.2M237.1 286.3L247.3 282.4M237.1 285.4L247.3 297.4M237.1 280.1L247.3 294.2M237.1 278.5L247.3 288.9M237.1 281.7L247.3 302.7M237.1 278.5L247.3 295.9M237.1 264.1L247.3 290.6M237.1 286.9L247.3 293.7M237.1 300.1L247.3 304.3M237.1 264.1L247.3 263.2M237.1 282.1L247.3 321.9M262.5 243L272.7 286.7M262.5 314L272.7 298.4M262.5 282L272.7 252.2M262.5 284.1L272.7 289.2M262.5 292.5L272.7 297.5M262.5 271L272.7 268.6M262.5 287.9L272.7 298.1M262.5 270.3L272.7 285.2M262.5 264.1L272.7 268.1M262.5 265.9L272.7 273.5M262.5 273.8L272.7 278.6M262.5 274.4L272.7 282.1M262.5 276.3L272.7 282M262.5 271.2L272.7 275.5M262.5 300.8L272.7 305.1M262.5 285.5L272.7 277.5M262.5 285.8L272.7 297.5M262.5 283.7L272.7 279.2M262.5 285.8L272.7 285.7M262.5 277.9L272.7 299.7M262.5 293.1L272.7 288M262.5 282.8L272.7 285.1M262.5 268.8L272.7 277.7M262.5 289.6L272.7 288.2M262.5 281.2L272.7 282.5M262.5 282.3L272.7 287.2M262.5 288.5L272.7 277.9M262.5 274.6L272.7 286M262.5 285.9L272.7 287.1M262.5 286.9L272.7 287.9M262.5 300.8L272.7 292.8M262.5 291.5L272.7 292.1M262.5 275.2L272.7 275.1M262.5 278.4L272.7 270.3M262.5 267.5L272.7 284M262.5 278.9L272.7 281.8M262.5 264.1L272.7 278.4M262.5 271.9L272.7 289.1M262.5 278L272.7 286.5M262.5 280.7L272.7 292.4M262.5 285.4L272.7 291.4M262.5 283.4L272.7 295.6M262.5 271.9L272.7 276.3M262.5 282L272.7 300.8M262.5 291.4L272.7 289.1M262.5 276.1L272.7 285.4M262.5 264.1L272.7 286.1M262.5 264.1L272.7 276.9M262.5 288.6L272.7 296.1M262.5 284.1L272.7 273.1M262.5 284.4L272.7 285M262.5 270.8L272.7 286.3M262.5 291.3L272.7 291.3M262.5 288.4L272.7 284.6M262.5 287.6L272.7 285.4M262.5 265.6L272.7 284.1M262.5 283L272.7 276.5M262.5 279.2L272.7 291.2M262.5 295.9L272.7 298.3M262.5 264.1L272.7 264.1M262.5 278.6L272.7 276.5M262.5 275.3L272.7 265.3M262.5 267L272.7 283.4M262.5 279.2L272.7 284.6M262.5 273.7L272.7 280.6M262.5 296.9L272.7 295.6M262.5 279.5L272.7 288.1M262.5 292.8L272.7 283.5M262.5 283.3L272.7 279.9M262.5 264.1L272.7 264.1M262.5 279.7L272.7 280.5M262.5 293.5L272.7 300.2M262.5 283.4L272.7 279.6M262.5 285.4L272.7 286.9M262.5 281.3L272.7 291.3M262.5 300.8L272.7 294.7M262.5 264.1L272.7 264.1M262.5 282.5L272.7 307.9M287.8 279.2L298 287M287.8 294.2L298 295.9M287.8 300.8L298 306M287.8 287.6L298 279.5M287.8 296.6L298 297.1M287.8 294.7L298 303.9M287.8 287.6L298 289M287.8 283.5L298 283.4M287.8 288.5L298 278.6M287.8 300.5L298 281.4M287.8 289.7L298 285.6M287.8 302.4L298 301.7M287.8 292.6L298 280.2M287.8 279.4L298 295.2M287.8 297.5L298 294.5M287.8 283.2L298 273.9M287.8 278.4L298 277.8M287.8 272.6L298 289.6M287.8 301.3L298 311M287.8 278.8L298 272.9M287.8 281.7L298 266.3M287.8 277.8L298 267.9M287.8 275.6L298 279.3M287.8 302.4L298 316.5M287.8 294.2L298 288.1M287.8 280.9L298 283.9M287.8 293.3L298 294.8M287.8 292.3L298 307M287.8 298.2L298 299.1M287.8 296.1L298 294.9M287.8 285.9L298 268.8M287.8 299.9L298 311.9M287.8 302.4L298 300.1M287.8 272.6L298 258.5M287.8 287.5L298 318M313.1 362.6L323.3 252.2M313.1 317.2L323.3 341.7M313.1 314.1L323.3 300.5M313.1 311.3L323.3 294.4M313.1 305.6L323.3 292.5M313.1 321.9L323.3 303M313.1 334.5L323.3 311M313.1 303.6L323.3 291.7M313.1 325L323.3 312M313.1 328.6L323.3 317.4M313.1 315.1L323.3 291.7M313.1 314.4L323.3 299.7M313.1 320.9L323.3 307.3M313.1 315.3L323.3 298.1M313.1 315.4L323.3 296.4M313.1 308.8L323.3 285.6M313.1 330.4L323.3 309.3M313.1 323L323.3 298.2M313.1 327.4L323.3 313M313.1 309.5L323.3 295.9M313.1 333.2L323.3 305.7M313.1 326.4L323.3 300.3M313.1 324.7L323.3 296.5M313.1 320.2L323.3 299.4M313.1 305.4L323.3 288.7M313.1 311.8L323.3 302.4M313.1 316.5L323.3 306.6M313.1 318.7L323.3 300.8M313.1 315.6L323.3 300.8M313.1 306L323.3 302.9M313.1 329.6L323.3 305.2M313.1 316.9L323.3 289.2M313.1 318.1L323.3 281.8M313.1 303.6L323.3 279.3M313.1 312.2L323.3 287.2M313.1 325.2L323.3 305.8M313.1 320.8L323.3 303.9M313.1 324.2L323.3 300.6M313.1 326.6L323.3 303.5M313.1 312.2L323.3 292.7M313.1 318.2L323.3 296.1M313.1 315.9L323.3 291.8M313.1 328.4L323.3 300.6M313.1 319.2L323.3 299.5M313.1 324L323.3 305.4M313.1 306.7L323.3 295.5M313.1 307.7L323.3 281.8M313.1 313.5L323.3 283.3M313.1 320.6L323.3 302.5M313.1 305.8L323.3 290.2M313.1 321.1L323.3 296.3M313.1 324.5L323.3 306M313.1 335.1L323.3 309.2M313.1 303.6L323.3 275.7M313.1 319.4L323.3 323.6M338.4 286.3L348.6 275.1M338.4 273.6L348.6 265.2M338.4 299.5L348.6 288.8M338.4 282.5L348.6 268.8M338.4 300.1L348.6 290.4M338.4 298.2L348.6 275.4M338.4 296.9L348.6 288.4M338.4 287.9L348.6 288.1M338.4 277.5L348.6 279.4M338.4 287.4L348.6 269.3M338.4 280.4L348.6 279.3M338.4 280.5L348.6 277.1M338.4 293.1L348.6 279.9M338.4 288.8L348.6 279.1M338.4 289.2L348.6 273.8M338.4 278.8L348.6 280M338.4 282L348.6 266.2M338.4 274.7L348.6 263.4M338.4 280.8L348.6 279.6M338.4 281.3L348.6 277.4M338.4 288.8L348.6 288M338.4 293.9L348.6 281.2M338.4 279.6L348.6 260.8M338.4 271L348.6 273.7M338.4 292.5L348.6 270.4M338.4 294.9L348.6 280.8M338.4 273.1L348.6 257.9M338.4 288.1L348.6 290.7M338.4 289.4L348.6 267M338.4 295.4L348.6 284.7M338.4 276.3L348.6 264.5M338.4 286L348.6 290.3M338.4 292.3L348.6 287.8M338.4 287.8L348.6 271.5M338.4 285.4L348.6 278.6M338.4 292.1L348.6 274M338.4 275.6L348.6 275.6M338.4 289.8L348.6 275.3M338.4 285.7L348.6 260.1M338.4 271L348.6 258.6M338.4 272.4L348.6 263.7M338.4 284.7L348.6 278.2M338.4 280.1L348.6 262.6M338.4 288.1L348.6 284M338.4 297.9L348.6 284.9M338.4 273.6L348.6 273.2M338.4 285.7L348.6 286.4M338.4 290L348.6 287.1M338.4 295.5L348.6 285.5M338.4 280.4L348.6 282.1M338.4 277.5L348.6 257.2M338.4 277.1L348.6 269.2M338.4 289.6L348.6 261.2M338.4 275.9L348.6 287.8M338.4 296.3L348.6 282.8M338.4 291.1L348.6 268.1M338.4 288.1L348.6 278.4M338.4 300.8L348.6 285.6M338.4 271L348.6 254.5M338.4 285.9L348.6 298.9M363.7 268.4L373.9 282M363.7 279.6L373.9 357.9M363.7 283.8L373.9 287M363.7 303.6L373.9 308M363.7 285.8L373.9 297M363.7 291.6L373.9 294.8M363.7 291L373.9 297.6M363.7 295.6L373.9 297.5M363.7 290.5L373.9 281M363.7 282.7L373.9 270.1M363.7 282.4L373.9 270.8M363.7 294L373.9 314.3M363.7 288.7L373.9 296.3M363.7 292.2L373.9 302.2M363.7 289.9L373.9 273.6M363.7 279.7L373.9 266.9M363.7 304.3L373.9 299.5M363.7 288.4L373.9 291.4M363.7 293.9L373.9 305.1M363.7 295.2L373.9 282.9M363.7 304L373.9 300M363.7 299.9L373.9 297.7M363.7 291.6L373.9 290.2M363.7 276.3L373.9 294.4M363.7 288.8L373.9 286.8M363.7 296.9L373.9 300.2M363.7 293.4L373.9 304.3M363.7 282.2L373.9 268.6M363.7 299.9L373.9 301.5M363.7 298.9L373.9 289.6M363.7 287L373.9 299.6M363.7 294.2L373.9 296.6M363.7 288.1L373.9 287.9M363.7 296.6L373.9 308.2M363.7 299.4L373.9 309.9M363.7 296.5L373.9 301.7M363.7 287L373.9 285.1M363.7 296.4L373.9 306.4M363.7 293.3L373.9 289.3M363.7 286.6L373.9 296.4M363.7 286.8L373.9 290.8M363.7 297.1L373.9 291.4M363.7 286.8L373.9 271.3M363.7 277.8L373.9 304.5M363.7 283.9L373.9 281.8M363.7 292.3L373.9 282.9M363.7 275.7L373.9 292.2M363.7 304.8L373.9 307M363.7 275.7L373.9 273.2M363.7 282.5L373.9 295.7M363.7 300.2L373.9 289.7M363.7 304.8L373.9 304.6M363.7 275.7L373.9 264.1M363.7 290.2L373.9 321.9M389.1 285L399.3 274.4M389.1 292.6L399.3 279.6M389.1 298.2L399.3 288M389.1 292.6L399.3 278M414.4 288L424.6 290.3M414.4 307L424.6 275.6M414.4 288L424.6 277.2M439.7 298.4L449.9 319.6M439.7 289.5L449.9 278.4M439.7 287.4L449.9 266.9M439.7 292.1L449.9 280.3M439.7 267.2L449.9 273.3M439.7 293.3L449.9 266.9M439.7 284.3L449.9 274.6M439.7 290.8L449.9 284.5M439.7 293.1L449.9 277.1M439.7 268.1L449.9 268.4M439.7 284.8L449.9 279.4M439.7 286.1L449.9 271.7M439.7 283.4L449.9 282.7M439.7 291L449.9 267.3M439.7 269.8L449.9 278.8M439.7 280.9L449.9 272.2M439.7 301.3L449.9 277.8M439.7 286.5L449.9 281.8M439.7 273.3L449.9 271.9M439.7 279.3L449.9 272.6M439.7 263.3L449.9 267.1M439.7 287.8L449.9 267M439.7 274.9L449.9 287.1M439.7 283L449.9 272M439.7 271.9L449.9 268.7M439.7 275L449.9 278.8M439.7 288.3L449.9 269.4M439.7 276.7L449.9 278.3M439.7 286.5L449.9 274.6M439.7 275.4L449.9 271.4M439.7 297.5L449.9 270.1M439.7 292.9L449.9 269.1M439.7 278L449.9 277.6M439.7 289L449.9 285.2M439.7 298.4L449.9 278.4M439.7 275.5L449.9 276.1M439.7 270.1L449.9 269.9M439.7 294.8L449.9 279.1M439.7 275.3L449.9 276.7M439.7 275.7L449.9 262.8M439.7 299.3L449.9 283M439.7 293.7L449.9 278.4M439.7 287L449.9 276.3M439.7 289.8L449.9 283.2M439.7 272.2L449.9 277.5M439.7 288.2L449.9 273.5M439.7 275.8L449.9 271.3M439.7 275.1L449.9 264.9M439.7 287.2L449.9 283.1M439.7 291.2L449.9 274M439.7 285.1L449.9 272.7M439.7 267.3L449.9 268.1M439.7 275.5L449.9 265.9M439.7 301.3L449.9 282.2M439.7 261.6L449.9 259M439.7 281.4L449.9 292.1M465 270.9L475.2 282.6M465 276.8L475.2 268.6M465 278.6L475.2 288M465 280.3L475.2 258M465 282.6L475.2 272.1M465 289.6L475.2 275.6M465 297.8L475.2 277.2M465 283L475.2 295.9M490.3 297.8L500.5 258M490.3 319.3L500.5 292.4M515.7 308.3L525.9 304.8M541 291.4L551.2 217.8M541 304.2L551.2 287.2M541 298.9L551.2 291.6M541 324.5L551.2 295.9M541 316.9L551.2 297.4M541 300.7L551.2 280.1M541 319.7L551.2 301.2M541 333.7L551.2 296.3M541 299.4L551.2 281.6M541 298.7L551.2 300.4M541 332.3L551.2 302M541 304.1L551.2 288.7M541 296.4L551.2 289.9M541 302.5L551.2 274.5M541 311.5L551.2 307.2M541 301.4L551.2 286.6M541 308.2L551.2 282.7M541 319.8L551.2 298.6M541 284.4L551.2 279.2M541 309L551.2 293.6M541 293.9L551.2 288.6M541 284.4L551.2 276.2M541 303.1L551.2 291.7M541 290.3L551.2 298.8M541 286.9L551.2 277M541 293.6L551.2 295.4M541 316.8L551.2 296.6M541 326.3L551.2 306.6M541 285.3L551.2 274.5M541 309.6L551.2 300.1M541 310.9L551.2 301.4M541 315.9L551.2 284M541 292.4L551.2 285.5M541 333.7L551.2 304.6M541 284.4L551.2 268.6M541 309L551.2 320.1M566.3 314.9L576.5 277.3M566.3 319.6L576.5 282M566.3 282L576.5 329.5M566.3 262.6L576.5 263M566.3 294.4L576.5 283.2M566.3 276.4L576.5 261.1M566.3 259L576.5 275M566.3 272.9L576.5 290.7M566.3 272.5L576.5 294.1M566.3 278.9L576.5 285.8M566.3 281L576.5 296M566.3 277.9L576.5 278.3M566.3 281.2L576.5 283.2M566.3 258.7L576.5 260.7M566.3 292.7L576.5 284.6M566.3 264.2L576.5 275.5M566.3 271.5L576.5 273.3M566.3 285.3L576.5 293.6M566.3 293L576.5 284.1M566.3 277.9L576.5 286.9M566.3 276.2L576.5 279.3M566.3 284.2L576.5 288.3M566.3 277.7L576.5 288.3M566.3 270.6L576.5 267.6M566.3 282.7L576.5 283.4M566.3 298.7L576.5 283.8M566.3 286L576.5 269.3M566.3 261.8L576.5 258M566.3 291.8L576.5 293.9M566.3 278.8L576.5 275.3M566.3 298.7L576.5 302.7M566.3 260.4L576.5 264.9M566.3 298.7L576.5 281M566.3 287.1L576.5 288.7M566.3 279L576.5 297.9M566.3 262.5L576.5 270.7M566.3 268.4L576.5 272.5M566.3 273.6L576.5 258.9M566.3 279.3L576.5 292.2M566.3 285.9L576.5 285.1M566.3 286.8L576.5 295.2M566.3 284.2L576.5 290.1M566.3 267.6L576.5 262.4M566.3 295.9L576.5 306.2M566.3 292L576.5 297.6M566.3 258.7L576.5 273.3M566.3 287.7L576.5 298.4M566.3 284L576.5 281.1M566.3 289.2L576.5 286.9M566.3 288.5L576.5 277.7M566.3 270.6L576.5 288.3M566.3 297.4L576.5 311.5M566.3 298.7L576.5 283.5M566.3 289.4L576.5 288.5M566.3 285.7L576.5 305.7M566.3 269.9L576.5 298.2M566.3 278.8L576.5 288.6M566.3 284.1L576.5 284.6M566.3 289L576.5 259.9M566.3 271.7L576.5 273.9M566.3 284.8L576.5 290.4M566.3 285.1L576.5 301.8M566.3 298.7L576.5 295.5M566.3 258.7L576.5 254.7M566.3 278.7L576.5 313M591.6 284L601.8 276.9M591.6 286L601.8 287.7M591.6 287L601.8 287.7M616.9 282.5L627.1 302.1M616.9 297.6L627.1 296.6M616.9 295.2L627.1 307.6M616.9 291.7L627.1 320M616.9 285.1L627.1 306.2M616.9 282.7L627.1 289M616.9 285.4L627.1 290M616.9 292.9L627.1 299.4M616.9 282.2L627.1 295.5M616.9 301L627.1 320.9M616.9 271.5L627.1 289.9M616.9 293.3L627.1 301.8M616.9 289.5L627.1 303.6M616.9 291.9L627.1 295.1M616.9 282L627.1 301.7M616.9 290L627.1 313.3M616.9 276.2L627.1 302.8M616.9 282.5L627.1 294.2M616.9 280.8L627.1 293.3M616.9 295.4L627.1 301.7M616.9 289.4L627.1 309.1M616.9 282.9L627.1 300.1M616.9 301L627.1 304.3M616.9 301L627.1 310.9M616.9 271L627.1 273.1M616.9 286L627.1 327.1" stroke="#555" stroke-width=".5" fill="none"/>
<path d="M59.9 292.4h0M59.9 283.8h0M59.9 303.6h0M59.9 293.1h0M59.9 288.7h0M59.9 290.1h0M59.9 304.9h0M59.9 297.1h0M59.9 292h0M59.9 308.2h0M59.9 285.6h0M59.9 310.2h0M59.9 309.2h0M59.9 293.3h0M59.9 317.2h0M59.9 300.8h0M59.9 302.3h0M59.9 317.2h0M59.9 294.3h0M59.9 317.2h0M59.9 276.6h0M59.9 296.9h0M85.2 282.3h0M85.2 271h0M85.2 271.4h0M85.2 269.1h0M85.2 273.4h0M85.2 297.9h0M85.2 305.6h0M85.2 305.7h0M85.2 303h0M85.2 283.7h0M85.2 314.9h0M85.2 300.9h0M85.2 272.7h0M85.2 298.3h0M85.2 276.3h0M85.2 282.4h0M85.2 279.4h0M85.2 298.3h0M85.2 268.9h0M85.2 256.1h0M85.2 256.1h0M85.2 291.6h0M85.2 293.9h0M85.2 297.2h0M85.2 263.5h0M85.2 261.6h0M85.2 314.9h0M85.2 298.2h0M85.2 290.3h0M85.2 311h0M85.2 302.1h0M85.2 300h0M85.2 258.3h0M85.2 294.6h0M85.2 268.1h0M85.2 314.6h0M85.2 299.3h0M85.2 256.1h0M85.2 309.3h0M85.2 296.9h0M85.2 303.3h0M85.2 283.4h0M85.2 286h0M85.2 289.7h0M85.2 286.4h0M85.2 308.9h0M85.2 292.5h0M85.2 271.8h0M85.2 273.7h0M85.2 273.4h0M85.2 300.4h0M85.2 288.6h0M85.2 286h0M85.2 265h0M85.2 285.7h0M85.2 309.6h0M85.2 256.1h0M85.2 299.9h0M85.2 295.2h0M85.2 256.1h0M85.2 287.7h0M85.2 300.9h0M85.2 279.1h0M85.2 299.9h0M85.2 302.1h0M85.2 297.1h0M85.2 285h0M85.2 305.9h0M85.2 285.5h0M85.2 256.1h0M85.2 293.6h0M85.2 293.5h0M85.2 278.9h0M85.2 292.2h0M85.2 278.5h0M85.2 304.5h0M85.2 269.5h0M85.2 305.6h0M85.2 267.6h0M85.2 283.7h0M85.2 298.1h0M85.2 285.2h0M85.2 283.6h0M85.2 277.3h0M85.2 302.4h0M85.2 268h0M85.2 282.3h0M85.2 296.8h0M85.2 271.5h0M85.2 278.3h0M85.2 279.1h0M85.2 300.6h0M85.2 297.8h0M85.2 288.8h0M85.2 269.1h0M85.2 256.1h0M85.2 287.7h0M85.2 271.8h0M85.2 298.9h0M85.2 267.7h0M85.2 314.9h0M85.2 310.3h0M85.2 267.2h0M85.2 300.3h0M85.2 282.3h0M85.2 299.1h0M85.2 314.9h0M85.2 314.9h0M85.2 273.2h0M85.2 262.1h0M85.2 284.4h0M85.2 279.9h0M85.2 314.9h0M85.2 256.1h0M85.2 285.5h0M110.5 305.5h0M110.5 287.2h0M110.5 287.9h0M135.9 329h0M135.9 317.7h0M135.9 315.4h0M135.9 319.3h0M135.9 317.5h0M135.9 316.9h0M135.9 329h0M135.9 314.9h0M135.9 321.9h0M161.2 292.2h0M161.2 289.5h0M161.2 285h0M161.2 289.4h0M161.2 276h0M161.2 289.8h0M161.2 283.1h0M161.2 288.1h0M161.2 300.8h0M161.2 291.6h0M161.2 285.8h0M161.2 286.8h0M161.2 295.9h0M161.2 278.9h0M161.2 287h0M161.2 300.8h0M161.2 294.4h0M161.2 286.7h0M161.2 286.5h0M161.2 283.1h0M161.2 286.5h0M161.2 278.4h0M161.2 289.6h0M161.2 286.1h0M161.2 288.9h0M161.2 292.7h0M161.2 294.8h0M161.2 277.9h0M161.2 299.2h0M161.2 296.5h0M161.2 279.6h0M161.2 280.4h0M161.2 284.4h0M161.2 295.7h0M161.2 289.3h0M161.2 294.3h0M161.2 286.6h0M161.2 274.2h0M161.2 288.5h0M161.2 294.8h0M161.2 279.2h0M161.2 300.8h0M161.2 274.2h0M161.2 287.5h0M186.5 306.5h0M186.5 292.1h0M186.5 314.9h0M186.5 282.1h0M186.5 307.1h0M186.5 287.1h0M186.5 302.9h0M186.5 292.5h0M186.5 307.8h0M186.5 280.7h0M186.5 271.4h0M186.5 314.9h0M186.5 271.4h0M186.5 293.2h0M211.8 309.2h0M211.8 312.3h0M211.8 311.3h0M211.8 309.1h0M211.8 313.6h0M211.8 309.9h0M211.8 313.3h0M211.8 307.8h0M211.8 306.4h0M211.8 288.4h0M211.8 314.2h0M211.8 321.3h0M211.8 293h0M211.8 282h0M211.8 335.1h0M211.8 301.1h0M211.8 296.1h0M211.8 290.9h0M211.8 288.6h0M211.8 291.3h0M211.8 314.8h0M211.8 290.6h0M211.8 296.9h0M211.8 291.2h0M211.8 307.8h0M211.8 300.7h0M211.8 335.1h0M211.8 335.1h0M211.8 300.9h0M211.8 311.4h0M211.8 312.6h0M211.8 304h0M211.8 335.1h0M211.8 315.9h0M211.8 301.7h0M211.8 282h0M211.8 323.3h0M211.8 312.3h0M211.8 297.2h0M211.8 324.8h0M211.8 312.6h0M211.8 292.9h0M211.8 306.2h0M211.8 335.1h0M211.8 282h0M211.8 308.6h0M237.1 281.4h0M237.1 292.6h0M237.1 292h0M237.1 276.5h0M237.1 269.3h0M237.1 286.7h0M237.1 276.8h0M237.1 276.5h0M237.1 284.6h0M237.1 288.4h0M237.1 276.4h0M237.1 297.3h0M237.1 279.2h0M237.1 289.2h0M237.1 280.1h0M237.1 288.5h0M237.1 293.8h0M237.1 286.3h0M237.1 285.4h0M237.1 280.1h0M237.1 278.5h0M237.1 281.7h0M237.1 278.5h0M237.1 264.1h0M237.1 286.9h0M237.1 300.1h0M237.1 264.1h0M237.1 282.1h0M262.5 243h0M262.5 314h0M262.5 282h0M262.5 284.1h0M262.5 292.5h0M262.5 271h0M262.5 287.9h0M262.5 270.3h0M262.5 264.1h0M262.5 265.9h0M262.5 273.8h0M262.5 274.4h0M262.5 276.3h0M262.5 271.2h0M262.5 300.8h0M262.5 285.5h0M262.5 285.8h0M262.5 283.7h0M262.5 285.8h0M262.5 277.9h0M262.5 293.1h0M262.5 282.8h0M262.5 268.8h0M262.5 289.6h0M262.5 281.2h0M262.5 282.3h0M262.5 288.5h0M262.5 274.6h0M262.5 285.9h0M262.5 286.9h0M262.5 300.8h0M262.5 291.5h0M262.5 275.2h0M262.5 278.4h0M262.5 267.5h0M262.5 278.9h0M262.5 264.1h0M262.5 271.9h0M262.5 278h0M262.5 280.7h0M262.5 285.4h0M262.5 283.4h0M262.5 271.9h0M262.5 282h0M262.5 291.4h0M262.5 276.1h0M262.5 264.1h0M262.5 264.1h0M262.5 288.6h0M262.5 284.1h0M262.5 284.4h0M262.5 270.8h0M262.5 291.3h0M262.5 288.4h0M262.5 287.6h0M262.5 265.6h0M262.5 283h0M262.5 279.2h0M262.5 295.9h0M262.5 264.1h0M262.5 278.6h0M262.5 275.3h0M262.5 267h0M262.5 279.2h0M262.5 273.7h0M262.5 296.9h0M262.5 279.5h0M262.5 292.8h0M262.5 283.3h0M262.5 264.1h0M262.5 279.7h0M262.5 293.5h0M262.5 283.4h0M262.5 285.4h0M262.5 281.3h0M262.5 300.8h0M262.5 264.1h0M262.5 282.5h0M287.8 279.2h0M287.8 294.2h0M287.8 300.8h0M287.8 287.6h0M287.8 296.6h0M287.8 294.7h0M287.8 287.6h0M287.8 283.5h0M287.8 288.5h0M287.8 300.5h0M287.8 289.7h0M287.8 302.4h0M287.8 292.6h0M287.8 279.4h0M287.8 297.5h0M287.8 283.2h0M287.8 278.4h0M287.8 272.6h0M287.8 301.3h0M287.8 278.8h0M287.8 281.7h0M287.8 277.8h0M287.8 275.6h0M287.8 302.4h0M287.8 294.2h0M287.8 280.9h0M287.8 293.3h0M287.8 292.3h0M287.8 298.2h0M287.8 296.1h0M287.8 285.9h0M287.8 299.9h0M287.8 302.4h0M287.8 272.6h0M287.8 287.5h0M313.1 362.6h0M313.1 317.2h0M313.1 314.1h0M313.1 311.3h0M313.1 305.6h0M313.1 321.9h0M313.1 334.5h0M313.1 303.6h0M313.1 325h0M313.1 328.6h0M313.1 315.1h0M313.1 314.4h0M313.1 320.9h0M313.1 315.3h0M313.1 315.4h0M313.1 308.8h0M313.1 330.4h0M313.1 323h0M313.1 327.4h0M313.1 309.5h0M313.1 333.2h0M313.1 326.4h0M313.1 324.7h0M313.1 320.2h0M313.1 305.4h0M313.1 311.8h0M313.1 316.5h0M313.1 318.7h0M313.1 315.6h0M313.1 306h0M313.1 329.6h0M313.1 316.9h0M313.1 318.1h0M313.1 303.6h0M313.1 312.2h0M313.1 325.2h0M313.1 320.8h0M313.1 324.2h0M313.1 326.6h0M313.1 312.2h0M313.1 318.2h0M313.1 315.9h0M313.1 328.4h0M313.1 319.2h0M313.1 324h0M313.1 306.7h0M313.1 307.7h0M313.1 313.5h0M313.1 320.6h0M313.1 305.8h0M313.1 321.1h0M313.1 324.5h0M313.1 335.1h0M313.1 303.6h0M313.1 319.4h0M338.4 286.3h0M338.4 273.6h0M338.4 299.5h0M338.4 282.5h0M338.4 300.1h0M338.4 298.2h0M338.4 296.9h0M338.4 287.9h0M338.4 277.5h0M338.4 287.4h0M338.4 280.4h0M338.4 280.5h0M338.4 293.1h0M338.4 288.8h0M338.4 289.2h0M338.4 278.8h0M338.4 282h0M338.4 274.7h0M338.4 280.8h0M338.4 281.3h0M338.4 288.8h0M338.4 293.9h0M338.4 279.6h0M338.4 271h0M338.4 292.5h0M338.4 294.9h0M338.4 273.1h0M338.4 288.1h0M338.4 289.4h0M338.4 295.4h0M338.4 276.3h0M338.4 286h0M338.4 292.3h0M338.4 287.8h0M338.4 285.4h0M338.4 292.1h0M338.4 275.6h0M338.4 289.8h0M338.4 285.7h0M338.4 271h0M338.4 272.4h0M338.4 284.7h0M338.4 280.1h0M338.4 288.1h0M338.4 297.9h0M338.4 273.6h0M338.4 285.7h0M338.4 290h0M338.4 295.5h0M338.4 280.4h0M338.4 277.5h0M338.4 277.1h0M338.4 289.6h0M338.4 275.9h0M338.4 296.3h0M338.4 291.1h0M338.4 288.1h0M338.4 300.8h0M338.4 271h0M338.4 285.9h0M363.7 268.4h0M363.7 279.6h0M363.7 283.8h0M363.7 303.6h0M363.7 285.8h0M363.7 291.6h0M363.7 291h0M363.7 295.6h0M363.7 290.5h0M363.7 282.7h0M363.7 282.4h0M363.7 294h0M363.7 288.7h0M363.7 292.2h0M363.7 289.9h0M363.7 279.7h0M363.7 304.3h0M363.7 288.4h0M363.7 293.9h0M363.7 295.2h0M363.7 304h0M363.7 299.9h0M363.7 291.6h0M363.7 276.3h0M363.7 288.8h0M363.7 296.9h0M363.7 293.4h0M363.7 282.2h0M363.7 299.9h0M363.7 298.9h0M363.7 287h0M363.7 294.2h0M363.7 288.1h0M363.7 296.6h0M363.7 299.4h0M363.7 296.5h0M363.7 287h0M363.7 296.4h0M363.7 293.3h0M363.7 286.6h0M363.7 286.8h0M363.7 297.1h0M363.7 286.8h0M363.7 277.8h0M363.7 283.9h0M363.7 292.3h0M363.7 275.7h0M363.7 304.8h0M363.7 275.7h0M363.7 282.5h0M363.7 300.2h0M363.7 304.8h0M363.7 275.7h0M363.7 290.2h0M389.1 285h0M389.1 292.6h0M389.1 298.2h0M389.1 292.6h0M414.4 288h0M414.4 307h0M414.4 288h0M439.7 298.4h0M439.7 289.5h0M439.7 287.4h0M439.7 292.1h0M439.7 267.2h0M439.7 293.3h0M439.7 284.3h0M439.7 290.8h0M439.7 293.1h0M439.7 268.1h0M439.7 284.8h0M439.7 286.1h0M439.7 283.4h0M439.7 291h0M439.7 269.8h0M439.7 280.9h0M439.7 301.3h0M439.7 286.5h0M439.7 273.3h0M439.7 279.3h0M439.7 263.3h0M439.7 287.8h0M439.7 274.9h0M439.7 283h0M439.7 271.9h0M439.7 275h0M439.7 288.3h0M439.7 276.7h0M439.7 286.5h0M439.7 275.4h0M439.7 297.5h0M439.7 292.9h0M439.7 278h0M439.7 289h0M439.7 298.4h0M439.7 275.5h0M439.7 270.1h0M439.7 294.8h0M439.7 275.3h0M439.7 275.7h0M439.7 299.3h0M439.7 293.7h0M439.7 287h0M439.7 289.8h0M439.7 272.2h0M439.7 288.2h0M439.7 275.8h0M439.7 275.1h0M439.7 287.2h0M439.7 291.2h0M439.7 285.1h0M439.7 267.3h0M439.7 275.5h0M439.7 301.3h0M439.7 261.6h0M439.7 281.4h0M465 270.9h0M465 276.8h0M465 278.6h0M465 280.3h0M465 282.6h0M465 289.6h0M465 297.8h0M465 283h0M490.3 297.8h0M490.3 319.3h0M515.7 308.3h0M541 291.4h0M541 304.2h0M541 298.9h0M541 324.5h0M541 316.9h0M541 300.7h0M541 319.7h0M541 333.7h0M541 299.4h0M541 298.7h0M541 332.3h0M541 304.1h0M541 296.4h0M541 302.5h0M541 311.5h0M541 301.4h0M541 308.2h0M541 319.8h0M541 284.4h0M541 309h0M541 293.9h0M541 284.4h0M541 303.1h0M541 290.3h0M541 286.9h0M541 293.6h0M541 316.8h0M541 326.3h0M541 285.3h0M541 309.6h0M541 310.9h0M541 315.9h0M541 292.4h0M541 333.7h0M541 284.4h0M541 309h0M566.3 314.9h0M566.3 319.6h0M566.3 282h0M566.3 262.6h0M566.3 294.4h0M566.3 276.4h0M566.3 259h0M566.3 272.9h0M566.3 272.5h0M566.3 278.9h0M566.3 281h0M566.3 277.9h0M566.3 281.2h0M566.3 258.7h0M566.3 292.7h0M566.3 264.2h0M566.3 271.5h0M566.3 285.3h0M566.3 293h0M566.3 277.9h0M566.3 276.2h0M566.3 284.2h0M566.3 277.7h0M566.3 270.6h0M566.3 282.7h0M566.3 298.7h0M566.3 286h0M566.3 261.8h0M566.3 291.8h0M566.3 278.8h0M566.3 298.7h0M566.3 260.4h0M566.3 298.7h0M566.3 287.1h0M566.3 279h0M566.3 262.5h0M566.3 268.4h0M566.3 273.6h0M566.3 279.3h0M566.3 285.9h0M566.3 286.8h0M566.3 284.2h0M566.3 267.6h0M566.3 295.9h0M566.3 292h0M566.3 258.7h0M566.3 287.7h0M566.3 284h0M566.3 289.2h0M566.3 288.5h0M566.3 270.6h0M566.3 297.4h0M566.3 298.7h0M566.3 289.4h0M566.3 285.7h0M566.3 269.9h0M566.3 278.8h0M566.3 284.1h0M566.3 289h0M566.3 271.7h0M566.3 284.8h0M566.3 285.1h0M566.3 298.7h0M566.3 258.7h0M566.3 278.7h0M591.6 284h0M591.6 286h0M591.6 287h0M616.9 282.5h0M616.9 297.6h0M616.9 295.2h0M616.9 291.7h0M616.9 285.1h0M616.9 282.7h0M616.9 285.4h0M616.9 292.9h0M616.9 282.2h0M616.9 301h0M616.9 271.5h0M616.9 293.3h0M616.9 289.5h0M616.9 291.9h0M616.9 282h0M616.9 290h0M616.9 276.2h0M616.9 282.5h0M616.9 280.8h0M616.9 295.4h0M616.9 289.4h0M616.9 282.9h0M616.9 301h0M616.9 301h0M616.9 271h0M616.9 286h0" stroke="#80c4c2" stroke-width="2.5" stroke-linecap="round" fill="none"/>
<path d="M70.1 281.1h0M70.1 276h0M70.1 289h0M70.1 278.7h0M70.1 284.7h0M70.1 284.3h0M70.1 297.2h0M70.1 291.9h0M70.1 283.5h0M70.1 285.9h0M70.1 280.2h0M70.1 296.5h0M70.1 288.9h0M70.1 279.9h0M70.1 294.9h0M70.1 283.3h0M70.1 293.9h0M70.1 295.5h0M70.1 286.6h0M70.1 300.7h0M70.1 269.8h0M70.1 314h0M95.4 297.1h0M95.4 275.2h0M95.4 281.6h0M95.4 280.3h0M95.4 278.9h0M95.4 301.2h0M95.4 306.9h0M95.4 289.7h0M95.4 294.4h0M95.4 304.4h0M95.4 305.8h0M95.4 271.4h0M95.4 303.1h0M95.4 306.9h0M95.4 285.4h0M95.4 285.8h0M95.4 274.2h0M95.4 297.7h0M95.4 292.8h0M95.4 281.6h0M95.4 261h0M95.4 297.2h0M95.4 305.3h0M95.4 284.7h0M95.4 292.9h0M95.4 280.8h0M95.4 302.4h0M95.4 299.5h0M95.4 283.9h0M95.4 316.7h0M95.4 278.1h0M95.4 298.5h0M95.4 271.4h0M95.4 287.8h0M95.4 267.5h0M95.4 308.9h0M95.4 295.2h0M95.4 267.6h0M95.4 310.2h0M95.4 266.1h0M95.4 310.5h0M95.4 292.8h0M95.4 269.7h0M95.4 293.4h0M95.4 292.8h0M95.4 299.8h0M95.4 296h0M95.4 272.7h0M95.4 281.9h0M95.4 314.3h0M95.4 295.8h0M95.4 280.6h0M95.4 284.4h0M95.4 276.2h0M95.4 297.5h0M95.4 328.5h0M95.4 265.4h0M95.4 293.5h0M95.4 294.3h0M95.4 252.7h0M95.4 304.8h0M95.4 295.9h0M95.4 286.6h0M95.4 313.2h0M95.4 313h0M95.4 275.6h0M95.4 271.3h0M95.4 284.7h0M95.4 272.4h0M95.4 271.6h0M95.4 303.9h0M95.4 301.1h0M95.4 292.5h0M95.4 297.4h0M95.4 293h0M95.4 300.5h0M95.4 269.6h0M95.4 301.7h0M95.4 291.8h0M95.4 282.6h0M95.4 306.8h0M95.4 295.7h0M95.4 313h0M95.4 299.3h0M95.4 328.5h0M95.4 283.4h0M95.4 300.1h0M95.4 288.1h0M95.4 267h0M95.4 267.7h0M95.4 279h0M95.4 312.3h0M95.4 301.4h0M95.4 282.9h0M95.4 270.8h0M95.4 283.6h0M95.4 274.1h0M95.4 295.9h0M95.4 303.2h0M95.4 286.4h0M95.4 301.9h0M95.4 301.7h0M95.4 303.9h0M95.4 288h0M95.4 289.9h0M95.4 297.2h0M95.4 298.2h0M95.4 296.3h0M95.4 300.2h0M95.4 251.7h0M95.4 294.4h0M95.4 292.1h0M95.4 305.5h0M95.4 251.7h0M95.4 328.5h0M120.7 245.3h0M120.7 277.3h0M120.7 274.9h0M146.1 331.4h0M146.1 276.3h0M146.1 276.8h0M146.1 281.7h0M146.1 281h0M146.1 276.6h0M146.1 285.8h0M146.1 272.6h0M146.1 291.4h0M171.4 281.5h0M171.4 314.2h0M171.4 273.5h0M171.4 298.3h0M171.4 264.2h0M171.4 295.5h0M171.4 290.8h0M171.4 306.9h0M171.4 319.3h0M171.4 284.3h0M171.4 275.2h0M171.4 288.9h0M171.4 305.9h0M171.4 276.4h0M171.4 282.4h0M171.4 318.1h0M171.4 322.4h0M171.4 304h0M171.4 289.8h0M171.4 272.3h0M171.4 261.7h0M171.4 295.4h0M171.4 300.5h0M171.4 290.4h0M171.4 296h0M171.4 296.9h0M171.4 301.1h0M171.4 276.2h0M171.4 304.9h0M171.4 311.6h0M171.4 305.1h0M171.4 276.7h0M171.4 283.6h0M171.4 317.3h0M171.4 294.9h0M171.4 301.4h0M171.4 287h0M171.4 281.5h0M171.4 275h0M171.4 319.7h0M171.4 289.8h0M171.4 314h0M171.4 251.5h0M171.4 340.8h0M196.7 284h0M196.7 277.7h0M196.7 286.8h0M196.7 265.4h0M196.7 283.6h0M196.7 280.1h0M196.7 281.6h0M196.7 288.5h0M196.7 284.2h0M196.7 263.3h0M196.7 263.2h0M196.7 287.1h0M196.7 263.2h0M196.7 297.3h0M222 319h0M222 299.9h0M222 304.4h0M222 306.9h0M222 312.4h0M222 324.4h0M222 284.9h0M222 305.7h0M222 297.2h0M222 280.1h0M222 271.5h0M222 302.4h0M222 285h0M222 286.6h0M222 306.1h0M222 280.4h0M222 274.5h0M222 277.3h0M222 301.2h0M222 273.6h0M222 295.7h0M222 274.6h0M222 291.2h0M222 260.3h0M222 300.2h0M222 306.9h0M222 336h0M222 317.6h0M222 291.8h0M222 289.7h0M222 319.1h0M222 286.5h0M222 338.2h0M222 288.3h0M222 300.8h0M222 259.4h0M222 304.9h0M222 284.4h0M222 280.8h0M222 298.4h0M222 304.4h0M222 292.5h0M222 310.6h0M222 316.4h0M222 259.4h0M222 340.8h0M247.3 282.8h0M247.3 299.4h0M247.3 289.2h0M247.3 276.3h0M247.3 278.9h0M247.3 290.5h0M247.3 288.6h0M247.3 289.9h0M247.3 303.6h0M247.3 288.6h0M247.3 292.8h0M247.3 301.3h0M247.3 287.2h0M247.3 308.6h0M247.3 284.4h0M247.3 300.9h0M247.3 303.2h0M247.3 282.4h0M247.3 297.4h0M247.3 294.2h0M247.3 288.9h0M247.3 302.7h0M247.3 295.9h0M247.3 290.6h0M247.3 293.7h0M247.3 304.3h0M247.3 263.2h0M247.3 321.9h0M272.7 286.7h0M272.7 298.4h0M272.7 252.2h0M272.7 289.2h0M272.7 297.5h0M272.7 268.6h0M272.7 298.1h0M272.7 285.2h0M272.7 268.1h0M272.7 273.5h0M272.7 278.6h0M272.7 282.1h0M272.7 282h0M272.7 275.5h0M272.7 305.1h0M272.7 277.5h0M272.7 297.5h0M272.7 279.2h0M272.7 285.7h0M272.7 299.7h0M272.7 288h0M272.7 285.1h0M272.7 277.7h0M272.7 288.2h0M272.7 282.5h0M272.7 287.2h0M272.7 277.9h0M272.7 286h0M272.7 287.1h0M272.7 287.9h0M272.7 292.8h0M272.7 292.1h0M272.7 275.1h0M272.7 270.3h0M272.7 284h0M272.7 281.8h0M272.7 278.4h0M272.7 289.1h0M272.7 286.5h0M272.7 292.4h0M272.7 291.4h0M272.7 295.6h0M272.7 276.3h0M272.7 300.8h0M272.7 289.1h0M272.7 285.4h0M272.7 286.1h0M272.7 276.9h0M272.7 296.1h0M272.7 273.1h0M272.7 285h0M272.7 286.3h0M272.7 291.3h0M272.7 284.6h0M272.7 285.4h0M272.7 284.1h0M272.7 276.5h0M272.7 291.2h0M272.7 298.3h0M272.7 264.1h0M272.7 276.5h0M272.7 265.3h0M272.7 283.4h0M272.7 284.6h0M272.7 280.6h0M272.7 295.6h0M272.7 288.1h0M272.7 283.5h0M272.7 279.9h0M272.7 264.1h0M272.7 280.5h0M272.7 300.2h0M272.7 279.6h0M272.7 286.9h0M272.7 291.3h0M272.7 294.7h0M272.7 264.1h0M272.7 307.9h0M298 287h0M298 295.9h0M298 306h0M298 279.5h0M298 297.1h0M298 303.9h0M298 289h0M298 283.4h0M298 278.6h0M298 281.4h0M298 285.6h0M298 301.7h0M298 280.2h0M298 295.2h0M298 294.5h0M298 273.9h0M298 277.8h0M298 289.6h0M298 311h0M298 272.9h0M298 266.3h0M298 267.9h0M298 279.3h0M298 316.5h0M298 288.1h0M298 283.9h0M298 294.8h0M298 307h0M298 299.1h0M298 294.9h0M298 268.8h0M298 311.9h0M298 300.1h0M298 258.5h0M298 318h0M323.3 252.2h0M323.3 341.7h0M323.3 300.5h0M323.3 294.4h0M323.3 292.5h0M323.3 303h0M323.3 311h0M323.3 291.7h0M323.3 312h0M323.3 317.4h0M323.3 291.7h0M323.3 299.7h0M323.3 307.3h0M323.3 298.1h0M323.3 296.4h0M323.3 285.6h0M323.3 309.3h0M323.3 298.2h0M323.3 313h0M323.3 295.9h0M323.3 305.7h0M323.3 300.3h0M323.3 296.5h0M323.3 299.4h0M323.3 288.7h0M323.3 302.4h0M323.3 306.6h0M323.3 300.8h0M323.3 300.8h0M323.3 302.9h0M323.3 305.2h0M323.3 289.2h0M323.3 281.8h0M323.3 279.3h0M323.3 287.2h0M323.3 305.8h0M323.3 303.9h0M323.3 300.6h0M323.3 303.5h0M323.3 292.7h0M323.3 296.1h0M323.3 291.8h0M323.3 300.6h0M323.3 299.5h0M323.3 305.4h0M323.3 295.5h0M323.3 281.8h0M323.3 283.3h0M323.3 302.5h0M323.3 290.2h0M323.3 296.3h0M323.3 306h0M323.3 309.2h0M323.3 275.7h0M323.3 323.6h0M348.6 275.1h0M348.6 265.2h0M348.6 288.8h0M348.6 268.8h0M348.6 290.4h0M348.6 275.4h0M348.6 288.4h0M348.6 288.1h0M348.6 279.4h0M348.6 269.3h0M348.6 279.3h0M348.6 277.1h0M348.6 279.9h0M348.6 279.1h0M348.6 273.8h0M348.6 280h0M348.6 266.2h0M348.6 263.4h0M348.6 279.6h0M348.6 277.4h0M348.6 288h0M348.6 281.2h0M348.6 260.8h0M348.6 273.7h0M348.6 270.4h0M348.6 280.8h0M348.6 257.9h0M348.6 290.7h0M348.6 267h0M348.6 284.7h0M348.6 264.5h0M348.6 290.3h0M348.6 287.8h0M348.6 271.5h0M348.6 278.6h0M348.6 274h0M348.6 275.6h0M348.6 275.3h0M348.6 260.1h0M348.6 258.6h0M348.6 263.7h0M348.6 278.2h0M348.6 262.6h0M348.6 284h0M348.6 284.9h0M348.6 273.2h0M348.6 286.4h0M348.6 287.1h0M348.6 285.5h0M348.6 282.1h0M348.6 257.2h0M348.6 269.2h0M348.6 261.2h0M348.6 287.8h0M348.6 282.8h0M348.6 268.1h0M348.6 278.4h0M348.6 285.6h0M348.6 254.5h0M348.6 298.9h0M373.9 282h0M373.9 357.9h0M373.9 287h0M373.9 308h0M373.9 297h0M373.9 294.8h0M373.9 297.6h0M373.9 297.5h0M373.9 281h0M373.9 270.1h0M373.9 270.8h0M373.9 314.3h0M373.9 296.3h0M373.9 302.2h0M373.9 273.6h0M373.9 266.9h0M373.9 299.5h0M373.9 291.4h0M373.9 305.1h0M373.9 282.9h0M373.9 300h0M373.9 297.7h0M373.9 290.2h0M373.9 294.4h0M373.9 286.8h0M373.9 300.2h0M373.9 304.3h0M373.9 268.6h0M373.9 301.5h0M373.9 289.6h0M373.9 299.6h0M373.9 296.6h0M373.9 287.9h0M373.9 308.2h0M373.9 309.9h0M373.9 301.7h0M373.9 285.1h0M373.9 306.4h0M373.9 289.3h0M373.9 296.4h0M373.9 290.8h0M373.9 291.4h0M373.9 271.3h0M373.9 304.5h0M373.9 281.8h0M373.9 282.9h0M373.9 292.2h0M373.9 307h0M373.9 273.2h0M373.9 295.7h0M373.9 289.7h0M373.9 304.6h0M373.9 264.1h0M373.9 321.9h0M399.3 274.4h0M399.3 279.6h0M399.3 288h0M399.3 278h0M424.6 290.3h0M424.6 275.6h0M424.6 277.2h0M449.9 319.6h0M449.9 278.4h0M449.9 266.9h0M449.9 280.3h0M449.9 273.3h0M449.9 266.9h0M449.9 274.6h0M449.9 284.5h0M449.9 277.1h0M449.9 268.4h0M449.9 279.4h0M449.9 271.7h0M449.9 282.7h0M449.9 267.3h0M449.9 278.8h0M449.9 272.2h0M449.9 277.8h0M449.9 281.8h0M449.9 271.9h0M449.9 272.6h0M449.9 267.1h0M449.9 267h0M449.9 287.1h0M449.9 272h0M449.9 268.7h0M449.9 278.8h0M449.9 269.4h0M449.9 278.3h0M449.9 274.6h0M449.9 271.4h0M449.9 270.1h0M449.9 269.1h0M449.9 277.6h0M449.9 285.2h0M449.9 278.4h0M449.9 276.1h0M449.9 269.9h0M449.9 279.1h0M449.9 276.7h0M449.9 262.8h0M449.9 283h0M449.9 278.4h0M449.9 276.3h0M449.9 283.2h0M449.9 277.5h0M449.9 273.5h0M449.9 271.3h0M449.9 264.9h0M449.9 283.1h0M449.9 274h0M449.9 272.7h0M449.9 268.1h0M449.9 265.9h0M449.9 282.2h0M449.9 259h0M449.9 292.1h0M475.2 282.6h0M475.2 268.6h0M475.2 288h0M475.2 258h0M475.2 272.1h0M475.2 275.6h0M475.2 277.2h0M475.2 295.9h0M500.5 258h0M500.5 292.4h0M525.9 304.8h0M551.2 217.8h0M551.2 287.2h0M551.2 291.6h0M551.2 295.9h0M551.2 297.4h0M551.2 280.1h0M551.2 301.2h0M551.2 296.3h0M551.2 281.6h0M551.2 300.4h0M551.2 302h0M551.2 288.7h0M551.2 289.9h0M551.2 274.5h0M551.2 307.2h0M551.2 286.6h0M551.2 282.7h0M551.2 298.6h0M551.2 279.2h0M551.2 293.6h0M551.2 288.6h0M551.2 276.2h0M551.2 291.7h0M551.2 298.8h0M551.2 277h0M551.2 295.4h0M551.2 296.6h0M551.2 306.6h0M551.2 274.5h0M551.2 300.1h0M551.2 301.4h0M551.2 284h0M551.2 285.5h0M551.2 304.6h0M551.2 268.6h0M551.2 320.1h0M576.5 277.3h0M576.5 282h0M576.5 329.5h0M576.5 263h0M576.5 283.2h0M576.5 261.1h0M576.5 275h0M576.5 290.7h0M576.5 294.1h0M576.5 285.8h0M576.5 296h0M576.5 278.3h0M576.5 283.2h0M576.5 260.7h0M576.5 284.6h0M576.5 275.5h0M576.5 273.3h0M576.5 293.6h0M576.5 284.1h0M576.5 286.9h0M576.5 279.3h0M576.5 288.3h0M576.5 288.3h0M576.5 267.6h0M576.5 283.4h0M576.5 283.8h0M576.5 269.3h0M576.5 258h0M576.5 293.9h0M576.5 275.3h0M576.5 302.7h0M576.5 264.9h0M576.5 281h0M576.5 288.7h0M576.5 297.9h0M576.5 270.7h0M576.5 272.5h0M576.5 258.9h0M576.5 292.2h0M576.5 285.1h0M576.5 295.2h0M576.5 290.1h0M576.5 262.4h0M576.5 306.2h0M576.5 297.6h0M576.5 273.3h0M576.5 298.4h0M576.5 281.1h0M576.5 286.9h0M576.5 277.7h0M576.5 288.3h0M576.5 311.5h0M576.5 283.5h0M576.5 288.5h0M576.5 305.7h0M576.5 298.2h0M576.5 288.6h0M576.5 284.6h0M576.5 259.9h0M576.5 273.9h0M576.5 290.4h0M576.5 301.8h0M576.5 295.5h0M576.5 254.7h0M576.5 313h0M601.8 276.9h0M601.8 287.7h0M601.8 287.7h0M627.1 302.1h0M627.1 296.6h0M627.1 307.6h0M627.1 320h0M627.1 306.2h0M627.1 289h0M627.1 290h0M627.1 299.4h0M627.1 295.5h0M627.1 320.9h0M627.1 289.9h0M627.1 301.8h0M627.1 303.6h0M627.1 295.1h0M627.1 301.7h0M627.1 313.3h0M627.1 302.8h0M627.1 294.2h0M627.1 293.3h0M627.1 301.7h0M627.1 309.1h0M627.1 300.1h0M627.1 304.3h0M627.1 310.9h0M627.1 273.1h0M627.1 327.1h0" stroke="#ec978b" stroke-width="2.5" stroke-linecap="round" fill="none"/>
<path d="M59.9 268.7V265.6H70.1V268.7" stroke="#111" stroke-width="1.15" fill="none"/><text x="65" y="265.4" font-size="8" text-anchor="middle" fill="#111">**</text><path d="M85.2 252V248.9H95.4V252" stroke="#111" stroke-width="1.15" fill="none"/><text x="90.3" y="248.7" font-size="8" text-anchor="middle" fill="#111">***</text><path d="M110.5 244.8V241.7H120.7V244.8" stroke="#111" stroke-width="1.15" fill="none"/><text x="115.6" y="240.2" font-size="7.9" text-anchor="middle" fill="#111">ns</text><path d="M135.9 272.1V269H146.1V272.1" stroke="#111" stroke-width="1.15" fill="none"/><text x="141" y="268.6" font-size="8" text-anchor="middle" fill="#111">*</text><path d="M161.2 250.1V247H171.4V250.1" stroke="#111" stroke-width="1.15" fill="none"/><text x="166.3" y="245.5" font-size="7.9" text-anchor="middle" fill="#111">ns</text><path d="M186.5 261.1V258H196.7V261.1" stroke="#111" stroke-width="1.15" fill="none"/><text x="191.6" y="256.5" font-size="7.9" text-anchor="middle" fill="#111">ns</text><path d="M211.8 259.1V256H222V259.1" stroke="#111" stroke-width="1.15" fill="none"/><text x="216.9" y="255.8" font-size="8" text-anchor="middle" fill="#111">***</text><path d="M237.1 261.6V258.5H247.3V261.6" stroke="#111" stroke-width="1.15" fill="none"/><text x="242.2" y="258.1" font-size="8" text-anchor="middle" fill="#111">*</text><path d="M262.5 242.5V239.4H272.7V242.5" stroke="#111" stroke-width="1.15" fill="none"/><text x="267.6" y="237.9" font-size="7.9" text-anchor="middle" fill="#111">ns</text><path d="M287.8 258.1V255H298V258.1" stroke="#111" stroke-width="1.15" fill="none"/><text x="292.9" y="253.5" font-size="7.9" text-anchor="middle" fill="#111">ns</text><path d="M313.1 252.1V249H323.3V252.1" stroke="#111" stroke-width="1.15" fill="none"/><text x="318.2" y="248.8" font-size="8" text-anchor="middle" fill="#111">***</text><path d="M338.4 254.9V251.8H348.6V254.9" stroke="#111" stroke-width="1.15" fill="none"/><text x="343.5" y="251.6" font-size="8" text-anchor="middle" fill="#111">***</text><path d="M363.7 263.5V260.4H373.9V263.5" stroke="#111" stroke-width="1.15" fill="none"/><text x="368.8" y="258.9" font-size="7.9" text-anchor="middle" fill="#111">ns</text><path d="M389.1 274.1V271H399.3V274.1" stroke="#111" stroke-width="1.15" fill="none"/><text x="394.2" y="269.5" font-size="7.9" text-anchor="middle" fill="#111">ns</text><path d="M414.4 274.7V271.6H424.6V274.7" stroke="#111" stroke-width="1.15" fill="none"/><text x="419.5" y="270.1" font-size="7.9" text-anchor="middle" fill="#111">ns</text><path d="M439.7 259.3V256.2H449.9V259.3" stroke="#111" stroke-width="1.15" fill="none"/><text x="444.8" y="256" font-size="8" text-anchor="middle" fill="#111">**</text><path d="M465 258.1V255H475.2V258.1" stroke="#111" stroke-width="1.15" fill="none"/><text x="470.1" y="253.5" font-size="7.9" text-anchor="middle" fill="#111">ns</text><path d="M541 216.9V213.8H551.2V216.9" stroke="#111" stroke-width="1.15" fill="none"/><text x="546.1" y="213.6" font-size="8" text-anchor="middle" fill="#111">***</text><path d="M566.3 254.7V251.6H576.5V254.7" stroke="#111" stroke-width="1.15" fill="none"/><text x="571.4" y="251.4" font-size="8" text-anchor="middle" fill="#111">**</text><path d="M616.9 270.8V267.7H627.1V270.8" stroke="#111" stroke-width="1.15" fill="none"/><text x="622" y="266.2" font-size="7.9" text-anchor="middle" fill="#111">ns</text>
<path d="M49.8 203.6V368.1M49.2 367.5H636.8" stroke="#222" stroke-width="1.2" fill="none"/>
<path d="M45.8 352.5H49.4M45.8 305.5H49.4M45.8 258.5H49.4M45.8 211.5H49.4M65 368.1V371.7M90.3 368.1V371.7M115.6 368.1V371.7M141 368.1V371.7M166.3 368.1V371.7M191.6 368.1V371.7M216.9 368.1V371.7M242.2 368.1V371.7M267.6 368.1V371.7M292.9 368.1V371.7M318.2 368.1V371.7M343.5 368.1V371.7M368.8 368.1V371.7M394.2 368.1V371.7M419.5 368.1V371.7M444.8 368.1V371.7M470.1 368.1V371.7M495.4 368.1V371.7M520.8 368.1V371.7M546.1 368.1V371.7M571.4 368.1V371.7M596.7 368.1V371.7M622 368.1V371.7" stroke="#222" stroke-width="1.1" fill="none"/>
<text x="43" y="355.7" font-size="8.8" text-anchor="end" fill="#333">2</text>
<text x="43" y="308.7" font-size="8.8" text-anchor="end" fill="#333">4</text>
<text x="43" y="261.7" font-size="8.8" text-anchor="end" fill="#333">6</text>
<text x="43" y="214.7" font-size="8.8" text-anchor="end" fill="#333">8</text>
<text x="68.6" y="379" font-size="8.4" text-anchor="end" fill="#1a1a1a" stroke="#1a1a1a" stroke-width=".12" transform="rotate(-45 68.6 379)">BLCA</text>
<text x="93.9" y="379" font-size="8.4" text-anchor="end" fill="#1a1a1a" stroke="#1a1a1a" stroke-width=".12" transform="rotate(-45 93.9 379)">BRCA</text>
<text x="119.2" y="379" font-size="8.4" text-anchor="end" fill="#1a1a1a" stroke="#1a1a1a" stroke-width=".12" transform="rotate(-45 119.2 379)">CESC</text>
<text x="144.6" y="379" font-size="8.4" text-anchor="end" fill="#1a1a1a" stroke="#1a1a1a" stroke-width=".12" transform="rotate(-45 144.6 379)">CHOL</text>
<text x="169.9" y="379" font-size="8.4" text-anchor="end" fill="#1a1a1a" stroke="#1a1a1a" stroke-width=".12" transform="rotate(-45 169.9 379)">COAD</text>
<text x="195.2" y="379" font-size="8.4" text-anchor="end" fill="#1a1a1a" stroke="#1a1a1a" stroke-width=".12" transform="rotate(-45 195.2 379)">ESCA</text>
<text x="220.5" y="379" font-size="8.4" text-anchor="end" fill="#1a1a1a" stroke="#1a1a1a" stroke-width=".12" transform="rotate(-45 220.5 379)">HNSC</text>
<text x="245.8" y="379" font-size="8.4" text-anchor="end" fill="#1a1a1a" stroke="#1a1a1a" stroke-width=".12" transform="rotate(-45 245.8 379)">KICH</text>
<text x="271.2" y="379" font-size="8.4" text-anchor="end" fill="#1a1a1a" stroke="#1a1a1a" stroke-width=".12" transform="rotate(-45 271.2 379)">KIRC</text>
<text x="296.5" y="379" font-size="8.4" text-anchor="end" fill="#1a1a1a" stroke="#1a1a1a" stroke-width=".12" transform="rotate(-45 296.5 379)">KIRP</text>
<text x="321.8" y="379" font-size="8.4" text-anchor="end" fill="#1a1a1a" stroke="#1a1a1a" stroke-width=".12" transform="rotate(-45 321.8 379)">LIHC</text>
<text x="347.1" y="379" font-size="8.4" text-anchor="end" fill="#1a1a1a" stroke="#1a1a1a" stroke-width=".12" transform="rotate(-45 347.1 379)">LUAD</text>
<text x="372.4" y="379" font-size="8.4" text-anchor="end" fill="#1a1a1a" stroke="#1a1a1a" stroke-width=".12" transform="rotate(-45 372.4 379)">LUSC</text>
<text x="397.8" y="379" font-size="8.4" text-anchor="end" fill="#1a1a1a" stroke="#1a1a1a" stroke-width=".12" transform="rotate(-45 397.8 379)">PAAD</text>
<text x="423.1" y="379" font-size="8.4" text-anchor="end" fill="#1a1a1a" stroke="#1a1a1a" stroke-width=".12" transform="rotate(-45 423.1 379)">PCPG</text>
<text x="448.4" y="379" font-size="8.4" text-anchor="end" fill="#1a1a1a" stroke="#1a1a1a" stroke-width=".12" transform="rotate(-45 448.4 379)">PRAD</text>
<text x="473.7" y="379" font-size="8.4" text-anchor="end" fill="#1a1a1a" stroke="#1a1a1a" stroke-width=".12" transform="rotate(-45 473.7 379)">READ</text>
<text x="499" y="379" font-size="8.4" text-anchor="end" fill="#1a1a1a" stroke="#1a1a1a" stroke-width=".12" transform="rotate(-45 499 379)">SARC</text>
<text x="524.4" y="379" font-size="8.4" text-anchor="end" fill="#1a1a1a" stroke="#1a1a1a" stroke-width=".12" transform="rotate(-45 524.4 379)">SKCM</text>
<text x="549.7" y="379" font-size="8.4" text-anchor="end" fill="#1a1a1a" stroke="#1a1a1a" stroke-width=".12" transform="rotate(-45 549.7 379)">STAD</text>
<text x="575" y="379" font-size="8.4" text-anchor="end" fill="#1a1a1a" stroke="#1a1a1a" stroke-width=".12" transform="rotate(-45 575 379)">THCA</text>
<text x="600.3" y="379" font-size="8.4" text-anchor="end" fill="#1a1a1a" stroke="#1a1a1a" stroke-width=".12" transform="rotate(-45 600.3 379)">THYM</text>
<text x="625.6" y="379" font-size="8.4" text-anchor="end" fill="#1a1a1a" stroke="#1a1a1a" stroke-width=".12" transform="rotate(-45 625.6 379)">UCEC</text>
<text x="0" y="0" font-size="9.9" text-anchor="middle" fill="#111" transform="translate(18.8 285.6) rotate(-90)">The expression of XIAP</text>
<text x="0" y="0" font-size="9.9" text-anchor="middle" fill="#111" transform="translate(28.7 285.6) rotate(-90)">Log<tspan font-size="7.6" dy="2.2">2</tspan><tspan dy="-2.2"> (TPM+1)</tspan></text>
<circle cx="646.5" cy="281.2" r="1.5" fill="#80c4c2"/><circle cx="646.5" cy="291.8" r="1.5" fill="#ec978b"/>
<text x="655.4" y="284.3" font-size="8.3" fill="#111">Normal</text><text x="655.4" y="294.6" font-size="8.3" fill="#111">Tumor</text>
<text x="0" y="0" font-size="15.7" fill="#111" stroke="#111" stroke-width=".45" transform="translate(9.99 213.38) scale(0.846 1)">B</text>
<text x="0" y="0" font-size="15.7" fill="#111" stroke="#111" stroke-width=".45" transform="translate(9.72 423.92) scale(0.837 1)">C</text>
<text x="111" y="432" font-size="6.2" text-anchor="middle" fill="#111">Volcano plot</text>
<rect x="27.6" y="433.8" width="167.2" height="150.3" fill="#fff" stroke="#bbb" stroke-width=".7"/>
<path d="M123.6 437L137.3 437L137.3 566Q137 578.6 130.5 578.8Q124 578.6 123.6 566Z" fill="#cdd5dc"/>
<path d="M124.5 436L136.8 436L136.2 480L133.6 548L131.3 571.5L130.3 571.5L128 548L126 480Z" fill="#fbfcfc"/>
<path d="M117.6 516.6h0M115.9 556.1h0M92.5 492.8h0M114.2 565.7h0M114.2 470.2h0M118.2 456.9h0M108.6 475.9h0M104.7 508.4h0M122.4 459.2h0M112.9 527.8h0M107.7 460.8h0M122.7 473.5h0M113.1 550.3h0M113.8 571.3h0M109.3 464.6h0M111.5 516.4h0M117.6 544.4h0M112.3 558.3h0M118.3 575.6h0M108.1 477.8h0M115.8 504.2h0M112.2 538h0M123.1 466.4h0M120.3 523.5h0M113 469.5h0M119 576.1h0M119.1 560.7h0M120.2 522.8h0M116.4 575.6h0M118.9 534.5h0M121.4 546.8h0M110.5 471.3h0M110.9 527.1h0M110.9 476h0M86.3 450.7h0M116 442.8h0M121.7 575.7h0M115.6 544.2h0M121.6 567.5h0M111.4 457.7h0M108.5 481.8h0M99.3 508.8h0M106.5 549.6h0M91.9 476.7h0M111.5 528.7h0M121.9 565.2h0M97.3 496.5h0M108.4 513.1h0M121.8 568h0M113.6 492h0M119.7 499.6h0M109.6 526.9h0M122.7 530.3h0M119.8 551.7h0M119.2 526.4h0M120.5 523.5h0M120.2 542.6h0M122.6 520.9h0M119.1 571.3h0M120.9 463.5h0M120 575.4h0M118.4 509.8h0M104.9 526.9h0M118.6 491.8h0M121.1 511.2h0M119.1 516.1h0M111.5 538h0M105.4 547.7h0M103.9 509.1h0M121.9 547.4h0M123 576h0M121.4 510.7h0M120.6 509.1h0M116.8 548.4h0M119.2 575.2h0M122.8 446h0M110.8 446.9h0M114.8 462.4h0M117.1 475.9h0M88.1 446.9h0M111.1 547.9h0M120 462.7h0M117.5 489.1h0M122.4 552.3h0M96.3 475.7h0M122.4 523.1h0M112.5 445.9h0M119.1 548.7h0M123.1 483.1h0M109 503.7h0M109.9 560.7h0M121.2 469.4h0M112.1 477.3h0M105 473.7h0M108.1 459.8h0M115 564.9h0M115 551.6h0M111 506.4h0M121.6 554.4h0M117.5 574.4h0M120.3 484.9h0M119.3 462h0M106.7 488.1h0M114.5 523.2h0M122.7 466.5h0M105.5 445.5h0M118.4 573.9h0M122.8 573h0M123 573.6h0M99.3 474h0M105.4 470.4h0M115.5 538.8h0M120.9 505.1h0M115.2 576.8h0M114.2 460.6h0M117 569.6h0M118.6 577.3h0M110.1 495.1h0M109.7 464.7h0M112 476h0M109 552.2h0M101.9 496.1h0M119 559.3h0M110.9 459.1h0M109.9 544h0M104.7 536h0M110.1 468h0M116.7 548.6h0M115.2 548.4h0M121.1 504.3h0M114.1 562.5h0M115.9 496.8h0M110.8 531.6h0M112.9 484.6h0M120.9 554.9h0M118.7 458.6h0M99.4 496.3h0M121.6 480.7h0M114.9 573.2h0M120.5 462.2h0M102.6 499h0M99.9 469.8h0M100.3 471.9h0M118.8 530.2h0M121.7 562.5h0M113.8 543.9h0M108.9 453.2h0M113.4 553.8h0M122.7 517.2h0M122.6 532.3h0M104 501.7h0M104.2 446.3h0M118.1 547h0M120.9 515h0M108.7 509.2h0M114.2 522.4h0M116.2 523.7h0M122.6 538.5h0M120.2 526.6h0M94.7 492h0M105.7 530.3h0M118.3 468.1h0M116.4 533.5h0M103.4 507.6h0M92.9 478.5h0M122.2 512.1h0M113.7 553.4h0M123 533.8h0M115.4 446.7h0M123.1 532.4h0M116.8 469.4h0M121.4 569.9h0M105.1 461.4h0M111 551.2h0M120.7 536.1h0M117.7 479.1h0M120 514.2h0M106.5 490.1h0M121.4 561.1h0M120.8 564.8h0M111.4 484.1h0M115 537.9h0M122.5 519.4h0M122.2 454.9h0M120.5 506.1h0M98.4 473.2h0M114.6 482.3h0M113 539.6h0M102.1 457h0M103.5 518.5h0M111.6 556.9h0M117.6 494.7h0M108.2 520.2h0M122.3 454.2h0M123.1 451.9h0M101.6 479.9h0M116.6 513.2h0M113.1 573h0M107.9 498.4h0M102.5 471.9h0M112.9 560.1h0M111.8 526.3h0M96.9 458h0M99 510.3h0M108.3 459.1h0M122.7 491.8h0M112.8 541h0M98.7 459h0M115.6 534.1h0M104.2 448.3h0M122.6 521.5h0M108.6 448.7h0M123.1 501.3h0M117.9 538.4h0M112.2 499h0M105.6 494.2h0M122.7 545.7h0M116.8 509h0M119 527.9h0M108.8 512.3h0M123.1 512.1h0M122 542.8h0M103.9 448h0M122.3 542.2h0M105.3 505.5h0M117 475.4h0M122.3 493.8h0M119.3 538h0M117 493h0M121.3 514.7h0M103.6 479.9h0M106.1 442.7h0M101.8 467.2h0M114.4 551.4h0M121.9 474.8h0M114.6 566h0M118.3 514.6h0M119.9 471.9h0M122.5 539.4h0M99.5 464.2h0M92.7 452.6h0M105.5 444.2h0M118.1 554.3h0M118.7 444.6h0M114.1 510.1h0M119.5 469h0M87.7 442.3h0M112.5 454.4h0M119.1 462.4h0M110.9 538.4h0M111.9 506.9h0M115 460.5h0M110.2 530h0M122.3 552.9h0M109.6 552.3h0M113.9 542.9h0M109.1 491h0M108.3 528.7h0M122.7 563.1h0M121.9 567.8h0M112.7 536h0M121 507.6h0M122.2 479h0M116.2 443.9h0M104.4 469.5h0M105.8 446.4h0M113.7 570.2h0M122.4 543.9h0M121.8 547.1h0M111 538.6h0M111.9 499.1h0M110.7 518.5h0M122.9 574.9h0M122.8 546.4h0M122.4 575.7h0M109.1 464.8h0M119.7 570.7h0M119 565.8h0M120.3 556.9h0M119.6 445.8h0M122.3 499h0M121.3 575.1h0M112.1 561h0M118 478h0M121.7 495.9h0M110.7 485.1h0M115.8 545.1h0M114.3 544.3h0M116.3 552.7h0M122.3 563.9h0M119.2 504.9h0M101.1 481.9h0M102.2 488.8h0M103.3 463.7h0M116.2 546.4h0M96.1 449.9h0M103.2 505.5h0M106.8 552.6h0M103.9 510.3h0M114.2 507.1h0M112.2 487.1h0M120.6 500.1h0M120.3 555.7h0M113.8 507.9h0M107.6 542h0M112.6 519.6h0M110.4 525.7h0M122.4 562.3h0M113.7 559.3h0M121.1 491.1h0M117.6 549.7h0M120.7 461h0M122.5 492.7h0M110.7 494.9h0M122.6 455.3h0M89.4 448.9h0M99.5 522.6h0M117.6 559.8h0M123.1 553.4h0M114.7 495.5h0M117.4 471h0M116.8 547.8h0M118.2 567.9h0M109.2 551.9h0M109.9 542.6h0M122.4 548.5h0M114.6 563.9h0M121.5 560.9h0M121.6 525.6h0M111.6 497.5h0M117.6 491.6h0M111.5 515.7h0M119.7 555h0M106.1 517.9h0M120.6 552.1h0M100.6 461.8h0M119.1 504.2h0M119.3 550.2h0M83.3 449.5h0M104.7 514.4h0M107.8 498.8h0M111 546.1h0M108 472.5h0M107.6 468.4h0M104 465.2h0M102.5 508h0M109.9 520.1h0M107.1 557.3h0M112.9 563.9h0M123 547.6h0M113.2 450.8h0M122.2 455.3h0M102.3 500.3h0M114.9 562.3h0M117.4 555.8h0M105.7 519.2h0M121.5 483.4h0M115 462.7h0M109.7 448.6h0M118.5 571.4h0M114 554.3h0M121 555.6h0M120.9 455.5h0M118.5 575.8h0M98.8 474.3h0M99.7 495.8h0M122.4 558.1h0M117.7 573.7h0M106 457.3h0M108.1 461.4h0M119.3 462.8h0M121.8 449h0M119.9 457.7h0M110.5 480h0M115.9 547.6h0M121.7 516.9h0M115.7 516.4h0M109.5 557.1h0M88.2 474h0M112.6 558.6h0M111.2 533.8h0M113.6 529.9h0M121 497.2h0M112.2 451.9h0M98.9 450.2h0M121.4 573.3h0M119.1 558.8h0M102.7 480.7h0M114.6 486.9h0M121.7 564.7h0M118 505.6h0M108.3 459.4h0M121.6 465.3h0M117.4 560.9h0M121.1 560.5h0M117.9 447.2h0M113.1 484.6h0M101.9 509h0M123.1 571h0M122.3 492.5h0M110.8 546.8h0M122.5 570h0M105.3 493.1h0M116.6 511.2h0M102.4 468.1h0M117.2 540h0M123 565.1h0M117.4 563.3h0M122.2 523.3h0M115.5 463.1h0M119.8 547.7h0M117.3 453.7h0M113.9 562.1h0M102.7 508.1h0M113.9 563.7h0M111.6 498.1h0M103.5 459.2h0M122.9 442.6h0M119.1 511.7h0M114.4 523.2h0M87.4 468.7h0M103.2 541.8h0M115.5 564h0M122.2 464h0M108 502.5h0M98.6 475.6h0M113 576.7h0M114.8 543.4h0M111.6 487.8h0M93.4 463.9h0M121.3 523.2h0M115.4 547.7h0M99 460.3h0M120.5 525.8h0M104.5 503.6h0M112.1 570.5h0M119.3 516.1h0M111.3 459.6h0M110.6 527.8h0M118.4 470h0M106.2 536.9h0M110 483.4h0M111.3 510.4h0M120.2 459.3h0M117.5 570.4h0M116.3 569.4h0M118.7 558.9h0M119.7 479.5h0M122.8 538.3h0M117.2 546h0M122.6 519.7h0M117.3 452.8h0M110.6 550.9h0M113.5 445.2h0M117.1 467.4h0M112.6 560.8h0M110 453.3h0M118.6 483.5h0M117.5 524.2h0M123 532.1h0M117.4 468h0M107.1 521.8h0M113.4 449h0M122.2 566.3h0M122.9 518.8h0M107.8 468.8h0M122.6 561h0M122.8 454.4h0M106.1 514.4h0M114.9 562.3h0M120.8 477.1h0M114.5 555.8h0M104.4 523.1h0M87.8 457h0M111.3 547.7h0M110.1 479.6h0M101.1 504.2h0M121.5 446.8h0M120.2 493.8h0M122.9 550.3h0M120.8 501.2h0M116.2 491.2h0M103.3 503.5h0M115.9 480h0M119.6 513.9h0M110.1 485.5h0M108.2 504.6h0M120.2 473.8h0M99.3 463.9h0M113.6 555.3h0M121.9 514.5h0M115 540.7h0M106 447.2h0M120.4 570.7h0M123.1 560.4h0M116.7 499.7h0M107.3 531.4h0M115.1 458.6h0M95.8 462h0M102.6 487.9h0M118.5 566.9h0M111.4 537h0M112.3 534.9h0M117.1 456.5h0M121.3 550.9h0M109.3 507.2h0M120.8 525.4h0M115.7 461.6h0M112.4 495.7h0M121.4 475.5h0M108.9 467.7h0M117 565.8h0M108.9 503.1h0M119.6 554.2h0M116.2 538.6h0M110.8 540.4h0M119.1 552.3h0M120.4 550.6h0M120.9 516.8h0M118.2 525.7h0M115.6 507.1h0M109.4 512.4h0M117.2 453.8h0M106.5 488.6h0M112.2 492.5h0M119.8 566.4h0M114.3 466.8h0M117.9 572.3h0M115.9 459.4h0M121.5 563.3h0M119 536.9h0M97.1 500.3h0M119.2 560.9h0M121.5 544.4h0M111 478.4h0M112.8 564.3h0M117.4 545.8h0M108.6 513.2h0M119.9 527.9h0M122.7 544.5h0M111.7 468.4h0M93 443.8h0M121.1 567.2h0M105.1 494.1h0M113.9 550.3h0M117.2 561.9h0M106.1 502.6h0M96.6 466.2h0M122.5 538.2h0M113.1 511.2h0M108.3 502.9h0M106.3 468.9h0M107.2 522.8h0M112 534.2h0M114.8 533.2h0M113.2 448.1h0M107.7 459.3h0M112.2 461.5h0M115.1 515.6h0M102.8 497.6h0M116.1 576.2h0M119.4 567h0M100.3 460h0M105 502.7h0M111.3 558.4h0M120.8 520.9h0M118.5 492.5h0M110.7 541.2h0M121.2 565.3h0M120.4 480h0M123.1 572.8h0M117.9 461.7h0M118.8 489.5h0M102.7 528.2h0M116.9 520.9h0M95.8 444.7h0M106.3 494.9h0M117.6 512.2h0M102.7 491h0M85.5 455.5h0M113 510.8h0M107.4 447h0M108.4 513.7h0M115.1 445.4h0M112.8 530h0M111.9 525.2h0M122.7 496.9h0M100.7 485.8h0M120 461.9h0M111.6 534.9h0M118.4 537.4h0M110.9 498.3h0M107.9 540h0M122.6 570.7h0M122.9 530h0M114.6 510.5h0M103.8 532.8h0M89.7 450.9h0M105.6 478.3h0M118.3 470.4h0M114.9 512.3h0M114.7 489.1h0M121.6 539.7h0M121.7 552.2h0M109.9 569.5h0M118.1 533.4h0M122.3 525.2h0M115.7 455.4h0M109.7 533.6h0M109.5 464.8h0M112.1 540.7h0M107 527.9h0M117.1 573.1h0M119.1 459h0M117.1 532.8h0M113.7 555.8h0M98.3 451.4h0M104.2 485.4h0M121.5 469.1h0M114.7 525.5h0M107 453h0M122.2 536.2h0M114.9 565.9h0M101.3 448.8h0M121.5 474.4h0M103.6 475.5h0M104.1 536.5h0M113.7 564.4h0M107.1 486.2h0M102.6 450.4h0M117.2 475h0M123.1 568.2h0M120.1 534.4h0M117.7 548.3h0M114.8 480.7h0M117.7 462.2h0M85.5 457.2h0M108.8 515.2h0M105.5 499.3h0M102.1 487.5h0M99.3 516.7h0M113.1 564.1h0M119 504.9h0M122.2 496.3h0M111.9 526.2h0M116.6 484.4h0M97.1 510.6h0M117.7 558.5h0M112.9 544.2h0M123.1 560.9h0M106.2 502h0M101.8 477.2h0M116 517.8h0M104.3 513.7h0M101.3 486.4h0M110.2 529.4h0M121.6 563.2h0M94 480.1h0M110.7 546.1h0M113 449.2h0M119.6 499.4h0M115.8 517.2h0M118.8 569.9h0M121 549.4h0M109.7 460.1h0M117.7 552.5h0M106.5 494.6h0M108.6 498h0M116.3 500.6h0M122.8 545.4h0M92.5 441.8h0M115.5 566.3h0M119.6 574h0M95.9 504.2h0M116 571.3h0M115.9 574.3h0M109.7 470.5h0M112.4 479h0M103.7 528.7h0M109 493h0M117.5 542.6h0M107.1 499.6h0M122.4 483.1h0M103 466.8h0M119.4 474.6h0M119 507.4h0M121 540.4h0M108.7 546.1h0M109.5 534.9h0M116.3 479.8h0M113.1 499.9h0M109 517.4h0M105.6 501.7h0M115.3 484.7h0M94.4 444.2h0M117 524.1h0M83.2 454h0M119.5 455.6h0M100.5 473.6h0M107.8 553.9h0M122.3 515.4h0M117.6 558.3h0M113.1 499.9h0M122.2 490.9h0M121.6 495.8h0M107.7 502.5h0M88 446.1h0M96.5 464.5h0M117.1 550.3h0M112.9 563h0M99 465.5h0M104.2 472.7h0M100.7 444.7h0M115.6 533.6h0M109.1 495.6h0M122.5 568.7h0M113.2 567.8h0M114.4 442.9h0M123 486.3h0M122.7 495.2h0M122.4 558.8h0M114.5 563.1h0M114.6 530.7h0M107.1 486.1h0M112.9 571h0M123 557.1h0M120.5 481.7h0M119.4 441h0M117.1 576.5h0M109.7 537.2h0M115.1 522.2h0M118.7 549.9h0M118 554h0M111.5 518h0M119 575.1h0M111 461.9h0M114.7 453.5h0M117.8 560.1h0M118.4 553.7h0M123 506.4h0M118.8 559.3h0M110.4 477h0M113.8 566.4h0M122.2 553.4h0M100.8 444.2h0M115.2 468.9h0M107.6 558.8h0M110.1 542.9h0M121.6 489.4h0M119 538.1h0M115.7 524.8h0M123 535.7h0M114.4 489.7h0M97.6 468.2h0M94.1 450.6h0M109.4 522.7h0M122.7 506.7h0M121.6 513.8h0M101.1 481.1h0M118.8 554h0M115.1 472.3h0M121.6 527.3h0M117.4 443.6h0M115.5 503.9h0M110.8 489.5h0M111.2 555h0M90.3 448.9h0M104.1 491.2h0M105.4 490.8h0M106.4 469.8h0M108.1 527.2h0M122.3 539.6h0M117.7 561.5h0M101.5 503.6h0M102.3 524.8h0M106.9 455.4h0M109.1 468.6h0M102 446.9h0M105.6 508.6h0M120.3 457.6h0M115.4 576.1h0M101.8 489.4h0M115.8 535.8h0M118.3 540.6h0M107.6 560.9h0M122.6 520.2h0M83 452.8h0M96.1 462.8h0M111.3 541.3h0M113.5 528.4h0M121.8 499h0M115.6 542.4h0M122.7 465.8h0M112.3 528.9h0M116.5 573h0M113.7 535.7h0M83 448h0M121 447h0M121.3 546.7h0M105.6 473.4h0M104.4 446.1h0M118.5 550.9h0M114.3 574.1h0M113.1 499.7h0M122.9 464.9h0M108 456.8h0M97.6 499.8h0M93.6 458.5h0M112 513.6h0M121.4 471h0M122.2 539.4h0M120.3 453.7h0M118.4 469.7h0M109.2 457.7h0M102 486.3h0M98 473h0M118.6 554h0M114.3 549.1h0M112.8 478.9h0M121 566.4h0M116.4 508.5h0M120.6 442.9h0M118.1 560h0M121.2 546.4h0M111.8 443.9h0M122.7 467.6h0M100.5 487.4h0M118.2 575.8h0M120 562.4h0M118.7 572.2h0M107.6 463.3h0M122.1 572.8h0M115.2 577h0M122.2 524.5h0M118.5 459.4h0M120.9 453.6h0M117 477.2h0M118.1 530.8h0M101.6 467.2h0M121.2 513h0M112 547.1h0M98.1 464.2h0M123.1 518.8h0M103.7 456.7h0M112 508h0M91.3 480.2h0M115.1 493.3h0M116.6 556.9h0M104.5 471.3h0M104.2 484.3h0M105.4 492.1h0M123 562.1h0M108.3 481.5h0M118.7 573.7h0M113.8 564.3h0M115.9 505.8h0M111.8 554.9h0M120.9 460.2h0M98.7 506.7h0M117.4 542.9h0M115.3 503.7h0M122.8 564.2h0M111.8 531.7h0M121.2 507.7h0M121.6 541.6h0M108.2 560.2h0M86.7 454.5h0M118.3 560.3h0M121.4 463h0M108.9 529.5h0M121.4 456.9h0M116.8 552.6h0M117.1 540.8h0M97.7 454.1h0M121.2 463.9h0M114.2 520.1h0M112.6 520.6h0M111.9 470.2h0M111.5 464.5h0M104.1 513.4h0M118.1 509.8h0M123.1 569.3h0M119.7 572.6h0M115.7 552.6h0M108.8 533.7h0M98.1 457h0M98.1 444.5h0M119.5 569.2h0M107.6 483.1h0M114.6 515.5h0M113.8 570h0M120.4 518.9h0M121.8 487.2h0M113.3 465.7h0M108.5 553.8h0M123.1 560h0M112.5 550.7h0M108.5 549.7h0M111.5 466.5h0M115.4 540.7h0M121.3 442.8h0M117.7 566.8h0M112.6 459.9h0M114.7 452.9h0M113.6 469.8h0M104.6 492.5h0M113.5 502.9h0M119.3 566.8h0M116 571.9h0M111.6 469.1h0M109.9 536h0M113 566.7h0M119 518.1h0M112.3 573.3h0M113.4 490.5h0M118.7 451.4h0M108.4 543h0M87.1 441.3h0M94.9 456.5h0M104.7 508.9h0M111.6 550.7h0M115 574.4h0M106.2 471.6h0M121.6 477.6h0M120.8 500.9h0M115.3 522.9h0M120.3 564.9h0M118.5 560.4h0M122.1 573.6h0M88.2 467h0M115.6 521.4h0M112.8 518.5h0M121.5 554.3h0M115.6 467.7h0M121.1 496.2h0M97.3 511.3h0M119.3 568.5h0M114.8 550.3h0M99.9 491.1h0M103.2 471.6h0M111 519.9h0M117.7 552.4h0M109.5 463.1h0M114.7 478h0M106.6 468.2h0M114.2 565.7h0M111.5 571.5h0M122.8 500.2h0M114.9 526.9h0M116.5 545.5h0M122.1 534.4h0M112.8 575.8h0M101.2 468h0M108.8 515.4h0M122.6 517h0M122.5 555h0M107 528.6h0M106.9 474.5h0M109.9 475.2h0M121.8 475.1h0M118.8 575.3h0M121.3 564.6h0M109 479.6h0M116.2 462.3h0M120.4 538.2h0M101.2 488.6h0M91.9 482h0M105.8 480.4h0M115.1 551.4h0M101.5 533.9h0M113.8 548.3h0M114.9 502.2h0M108.9 477.8h0M122.1 526.5h0M97 509.5h0M120.8 540h0M118.2 529.4h0M99.9 458.4h0M102.8 458.1h0M99.6 466.8h0M110.6 460.2h0M119.1 457.8h0M113.1 490.5h0M122.4 538.9h0M115.4 574.8h0M110 446.5h0M119.6 498.4h0M111.1 527.5h0M105.9 479.3h0M108.2 481.5h0M105.8 501.5h0M106.1 465.8h0M102.1 478.1h0M110.5 485.6h0M110.9 485.2h0M117.2 468.4h0M117.9 531.3h0M99.3 481h0M120 543.4h0M110.5 564.3h0M119.9 539.2h0M114.9 528.7h0M98 498.2h0M119 518.1h0M116.1 544.9h0M122.7 499.7h0M116.6 576.9h0M121 541.2h0M120.9 482.5h0M116.4 480.9h0M111.8 458.7h0M89 476h0M117.3 452.2h0M121.4 558.6h0M123.1 549.3h0M120.4 520.7h0M106.1 534.6h0M118 525.2h0M121.4 571.8h0M121.9 483.6h0M110.5 481.9h0M110.4 483.4h0M95.7 452.9h0M118.3 481.9h0M113.8 546.3h0M121.9 546.9h0M122.9 506.5h0M121.2 500.9h0M91.2 482.3h0M113.1 485.6h0M122.5 492h0M123 540.6h0M115.1 568.8h0M122.1 522.7h0M116.5 550.2h0M117.5 522.9h0M105.5 481.9h0M92.7 464h0M113.5 557.2h0M121 442.1h0M122.2 473h0M109.2 487h0M118.7 472.6h0M105.8 478.6h0M121.8 530.9h0M98 442.7h0M117.5 457.1h0M120.8 554.6h0M122.5 489.6h0M114.3 546.7h0M115.9 499.7h0M114.9 509.7h0M103.2 506.4h0M120.7 566.4h0M123 568h0M107.4 445.1h0M119.5 504.3h0M114.2 570.8h0M102.8 501.2h0M122 566.3h0M115.9 570.7h0M91.4 476.5h0M112.8 484.4h0M103.8 456.2h0M121.9 506.3h0M107.1 524h0M121.8 512h0M121.4 576h0M121.1 472.2h0M121.9 514.1h0M117.4 555.1h0M117.3 567.5h0M120.6 520.9h0M104.2 541.7h0M94.5 453.4h0M110.2 556.3h0M120.8 536.8h0M103.5 501.5h0M116.8 537h0M121.9 463.8h0M100.9 475.6h0M102.9 540.3h0M115.5 536.7h0M118.7 504.6h0M115.2 522.7h0M121.2 556h0M121.2 569.3h0M122.7 571.2h0M114.8 544.7h0M105.2 547.3h0M118.5 486.9h0M111.1 461.5h0M103.2 490.4h0M107.4 481.1h0M108.3 489.8h0M108.8 516.6h0M122.3 456.6h0M117.3 556.2h0M110.5 538.4h0M121.7 576.6h0M122.4 511.9h0M123.1 513.9h0M118.1 479h0M115.2 510.2h0M106 475.7h0M108.6 479h0M121.8 542.7h0M120.6 567.7h0M98.1 444.7h0M110.6 460.4h0M112.1 497h0M114 491h0M111.4 561.3h0M97.8 448.8h0M114 523.7h0M106.8 445.8h0M117.4 479.8h0M118.5 495.1h0M96.3 501.8h0M106.8 465.4h0M115.8 443.3h0M119.6 571.4h0M114.1 553.9h0M116.4 560.4h0M102.8 490.6h0M97.6 474.4h0M118.9 520h0M110.7 456.5h0M105.3 500.8h0M120.5 555h0M120.1 551.5h0M107 467.1h0M119.3 510.5h0M122.9 491.2h0M116.2 459.6h0M96.7 475.4h0M96.2 450.7h0M121.8 481.4h0M98.2 498.6h0M122.2 574.4h0M94.5 462.6h0M111.4 542.8h0M116.3 548.5h0M109.5 469.8h0M123 562.3h0M120.4 443.2h0M117.3 535.6h0M108 454.4h0M120 544.4h0M106.1 511.1h0M120.1 533.3h0M118.8 558.8h0M100.1 474.6h0M116 478h0M108.1 519.9h0M109.3 524.3h0M115.4 527.9h0M114.9 502h0M115.2 520.8h0M102.6 491h0M98.7 473.7h0M114 459.1h0M121.1 484.9h0M103.4 507.9h0M120.1 474.4h0M118.6 569.4h0M103.3 506.9h0M114.8 489.3h0M99.3 480.3h0M118.7 504.9h0M110.4 507.4h0M118.1 464.9h0M107.1 525.1h0M120.8 488.3h0M112.4 483.3h0M120.7 558.9h0M122.7 544.2h0M116.1 505.9h0M118.6 499.5h0M122.7 450.7h0M93.2 495.9h0M118.7 522.2h0M118 554.9h0M109 470.1h0M116.5 543.4h0M105.4 492.1h0M115.1 559.2h0M112.3 535h0M105.7 447.3h0M122 472.5h0M109.3 520.2h0M96.7 513.3h0M110.5 561.1h0M114.4 560.4h0M116.9 448.9h0M122.7 443h0M123.1 567.6h0M106 469.6h0M121.7 553h0M121.4 560.7h0M114.3 557.2h0M118.3 552.2h0M106.6 443h0M106 508.3h0M119.3 465.3h0M114.8 575.2h0M118.6 500.6h0M121.3 471.3h0M118 530.4h0M112.2 444h0M105.8 528.9h0M112.8 460.6h0M97.8 441.4h0M106.5 520.6h0M120.6 573.9h0M108.5 527.7h0M115.5 499.4h0M112 460.5h0M113.5 516.5h0M115.9 476.4h0M108.3 478.2h0M104.6 485.8h0M116.6 497.3h0M102 495.4h0M107.9 483h0M110 508.6h0M102.1 488h0M122.7 563.9h0M117.8 501.2h0M122.9 505.3h0M122.6 558.4h0M118.4 510.4h0M121.1 548.8h0M119.7 532.7h0M118.4 571.5h0M108.6 536.8h0M117.2 468.2h0M118.1 533.5h0M122.9 515.7h0M105.9 480.3h0M102.5 459.3h0M122.3 521.3h0M107.5 525.3h0M121.2 508.7h0M119.8 499h0M122.8 506h0M116.6 518.1h0M104.1 490.2h0M119 506.8h0M116.8 567.4h0M122.6 529.7h0M106.1 499.9h0M96.7 456.6h0M116 469.2h0M115.6 524.9h0M104.5 485.3h0M114.9 554.8h0M120.9 507.5h0M121.6 508.1h0M103.9 516.9h0M116.9 523.9h0M117.9 530.7h0M115 503.8h0M118.7 565h0M120.1 513.7h0M91.8 484.9h0M112.8 562.8h0M111 541.7h0M106.8 483.5h0M118.9 540h0M117.5 524.8h0M105.1 495h0M120.7 530.9h0M121.7 575.6h0M116.9 508.8h0M117.4 515.8h0M98.1 458.1h0M121.1 573.8h0M120.2 488.3h0M112.8 505h0M122.6 564.9h0M118.4 526.3h0M106.4 449.8h0M123 522.9h0M108.3 512.1h0M109.1 500.3h0M121.5 518.1h0M106.9 462h0M114.5 447.6h0M97.5 459.9h0M108.2 503.7h0M107.4 479.6h0M110.6 509.9h0M113.4 447.6h0M116.9 543.2h0M112.9 525.2h0M122.9 509.6h0M118 497.9h0M115.1 514.7h0M121.3 577.2h0M109.9 453.9h0M113.4 456.5h0M113.6 475.9h0M113.1 464.3h0M106.5 453.1h0M122.9 474.6h0M121 473h0M104.3 451.8h0M120.7 443h0M120.5 536.2h0M121.5 460.6h0M122.2 473.7h0M118.1 575.6h0M122.9 557h0M117.6 536.4h0M111.9 461.1h0M107.6 551.3h0M118.5 459.3h0M106.3 510.3h0M112.1 507.6h0M120.9 490.8h0M121.7 563.1h0M119.3 562.3h0M122.6 573.9h0M117.3 452.4h0M103.7 471.5h0M121.3 564.9h0M104.4 509.7h0M103.6 450.8h0M121.1 559.6h0M121.3 469.8h0M104.7 499.4h0M121.9 546.5h0M119.9 472.3h0M112.2 451h0M107.3 471.9h0M116.7 452h0M117.1 461.9h0M110.2 559.8h0M112.6 505.3h0M105.2 515h0M116.2 554.8h0M118 532.1h0M118.2 500.2h0M114.5 569.5h0M113.2 545.5h0M121.4 467.3h0M103.5 458.6h0M120.5 568.5h0M121.5 519h0M122 545.1h0M119.9 544.8h0M110.9 492.8h0M101.7 486h0M112.4 497h0M120.9 570.7h0M118.4 564.6h0M119.2 467.5h0M104.6 497.5h0M116 508.1h0M122.7 573.7h0M111.8 503.7h0M106.3 485.3h0M119.3 568.3h0M120.7 520.5h0M96.4 491.2h0M121.8 454.8h0M122.3 562.5h0M114.4 509.4h0M120.3 484.1h0M97.7 448.6h0M108.8 504.5h0M109.6 460h0M97 468.5h0M120.2 529.1h0M108.9 481.9h0M113.6 539.3h0M90.1 470.9h0M118.8 530.2h0M120.4 563.7h0M118.4 520.2h0M118.1 495.8h0M111.3 560.9h0M105.7 500h0M110 464.7h0M100.7 489.1h0M123 554.3h0M115.1 479.1h0M120.2 556.9h0M118.2 511.4h0M97.5 458.8h0M103.1 477.3h0M121.7 457.8h0M122.6 509.8h0M109.2 506.7h0M119.8 445.2h0M108.2 528.4h0M117.1 489.8h0M105.8 497.9h0M122.6 552h0M110.4 558.1h0M104.1 459.3h0M108.8 525.8h0M113.9 569.9h0M116.9 524.8h0M120.1 574h0M111.2 533.7h0M118.6 576.8h0M83.7 453.4h0M121.1 544.4h0M122.3 569.7h0M122.7 565.3h0M121.6 446.4h0M121 565.4h0M122.3 559.8h0M117.2 443.6h0M118.7 530.9h0M109.8 556.7h0M110.4 503.2h0M119.6 541.4h0M102.8 521.8h0M112.5 514.9h0M103.3 475.3h0M107.5 543.8h0M115 527.7h0M90 476h0M107.9 477.1h0M121.4 511h0M119.8 539.4h0M118.5 460.2h0M110.6 473.4h0M111.4 511.9h0M102.6 529.7h0M111.1 571.2h0M111.4 442.5h0M116.8 506.5h0M122.7 447.4h0M120.8 450.9h0M107.9 499.5h0M117 510.7h0M112.9 493h0M117.4 526.9h0M110.7 534h0M112.3 473.9h0M115 447.9h0M117.9 555.2h0M117.5 503.5h0M117.8 551.9h0M120 553.5h0M117.8 525.7h0M109.6 527.9h0M111.6 547.3h0M96.7 467.2h0M108.3 559.2h0M122.7 469.6h0M117 448.9h0M87.4 452.5h0M121.9 445.6h0M107.7 456.6h0M108.6 556.1h0M107.7 478.7h0M97.6 517.4h0M117.7 542.5h0M118 530.2h0M119.1 572h0M98.8 477.4h0M98.8 518.4h0M122.8 462.3h0M94.5 476.6h0M98.4 510.9h0M98.9 445.4h0M119.4 511.5h0M114.9 565.1h0M119.3 449.2h0M118.4 531.4h0M111.2 556.2h0M121.4 453.7h0M119.9 461.1h0M108.8 524.3h0M114.8 499.9h0M96.7 497.1h0M108.7 472.1h0M97.6 450.4h0M118.4 537.7h0M119.9 512.3h0M114 483.9h0M114.5 550.4h0M108.9 447.7h0M121 506.8h0M117.4 530.5h0M104.2 455.4h0M90.5 471.5h0M110.4 534.4h0M121.8 561.3h0M121.6 474.9h0M113.2 485.9h0M84.1 444.1h0M120.3 518.9h0M119.9 471h0M122.4 544.7h0M103.2 446.5h0M118.6 572.5h0M115.4 539.5h0M117.9 470.4h0M118.2 543h0M114.9 488.8h0M122.2 527.6h0M116.5 516.5h0M116.4 539.3h0M118 506h0M122.8 485.3h0M117.2 517.4h0M119.7 569.2h0M103.4 460.5h0M93.8 492.2h0M82.4 441.9h0M105.3 463.5h0M116.3 474.7h0M115.7 472.3h0M121.3 557.7h0M122.7 500.6h0M114.7 571h0M120.9 504.9h0M121.1 479.9h0M102.5 478.8h0M122.3 504h0M116.8 536.5h0M111.4 551h0M123 553.7h0M117.1 477.5h0M116.8 513.7h0M121.8 523.2h0M107 524.4h0M112.7 507.8h0M117.6 495.4h0M116 470.2h0M123.1 483.6h0M119.6 497.7h0M122.1 572.3h0M115.5 486.9h0M115.8 472.9h0M123.1 537.9h0M118.6 473.9h0M116.9 511.8h0M114.1 510.5h0M113.8 492.8h0M119.1 530.7h0M121.4 522.4h0M110.5 551.2h0M98.3 511.2h0M108.9 462.2h0M106.4 509.7h0M119.7 499.7h0M120.9 498.7h0M116.5 457.3h0M104.9 461.7h0M122 567h0M111.2 444.6h0M112.5 532.4h0M123.1 505.8h0M121 524.4h0M123 525.6h0M111.4 456.6h0M114.1 456.4h0M110.5 489.6h0M115.7 519.1h0M109 520h0M120 547.6h0M117 542h0M120.6 486.5h0M118.6 482.6h0M117.2 450.2h0M114.7 490.8h0M122.9 468h0M119.4 477h0M115.4 518.1h0M117.6 460.5h0M119.2 547.7h0M121.7 498.8h0M118.9 532.3h0M111.6 456.8h0M114.8 511.7h0M105.1 507.2h0M117.2 562.7h0M112 511.1h0M114.1 493h0M117 560.8h0M122.1 512.5h0M105.2 514.6h0M122.4 543.9h0M113.3 447.6h0M114.8 531.3h0M100.6 459.3h0M103.1 461.6h0M119 494.3h0M98.3 452.9h0M92.8 462.8h0M108.3 477.8h0M108.5 449.9h0M122.9 575.2h0M120.5 456.9h0M88.6 451.1h0M112.3 540.6h0M111.9 552.4h0M108.5 449.3h0M114.8 491.8h0M115.9 568.6h0M121.6 526h0M108.9 468.3h0M114.5 478h0M103.8 451.1h0M116.5 498.9h0M110.9 523.5h0M106.3 487.8h0M117.8 544.3h0M114.1 504.3h0M122.2 553h0M121.9 444.1h0M110.4 488.8h0M118.3 475.6h0M100.9 476.8h0M116.9 507.1h0M105.3 510.4h0M101.2 484.9h0M119.6 540.6h0M112.7 515.6h0M97 460.3h0M118.1 537.4h0M123.1 576.3h0M121.1 502.1h0M121.1 524.3h0M104.9 505.4h0M118.6 490.9h0M107.6 507.8h0M117.4 564.3h0M103.8 488.5h0M104.3 511.1h0M116.2 546.3h0M108.3 509h0M104.2 443.9h0M99.7 498.3h0M96.1 444.4h0M113.2 559.8h0M100.5 486.1h0M106.7 519.2h0M122.8 498.3h0M122.3 565h0M94.7 498.2h0M112.9 501.6h0M107.6 534.4h0M122.9 491.1h0M104.4 443.8h0M112.4 453h0M98.6 474h0M114.8 542.6h0M117.5 523.7h0M86.1 458.4h0M110.6 466.2h0M122.5 455.8h0M123.1 524.7h0M114.9 485.5h0M108.9 527.7h0M123.1 516.1h0M116.7 576.4h0M107.9 543.3h0M105.2 481.5h0M101.1 484.3h0M122.8 471.8h0M114.6 496h0M101.5 527.6h0M114.1 566.6h0M120.7 531.8h0M107.5 447.9h0M116.6 569.4h0M117.4 560.4h0M113.7 516.3h0M119.6 506.4h0M106.3 497.7h0M106.1 554.6h0M87.7 460.1h0M104 477.2h0M121.4 455.2h0M117.3 508.5h0M123.1 505.1h0M101.6 467.4h0M105.4 515.2h0M108.9 560.2h0M112 572.6h0M121.8 568.3h0M116.5 573h0M119.7 546.8h0M113 500.9h0M104 494.7h0M118.7 491.2h0M101.8 496.1h0M122.9 450.8h0M107.6 542.9h0M116.5 522.2h0M116.2 462.6h0M111.3 517.3h0M106.7 444.4h0M107.9 546.9h0M112.9 514.8h0M109.8 507.4h0M115.9 531h0M120.2 443.4h0M104.6 457.5h0M120.7 538.5h0M116.8 456.7h0M99.1 450.2h0M100.5 453.9h0M120.6 513.6h0M106.3 521.1h0M100.4 482.8h0M105.7 481.4h0M95.6 456.1h0M119.1 521.4h0M105.2 451.1h0M112 535.1h0M118.1 575.5h0M111.8 525.2h0M117.5 553.9h0M122.6 445.1h0M94.5 478.9h0M111.2 459.5h0M117.4 556.4h0M104.8 505.9h0M106.5 516.1h0M119.9 489.7h0M115.7 487.5h0M112.7 503.4h0M108.8 479.8h0M116.8 569.4h0M112.3 511.4h0M98.7 459.7h0M117.7 569.1h0M105.5 498.1h0M113.9 485h0M112.4 488.6h0M115.3 528.8h0M114.9 555.6h0M122.6 569.8h0M120.1 524h0M107.7 476.5h0M105.1 482.3h0M113.7 544.7h0M109 444.4h0M112.6 521.9h0M117.7 537.7h0M116 549.5h0M117.9 569.8h0M101.5 524.9h0M116.2 564.2h0M119 446.4h0M117.4 562.2h0M118.2 550h0M120.2 555.3h0M93.5 443.3h0M96.1 453.7h0M105.4 506.6h0M108.9 502.2h0M106.1 481.9h0M110.3 510.3h0M113.2 515.8h0M121.7 550.4h0M103.8 503.2h0M95.7 447.5h0M119.3 456.4h0M103.7 493.3h0M102.1 463.6h0M111.9 540.2h0M121.8 526.8h0M93.6 453.2h0M121.3 484.8h0M112.5 494.3h0M99.8 506.8h0M118.7 448.7h0M108.7 472.8h0M120 566.3h0M104.7 463.2h0M111.4 509.8h0M113.8 521.8h0M116.1 539.5h0M110 534.4h0M117.2 479.5h0M89.4 479.8h0M111.4 537.7h0M118.3 504.5h0M119.7 567.1h0M111.4 552.3h0M116 547.4h0M113.2 442.1h0M118.8 544.6h0M100.1 517.3h0M122.6 516.6h0M113.1 556.4h0M106.4 548.4h0M119.7 458.6h0M113 501.6h0M99.1 479.2h0M110 509.2h0M105.6 442.8h0M111.1 493h0M109.4 564.9h0M121 492.7h0M107.9 493.3h0M112.6 559.3h0M116.4 554h0M120.2 513.3h0M119.1 554.1h0M112.1 515.4h0M111.2 552.8h0M101.8 482.1h0M121.6 571.7h0M120.6 545.6h0M120 543h0M97 450.5h0M115.4 475.7h0M104.1 443.1h0M115.4 525.8h0M121.6 462.7h0M108 536.3h0M113 532.9h0M117.9 558.9h0M101.1 445.8h0M116.5 548h0M111.7 533.3h0M108.8 565.6h0M117.2 564.2h0M95.6 502.1h0M109.6 511.1h0M108.2 442.5h0M107 498.6h0M120.2 557.2h0M120.1 548.3h0M116.7 521h0M122.8 545.5h0M117.4 492.2h0M116.6 564.5h0M122.8 469.4h0M119 532.7h0M110.5 483.3h0M122.5 570.8h0M122.2 509h0M95 452.4h0M115.2 558.5h0M116.6 446h0M96.7 462.3h0M118.3 542h0M117.4 513.8h0M100.2 483.1h0M116 576.8h0M116.9 528.4h0M104.5 542.2h0M108.3 534.9h0M115.2 496.1h0M106.7 520.4h0M116.5 465.9h0M114.8 557.8h0M105.1 477.7h0M115 486.2h0M106.7 493.3h0M106.5 482.2h0M121.1 490.4h0M114.1 501.6h0M115.6 508.4h0M118.7 555.8h0M120.8 531.3h0M113.6 448.9h0M107.6 488.9h0M115.3 575.7h0M103.8 499.4h0M115.6 560.7h0M117.9 536.2h0M98.7 479h0M121.4 546.8h0M121.1 486h0M111.6 479.8h0M120 465.9h0M113 501.4h0M103.9 472.5h0M106.2 470.8h0M112.2 561.2h0M119.6 487.9h0M114.8 525.2h0M109.9 464.1h0M117.8 503.2h0M120 522.6h0M115.4 537.7h0M96.7 477.6h0M109 492.7h0M115.8 441.8h0M121.8 549.2h0M116.6 504.9h0M120.5 564h0M112.2 533.2h0M101.5 486.4h0M101.6 462.2h0M111.9 514.8h0M101.9 484.9h0M114.4 487.4h0M103.7 453.1h0M94.1 502.1h0M115.6 479.2h0M111 545h0M121.8 545.3h0M119.8 507.3h0M116.7 455.9h0M122.9 475.7h0M115.4 522.2h0M113.8 551.8h0M100.5 476.2h0M108.8 450.6h0M121.1 464.6h0M105.1 541.7h0M119.7 470.2h0M115.3 570h0M97.1 478.5h0M98.7 519.6h0M100.6 482h0M116.5 510.7h0M122.5 496.9h0M109.6 570.3h0M123 501.5h0M109.9 526.3h0M113.5 501.9h0M113.3 501.8h0M123 509.1h0M95.8 460.8h0M121.3 513.5h0M108.6 537h0M120.1 508.8h0M82.9 450.4h0M121 571.3h0M98.8 458.8h0M112 516.4h0M114.7 456.3h0M106.4 532.8h0M118.9 500.1h0M119.7 567.1h0M122.6 488.2h0M97.3 496.1h0M119.9 576.8h0M102.9 524.2h0M116.4 552.7h0M118.3 576h0M119.4 496h0M103.1 499.4h0M95.4 453.2h0M115.9 479.8h0M119.5 574.7h0M116 469.1h0M108.8 449.3h0M112.8 543.7h0M121.3 547.7h0M107.5 457.3h0M111.7 560.3h0M110.4 456.5h0M93.6 485.9h0M121.4 556.4h0M117.2 568.8h0M108.6 478.6h0M122.1 560.4h0M113.7 491.3h0M121.7 501.4h0M115.4 446.2h0M123.1 526.6h0M115.8 459.5h0M107.8 490.7h0M109.1 489h0M119.2 532.4h0M112.7 447.4h0M105.4 530.1h0M92 469.4h0M110.1 489h0M116.2 480.4h0M107.2 464.9h0M112.4 504.8h0M113.5 557.1h0M111.4 528.9h0M110.6 445.1h0M111.8 533.8h0M114.2 474.6h0M108.5 557.2h0M112.6 462h0M106.2 548h0M83.3 447.8h0M116.7 485h0M116.3 515.8h0M108.8 464.7h0M119.2 575.5h0M116.1 548.9h0M93.1 444h0M99.1 476.3h0M106.4 474h0M96.8 450.7h0M119.9 497.6h0M107.5 518.9h0M114.1 514.3h0M118.8 445.4h0M105.4 449.9h0M120.3 528.3h0M105.7 478.5h0M117.2 468h0M114 565.8h0M120.5 520.7h0M111.6 574.5h0M117.3 567.6h0M115.5 518.5h0M109.8 545.9h0M101.7 495.1h0M117 504.5h0M110.3 524.3h0M114.5 531.6h0M118.9 541.1h0M91.6 473.4h0M105 451.1h0M120.5 520.6h0M121.1 522h0M120.5 495h0M108.8 540.8h0M120.9 501.8h0M103.2 446.7h0M116.5 538.4h0M119.3 448.9h0M111.7 564.6h0M120.5 462.2h0M111.6 462.9h0M111.3 459.3h0M117.9 567.2h0M107.1 513.9h0M122.1 514.6h0M121.6 506.3h0M117.2 551.5h0M103.5 457.2h0M122.8 553.7h0M101.2 443.7h0M109.4 524.5h0M112.4 534.9h0M113.3 506.6h0M113.3 567.7h0M104.9 471.6h0M107.8 538.7h0M112.4 544.4h0M116.3 536.4h0M115.7 462.1h0M100.8 465.6h0M115.3 530.9h0M122.1 515h0M114.2 493.3h0M117.3 560.3h0M123.1 456.7h0M122.5 513.5h0M121.6 511.7h0M111.8 499.4h0M116.2 547.9h0M116.6 523.1h0M121.8 461.1h0M122.5 505.6h0M101.2 494.7h0M117.5 494.7h0M122.3 442.9h0M122.7 554.2h0M106.4 520.6h0M119.7 478.6h0M122.7 511.6h0M121.9 481.6h0M107.4 481.7h0M111.1 487.5h0M111.7 453.4h0M121 571.9h0M121.1 568.1h0M111.1 534.6h0M88.4 457.8h0M120.1 542.1h0M109.9 483.6h0M118.2 508.1h0M101.9 479h0M86.9 443.9h0M110 512.7h0M108.3 521.6h0M113.2 447.9h0M122.6 474.5h0M117.6 569h0M121.5 525.7h0M111.7 511.2h0M121.8 453.7h0M120.6 560.4h0M121.2 494.3h0M119.1 460.8h0M112.6 508.3h0M97 486.2h0M119.8 481.6h0M119.2 561.1h0M121.8 455.8h0M117.2 563.8h0M113.3 565.8h0M111.4 488.3h0M112.1 547.4h0M108.8 507.8h0M102.6 501.3h0M119.8 569.1h0M121 531.5h0M119.4 552.7h0M100.9 481.2h0M121.6 560.3h0M122.6 565.8h0M118.4 504.6h0M108.2 531.7h0M116.8 537.6h0M113.5 452.3h0M122.8 523.7h0M113.4 529h0M109.9 551.1h0M108.2 530.1h0M117.7 531.7h0M122.3 495.1h0M115.9 530.7h0M122.9 553.1h0M121.5 490.3h0M103.5 499.1h0M122.5 565.8h0M98.2 516.7h0M106.3 510.7h0M113.1 510.9h0M112.2 459.6h0M93.8 476.3h0M122 555h0M117.4 561.7h0M112.2 504.1h0M115.2 563.6h0M121.6 572.9h0M108.7 489h0M121.1 451.1h0M119.6 551.5h0M106 517.1h0M122.9 514.3h0M104.1 483.1h0M119.8 500.1h0M88.7 461.3h0M118.1 547.5h0M119.2 465h0M115.8 572.2h0M116.1 526.3h0M114.8 546.9h0M116.7 525.2h0M117.9 525.9h0M119.2 571h0M109.8 516.1h0M120.1 520.9h0M121.3 534.2h0M91.4 450h0M102.2 524.6h0M96.5 456.7h0M122.4 492.6h0M118.3 472.4h0M107.1 497h0M121.8 547.7h0M117.8 483.7h0M120.1 540h0M115.1 557.5h0M113.8 507.7h0M112.3 486.5h0M116.2 557.6h0M121.6 472.5h0M108.8 521.4h0M100.6 468.9h0M95.6 443.4h0M110.8 490.2h0M113.4 463.6h0M122.4 444.1h0M116.8 469.2h0M113.1 533h0M101.8 468.5h0M118.8 522.8h0M120.9 567.2h0M102.8 462.2h0M115.5 492.3h0M117.9 450.9h0M113.6 566.4h0M118.4 509.4h0M100.7 457.5h0M108 464.4h0M123.1 521.9h0M108 451.3h0M116.7 445.3h0M113.5 527.5h0M119.1 559.2h0M108 466.6h0M122.1 534.3h0M115.1 456.5h0M116.1 577h0M112.5 467.1h0M111.2 540.5h0M119.8 571.8h0M117.2 572.6h0M85.2 460.4h0M116.1 521.8h0M117.7 572.3h0M97.9 454.1h0M114.7 570h0M112.7 475h0M114.2 500.2h0M113.6 489.1h0M107.6 481.6h0M114.9 463.7h0M114 571.7h0M117 539.4h0M118.3 556.9h0M114.2 487.5h0M114.4 506.7h0M116.9 503.5h0M117.5 532.9h0M117.2 479.7h0M114.3 548.5h0M118.2 472.6h0M122.8 485.7h0M122.1 444.4h0M116.6 558.1h0M92.7 491.8h0M118.6 501.5h0M120.3 555.8h0M95.6 488.8h0M115.6 575.1h0M111.3 495.7h0M105.3 467.6h0M115.6 461.7h0M107.9 456.5h0M93.9 444.1h0M105.4 536.3h0M122.4 505.4h0M110.9 548h0M120.5 484.3h0M103.6 499h0M120 505.2h0M120.5 509h0M99.1 472.2h0M122.2 575.6h0M121.8 483.8h0M118.4 503.5h0M112.1 484.7h0M121.8 553.7h0M104.7 504.9h0M118.6 572.6h0M105.7 503.8h0M113.4 537.8h0M112.5 468.7h0M112.7 518.9h0M116.9 448.5h0M92.2 456.3h0M113.1 461.8h0M119.4 475.4h0M115.2 564.7h0M113 499.3h0M121.3 539.8h0M118.5 529.2h0M96.5 490.9h0M97.2 465.4h0M122.2 520.1h0M112.7 467.8h0M122.8 557h0M114.6 567.1h0M99.3 464.6h0M116.6 510.3h0M115.4 458.5h0M121.8 538.7h0M108.8 519.2h0M122 494.6h0M111.2 459.6h0M122 489.7h0M109.7 465.2h0M118.9 539.8h0M122.9 565.7h0M101.4 444.7h0M97.4 464h0M91.9 467.6h0M121.5 501.1h0M116.3 467h0M122.2 506h0M115.1 485.2h0M122.5 483.3h0M115.3 500.8h0M109 486.7h0M108.4 546.1h0M115.9 553.4h0M116.2 488.1h0M102.1 485.6h0M111.2 497.6h0M103.4 485.2h0M100.7 467.2h0M122.5 538.9h0M111.4 535.1h0M100.8 473.9h0M115.2 566.6h0M118.1 527.2h0M113.7 536.3h0M99.3 468.3h0M110.4 516.1h0M120.8 554.5h0M117.6 459.1h0M116.1 469.3h0M123 488.3h0M120.4 534h0M119.8 563.5h0M121.5 487.3h0M92.6 467.2h0M116 569.7h0M120.3 481.8h0M122.5 502.6h0M121.1 460.8h0M99.5 447.7h0M114.5 445.7h0M105.4 517.3h0M113.7 574.5h0M88.4 458.1h0M123 519.8h0M119.2 504.6h0M113 473.5h0M105.7 520.8h0M90.3 443.4h0M122.6 503.3h0M114.5 536.4h0M98.6 475.5h0M98.9 459h0M122.3 499.5h0M113.9 469.5h0M94.5 485.9h0M95.9 473.9h0M122 548.5h0M92.8 487.6h0M120.8 514.8h0M107.6 530.8h0M119.1 516.9h0M114.8 573.1h0M112.1 540.9h0M108.2 521.2h0M117.1 523.6h0M119.7 484.5h0M108.1 475.4h0M114.9 508.8h0M109.5 486.1h0M109.7 492.9h0M111.4 451.9h0M105.3 514.2h0M122.2 568.2h0M122 573.5h0M114.9 552h0M109.3 485.6h0M112.1 558h0M121.8 513.3h0M121.6 529.4h0M103.2 504.2h0M101.9 474h0M105.5 516.9h0M118.1 518.5h0M113.2 515.6h0M105.6 510.5h0M101.2 481.5h0M110.8 480.6h0M116.8 477.6h0M103.5 540.4h0M120 568.8h0M109.8 540.4h0M122.8 493.7h0M119 453.6h0M121.1 558.5h0M99.1 503.4h0M104.4 457.3h0M116.3 509h0M109.7 453.1h0M102.6 530.9h0M123 576.5h0M112.4 522.5h0M116.1 498.2h0M118.7 554.8h0M117.3 563.5h0M121.3 461.8h0M122.1 472.6h0M115.8 503.2h0M111.9 465.9h0M107.6 524.7h0M120.4 560.6h0M96.2 499h0M116.2 488.7h0M100.3 477.6h0M115.3 576.7h0M120.9 513.2h0M98.2 485.1h0M120 529.7h0M109.1 531.5h0M111.5 548.7h0M115.3 514.4h0M116.9 540.2h0M108.3 487.1h0M115.7 537h0M120.9 569.8h0M120.6 542.3h0M116.2 455.9h0M118.9 562.7h0M120.3 454.2h0M112.3 534.4h0M102.7 494.3h0M119.7 544.3h0M121.8 523.8h0M118 473.8h0M121.1 568.3h0M117.7 443.6h0M105.9 470.3h0M104.5 445.6h0M103.6 491.7h0M108.5 452.8h0M115.6 554.3h0M96.5 458.7h0M107.8 529.9h0M119.3 446.9h0M113 448.5h0M114.4 471h0M101.5 480.6h0M123 445.7h0M116.9 573h0M103.7 487.4h0M103.5 498.9h0M119 490.9h0M109.7 519h0M115.9 559.3h0M106.6 527.5h0M105.4 519.3h0M119 557.7h0M113.9 548.1h0M119.9 496h0M104 451.1h0M122.2 487.2h0M120.9 522.4h0M113 532.9h0M116.9 551.2h0M120.2 444.2h0M99.2 480.8h0M110 556.1h0M118.2 567.1h0M107.9 531.7h0M105.4 447.4h0M113.1 554.7h0M116.7 455.8h0M114.1 514.4h0M116.5 444.1h0M103.3 491.4h0M106.7 464.2h0M119.5 525.1h0M116.2 553.2h0M119.1 521.8h0M88.1 456.2h0M122.5 564.2h0M107.9 452.7h0M110.9 494.8h0M112.8 515.4h0M121.3 511.8h0M107.7 486.4h0M113.1 565.1h0M99.5 479.3h0M106.1 530.3h0M112.3 512.5h0M112.6 546.9h0M121.4 486.7h0M117 525.3h0M116.4 553.4h0M111.2 459.1h0M121.9 554h0M115.8 534.6h0M104.2 500.4h0M123.1 572.3h0M107.3 486.2h0M115.8 474.3h0M122.9 522.4h0M116.1 451.4h0M110.4 456.2h0M117.2 570.9h0M117.1 470.9h0M120.2 518.1h0M123.1 486.5h0M100.6 495.6h0M92.5 452.2h0M122.5 489.1h0M113.5 491h0M102.2 495.6h0M120.3 479.6h0M100.1 486.1h0M106.3 495.1h0M112.9 558h0M122.6 560.3h0M89.3 462.2h0M119.7 559.9h0M117.7 466.8h0M120.9 535.8h0M115.3 523.1h0M108.9 526.5h0M121.3 536.9h0M108.7 469.1h0M107 472.5h0M115.4 554.1h0M111.9 505.4h0M98.3 448h0M121.6 552.1h0M112.6 561.9h0M118.9 483.3h0M108.2 555.4h0M113.7 516h0M115.2 514.8h0M112.3 558.1h0M118.6 486.3h0M119.9 448.4h0M98.8 512.3h0M122.8 551.6h0M119.8 561.6h0M99.7 485.8h0M118.3 486.8h0M91.2 476.9h0M101.8 468.6h0M114.6 569.5h0M115 568.1h0M111.5 552h0M116.6 457.2h0M122.1 539.2h0M123 570.1h0M120.6 451.8h0M106.6 511.9h0M102.4 470.4h0M122.8 484.2h0M110.8 530.9h0M118.9 567.4h0M118.7 516.7h0M122.4 548.5h0M103.1 501.1h0M115.3 562.6h0M114.2 464.1h0M118.1 525.2h0M119.6 555h0M114.1 498h0M110.7 506h0M112 450.8h0M108.8 521.6h0M106.7 525.4h0M119 570.2h0M106.5 470.4h0M120 550.6h0M112.5 554.9h0M105 512.1h0M114.5 453.9h0M113.6 519.4h0M123 531.7h0M109.1 555.4h0M109.8 568.4h0M121.1 488.9h0M105.2 489.8h0M105.5 450.5h0M121.6 526.5h0M119.2 531h0M108.3 526.3h0M121.8 507.8h0M117 551.1h0M114.6 479.4h0M106.2 475.6h0M102.6 491.9h0M120.8 517.5h0M119.8 448.3h0M121.7 540.7h0M117 570h0M108.2 470.3h0M114.7 551.8h0M102.1 491h0M123.1 530.6h0M119.2 495.8h0M114.2 476.4h0M95.6 448.5h0M112.6 521.8h0M114.1 468.8h0M117.5 570.8h0M114 507.8h0M105.5 471.7h0M108.6 450.5h0M116.8 488.8h0M121.1 533.6h0M116.9 538.1h0M105 514.2h0M105.7 503.1h0M117.8 532.9h0M121.7 484.8h0M114.3 496.7h0M114.2 542.5h0M103.7 482.9h0M104.4 447.6h0M122.7 573.9h0M121.6 565.7h0M111.4 547.3h0M120.6 548.6h0M114.1 550.9h0M96.4 445h0M120.9 501.7h0M118.7 495.1h0M119.1 477.2h0M121.5 445h0M107 492.5h0M122.1 525h0M112.7 565.1h0M110.2 544.3h0M121.7 442.4h0M107.9 530.7h0M105.3 516.6h0M120.9 519.9h0M109.4 453.4h0M121.7 569h0M117.9 553.8h0M108.8 559.3h0M122.3 533.8h0M91.9 471.9h0M121.6 528.9h0M122.8 492h0M99.8 441.5h0M98.4 458.9h0M106.4 481h0M115.8 458.6h0M117.4 548.2h0M111.9 508.5h0M122.7 571.7h0M112.8 538.9h0M108 529.8h0M120.1 521.1h0M101.4 461.9h0M119.9 481.2h0M116.2 550.8h0M114.2 577.2h0M116.9 552.3h0M116.7 447.6h0M120.8 529.4h0M122.2 479.1h0M116.6 568.6h0M122.5 532.2h0M110.6 557.1h0M108.6 472.9h0M106.7 552.8h0M104.4 508.8h0M122.6 574.5h0M116.4 458.7h0M115.3 557h0M119.7 575.1h0M119.5 454.7h0M113.8 575.3h0M112.8 504.6h0M113.5 531.6h0M111.9 482.8h0M116.1 513h0M104.3 508.4h0M89 463.3h0M110.1 548.5h0M121.4 574h0M119.7 446.5h0M115.1 448h0M99.3 456.8h0M119 515h0M120.3 536.2h0M98.8 448.2h0M99.7 471.3h0M119 506.6h0M109.4 526.2h0M119.3 493.9h0M109.3 544.4h0M96 461h0M116.9 562.5h0M101.8 485.9h0M105 479.4h0M98.5 483.4h0M113.8 540.6h0M115.5 468.8h0M106.1 453.4h0M115.3 507.6h0M110 540.3h0M121.1 505.2h0M121.7 468.4h0M102.5 503.7h0M109.8 542.6h0M122.6 519.7h0M120.8 569.8h0M122.9 577h0M116.7 573.4h0M111.4 537.3h0M119.8 479.8h0M116.3 571h0M112.8 485h0M107.2 491.8h0M113 570.5h0M121.6 565h0M122.1 520.6h0M123.1 558.2h0M112.3 467.8h0M123.1 555.2h0M95.1 443.3h0M101.3 500.5h0M113.4 454.3h0M108.6 465.7h0M117.2 563.8h0M99.4 471.7h0M116.9 472.9h0M118.2 566.1h0M117.7 524.3h0M114.2 538.4h0M120.9 523.4h0M112.2 496h0M92.9 496.9h0M121.1 485.2h0M102.5 486.3h0M121.6 569.3h0M100.5 515.9h0M118.6 547.2h0M122 460.2h0M106.6 443.6h0M108.6 533.8h0M111.5 482.9h0M113.2 563.4h0M108.3 502.4h0M114 539.3h0M102.9 467.6h0M104.6 505.3h0M102.9 482h0M111.1 550.9h0M113.8 567.3h0M114.1 569.2h0M99.8 473.9h0M113.8 543.3h0M104 500.3h0M96.7 462.7h0M117 574.7h0M120.9 445h0M105 459.1h0M114.1 571.6h0M123.1 510.5h0M122.3 508.3h0M105.4 516.4h0M108.5 518.5h0M121.2 447.3h0M117.4 556.1h0M97.4 499.8h0M119.7 505.6h0M120.6 562.5h0M115.6 508.6h0M104.8 506.7h0M123.1 474.2h0M109.5 532.2h0M103.6 443.3h0M109.9 519.4h0M122.7 516.5h0M102.3 469.5h0M111.6 512.6h0M89.9 453.4h0M120 566.1h0M116.2 497.1h0M103.8 541.3h0M106.4 494h0M104.7 493.1h0M121.7 557.5h0M107.7 504.5h0M114.5 477h0M117.3 544.2h0M107.2 501.8h0M89.4 445.9h0M117 482.4h0M99.6 478h0M119.8 491.2h0M117.5 570.7h0M119.5 475.2h0M118.1 573.2h0M117.4 558.5h0M121.4 442.7h0M99.3 488.6h0M95.5 460.4h0M111.7 546.8h0M122.2 551.9h0M109.7 512.7h0M120.4 563.8h0M100.7 482.6h0M123 477.4h0M117 484.2h0M100.9 513.9h0M115.4 501.4h0M112.1 530.1h0M117.3 558h0M112.2 483h0M113.5 496.6h0M113.2 565.1h0M102.1 465.8h0M113.6 566.7h0M119.3 539.2h0M105.8 509.8h0M109.9 519.4h0M114.5 454.9h0M112 520.9h0M103.6 499h0M107.6 529.2h0M122.9 545.1h0M109.8 494.6h0M120.3 471h0M107.2 480.7h0M117.5 466.4h0M112.8 551.6h0M107.2 517.3h0M122.9 471.7h0M109.4 529.7h0M108.3 522.6h0M120.6 546.9h0M110.3 442.3h0M122.2 517.5h0M115.6 454.5h0M100.5 447.3h0M111.7 554.4h0M108.5 498.4h0M103.1 530.7h0M122.4 571.8h0M108.8 566.4h0M117.2 486.9h0M107.5 477.8h0M98.6 510.5h0M104.6 452.3h0M109.6 491.1h0M118.4 509.7h0M111.8 484h0M119.1 467.4h0M117 566.7h0M116.5 462.4h0M98.1 458.2h0M108.6 468.1h0M113.4 496h0M101.5 473.1h0M121.8 468.9h0M110.6 529.8h0M96.8 496.6h0M116.7 552.2h0M109 463.7h0M118.6 443.9h0M110.4 516h0M104.2 491.5h0M114.5 575.3h0M112.1 498.9h0M118.1 527.8h0M93.6 446.8h0M107.4 507.5h0M117 448.6h0M102.9 514.5h0M121.3 492.1h0M106.8 519.6h0M108.7 509.3h0M114 504h0M116.3 547.8h0M116.7 461.9h0M114.6 476.9h0M115.3 474.4h0M119.2 465.5h0M113.3 556.1h0M121.6 575.3h0M119.1 448.9h0M110.5 496.9h0M107.9 534.4h0M115.5 510h0M107.7 495.4h0M111.3 524h0M111.2 486.4h0M117.3 462.7h0M122.3 556.7h0M104.7 513.5h0M119.8 524.5h0M105.9 462.7h0M92.1 454.3h0M114.2 488.4h0M115.8 507.8h0M116.9 556h0M106.9 515.4h0M121.5 490.4h0M98.5 472.1h0M98.8 477.1h0M110 546.3h0M122.6 573.2h0M102.8 496.7h0M103.4 489.5h0M113.7 543.8h0M104.4 495.4h0M118 506.9h0M114 561.7h0M116.5 497.2h0M104.2 473.5h0M96.6 443h0M118.4 472.9h0M102.7 500.3h0M114.7 569.2h0M112.6 449.5h0M122.6 540.3h0M118 458.4h0M100.3 446h0M113.2 534h0M111.7 443.1h0M98.3 510.4h0M113 529.4h0M115.9 489.6h0M103.2 459.2h0M114.4 496h0M109.6 462.6h0M122.6 543.5h0M115.3 519h0M119.2 572.5h0M110.1 454.7h0M103 509.7h0M121 493.4h0M121.5 487.5h0M94.8 450.6h0M114.4 490.4h0M109.5 569.7h0M115.8 567.2h0M122.4 497.7h0M100.7 456.6h0M118 541.8h0M116.4 561h0M115 468.3h0M100.2 462.3h0M123.1 545.6h0M105.8 478.2h0M117.2 549.7h0M104.4 498.6h0M116.5 561.6h0M122.3 559.5h0M96.4 464.7h0M123 491.8h0M110.4 538.8h0M122.5 496.2h0M122 550h0M122.5 462.6h0M98.3 481.1h0M102.5 441.6h0M122.9 495.5h0M107.6 533.9h0M110 519.8h0M120.6 535.4h0M114.9 445.1h0M109.7 481.5h0M108.2 556.2h0M113.3 489.9h0M122.4 514.5h0M114.2 571.5h0M122.8 488.1h0M114.4 452.2h0M115.8 576.2h0M119.6 495.8h0M110.4 509.7h0M122.9 494.9h0M113.8 503.1h0M98.4 465.9h0M122.4 492.8h0M113.2 511.6h0M121.9 513.3h0M116.7 465.4h0M95.2 456.5h0M121.9 569.3h0M99.4 463.9h0M90.8 451.9h0M117.8 529.5h0M122 446.4h0M94.4 482.4h0M117.1 568.5h0M120.9 465.5h0M112.1 549.4h0M111.9 546.7h0M120.4 558.1h0M122.1 550.9h0M105 517.7h0M114.9 463.9h0M116 546.4h0M120.9 564.4h0M102.4 502.6h0M116 548.2h0M106.6 472.4h0M103 500.9h0M119.7 561.2h0M115.7 475.8h0M114 453.4h0M113.3 447.8h0M98.8 496h0M122.5 536.8h0M114.8 471.8h0M95.6 449.8h0M106.8 517.8h0M120 551.6h0M112.3 542.7h0M102.8 502h0M117.4 461.4h0M95.5 456h0M107.8 526.4h0M110.9 506.4h0M116.6 549.8h0M99.2 476.1h0M115.8 537h0M117.9 575.2h0M116.2 517.6h0M114.3 575.7h0M121.5 521.9h0M108.1 523.9h0M101.9 456.7h0M121.8 444.7h0M108.7 530.7h0M100.5 461.3h0M115.8 554.2h0M118.7 538.9h0M102.7 457.2h0M120.8 576.4h0M106.3 509.8h0M99.2 455.6h0M120.3 444.3h0M119.7 499.7h0M112.4 503.4h0M122.7 503.6h0M120.5 465.2h0M111 495.2h0M111.1 487.7h0M94.6 447.3h0M106.4 477.6h0M117.6 445.5h0M109.1 528.4h0M113 539.2h0M107.2 477.9h0M102.8 488h0M107.6 551.4h0M117.9 562.6h0M112.3 466h0M108.5 538.2h0M118.5 569.3h0M118.8 509.2h0M108.4 542.5h0M112.9 547.6h0M116.3 532.5h0M95.8 460.7h0M122 562.2h0M107 528.8h0M114.3 525.3h0M113.4 506h0M111.5 555.8h0M107.8 533.7h0M123.1 551.3h0M100.3 480.1h0M106.9 481.6h0M114.3 481.6h0M107.7 450h0M110.2 509.6h0M112.5 562.9h0M97.7 471.6h0M112.4 518.4h0M108.3 538h0M111.6 547.6h0M111.2 524.7h0M116.9 575.7h0M120.4 552.8h0M117.7 488.4h0M108.1 491.1h0M119.9 574.9h0M121.3 526.5h0M112.9 478.8h0M117.7 510.9h0M122.5 459.3h0M110.5 505.2h0M106.7 537.7h0M111.7 549h0M119.3 560.2h0M111.2 459.6h0M85.1 460.9h0M122.9 544.3h0M122 461.5h0M106.6 517.3h0M118.2 567.3h0M122.1 564.6h0M109 500.5h0M89.8 464.7h0M115.5 560.6h0M119.4 478.4h0M118.8 558.3h0M109.8 544.7h0M112.2 530.3h0M108.6 558.1h0M108.1 463.3h0M118.6 557.5h0M110.8 552.5h0M113 478.9h0M119 562.6h0M115.1 466.7h0M110 537.9h0M114 551.3h0M115.5 454.5h0M120.7 521.1h0M113.9 461.9h0M116.7 559.3h0M117.6 494.5h0M121.7 468.9h0M119.8 538.1h0M114.3 547.1h0M119.9 485.3h0M117.4 548.3h0M102.9 486.9h0M110 551.4h0M118.6 570.7h0M119.5 562.8h0M122.7 552.7h0M107.4 499h0M98.9 488.8h0M120.9 575.6h0M102.4 523.7h0M99.9 503.6h0M109.4 529.3h0M122.6 576.5h0M115.5 573.7h0M101.6 515.3h0M106.1 513.4h0M123 545.3h0M97 463.8h0M108.1 494.6h0M99.8 516h0M120.7 448.4h0M102.6 493.9h0M109.2 539.7h0M119.8 547h0M112.5 460.5h0M108.1 466.8h0M100.9 453.8h0M101.3 524.6h0M98.5 464.7h0M119.4 468.5h0M120.9 552h0M118.2 480.7h0M116.4 476.6h0M86.1 465h0M111.1 551.8h0M119.4 468.4h0M122.5 485.8h0M114.5 562.3h0M122.5 575.4h0M114.4 473.9h0M114.6 566.2h0M97.6 447.8h0M107.4 528.1h0M117.9 444.5h0M108.5 516.3h0M109.2 523.9h0M122.3 540h0M118.6 567.2h0M102.6 451.1h0M111.2 517h0M109.2 458.9h0M113.3 543.2h0M111.4 459.8h0M108.1 492.5h0M114.3 539.8h0M116.3 560.2h0M110.8 525.7h0M115.4 498.2h0M118.1 505.5h0M118.8 510.9h0M107.9 484h0M102.7 497.3h0M122 443.1h0M122.7 527.4h0M119 564.7h0M121 454.6h0M116.5 475.2h0M120.6 525.4h0M120.9 512.3h0M113.3 550.9h0M117.2 480.4h0M112.8 536.5h0M122.8 568.9h0M120.2 546.3h0M113.1 558.8h0M123.1 491.4h0M119.8 533.1h0M120.7 540.7h0M114.2 534.9h0M117.2 575.6h0M120.7 562.1h0M98.1 458.8h0M104.7 452.5h0M114.6 502.5h0M120.9 552.2h0M119.3 483.1h0M115.2 557.5h0M111 482.6h0M118.5 551h0M112.2 541.8h0M120.4 541.5h0M114 456.7h0M106.3 515.5h0M110 465.1h0M123.1 562.9h0M121.6 488.9h0M115.7 560.4h0M114.9 490.6h0M111.7 542.8h0M118.7 447.8h0M114.7 484h0M117.2 563.5h0M102.6 449.8h0M105.2 516h0M110.6 509.2h0M117 476.3h0M119.4 508h0M101 512.7h0M123.1 442.7h0M105.9 492h0M107 493.1h0M121.3 574.2h0M120.8 540.5h0M117.8 541.4h0M117.5 461h0M95.2 444.4h0M99.7 481.5h0M104.5 536.8h0M122.9 573.4h0M118.5 511.2h0M116.2 510.1h0M122.2 517.3h0M101.9 531.1h0M120.5 512.1h0M106.1 526.6h0M106.7 507.6h0M110.4 454.1h0M101.6 488.4h0M121.4 526.5h0M107.5 525.6h0M120.9 506.5h0M122.9 554.4h0M121.3 493.1h0M113.4 516.2h0M109.8 543.9h0M118.7 524.1h0M117.7 505.3h0M122 464.5h0M104.2 529.6h0M104 500.1h0M113.8 557.4h0M114.8 453.2h0M105 454.4h0M114.3 457.7h0M113.6 540h0M116.5 551.8h0M111.8 478.6h0M104.2 501.5h0M104.9 492.4h0M111 545.9h0M109.7 550.9h0M100.3 509.1h0M104.9 451.3h0M86.4 454h0M106.7 479h0M120.5 533h0M115.9 503.2h0M105.6 489.9h0M109.3 492.6h0M106.2 514h0M118.3 547.3h0M113.2 479.9h0M98.7 454.6h0M121.4 465.2h0M99.2 473h0M106.8 547.7h0M105.7 504.2h0M120 550.4h0M109.9 546.9h0M89 442.1h0M122.7 521.2h0M120.9 571.8h0M103.8 539.5h0M107 488h0M119.8 536.8h0M111 542.9h0M122.2 454.7h0M103 456.3h0M106.1 509.6h0M118.9 493.8h0M120.1 562.4h0M118.2 574.8h0M115.4 476.4h0M117.2 574.7h0M114.7 554.6h0M116.5 531.3h0M120.7 453.7h0M105.3 447.4h0M121.1 551.4h0M95.8 480.7h0M118.3 478.6h0M108.4 491.1h0M123.1 567.2h0M100.3 481.2h0M108.7 502.4h0M110.2 534.7h0M117.3 574h0M121 550.8h0M122.6 468.5h0M118.9 443h0M121 494.4h0M89.8 456.8h0M104.7 500.1h0M121.4 474.7h0M96.5 459h0M106.2 464.3h0M107.7 488.6h0M112.9 512.2h0M117.2 458.5h0M111.3 550.6h0M119.8 468.1h0M120.8 507.9h0M120.8 525.7h0M117.2 531h0M121.7 484.3h0M120.1 459.5h0M122.5 469.8h0M118.8 543.2h0M109.8 525.3h0M122.9 452.3h0M113.2 529.7h0M118.1 441.6h0M122 576.8h0M118.1 552.8h0M112.1 518.7h0M109.8 543.7h0M123 528.4h0M99.3 462.4h0M119.6 451.7h0M100.8 484.9h0M114.7 547.6h0M122.6 536.4h0M114 467.2h0M117.8 529.6h0M114.4 568.2h0M117.9 466.4h0M122.2 483.1h0M107.7 448.2h0M117.8 573.6h0M92.8 472.5h0M110.9 541.3h0M108 459.1h0M92.4 470h0M118.7 483.4h0M98.4 459h0M98.6 472.5h0M112.1 486.3h0M122.7 564.3h0M116.7 543.7h0M117.5 458.2h0M121.2 518.8h0M112.6 517.6h0M122.3 502.8h0M109.9 442.8h0M115.4 475.1h0M113.4 455.8h0M118.4 482.5h0M114.2 522.8h0M100.5 458.1h0M122.4 507.5h0M108.7 463.9h0M98.4 484.1h0M123.1 467.7h0M83.4 445.1h0M122.1 566.6h0M112.7 559.9h0M121.4 570.8h0M114.8 575.8h0M122.7 529.4h0M98.6 473.9h0M115.9 557.3h0M113.2 463.9h0M114.3 534.1h0M102.4 516.5h0M112.5 540.5h0M105.1 457.6h0M123.1 540.9h0M119.3 467.1h0M113.6 535.9h0M120.6 509.9h0M122.4 477.9h0M122.5 548.2h0M116.5 507.9h0M100.9 516.6h0M116.2 562.9h0M113.1 552.6h0M113.9 543.7h0M107.2 473.1h0M118.8 512.5h0M103 502.6h0M122.8 572.3h0M114.6 528.8h0M110.1 497.4h0M122.6 463.8h0M116.8 452.2h0M121.2 551.2h0M108.3 483.2h0M121.3 531.3h0M116.3 574.3h0M114.8 445.7h0M115 500.3h0M120 510.4h0M116.8 502.7h0M116.8 559.6h0M121.7 561.1h0M118.4 477.1h0M121.4 528h0M103.2 495.5h0M107.4 547.4h0M107.7 532.8h0M119.4 566.5h0M122.8 500.9h0M120.6 535.9h0M100.8 470.3h0M117.7 559.1h0M98.8 469.3h0M120.5 519h0M99.8 485.9h0M119.9 480.1h0M105.6 504.4h0M100.3 463.9h0M116.8 545.8h0M99.9 468.4h0M113.9 477.9h0M116.7 501.5h0M106.8 499.8h0M120.3 573.4h0M115.6 447.1h0M93.8 476.3h0M119.8 467h0M115 519.4h0M110.5 519.3h0M113 561h0M119.1 511.6h0M120.3 517.6h0M95 484.3h0M113.3 519.7h0M121.2 552.5h0M114.3 573.2h0M102.8 498.1h0M102.9 443.4h0M100.4 488.3h0M99.5 474.1h0M107.8 518.6h0M111.9 526.4h0M120.2 546.4h0M100.9 527.4h0M121.4 563.4h0M114.5 539.5h0M108.7 527.8h0M102.9 453.6h0M116.1 565.9h0M111.9 514.8h0M122.1 488.8h0M111.2 543h0M94 499.8h0M123 494.6h0M123 536.5h0M117.9 507.6h0M119.2 469.2h0M118.5 514.4h0M120.3 505.4h0M119.1 532.2h0M121.4 545.1h0M114.5 505.3h0M122.8 574.1h0M98.8 475.6h0M112.5 536.9h0M119.5 551.3h0M106.9 452.9h0M100 448.4h0M110.9 499.9h0M116.4 444.6h0M119.3 507.9h0M112.5 555.2h0M113.3 512.1h0M111.9 552h0M111.7 573h0M116.2 499.2h0M112.1 563.4h0M121.5 534.3h0M107.9 502.2h0M95.8 493h0M97.6 458.4h0M108.4 551.8h0M115.3 523.6h0M122.7 450.5h0M97.1 497.6h0M122.5 443.2h0M107.2 521.1h0M116 573.2h0M118.3 507.5h0M112.2 482.7h0M108.5 471.4h0M121.9 507.2h0M113.3 565.7h0M118 538.7h0M102.1 458.7h0M87.8 457.4h0M110.3 481.1h0M108.4 561.7h0M114.9 503.1h0M117.7 461h0M121.1 505.7h0M117.7 470.4h0M116.4 555.5h0M116 551.5h0M122.6 563.8h0M120.2 532.6h0M108.5 533.7h0M113.7 472.4h0M117 563.8h0M121.6 568h0M117.4 560.9h0M103.5 495.2h0M114.4 513.9h0M119.6 470.5h0M122.7 526.1h0M96.5 509.9h0M109.2 456h0M114 573.6h0M122.1 515.4h0M111.1 571.7h0M117.8 563.4h0M108.5 457.4h0M104.3 474.9h0M100.8 489.2h0M122.4 465.8h0M121.9 500.3h0M121.3 545.6h0M113.3 543.2h0M112.1 529.5h0M117.3 443.4h0M109.5 512.9h0M120.1 536.4h0M98.3 469.8h0M115.8 534.2h0M113 528.9h0M120.8 515.8h0M111.2 443.7h0M110.2 528.7h0M119.3 570.4h0M114.7 526.7h0M105.2 549.7h0M119.6 543.1h0M123.1 569.1h0M117.6 480.6h0M106.9 523.2h0M115.5 454.7h0M108.5 520.8h0M109.5 472.6h0M119.8 482.9h0M116.3 555.5h0M115.1 453h0M116.5 566.2h0M118.7 556h0M123.1 504h0M103.2 453.2h0M116.3 573.6h0M105.9 512.6h0M116.5 565.4h0M121.6 460.3h0M122.8 464.4h0M121 487.2h0M121.8 501.4h0M115.2 524.1h0M107.5 538.8h0M100 453h0M115 445.6h0M116.4 503.3h0M117.9 496h0M117.5 472.4h0M102 444h0M102.8 514.9h0M121 541.7h0M95.6 444.7h0M111.8 511h0M104.4 479.2h0M117.9 561.7h0M107.3 538.5h0M117.1 499.6h0M120.8 542.2h0M111.6 483.7h0M98.4 485.1h0M110.2 508.7h0M96.7 502.2h0M118.2 556h0M114.7 554.6h0M109 539.6h0M117.1 555.3h0M119.5 569.8h0M111.9 472.5h0M123.1 518h0M122.2 482.5h0M110.2 528.3h0M114.3 498h0M121.5 498.4h0M121.5 532.5h0M114.2 527.4h0M113.2 478.9h0M111.2 475.4h0M112 555.2h0M105.6 506.2h0M123.1 523h0M86.7 466.5h0M122.7 567.7h0M111.7 524.6h0M99.1 449.8h0M109.7 496.5h0M118 455.7h0M116.4 466.2h0M121.3 477.7h0M102.9 482.4h0M119.5 543.8h0M116.5 516.8h0M109.1 541.1h0M122.1 568.4h0M117.8 576.4h0M99.4 456h0M120.8 504.8h0M111.8 565.6h0M118.1 551.3h0M122.8 540.3h0M110.6 568.4h0M99.2 442.7h0M109.3 499.1h0M115.2 471.4h0M122 447h0M114.8 523.7h0M119.7 492.8h0M90.7 477.6h0M119.4 465.9h0M122.7 540.5h0M115.1 527.9h0M110.7 524.3h0M110.1 502.7h0M121.6 513.6h0M115.5 512.8h0M115.7 577.1h0M93.3 454.4h0M96.6 456h0M103.3 445.2h0M109.1 493.2h0M118 555.5h0M104.1 482.9h0M121.3 520.6h0M116.8 547.1h0M117.4 519.3h0M112.1 532.5h0M117.7 577.2h0M90.1 460h0M115.5 534.4h0M112.8 575.9h0M115.2 535.3h0M115.7 525.8h0M108.9 516.1h0M120.5 526.2h0M109.6 536.6h0M107.5 541.5h0M115 502h0M113.1 517.1h0M90.1 460.9h0M119.2 472.4h0M115.3 576.3h0M122.4 548.6h0M112.3 486.5h0M115.8 467.7h0M95.7 487.5h0M106.6 482.9h0M113.6 453.3h0M122 571.9h0M119.9 448.2h0M103.9 509.2h0M123.1 481.8h0M123 569.3h0M100.5 498.8h0M117.3 556.4h0M101 479.2h0M114.2 530.4h0M100.2 472.4h0M113.3 559.8h0M120.3 493.4h0M116.9 575.8h0M117.7 534h0M121.2 576h0M118.9 551h0M105 509.1h0M111 458.7h0M121.5 564.5h0M99.8 523.9h0M98.4 472.6h0M122.9 492.6h0M107.7 464.2h0M122 562.1h0M102.3 444.7h0M99.4 484.3h0M95.5 460.7h0M109.5 528.1h0M101.1 480h0M101.1 488.1h0M102.5 445.3h0M120.4 560.7h0M115.6 571.2h0M98.8 520.1h0M122.6 511.2h0M104.7 482h0M101.7 460h0M121.2 529.2h0M123.1 546.3h0M119.6 574.7h0M116.5 461.4h0M107 514.5h0M118.3 559.8h0M120 477h0M116.2 515.3h0M109 515.2h0M101.2 490.3h0M102.5 481.3h0M115.8 539.5h0M115.2 540.6h0M119 469.7h0M119.3 470.9h0M118.6 500.2h0M106.8 492.8h0M111.3 498.5h0M107.4 465.9h0M122.5 572.5h0M121.5 529.9h0M117.4 518.6h0M112.7 498.2h0M92.5 485h0M105.1 496.1h0M119.9 538h0M116.5 459.2h0M96.8 482.4h0M107.1 499.4h0M122.3 449.9h0M85.7 450.6h0M115.7 529h0M119 501.5h0M116.7 523.9h0M106 503.3h0M117.5 510.7h0M116.1 483.6h0M100.9 486.7h0M119.1 566h0M101.3 470.6h0M110.9 457.5h0M111.1 491h0M102.4 485.8h0M107.8 489.4h0M117.8 565.4h0M114.5 535.5h0M109.4 552.1h0M114 518.7h0M118.7 571.8h0M120.3 553.6h0M119.8 478.7h0M108.8 462.5h0M116.7 521.8h0M121.4 479.8h0M106.5 514.1h0M107.7 526.4h0M111.9 466.8h0M104.6 470.2h0M113.3 565h0M99.5 509h0M117.1 529.5h0M118.2 533.4h0M109.8 507.1h0M105.9 523.7h0M122.6 557.9h0M111.7 528.6h0M103.3 476.4h0M113.5 536.3h0M100.4 476.2h0M83.7 452.1h0M115.7 481.1h0M118.1 493.5h0M108.9 533.3h0M114.3 540.2h0M95.9 498.1h0M120.1 568.6h0M113.3 485.9h0M121.2 542.2h0M122.8 550.5h0M107.6 482.3h0M104.9 446.6h0M118 443.3h0M115.4 540.3h0M119.2 453.5h0M119.2 447.9h0M109.9 482.1h0M112.4 554.8h0M116.1 543.6h0M121.5 571h0M119.6 500.4h0M114.7 474.5h0M123.1 483.3h0M110.8 493.1h0M107.5 468.6h0M118.4 493.2h0M123 542.9h0M109.9 465.2h0M105.3 511.1h0M113.6 537.4h0M108.4 509.3h0M102.2 517.8h0M111.3 553.3h0M101.3 496.8h0M120.1 556.1h0M97.7 458.3h0M109.4 451h0M106.5 525.4h0M121.2 530.6h0M118.9 504.6h0M108 473.8h0M110.6 551.7h0M120.6 467.4h0M116.3 527.2h0M111.7 549.1h0M113 444.6h0M116.3 548.2h0M121.3 544.6h0M112.1 555.7h0M122.5 487.1h0M105.1 484.4h0M108.8 443.7h0M115.7 556.2h0M105.3 542.4h0M120.2 475.6h0M117.5 555.1h0M114.5 544.9h0M105.7 446.8h0M116.2 541.7h0M117.3 533.5h0M110.8 546.8h0M110.5 493.8h0M121.5 520.9h0M110.9 520.2h0M120 502h0M108.6 445.1h0M113.7 506.5h0M122.4 557.8h0M110.7 515.1h0M108.3 553.4h0M117.9 511.6h0M108.7 513h0M121 463.8h0M120.2 443.1h0M108.4 510.3h0M122.5 567.9h0M114.3 450.8h0M116.7 570.4h0M119.2 499.3h0M99.4 505.7h0M122.1 534.5h0M108 494.5h0M123 549.5h0M123.1 536h0M120.9 576.7h0M107.1 530.5h0M112.1 561.5h0M122.9 478.5h0M113.9 538.4h0M104.5 537.7h0M120.6 559.1h0M115.9 473.8h0M119.3 455.5h0M122.3 496.8h0M120.1 576h0M103.3 504.7h0M115.2 519.9h0M112.9 487.4h0M120.8 566.4h0M119.5 536.7h0M117.5 560.3h0M114.8 477.5h0M100.6 459.7h0M119.1 530.3h0M118.3 575h0M120.4 487.4h0M97.7 499.5h0M120.7 511.4h0M120.1 558.9h0M118 468.7h0M118.5 575.2h0M111.2 504.2h0M116.7 526.5h0M100.3 448h0M110.8 479.5h0M116.8 504.3h0M116.4 516.4h0M99 506.7h0M101.6 493.9h0M112.2 466.1h0M113.7 516.2h0M92.1 482.7h0M121 566.1h0M118.5 558.1h0M122.2 501.2h0M115.8 537.5h0M114.1 443h0M121.6 547.9h0M116.9 456.6h0M122.4 511.7h0M117 521.7h0M121.5 519h0M121.2 516.3h0M104.1 506.4h0M100.3 481h0M105.4 512.2h0M112.4 527h0M111.7 448.6h0M117.9 461.9h0M108.8 469.9h0M107.1 554.8h0M110.6 531.4h0M122.6 524h0M104.8 536.7h0M110.8 507.5h0M116.4 547.3h0M122.6 482.9h0M103.3 484.4h0M113.7 448.7h0M107.3 550.9h0M104.4 501.8h0M105.4 451.7h0M116.5 497.8h0M119.3 569.1h0M105.5 453.1h0M106.5 500.3h0M115.2 523.3h0M121 531.2h0M122.1 566.9h0M115.3 537.2h0M108.5 486.1h0M118.3 565.9h0M123.1 548.5h0M102.5 495h0M122.8 561.5h0M119.6 448.6h0M108.8 555.1h0M113.5 461.1h0M109.9 522.1h0M108.7 508.9h0M95.6 496.3h0M115.5 540h0M118.2 534.7h0M119.4 565.6h0M108 551.1h0M118.3 554.2h0M110.4 543.7h0M103.9 503.3h0M117.9 531.6h0M121.9 477.9h0M108.9 487.5h0M118.7 493.2h0M112.9 496.9h0M121.4 467.1h0M113.3 552.7h0M92.9 477.2h0M103.5 469.7h0M112.1 559.1h0M96.4 445.3h0M121.2 549.6h0M113.4 546h0M121.6 543h0M104.1 480.2h0M116.7 523.4h0M120.2 549.1h0M117.3 502.5h0M121.4 465.3h0M117.2 463.7h0M119.3 463.3h0M97.1 502.2h0M122.3 562.6h0M110.5 489.3h0M104.5 460.9h0M106.9 529.7h0M117.8 531.7h0M109.1 461.1h0M97 465h0M114 517.9h0M107.9 530.6h0M114.3 477.5h0M118.7 573.4h0M111.7 453h0M101.5 494.5h0M116.4 482.5h0M102.4 499.4h0M119.5 503.8h0M121.5 543.4h0M110.3 551.5h0M121.4 575.1h0M90.5 481.5h0M117.6 551.4h0M110.6 546.8h0M111.3 515.4h0M117.9 573h0M103.7 507.2h0M117.1 468.7h0M101.1 520.6h0M104.3 534.7h0M96.9 467.6h0M119.7 470h0M121.8 572h0M116.3 566.4h0M112.3 572.9h0M122.2 545.1h0M120.5 537.4h0M107.8 524.3h0M96.8 474.7h0M114 450.7h0M117.3 557h0M115.8 566.4h0M123.1 473.1h0M114.3 454.2h0M110 531.4h0M109.2 530.2h0M122.5 565.6h0M99.4 519.9h0M110.1 451.3h0M104.8 451.1h0M110.5 523.1h0M117 467.1h0M103.9 494.9h0M122 477.5h0M123.1 554.3h0M108.4 506.5h0M117.2 530.7h0M99.5 463.7h0M112.4 509.3h0M103.4 539.1h0M118.3 495h0M113.5 462.3h0M116.5 499.3h0M111.9 524.8h0M118 456h0M122.1 560h0M121.4 478.8h0M114.6 563.7h0M118.3 566.7h0M114.4 459.9h0M110.1 525.7h0M116.8 572.9h0M119.1 523.9h0M104.7 479.8h0M96.1 497h0M115.1 552.4h0M118.3 575.5h0M115.9 548.3h0M109.3 468.2h0M110.8 489.6h0M110.7 521.4h0M103.2 500.6h0M103.2 500.6h0M119.3 536.6h0M121.3 546.9h0M112.7 504.1h0M116.4 493.1h0M122.8 570.6h0M104.2 509.8h0M104.7 476.6h0M121.9 448.2h0M109.2 491.7h0M98.9 463.8h0M93 494.6h0M113.5 486.6h0M99.2 463.7h0M111.9 449.6h0M112 516.7h0M116.3 568.9h0M110.1 560.7h0M110.8 465h0M119.3 508.6h0M122.8 524.4h0M116.4 450h0M122.4 452.8h0M115.8 526h0M118.4 473.6h0M118.4 478.3h0M119.1 576h0M117.2 521.4h0M121.8 557.4h0M104.7 544.1h0M100 495.9h0M107.7 531.6h0M113.1 529.7h0M110.3 467h0M121.6 562.8h0M113.8 557.1h0M110.5 519.7h0M106.9 522.4h0M117.7 570.7h0M119.3 575.2h0M120.3 536.6h0M101.1 466.7h0M116.3 488.6h0M123 459.6h0M123.1 537.4h0M109.7 509.3h0M115.1 514.1h0M112.8 559.1h0M108.2 471.4h0M122.5 553.5h0M115.3 499.1h0M119.1 530.1h0M119.5 486.6h0M121 549.1h0M121.1 565.6h0M115 529.5h0M120.6 553.9h0M112.7 529h0M103.9 478.6h0M109 494.2h0M121.5 461.5h0M111.1 448.1h0M108.2 478.7h0M115 540.1h0M121 461.6h0M119.8 502.4h0M112.8 453.3h0M119.1 474.7h0M103.6 474.5h0M121.8 499.9h0M112.1 450.2h0M117.3 533.3h0M104.1 482h0M88.5 446.7h0M118.6 520.9h0M120.4 547.7h0M111.2 473.3h0M119.1 571.3h0M121.6 478.2h0M116.2 450.1h0M117.4 467.4h0M103.3 504.4h0M118.7 551.2h0M115.2 504.6h0M107.8 471.2h0M111.1 482.7h0M112.3 506h0M97.8 462.2h0M100.7 483.9h0M107.3 476.4h0M117.7 476.7h0M106 472.4h0M113.2 558.7h0M122.3 507h0M116.8 551.9h0M115 481.6h0M110.3 548.9h0M119.2 562.3h0M110.3 500.1h0M102.4 455.3h0M107.3 511.7h0M122.3 478.8h0M112.5 475.3h0M119.5 538h0M121 541.8h0M98.5 451.5h0M118.7 458.1h0M122.2 516.9h0M112.2 534.3h0M122.4 562.5h0M115.9 569.1h0M102.6 487.7h0M120.6 539.7h0M113.1 559.2h0M102.1 444.5h0M119.4 555.5h0M123 483.1h0M103.4 498.2h0M123.1 509.6h0M120.4 562.1h0M121.3 570.1h0M90.5 480.5h0M117.2 541.8h0M120.3 515.2h0M106.5 472.4h0M116.6 514.7h0M109.7 462.7h0M108.3 492.7h0M121.5 499.4h0M115.6 562.2h0M121.9 488.9h0M123.1 524h0M112.4 552.7h0M98.4 488.1h0M117.2 570.8h0M87.9 444.7h0M108.8 457.8h0M105.3 500h0M109.4 515.8h0M102.9 474.4h0M106.5 478.3h0M122.4 518h0M121.3 552.7h0M111.3 515.8h0M102.7 453.4h0M114.2 573.3h0M99.1 459.1h0M108.4 535.4h0M109.6 469.9h0M105 445h0M121.3 449.2h0M116 462.1h0M112.3 522.2h0M119.6 520.7h0M121.7 539.5h0M113.9 568.4h0M119.7 519.4h0M112.6 547h0M110.3 488.8h0M113.5 576.5h0M109 514.1h0M99.6 481.2h0M122.3 448.5h0M94.8 482h0M115.9 560.7h0M120.5 517.6h0M121.4 456.1h0M120.2 501.1h0M109.9 505.3h0M88.4 473.7h0M101.7 461.5h0M109.5 502.2h0M119.9 565.3h0M115.2 575.8h0M108.7 552.5h0M110.9 554.4h0M113.5 507.8h0M117.2 453h0M112.4 455.9h0M115.2 461.4h0M98.2 461.1h0M110.9 451.8h0M115 510.2h0M118.9 552.7h0M117.2 491.5h0M100.1 475.2h0M122.9 548.7h0M108.9 528.3h0M118 519.4h0M114 515.9h0M114.8 521.8h0M116.6 561.9h0M99.8 493.8h0M120.4 564.6h0M110.9 552.7h0M110 497.5h0M119.2 556.9h0M119.7 539.2h0M110.2 569.7h0M115.4 508.8h0M122.9 527.2h0M119.6 538.5h0M122.4 543.8h0M113.5 546.3h0M121.7 517.5h0M115.7 562.5h0M110.9 532.4h0M122.1 557.6h0M98.2 470.6h0M100.6 458.2h0M118.5 569.8h0M107.5 549.7h0M110.2 487.1h0M109 450h0M118.6 444.3h0M119.1 455.7h0M112.1 514.2h0M103.6 473.9h0M120.1 515.6h0M107.7 512.2h0M121.3 565.3h0M112.6 480.7h0M114.8 572.7h0M114.2 564.6h0M122 534.2h0M111.1 444.5h0M112.2 453.1h0M112.2 458.4h0M116.9 567.6h0M111.2 524.7h0M122 504.2h0M115.7 547.7h0M115.1 484.6h0M123.1 549.4h0M115.4 476.4h0M109.1 541.7h0M115.4 529.5h0M122 504.5h0M122.3 462.1h0M114 546.6h0M113 476.2h0M123.1 510.3h0M114.3 565.1h0M108.3 492h0M119.8 530.6h0M119.8 457.9h0M122.8 531.2h0M114.6 565h0M110.2 531.3h0M119.2 492h0M116 549.7h0M118.3 553.3h0M122.1 563.6h0M114.4 486.5h0M122.8 481.3h0M122 537.3h0M121.2 539.9h0M119.6 496.2h0M116.4 548.6h0M114.1 529.5h0M118.8 448.8h0M93.5 460.8h0M109.6 466h0M119.7 481.2h0M109.2 524.7h0M108.8 477.2h0M122 453.6h0M115.9 570.8h0M85.4 458.4h0M113.9 490.3h0M120.6 517.1h0M123.1 570.3h0M122.8 555.1h0M117.1 487.8h0M99.3 463.4h0M117.9 482.5h0M122.1 561.9h0M104.2 448.6h0M113 478.5h0M110.5 481.3h0M100.7 451.7h0M116.3 543.2h0M112.4 560.7h0M122 560h0M110.1 449.7h0M105.4 509.5h0M112.9 563h0M121.7 561.1h0M120.6 554.6h0M104.5 486h0M120.8 567.2h0M117.2 518.4h0M115.1 565.5h0M104.3 479.6h0M112.3 559.9h0M96.2 453.4h0M118.9 524h0M123 531.8h0M106.6 456.3h0M109.4 535.7h0M119 444.9h0M118.7 533.8h0M116 573h0M121.9 476.2h0M122.6 569.1h0M116.8 519.2h0M114.8 568.7h0M99.2 474.8h0M96.7 459.5h0M118.5 477.8h0M117.4 567.8h0M118.3 504.3h0M116.2 515.3h0M116.7 487.1h0M117 514.4h0M101.9 470.7h0M123.1 491.5h0M101.1 495.6h0M111.6 524.2h0M122.4 513.1h0M116.9 463.2h0M101.5 452.1h0M118.6 559.6h0M117.5 502.1h0M104.9 444.7h0M112.3 457.4h0M116.4 513.8h0M121.4 525.2h0M114.7 456.9h0M121.4 567.1h0M114.3 487.8h0M98.6 476.1h0M109.7 537.1h0M110.6 460.9h0M111.6 487.9h0M114 567.9h0M105.5 485.8h0M122.3 546h0M119.2 474.3h0M118.3 447h0M110.7 550.4h0M104.8 515.1h0M118.8 566.1h0M112.8 556.3h0M95.7 494h0M123 576h0M109.7 520.1h0M93.2 444.3h0M117 566.3h0M95.1 478.5h0M122.5 570.3h0M118.7 508.7h0M117.4 554.6h0M107 468.8h0M114.1 482.9h0M109.3 463.1h0M113 502.1h0M114.8 441.6h0M115.3 470.3h0M118.6 506.6h0M115.9 560.6h0M106.5 505.2h0M102.5 472.7h0M113.5 482.2h0M115 467.1h0M97.6 516h0M109.8 504.1h0M117.6 447.2h0M110.7 461.3h0M121.4 526.4h0M120.4 574.3h0M112.7 516.9h0M122.7 527.9h0M118.6 564.3h0M102.4 497.6h0M104.6 449.8h0M114.3 570.2h0M122.9 495.5h0M117.9 546.7h0M122.3 537.9h0M121.5 561.2h0M122.7 570.4h0M115 460.3h0M116.2 548.2h0M116.5 542h0M118 539h0M110.6 515.9h0M104 504.6h0M114.8 468h0M106.8 476h0M111.6 473.1h0M116.7 552h0M116.4 566.9h0M115.2 544.3h0M108 486.9h0M122 454.9h0M122.8 564.9h0M100.3 467.5h0M109.7 473.3h0M114 542.2h0M118.4 550.8h0M112 496.5h0M113.1 511h0M116.1 476.3h0M115.1 523.1h0M114 546.9h0M110.6 441h0M99.7 474.8h0M107.2 482h0M113.5 570h0M108.1 561.8h0M110.3 532.9h0M98.3 462.2h0M112.2 447.7h0M112 550.9h0M118.9 528.1h0M100.7 483.3h0M117.5 561.3h0M115 534.6h0M117.5 561.5h0M105 549.6h0M111.4 547.7h0M115 473.7h0M109.7 469.4h0M101.4 484.6h0M111.4 526.3h0M113.7 542.3h0M122.4 560h0M112.5 477.6h0M103.6 479.9h0M96.3 473.8h0M119.3 517.3h0M105.9 477.7h0M122.4 572.3h0M121.7 469.3h0M109.7 530.8h0M99.2 452.7h0M89 467.8h0M110 525.5h0M121.1 511.9h0M111 560.3h0M106.3 518.3h0M120.5 552h0M122.7 535.2h0M120.9 553h0M107 486.9h0M107.6 497.3h0M116.9 560.5h0M113 470.7h0M110.2 462.7h0M112.4 490.9h0M96.1 468.5h0M94.9 445.9h0M107.8 471.1h0M107.7 489h0M92 472.6h0M99 474.8h0M111 499.6h0M102.1 478.4h0M122.7 519.1h0M87.5 451.1h0M114.8 553.9h0M110.2 513.2h0M110.1 536.4h0M123 487h0M100.6 522.2h0M108.8 466.4h0M123 527.3h0M121.5 448.4h0M110.7 513.1h0M105.9 473.8h0M108.2 531.6h0M122.7 500h0M106.7 511.3h0M121.3 470.3h0M121.1 514h0M116.2 561.4h0M119 563h0M118.2 515.9h0M97.5 448.6h0M114 483.5h0M122.9 559h0M122.2 479.5h0M118.1 549.8h0M106.8 457.3h0M111 504.4h0M120.6 499.6h0M109.9 558.8h0M93.7 450.8h0M115.9 544h0M119.7 506h0M113.8 499.4h0M98.6 495.9h0M113.3 504.7h0M115.2 468.6h0M120.8 571.6h0M114.6 565.2h0M116.6 496.1h0M98.1 464.2h0M119.2 576.6h0M112.9 485.3h0M121.9 469.9h0M120.9 474.1h0M119 477.2h0M117 561h0M118 566.8h0M101.9 495.9h0M100.5 495.8h0M100.4 467.2h0M108.3 525.8h0M113.2 489.7h0M116.8 478.9h0M92.7 492.9h0M104.9 466.2h0M106.9 510.1h0M115.5 571.8h0M96.6 470.7h0M119 496.8h0M93.9 476.8h0M118 457.4h0M105.8 460.5h0M111 505.5h0M121 571.5h0M114.1 544.9h0M121.6 545.6h0M115.9 533.3h0M117.5 496.4h0M121.7 576.5h0M113.7 555.7h0M118 575.2h0M118.3 483.3h0M108.7 481.7h0M108.3 470.2h0M102.7 514.5h0M118.3 490h0M121.8 482.7h0M122.5 563.1h0M118 563.7h0M119.7 559.5h0M119.5 481.2h0M115.1 575.1h0M119.5 497.8h0M119.2 566.3h0M120.2 572.3h0M118.8 511h0M113.3 477.5h0M107 517.5h0M117.7 482.1h0M120.1 454.2h0M122.4 535.6h0M122.7 570.9h0M101.3 515.5h0M114.8 542.9h0M123.1 548.5h0M120.6 499.8h0M122.9 466.1h0M121.7 522.2h0M104.3 527.5h0M116.8 560.8h0M116.9 543.1h0M95.1 444.4h0M115.3 562h0M111.4 460.3h0M120.5 569.3h0M118.8 574.3h0M105.2 491.4h0M110.6 558.5h0M105.5 462.6h0M101.2 470h0M122.4 530.8h0M113.6 446.5h0M120.4 569.1h0M112.2 444.5h0M110.9 561.6h0M120.5 454.6h0M114.7 488.2h0M115.9 518.4h0M121.9 576.8h0M121.1 555.3h0M119.7 535.1h0M120.5 574.2h0M115.8 568.6h0M118 546.9h0M104.8 461.4h0M102.9 479.2h0M112.4 490.3h0M118.4 521.6h0M117 560h0M116.5 540.4h0M108.6 522.7h0M108.1 511.3h0M113.5 553.7h0M114.7 486.1h0M120.3 539.6h0M107.5 519.4h0M111.4 507.8h0M115.4 516.3h0M122.3 467.2h0M113 506.4h0M122.8 519.5h0M122.8 526.8h0M109.5 549h0M95.2 447.7h0M122.2 459.1h0M99.5 519.4h0M106.1 542.3h0M113.8 519.2h0M109.7 516.3h0M104.7 500.8h0M118.4 571.1h0M122.3 464h0M114.3 569.7h0M121.9 573.5h0M88.1 468.6h0M110.1 469.2h0M121.8 555.1h0M117.1 536h0M111.7 552.3h0M120.5 519.3h0M122.7 526.8h0M113.8 532.9h0M119.3 571.4h0M121.4 498.7h0M101.3 526.2h0M108.3 506.8h0M118.2 480.1h0M117.4 572.2h0M104.5 477.1h0M121.8 506.6h0M122.7 501h0M103.5 448.8h0M101.4 475.5h0M116.9 505.3h0M122.7 568.8h0M122.7 474.2h0M121.2 480.4h0M117.8 520.8h0M120.6 524.2h0M112 555.6h0M109.1 533.3h0M119.8 469.1h0M113.8 507.7h0M109.7 496.1h0M120.7 542h0M120.4 553.9h0M94.5 500.7h0M95.2 469.1h0M122.9 550.8h0M122.8 571.8h0M92.8 464.8h0M121.5 513.5h0M122.6 471.9h0M119.7 503.6h0M118.3 506.1h0M112.7 541.4h0M112.8 474.6h0M122.5 566.4h0M118.4 463.4h0M113.5 555.7h0M116.5 508.1h0M122 565.2h0M122 456.7h0M120.3 488.3h0M110.7 561.1h0M97.5 462.7h0M111.6 490.7h0M122.9 540.9h0M116.9 473.8h0M122.3 491.8h0M114.5 455.7h0M122.6 552h0M112.7 456.9h0M123 511.8h0M121.3 558.1h0M103.2 495.5h0M122.4 499.8h0M92.5 464.5h0M118 561.6h0M104.3 515.4h0M110.6 532.2h0M112.9 494.1h0M113.4 475.7h0M111.3 543.2h0M105.4 488.2h0M108.3 485.5h0M115.5 506.1h0M96 449.4h0M116.5 449.8h0M108 507.5h0M115.8 559.2h0M114 544.9h0M121.6 510.2h0M114.5 524.5h0M121.6 562.2h0M103.8 499.3h0M117.9 552.5h0M119.6 493.2h0M123.1 550.6h0M111.2 483.3h0M99.7 484.2h0M121.7 567.6h0M122.6 448.6h0M107.9 534.8h0M93.3 442.5h0M118.2 566.3h0M106 514.8h0M121.4 520.3h0M118.7 449.2h0M108.6 445.2h0M102.3 487.7h0M113.7 449.5h0M121.2 559h0M119.6 553.5h0M111.4 556.7h0M113.5 478.6h0M113.8 567.2h0M115.7 558.8h0M101.1 484h0M122.7 566.4h0M116.8 459.1h0M119.3 539.8h0M118.1 506.4h0M106.7 461.5h0M105.3 511.9h0M110.1 493.9h0M103.9 487.8h0M115.8 529.1h0M102.2 445.3h0M103.7 486.2h0M107 523.3h0M118.9 445.4h0M110.3 545.6h0M113.7 572.8h0M106.1 506.4h0M121.4 526.1h0M120.5 469.8h0M101.5 488.6h0M113.5 484h0M106.4 524.4h0M91.3 460.1h0M120.7 558.6h0M118.9 573.4h0M117.8 527.4h0M105.7 520.4h0M115.9 503.3h0M117.5 541.5h0M113.2 445.2h0M113.8 470.6h0M122 552.5h0M115.8 541.7h0M98 480.7h0M106.4 455.4h0M110.4 509.4h0M118.6 524.3h0M108.5 477.2h0M118.6 500.1h0M120.8 468.8h0M110 476.8h0M117.8 449.8h0M108.3 444.9h0M121.9 495.6h0M111.7 564.3h0M103.8 514.1h0M104.7 476.8h0M117.8 485.9h0M121.8 470.6h0M100.3 464.1h0M119.5 487h0M113.8 542.5h0M107.2 462.6h0M115 525.1h0M101.4 514.9h0M96.3 451.9h0M114.7 457.9h0M123.1 554.3h0M119.4 520.8h0M108.9 498.3h0M113.6 569.9h0M113.7 565.5h0M115.5 560.8h0M113.2 473.8h0M117.4 493.6h0M117.1 454.7h0M116.2 512.6h0M112.9 555h0M110.7 552.4h0M115.9 486.8h0M101.2 518.5h0M108.3 452.8h0M120 577.3h0M122.2 570.7h0M115.9 567.7h0M104.2 504h0M121.5 511.5h0M122.2 462.1h0M93.6 499.9h0M120 547.8h0M121.1 442.2h0M118.3 512.6h0M112 569.9h0M111.8 555h0M114.8 516.5h0M105.9 513.8h0M117.9 558.3h0M112.7 444.9h0M118.3 510.2h0M108.4 534.3h0M102.5 493.6h0M104.4 466.7h0M113.6 561.7h0M121.7 549h0M112.9 500.6h0M113.5 533.2h0M112 524.4h0M112.3 490.9h0M114.9 559.7h0M122.8 571.6h0M121.9 508.4h0M122.8 563.7h0M112.4 559.5h0M108.9 519.5h0M111.7 466.4h0M115.4 547.9h0M121.5 519.2h0M112.2 571.1h0M101 484.5h0M121.7 450h0M117.4 542.3h0M101.4 489.2h0M120.2 495.4h0M114.1 532.5h0M109.3 537.2h0M122.7 517.5h0M115.3 517.6h0M121.4 563h0M108.4 520.3h0M116.7 564.9h0M117.3 470.1h0M91.9 489.3h0M123 532h0M111.4 536.3h0M111.5 459.1h0M103.7 469.5h0M115 488.8h0M114.3 550.5h0M111.8 497.4h0M117.1 505.1h0M117.9 521h0M118.6 556.4h0M107.1 446.3h0M120.8 480.1h0M111 483.2h0M104.9 488.4h0M115.2 555.1h0M123.1 544h0M119 516.3h0M121.6 561.1h0M123.1 488.2h0M118.2 510.3h0M121.3 547.7h0M98 491.6h0M92.4 493.5h0M121.7 521.5h0M107.8 476.5h0M123.1 464.2h0M105.3 519.1h0M114.7 571.2h0M113.8 444.9h0M111.2 460.2h0M121.3 571.1h0M113 535h0M108.6 564.4h0M111.2 555.2h0M107.5 528.6h0M120.8 529.4h0M120.2 530.7h0M103.5 491.5h0M111.2 446.5h0M113.3 513.3h0M113.7 549.4h0M109.8 475.2h0M115.9 466.3h0M106.6 497.1h0M117.8 526.9h0M122 550.1h0M93.7 457.4h0M111.8 541.7h0M117.2 559.9h0M111.6 533.1h0M101.2 482.4h0M119.5 551.4h0M113.2 513.6h0M104.4 457.1h0M122.7 445.2h0M121.3 575.6h0M105.5 513.4h0M86.9 454h0M107.8 443.4h0M115.6 507.9h0M99.5 476.8h0M116.9 574.9h0M116.7 445.9h0M112.8 506.2h0M117.4 533.8h0M98.2 477.5h0M115.3 499h0M121.7 503h0M119.9 576.1h0M113.4 513.6h0M94 476.7h0M119.3 569.1h0M111.6 554.9h0M109.5 443.5h0M120.1 536.3h0M114.6 570.3h0M116.1 481.1h0M116 457.4h0M118.1 555.2h0M111.3 526.5h0M111.9 488.4h0M108.9 560.7h0M119.3 538h0M116.2 541.4h0M85.6 460h0M117.4 529.7h0M104.9 483.8h0M114.4 560.6h0M89.3 444.1h0M93.7 462.2h0M118.7 492.5h0M108.1 532.3h0M113.8 452.7h0M110.9 543.2h0M115.3 517.6h0M102.3 481.6h0M120.1 471.2h0M123 449.6h0M100.8 455.4h0M103.9 491.6h0M111.6 548h0M121.1 518.8h0M92.9 473.4h0M119 553.7h0M95.9 502.1h0M119.9 486.2h0M94 442.9h0M121.5 478.2h0M111.4 443.8h0M107.3 499h0M118.2 559h0M113.8 508.5h0M122.9 496.7h0M92.1 478.7h0M113.5 519h0M105.2 525.2h0M112.2 539.4h0M99.9 479.6h0M115 547.2h0M111.6 565.1h0M97.9 475.9h0M92.3 442.4h0M112.8 529.7h0M101.7 453.3h0M100.6 490.3h0M116.7 555.4h0M114.1 566.1h0M110.2 549.4h0M115.8 499.9h0M118 459h0M119.1 549.2h0M109.4 534.5h0M122.2 512.3h0M120.1 456.8h0M116.1 560.9h0M110.5 554.6h0M119.5 561.3h0M107.1 557.2h0M117.7 520h0M110.3 495.2h0M119.9 541.1h0M113.7 493.7h0M122.6 571.7h0M119 518.8h0M100.5 478.8h0M118.7 571.7h0M117 570.1h0M121.1 504.9h0M92.6 462.3h0M102.1 537.1h0M121.2 559.1h0M104.8 452.8h0M102.5 491.2h0M92.1 453.7h0M121.8 548h0M113.6 543.4h0M95.7 459.1h0M101.8 491.8h0M114.7 461.7h0M123.1 445.8h0M110.3 500.4h0M82.8 449.1h0M105.9 497.5h0M110.5 572.1h0M121.1 563.1h0M118.7 571.2h0M104.5 444.8h0M121.9 524.2h0M103.8 507.3h0M117.7 547.8h0M115.3 451.8h0M111.4 542h0M109.2 513.4h0M104.1 467.4h0M118 518.9h0M118 443.9h0M118.9 532.7h0M111.1 554.2h0M123 565.9h0M120.7 463.9h0M111.1 524.3h0M108.7 443.4h0M108 471.4h0M112.6 529.4h0M101.7 491.1h0M115.9 475.1h0M122.4 509.6h0M105 484.8h0M121.8 441.8h0M104.5 508.1h0M119 524.4h0M121.6 536.5h0M101.2 470.7h0M119.5 485.4h0M117.8 548.2h0M120.7 517.1h0M108.6 477.5h0M120.8 573.1h0M110.2 542.2h0M120.9 511.9h0M104.2 464.1h0M102.7 457.9h0M109.4 453.8h0M119.2 488.2h0M88.4 456.4h0M118.6 568.6h0M118.8 489h0M100 476.7h0M103.3 528.7h0M117.1 571.6h0M109.9 517h0M110.5 490.9h0M108.5 487.9h0M121.3 536.8h0M117.5 560.9h0M104.4 460.1h0M113.9 534.9h0M101.5 485.7h0M101.2 477.7h0M109.2 568.3h0M120.8 464.4h0M121 488.4h0M123 447.6h0M108.7 487.2h0M100.4 487.6h0M103.7 462.7h0M112.4 571.9h0M106.8 521.7h0M121.6 527.4h0M102.1 455.9h0M114.3 573.9h0M114.1 547.8h0M123.1 453.7h0M119.4 507.6h0M118.1 491.9h0M113.9 536.6h0M122.9 489.9h0M117.7 549.7h0M104.9 489.1h0M119.3 554.3h0M109.7 527.1h0M92.4 479.9h0M122.2 532h0M112.5 474.4h0M94.9 451.7h0M113 562.1h0M119.1 569.8h0M111.3 516.2h0M104.4 445.3h0M114.9 569.6h0M122.5 446.6h0M116.8 445h0M122.4 473h0M117.3 547h0M115.7 449.1h0M106.9 450.8h0M119.8 474.4h0M97.9 460h0M121.8 532.3h0M102.6 460.6h0M118.9 491.4h0M105.2 476.9h0M121.2 539.9h0M105.8 532.7h0M122.8 481.6h0M111.3 493.7h0M112.1 511h0M114.3 464.4h0M117.6 525.1h0M106.7 475.2h0M116.1 530.2h0M116.2 555.8h0M111.4 499h0M109.3 534.7h0M120 527.7h0M119.7 515.2h0M119.8 470h0M122.6 523.3h0M108.7 517.4h0M121.9 522.1h0M114.4 444.9h0M120.3 509h0M114.7 526.9h0M120.8 565.4h0M119.3 446.2h0M103.5 541.5h0M121.1 546.8h0M104.2 508.6h0M107.1 483h0M118.1 508.1h0M120.9 531.3h0M118.2 566.6h0M119 475.1h0M116.5 536.2h0M109.5 539.9h0M122.5 569h0M118.1 560.7h0M115.1 453.4h0M122 541.1h0M114.8 566h0M103.6 495h0M120.6 473.2h0M102.5 464.4h0M108.8 446.9h0M113.8 449.7h0M115 491.1h0M117.6 508.2h0M91.8 475.6h0" stroke="#5b70db" stroke-width="1.5" stroke-linecap="round" fill="none"/>
<path d="M138.8 497h0M143.4 536.6h0M146.9 483.6h0M145.8 497.3h0M148.2 509.3h0M140.2 521.6h0M150.7 464.9h0M145.3 489.1h0M146.3 562.8h0M145.4 550.2h0M141 554.4h0M153.8 474.2h0M142.3 443.8h0M140.1 494.9h0M158.1 452.1h0M155.4 444.7h0M152.2 452.2h0M144.7 471.5h0M141.7 547.3h0M139.8 476.3h0M146.5 552.8h0M148.2 478.2h0M139.7 456.7h0M138.5 443.6h0M149.1 467.2h0M142.9 516.4h0M138.5 524.8h0M145.7 444.4h0M158.3 464.9h0M147.3 522.2h0M151.4 471.5h0M148.9 541h0M155.6 447.4h0M149.2 478.1h0M151.7 446.3h0M140.6 489.5h0M144.7 458h0M141.5 546.5h0M140.8 495.7h0M142.6 549.6h0M141.9 553.5h0M143.7 492.2h0M140.9 536.9h0M141.5 509.8h0M138.9 527.8h0M144.5 560.6h0M142.4 547.5h0M143.4 499.1h0M139.4 549.1h0M148 509.3h0M141.5 507.3h0M142.2 572.6h0M150.7 467.7h0M141.1 479.5h0M151.2 465.6h0M140.4 464.2h0M140.4 548.1h0M139.1 541.7h0M143.5 543.3h0M139.2 556.7h0M148.9 514.4h0M145 515.2h0M141 521.7h0M144.6 576.8h0M139.7 459.2h0M146.8 546.4h0M145.8 455.6h0M145.2 523.7h0M141.7 560h0M139.2 517.6h0M143.8 537.8h0M147.3 513.7h0M141.5 576.6h0M149.5 497.9h0M140 518.7h0M146.8 446.7h0M139.5 568h0M145.1 556.6h0M138 464.6h0M142.7 517.3h0M140.5 445.6h0M142.4 556.7h0M145.7 445.3h0M139.8 534.6h0M144.4 485.5h0M138.2 445.1h0M148 476.2h0M145.5 507.6h0M147.7 445.1h0M139.9 557.4h0M140.3 457.7h0M138.4 516.5h0M146.3 455h0M142.5 536.7h0M153.1 477.7h0M142.5 443.1h0M141.2 522.2h0M148.2 510.3h0M138.9 530.6h0M154.2 494.5h0M138.2 490.1h0M143.8 550.3h0M140.1 554.5h0M144.7 451.2h0M152 506.4h0M138.1 561.6h0M141.9 548h0M146.4 574.4h0M152.5 462.9h0M144.9 554.3h0M143.3 561h0M146.2 469.8h0M147.1 444.3h0M144.4 574.6h0M150.2 483.1h0M144 508.3h0M150.1 444.2h0M140.8 563.4h0M152.2 497.8h0M142.5 545.9h0M141 464.4h0M144.6 474.3h0M144.9 491h0M140.5 518.6h0M142.1 515.3h0M138.4 511.9h0M145.5 479.2h0M149.6 525.5h0M150 483h0M147.4 470.3h0M145.8 480.4h0M138.2 524.7h0M145.6 526.3h0M148.1 448.5h0M141.1 507.4h0M145.5 504.7h0M151.7 466.6h0M142.5 528.9h0M144.2 455.6h0M141.6 500.7h0M141.3 501.3h0M138.1 535.1h0M144.8 514.4h0M138.2 529.3h0M150.1 462.6h0M150.8 473.5h0M143.9 567.8h0M147 540.3h0M137.9 526.3h0M144.7 544.9h0M148.1 489.1h0M138.5 476.2h0M142.4 530.7h0M150 446.8h0M152 451.3h0M147 528.2h0M139.7 490.6h0M146 498.1h0M138.2 446.9h0M141.3 566.8h0M143.6 568.8h0M146.8 503.5h0M155 450h0M140.8 530h0M141.4 486.8h0M138 470.7h0M147.5 499.3h0M148.4 507.5h0M139.5 445.2h0M153 463.2h0M149.7 530.1h0M154.3 460.5h0M141.5 523.3h0M148 475h0M138 577.2h0M138.4 478h0M148.6 457.1h0M141.5 546.1h0M138.5 557.1h0M148 518.3h0M144.3 506.3h0M143.3 495.8h0M149.3 500.7h0M141.7 474.1h0M137.9 553.6h0M143.4 564.8h0M138.7 549.5h0M149.6 490.4h0M144.2 487.8h0M137.9 568.8h0M143.9 545h0M141.3 566.1h0M138.9 574.6h0M139.2 487.3h0M140.2 504h0M141.3 554.6h0M138.4 466.6h0M138.2 472.9h0M144 485.7h0M145.7 504.5h0M139.7 447h0M143.2 557.7h0M141.5 548.8h0M141.3 533.9h0M151.4 465.9h0M144.5 512.1h0M151.4 461.4h0M139.7 530.7h0M153 508.2h0M151.2 476.7h0M148.7 454h0M139.6 475.2h0M144.5 561.5h0M153.7 478.2h0M141.7 486.7h0M145.5 494.9h0M139.9 530h0M144.3 472.4h0M139.4 503.8h0M141.7 513.2h0M138.1 556.9h0M145.6 519.8h0M151.8 466h0M147.7 483.5h0M147.1 471.6h0M142.5 556.6h0M138.7 486.2h0M141.4 544.4h0M143.6 574.6h0M143.6 490.5h0M140.6 463.4h0M150 506.3h0M151.3 511.9h0M142.7 451.8h0M138.6 574.6h0M138.3 544.4h0M143.9 458.9h0M143.4 536.4h0M145.1 544.6h0M142.8 520.1h0M146.1 561.9h0M138.1 484.6h0M146.2 470.2h0M144.8 558.4h0M148.6 493h0M144.7 524.7h0M143.7 545h0M152.7 504.7h0M143.4 574.2h0M148.4 514.8h0M142.7 535.2h0M146.3 502.5h0M141.7 515.2h0M141.5 453.2h0M141.1 506.3h0M145.1 547.3h0M150.1 474.3h0M141.3 555.2h0M149.1 541.3h0M142.1 496.1h0M138.2 501.7h0M141.9 461.5h0M139.6 446.9h0M140.1 499.5h0M145.3 479.1h0M139.4 492.4h0M142.9 462.3h0M141.4 536.2h0M142.2 568.7h0M145.6 493.9h0M145.7 446.6h0M149.1 499.1h0M143.6 466.1h0M157.6 460.4h0M143.9 557.6h0M138.6 537.1h0M143.1 451.5h0M147.3 558h0M145.1 523.6h0M142.1 549.9h0M143.6 568.9h0M147.3 489.5h0M138.2 527.7h0M139.7 539.5h0M143.4 534.9h0M148.1 497.9h0M147.1 485.1h0M143.8 553h0M138.8 526.2h0M148.2 543.6h0M139.3 534h0M145.5 452.7h0M140.2 484.1h0M147.9 549.2h0M149.3 539.7h0M150.9 478h0M145.9 523.1h0M147.2 565.2h0M142.1 510.2h0M142 500.9h0M139.6 453.6h0M143.8 525.7h0M148.8 469.3h0M139.3 530.7h0M145.2 555.7h0M147.4 553.5h0M141.3 540.8h0M141.6 450.7h0M138.2 556.4h0M147.3 459.7h0M145.5 565h0M139.3 457.7h0M144.3 487.2h0M149.2 527.2h0M143.8 500.7h0M143.7 573.5h0M138.8 572.3h0M141.7 487.4h0M138.5 512.4h0M140.7 551.4h0M144.4 530.9h0M142.3 566.4h0M147.6 478.9h0M144.2 539.6h0M146.7 448.5h0M138.7 527.9h0M143.6 572.6h0M141.4 464h0M138 531.1h0M141 555.4h0M145.2 509.4h0M147.8 476h0M138.3 482h0M138.7 531.8h0M145.6 575.3h0M143.8 497.2h0M137.9 443.2h0M152.8 458.9h0M145 531.9h0M151 451.8h0M139.5 555.3h0M151.9 522.7h0M143 539.5h0M138.7 494.9h0M147.9 512.8h0M138.5 515.3h0M149.2 537.7h0M139.4 456h0M140.2 493.6h0M140.5 535.8h0M140.7 573.9h0M138.7 475.9h0M153.8 505.2h0M146.3 526.2h0M149.9 494.7h0M140.8 538.7h0M140.2 521.4h0M140.6 562.5h0M139.3 529.1h0M140.8 552.2h0M138.3 565.4h0M148.6 508.6h0M142.7 563.8h0M146.7 501.4h0M150.2 503.9h0M139.8 574.7h0M152.7 459.6h0M144.8 544.7h0M141.7 478.5h0M138.6 501.5h0M145 536.7h0M138.8 494h0M138.4 540.6h0M144.1 569.6h0M142 542.9h0M143.2 503.9h0M147.3 527h0M140.3 536h0M142.7 542.5h0M145.1 549.3h0M139.2 496.5h0M146.8 488.3h0M147.1 510.7h0M151.5 514.5h0M144.2 529.3h0M141.9 561.2h0M138 540.1h0M144.4 542.1h0M140 490h0M137.9 528.8h0M151.9 493h0M138.2 546.8h0M142 542.2h0M143.3 567.6h0M141.2 554h0M145.7 502.7h0M141.6 511h0M144.4 541.3h0M141.2 556.5h0M143.4 502h0M138.3 575.8h0M138.7 546.3h0M141.3 527.7h0M142 522.4h0M144.6 560.2h0M139.9 457.5h0M147.4 553.1h0M140.1 542.2h0M141.5 451.4h0M139.9 466.7h0M145.9 471.6h0M159.3 455.2h0M140.7 554.3h0M142.7 558.3h0M142.1 561h0M141.6 546.1h0M145.6 482.5h0M141.5 531.8h0M142.1 448.8h0M143.3 570.7h0M138.8 504.2h0M139.9 527.7h0M144.7 449.4h0M147.9 505.2h0M150 538.3h0M148.6 510.3h0M150.5 478h0M141.8 472.1h0M145.4 498.9h0M150.8 460.2h0M143.8 565.6h0M138 566.7h0M143.1 493.4h0M144.7 450.7h0M138.4 530.8h0M142.4 458.2h0M138.5 568.9h0M139 491.2h0M148 512.8h0M146.9 529.2h0M138.8 548.5h0M145.2 516.1h0M143.5 504.8h0M142.1 576.9h0M138.4 538.7h0M140.9 556h0M139.9 563.9h0M153.3 513.4h0M143.9 566.7h0M140.7 524.2h0M149.7 479.7h0M152.1 523.8h0M140.6 517.7h0M138.2 462.4h0M143.1 560.7h0M145.6 544.5h0M146.5 514.8h0M146.9 460.9h0M141.7 553.8h0M143.5 556h0M141.7 549.3h0M142.3 468.3h0M145.3 492.5h0M152.5 450.4h0M148 555.9h0M143 541.1h0M151.6 447.9h0M140.9 503.9h0M142.5 492.4h0M146.3 466.8h0M147.2 462.5h0M145.1 535.2h0M142.8 491.6h0M143.5 453h0M143.7 469.2h0M141.2 519.3h0M141 488.1h0M150 520.7h0M141.2 567.8h0M150 507.4h0M139.3 542.2h0M140.4 573.5h0M137.9 538.7h0M138.5 552.4h0M138.2 537.3h0M139.3 537.5h0M147.1 521.7h0M139.6 551.9h0M140.7 480.1h0M138 513.4h0M149.5 462.8h0M143.4 480.1h0M138.7 495.3h0M140.5 479.2h0M152.8 447h0M138.9 470.7h0M152.9 446h0M141.4 547.4h0M143.1 576.3h0M141.3 556.2h0M143.3 553.2h0M141.6 560.4h0M145 540.5h0M141.3 487.9h0M142.1 567.3h0M141.3 551.3h0M140.3 467.4h0M138.7 553.9h0M146.9 519.8h0M147.8 489.6h0M149.7 544.3h0M151.5 471.6h0M138.7 496.2h0M146.3 453.5h0M150.4 496.2h0M141.2 527.1h0M144.9 468.1h0M139.9 477.8h0M143.1 502.5h0M148.3 544.3h0M139.5 470h0M144.3 508.9h0M140.7 543h0M146.7 506.9h0M138.3 491.8h0M138.4 500.5h0M150.6 477.3h0M141 488.7h0M147.9 558.6h0M139.4 544.2h0M143.7 572h0M139.3 461.9h0M144.1 474.7h0M142 495.6h0M138.6 484.9h0M150.2 476.4h0M147.6 486.1h0M139.5 541.1h0M141.5 556.7h0M141.2 526.3h0M138.5 571.5h0M149.2 445h0M138.8 484.3h0M140.7 511.8h0M138.1 481.5h0M145 523h0M154.2 448.9h0M145.5 535.3h0M155.6 476.6h0M144 482.7h0M147.3 529.1h0M151 460.5h0M142.4 545.3h0M147.6 501.3h0M140.3 559.8h0M150.3 476.8h0M148.5 459.9h0M146.3 521.3h0M138.5 530.4h0M140 478.2h0M139.4 573.5h0M142.7 570h0M141.2 543.4h0M147.6 552.3h0M140.4 541.6h0M145.6 520.5h0M143.8 520.1h0M139.4 535h0M140.1 458.7h0M143.7 489.1h0M142.8 458.7h0M144.5 524.4h0M142.3 484.8h0M146.1 540.3h0M145.4 551.1h0M144.3 496.7h0M147.5 557.1h0M145.3 477.6h0M140.6 466.9h0M149.6 499.3h0M141.4 565.7h0M144.9 544.4h0M138.5 574.2h0M138.8 511.7h0M145.7 528.2h0M138.6 572.9h0M152.4 461.5h0M145.9 483.3h0M142 518.6h0M149.8 471.7h0M143.8 562.5h0M137.9 553h0M141.8 473.2h0M150.2 507.9h0M141.3 519.8h0M141.8 505.1h0M145.5 451.5h0M147.1 500.9h0M143.3 556.9h0M140.3 458.1h0M148.3 497.4h0M139 532.6h0M141.8 570.2h0M138.8 475h0M143 574.3h0M145.4 453h0M140.2 521.1h0M138.7 496.2h0M139.7 515.4h0M154.6 445.2h0M142 471.9h0M146.3 446.8h0M146.4 489.6h0M141.4 575.4h0M146.3 565.8h0M144.8 570.8h0M138.1 560.4h0M138.7 512.6h0M149.8 450h0M143.9 505.7h0M139.8 561.2h0M145.1 533.3h0M142.3 526.9h0M144.2 480h0M149.8 519.3h0M146.2 500.8h0M153.3 510.4h0M138.9 508.2h0M144.6 530.4h0M152 461.4h0M149.9 456.8h0M142 539.9h0M140.6 484h0M139.1 512.9h0M143 457.1h0M139.2 509.6h0M138.3 510.2h0M152.6 448.7h0M141 504h0M137.9 550.7h0M143 483.9h0M138.2 457.8h0M147.3 498.6h0M150.5 512.2h0M140.5 504.5h0M138.5 519.6h0M140.3 552.1h0M148.7 496.6h0M138.2 559.7h0M145.4 522.8h0M141.2 446.1h0M154.4 503.6h0M146.7 455.9h0M146.1 525.3h0M138 532.4h0M145.9 443.6h0M147.6 482.6h0M143.6 515.9h0M151.1 527h0M142 553.8h0M139.9 552.2h0M148.9 459.3h0M146.5 520.2h0M143.5 471.2h0M142.9 514.5h0M139 444h0M147.2 524h0M150.8 460.4h0M154.5 498.2h0M137.9 512.6h0M141.2 571.5h0M150.4 477.7h0M147.1 514.5h0M147.6 475.9h0M140.1 543.3h0M139.9 561.8h0M140.9 530.5h0M141.4 571.4h0M141.5 517.1h0M146.8 508.7h0M151.1 501.8h0M153.3 471h0M141.1 561.8h0M151.2 456.4h0M138.7 572.6h0M140.8 555h0M139.1 460.7h0M141.9 554.9h0M146.3 554.9h0M144.9 533.1h0M138 532.8h0M145.4 519.4h0M143.5 568.9h0M141.2 543.8h0M141.2 566.7h0M144.5 534.6h0M145 567.8h0M139.9 537.1h0M138 545.4h0M150.6 466.4h0M143.3 523.5h0M141.3 478.6h0M144.8 456.3h0M146.1 528.7h0M138.2 576.6h0M145.9 468.1h0M143.9 557.3h0M138.1 522.5h0M144.8 558.9h0M150.3 476h0M142.3 494.9h0M147.1 526.1h0M138.4 540.2h0M145.2 548.8h0M143 527.8h0M143.4 555.5h0M138 571.4h0M140.5 456.7h0M138.5 510.9h0M142.5 558.1h0M142.3 541.5h0M146.5 468.1h0M139 522.1h0M139.8 531.6h0M142.7 521.5h0M143.5 569.6h0M139.5 552.9h0M145.5 546.7h0M145.6 452.1h0M153.8 458.9h0M149.2 473.6h0M142.7 499.3h0M142.3 489.6h0M142.7 475h0M138.5 568h0M138 497.8h0M142.6 530.5h0M138.7 544.9h0M137.9 516.3h0M143 508.7h0M147.9 449.5h0M144.2 541.8h0M138.4 493.3h0M146.1 449.2h0M141.5 552.1h0M143 465.3h0M151.9 446.3h0M151 473h0M150.1 465.4h0M141.3 559.7h0M143.2 458.4h0M138.3 532.2h0M144.2 533.1h0M141.5 522.3h0M146.2 447.5h0M145.8 481.9h0M144.4 480.3h0M140.4 532.9h0M143.5 573.1h0M142 567.9h0M143 550h0M137.9 495.9h0M138.6 547.6h0M153 481.1h0M138.9 508.4h0M143.3 467.2h0M150.7 478.7h0M144.9 555.9h0M139.3 527.3h0M142.7 530.2h0M152.2 512.9h0M142.8 495.8h0M147.6 553h0M138.2 574.2h0M149.3 502.4h0M138.7 545.7h0M144.7 506.6h0M138.5 562.7h0M151 463.2h0M147.1 443.3h0M142.3 574h0M149.5 498h0M139.1 575.8h0M142.9 551.9h0M139 524h0M144.1 561.9h0M140.8 535.1h0M144.1 523.8h0M147.1 497h0M144.5 542.1h0M142.1 573.7h0M140.6 444.5h0M145.3 532.3h0M140.8 469.3h0M140.6 546.5h0M145.8 543.8h0M142.6 535.1h0M138.5 457h0M152.3 460.2h0M138.3 523.8h0M143.1 537.8h0M152.8 453.2h0M151.1 474.1h0M138.5 541.7h0M148.2 444.2h0M143.1 476.6h0M155.4 449.3h0M142.8 570.6h0M149.5 454.8h0M145.9 532.2h0M141.7 466.5h0M145.7 538.2h0M141.5 483.9h0M149.5 471.8h0M141.4 462.7h0M144 450.5h0M140.6 499.8h0M146.3 465.8h0M143.6 549.4h0M145.9 545.6h0M138.4 526.5h0M148.9 502.4h0M145.5 534.2h0M143.5 567.3h0M139.6 548h0M140.8 472.1h0M142 452.6h0M140.2 517.9h0M143.7 545.8h0M148.6 508.4h0M145.1 539.6h0M148.5 458.6h0M144 499.3h0M140.9 525.7h0M141.2 546.3h0M146.8 532.3h0M140.7 500.3h0M143.3 488.1h0M149.4 471.8h0M148.1 501.7h0M138.2 482.7h0M149.1 506h0M139.7 476.2h0M139.3 557.2h0M146.9 525.9h0M145.7 457.3h0M139.3 543.8h0M137.9 572.3h0M142 573.4h0M139.9 559h0M146.5 556.5h0M139 559.6h0M142.3 536h0M143.5 549.7h0M146.2 539h0M147.6 442.4h0M141.8 536.3h0M157.8 462.8h0M145.9 499.4h0M151.7 465.3h0M148 557.4h0M146.1 558.1h0M155.2 473h0M153.6 503.5h0M141.4 534.9h0M144.6 513.4h0M140.1 561.1h0M138.4 530.7h0M140.3 504.2h0M146.1 527.8h0M138.8 525.3h0M138.7 554.3h0M144.5 483.4h0M147.2 512.3h0M145.2 534.5h0M138.2 464.7h0M142.7 523.4h0M139.1 566.3h0M145 529.3h0M142.5 558.7h0M149.2 472.6h0M137.9 456.9h0M143.2 577.1h0M147.7 500.1h0M145.7 513.9h0M152 464.1h0M138.5 528.7h0M138.9 453.2h0M145.6 484.9h0M141.7 526.1h0M142.5 493.7h0M153.6 446.7h0M141.3 552h0M150.6 449.7h0M150.3 505.4h0M138.1 523h0M140.1 470h0M143.2 559.6h0M138.1 562.3h0M140.9 503.7h0M139.5 543.5h0M143.9 529.1h0M139.9 532h0M139.3 535.1h0M139.3 500.9h0M147 447.4h0M141.2 567.6h0M148.3 454.5h0M138.1 575.2h0M151.9 481.9h0M155.5 485.6h0M137.9 509.1h0M138 543h0M145.3 552.4h0M148.9 497.6h0M142.5 523.4h0M143.1 499.2h0M143.3 556.6h0M144.2 575.3h0M140.9 561.8h0M138.5 524h0M140.3 548.4h0M140.7 570.1h0M141.5 501.6h0M141.9 456h0M150.1 457.9h0M149.9 477.6h0M138.6 471.2h0M147.2 529.1h0M142.1 564.7h0M147.2 462.8h0M141.5 458.6h0M149.4 457.1h0M152.9 460.7h0M142 495.1h0M148.9 516.2h0M142.4 519.8h0M138.2 531.3h0M141 506h0M144.4 460.6h0M144.1 528.7h0M141.8 463.3h0M143.8 499.3h0M141.9 561.7h0M138.5 574.4h0M145.3 489.9h0M142.6 495.6h0M139.6 472.6h0M145.5 530.1h0M139.8 575.7h0M143.1 524.2h0M144.7 446.9h0M147.4 527.3h0M144.2 460.4h0M144.7 545h0M150.2 489.1h0M140.6 553.4h0M141.6 456h0M138.6 531.5h0M148.2 454.5h0M137.9 458.1h0M142.9 484.8h0M155.4 453.9h0M143 498.9h0M143.8 469.3h0M139.6 549.3h0M144.4 480.1h0M139.6 556.3h0M138.3 492.9h0M149.7 481.2h0M139 471.1h0M142.8 497.7h0M152.4 485h0M138.4 453.1h0M143.8 465.7h0M141.1 501.4h0M146.1 449.7h0M140.8 447.4h0M148.1 512.1h0M142.8 488.6h0M146.5 550h0M144.4 461.5h0M141.4 502h0M142.2 534.8h0M142.8 540.4h0M143 455.4h0M143.1 508.6h0M138 531.3h0M145.7 524h0M143.3 577.3h0M150.7 502.7h0M149.1 451.2h0M158.4 448h0M140.3 450.9h0M139.3 463.2h0M145.5 448.3h0M149 457.5h0M138.9 501h0M154.9 453.5h0M149.3 492h0M146.4 476.7h0M138.6 575.8h0M140 506.1h0M148.6 550.7h0M148.3 469.6h0M146.4 465h0M146.1 514.8h0M145.9 463.5h0M142.3 523.2h0M139 454.7h0M139 518h0M143.9 554.6h0M146.8 480h0M146.1 484.1h0M138.3 461.1h0M137.9 555.9h0M146.9 465.4h0M140.4 552.2h0M143 459.8h0M148.5 476.9h0M143.3 468.4h0M148.6 505.7h0M146.5 537.6h0M143.7 477.4h0M146.5 448.5h0M152.5 499.8h0M147.9 487.7h0M151.7 486.1h0M157.3 443.9h0M151.8 500.4h0M140.5 484.3h0M150.5 485.7h0M142.3 479.1h0M144.5 454.2h0M141.4 461.4h0M143.8 461.8h0M151.8 482h0M139.5 453.3h0M141.4 534.5h0M140.3 467.4h0M144.8 444.3h0M138.3 558h0M138.7 499.8h0M139.2 573.5h0M144.6 459.8h0M144.2 543.3h0M143.8 480.6h0M140.9 572.3h0M142.2 498h0M154.8 470.6h0M157 468.4h0M142.3 550.2h0M146.5 527.4h0M149.1 470.1h0M145.7 552.7h0M139.8 546.4h0M143.7 448.8h0M142.6 513.8h0M144.5 510.1h0M141.5 468.8h0M145.2 574.1h0M146.3 447.4h0M143 552.7h0M138.6 529.4h0M139 528.3h0M140.3 494.8h0M140.7 498.8h0M143 533.8h0M147.2 562.4h0M141.8 521.6h0M139.1 557.4h0M146.4 542.3h0M160 449.7h0M140.1 522.6h0M142.6 451.5h0M142.3 490.6h0M139.6 565.2h0M144.7 488.9h0M138.3 501.1h0M144.8 473.7h0M140.7 452.5h0M142.5 556h0M145.8 560.1h0M143.2 443.9h0M150.5 506.7h0M141.2 572.9h0M139.8 498.6h0M143.4 570h0M143.5 481.7h0M142.1 527.9h0M142 482.6h0M143.8 543.4h0M142.7 502.2h0M146.7 538.9h0M138 551.6h0M149.9 456.7h0M138 570.8h0M144.8 488h0M138.4 509.4h0M146.3 457.2h0M142.6 488.9h0M138.6 566.2h0M150.1 527.7h0M143.9 577.1h0M140.3 539.2h0M145.2 496.2h0M144.6 531.7h0M140.8 561.3h0M146.4 562.3h0M139.9 561.3h0M147.4 451.6h0M145.9 561h0M145.2 484.7h0M139.6 530.3h0M140.7 542.2h0M138.4 521h0M146.2 543h0M139.9 544.9h0M139.4 467.2h0M151 511h0M144.6 447.6h0M146.9 467h0M143.4 566.6h0M141.1 557.9h0M138.8 444.8h0M138.4 509h0M146.6 478.5h0M139.9 566.7h0M141.8 455.1h0M147.1 522.7h0M141.6 556.1h0M141.4 484.5h0M155.1 475.7h0M139.3 464.2h0M150.8 486.7h0M156.2 450h0M143.2 493.5h0M138.9 471.8h0M139.5 549.6h0M145.3 491.7h0M139.4 474.1h0M139.4 568.6h0M139.4 460.4h0M140 496.8h0M152.7 460.2h0M141.2 540h0M143.9 468.5h0M141.8 491.1h0M149.1 502.4h0M142.5 552.8h0M146.9 511.7h0M139.8 544.1h0M145.8 491.3h0M141.3 535.8h0M140.2 461.8h0M151.7 498.8h0M141.4 485.9h0M144.1 498.9h0M139.2 527.7h0M147.8 487.4h0M139.3 555.3h0M139.7 512.7h0M146.2 491.8h0M142.8 444.2h0M141.3 522h0M146.7 477.1h0M141.9 557.4h0M138.8 507.2h0M159.6 449.4h0M141.5 568.2h0M138.3 502.3h0M146.4 491.4h0M148.1 460.9h0M144.1 464.3h0M148 527.7h0M146.5 484.8h0M144.5 574.4h0M147.1 451.6h0M141.1 543h0M139.9 508.6h0M139.9 573h0M142.7 540.7h0M145.2 559.4h0M143.3 493.1h0M145.5 455.4h0M144.1 459.5h0M142.6 534.7h0M147.9 541.1h0M151.5 458.5h0M140.5 572.2h0M149.4 467.7h0M143.9 565.6h0M140.9 525.7h0M146 461.6h0M139.9 572.7h0M144.9 460.9h0M147.1 520.6h0M140.8 518h0M142.7 512.8h0M147 531.7h0M147.2 520.7h0M145.9 509.3h0M145.2 458.6h0M139.8 458.9h0M144.4 495h0M143.9 456.6h0M140.9 506.6h0M148 477.2h0M139.6 554.6h0M139.9 509.9h0M139.7 509.6h0M147.3 559.9h0M146.2 488.5h0M138.3 563h0M139.4 546.6h0M141.7 564.6h0M145.4 515.6h0M139.9 474.6h0M161.3 443.1h0M142.1 573.1h0M139.7 503.4h0M143.8 539.7h0M144.1 565.8h0M145.4 462.9h0M146.5 558.4h0M139.7 513.3h0M145.2 459.1h0M143.4 568.9h0M140 471.8h0M144.2 534.5h0M154.8 497h0M141.9 565.9h0M150 480.5h0M151.6 446.2h0M142 501.4h0M140.4 538.5h0M144 555.2h0M139 489.1h0M140.4 488.9h0M139.9 547.1h0M143.7 493h0M137.9 448.9h0M141.4 541.8h0M143.6 472.9h0M152.5 495.9h0M141.7 567.1h0M152 463.4h0M138.4 528.6h0M145.7 481.4h0M144 551.9h0M154.5 458.7h0M148.5 480.6h0M147.5 509h0M142.4 567.5h0M138.6 551.7h0M155.5 487.6h0M144.2 560.5h0M139.8 550.2h0M156 490.1h0M148.5 536.7h0M144.4 526.2h0M138.7 509.3h0M138 576.7h0M138.4 575.5h0M145.8 499.8h0M142 497.2h0M146.2 492.1h0M137.9 448.1h0M141.8 511.3h0M140 472.7h0M145.3 488.9h0M150.8 489.1h0M138.1 575.4h0M139.7 556.2h0M141.5 518.1h0M141.3 517.6h0M139.2 513.3h0M148.3 505.1h0M138.5 518h0M145.1 510.8h0M138.4 554.3h0M142.2 449.4h0M137.9 537.7h0M147.6 537.2h0M147.7 515h0M139.6 555.1h0M152.9 502.2h0M138.1 473h0M151.3 450.8h0M143.1 573.9h0M146.2 524.4h0M145.1 479.4h0M139.2 476.9h0M151.7 467.2h0M139.3 551.1h0M138.4 467h0M146.6 522.5h0M141.3 448.2h0M145.6 457.7h0M142.8 475.5h0M143.5 499.3h0M141.4 486.2h0M142.5 529h0M142.1 495.8h0M138.8 507.3h0M143.9 548h0M138.9 447.4h0M140.3 513h0M141.6 460.1h0M143.8 537.4h0M145.7 568.7h0M139.4 556.8h0M142.9 551.5h0M146.1 522.9h0M147.8 462.4h0M150.9 464.1h0M142.8 489.7h0M141.1 527.8h0M140.5 532.2h0M141.5 527.1h0M147 474.8h0M151 513.8h0M138.8 575.5h0M139.4 483.5h0M138.4 470.2h0M142.6 520.3h0M141.8 496.4h0M141.2 537.5h0M141.1 500.9h0M138.4 472.4h0M138.6 521.2h0M155.8 482.7h0M140.9 566.5h0M137.9 574.3h0M144.9 506.9h0M143.3 497.8h0M144.6 530h0M142.2 497.7h0M141 567.9h0M147.8 455.3h0M146 543.4h0M145.3 520h0M146.5 522.8h0M146.6 538.7h0M152.1 453h0M141.8 545.4h0M145.9 453.5h0M144.5 564.3h0M145.7 539.5h0M140.2 472.8h0M141.2 563.1h0M139.2 517.1h0M142.7 557.3h0M145.2 468.6h0M141.1 535.2h0M148.4 534h0M139.6 546h0M150.6 447.1h0M149.9 522.5h0M141.1 544.6h0M139.9 554h0M152.5 459h0M138.7 526.5h0M144 529.3h0M138.5 502.7h0M139.2 452h0M143.2 475.6h0M144.6 489.9h0M152.6 451.3h0M139.7 545.1h0M145.1 548.8h0M139.3 539.4h0M140 551.7h0M140.7 548.7h0M139.5 477.4h0M140.2 474.2h0M144.2 543.4h0M156 483.5h0M139.4 509.1h0M146.3 469.3h0M148.9 505.4h0M144.4 514.1h0M147.6 486.8h0M146.1 511.5h0M143.6 515.2h0M143.5 561.4h0M146.7 480.4h0M146.5 570.6h0M151.3 446.9h0M148.4 488.2h0M147.7 513.7h0M151.5 463.1h0M147.5 531.2h0M147.6 548.6h0M147.2 508.8h0M142.6 472.7h0M137.9 448.6h0M138.5 447.7h0M138.8 514.7h0M142.8 480.6h0M140.1 527h0M140.1 481.5h0M146 502.6h0M142.9 515.2h0M150.8 529.3h0M155.8 467.3h0M139 493.7h0M148.3 451h0M145.9 535.1h0M147.1 504.1h0M157.2 455.8h0M148.4 473.8h0M147 523.3h0M143.5 474.5h0M138.5 562.5h0M140.8 567.4h0M138.7 497.9h0M151.4 462.5h0M139.4 557h0M144.9 452.9h0M146.5 512h0M141.3 572h0M143.7 518.5h0M138.3 543.3h0M146.2 555.4h0M138.7 511.3h0M145.6 502.3h0M140.6 528.3h0M143.3 557.7h0M141.9 531.8h0M143.7 556.1h0M140.2 568h0M139.7 487.1h0M138.9 525.9h0M144.1 542h0M148.4 450.3h0M138.1 547.5h0M138 479.6h0M138.6 564.6h0M150.7 500.9h0M138.6 519.5h0M139 554.6h0M146.5 478.4h0M141 514h0M138.5 488.5h0M139.1 502.4h0M146.5 476.9h0M141.4 567.5h0M142.5 443.2h0M147.7 480.1h0M147.2 457.6h0M146.8 563.3h0M138.7 572.2h0M141.1 536h0M144 522.4h0M142.4 504.2h0M146.8 510.4h0M142.3 507.7h0M151.9 480.6h0M145.6 472h0M139.4 474.5h0M147.9 495.8h0M140.9 454h0M145.2 453.9h0M148.1 456.7h0M138 563.4h0M145.4 523.2h0M141.9 481.6h0M144.4 444.9h0M142.4 551.6h0M141.3 566.8h0M144.1 532h0M151.6 457.3h0M145.6 501h0M138.4 485h0M147.4 477.4h0M138.8 516.6h0M143.6 496.7h0M144.9 521.6h0M137.9 527.9h0M138.2 491.6h0M145.7 507.6h0M150.7 477.1h0M139.8 453.8h0M142 484.5h0M139.3 540.9h0M146.9 566.4h0M140 568.3h0M146.8 501.9h0M143.9 552.1h0M147.3 513.8h0M140.6 575.7h0M150.6 496.8h0M138.8 459.3h0M143.9 535h0M150.1 479.2h0M139.1 557.1h0M143.2 494.5h0M145.2 546.5h0M139 497.8h0M142.4 481h0M142 488.4h0M143.2 524.7h0M145.2 538.6h0M141.7 466.3h0M146 555.6h0M138.3 450.3h0M139.3 573.8h0M149.6 490.3h0M139.3 502.1h0M145.9 472.6h0M146.1 498.4h0M151.5 467.3h0M147.8 546.9h0M140.3 565.6h0M144.9 523.8h0M157 457.5h0M141.8 547.3h0M144.8 464.9h0M144.9 551.2h0M138.5 469.9h0M139.7 546.5h0M140.3 518.9h0M143.7 542.8h0M146.5 453.2h0M138.3 544.2h0M141.6 523.2h0M140.7 524.2h0M149.6 508.1h0M142.9 564.6h0M143.5 543.7h0M141.8 444.3h0M151.2 448h0M142.8 531.3h0M143.1 557.5h0M143.7 442.9h0M137.9 546.8h0M140 545.1h0M151 481.4h0M142.5 473.1h0M143.3 502h0M147.1 519.5h0M147.3 470.9h0M146 487.9h0M141.1 528.9h0M142 514.6h0M142.3 498.5h0M140.5 538.4h0M138.1 470.8h0M147.3 550.8h0M142.7 545.4h0M145.3 489.8h0M145.6 540.4h0M144.7 481.4h0M138.8 491.1h0M151 455.9h0M147.6 516.7h0M141.5 473.9h0M146.5 483.8h0M141 470.2h0M150.6 469.3h0M142.5 469.7h0M142.1 482.4h0M150.8 456h0M143 507.1h0M143.9 443.7h0M138 477.1h0M144.4 499.6h0M150.9 455.6h0M141.9 556.6h0M138.1 505.4h0M144.8 530.8h0M138.1 543.6h0M143.1 507.3h0M142.7 538.2h0M141.1 494.1h0M143.3 567.8h0M152.4 478.6h0M144.8 524.6h0M144.3 499.2h0M142.4 571.8h0M141.3 539.3h0M138.2 506.4h0M148.1 557h0M147.7 506.3h0M141.5 552h0M138.6 563h0M147.4 524h0M146.1 459.4h0M139.9 457.1h0M139.7 549.5h0M139.6 475.9h0M144.3 538.2h0M159 446.9h0M143.1 500.8h0M138.9 496.5h0M138 574.8h0M142.9 572.1h0M156.4 455.8h0M143.2 541.2h0M144 563.9h0M142.4 550.3h0M142.9 446.2h0M146.2 463.3h0M148.5 485h0M141.5 556.8h0M141.4 482.3h0M145.5 510.9h0M144.9 508.3h0M139.1 560.2h0M140.5 563.8h0M142.3 479.5h0M146.9 467h0M148.1 448.6h0M145.5 548.1h0M147.2 466.1h0M148.4 441.8h0M143.7 504h0M143 531.7h0M144.7 459.1h0M144.1 569h0M144.8 483.5h0M140.1 527.2h0M141.6 521h0M144.1 484.2h0M146.1 464.2h0M152.9 447.6h0M150.2 461.7h0M150.8 481.5h0M142.9 560.9h0M156.3 474.6h0M139 548.2h0M140.7 546.9h0M139.9 529.2h0M149.4 442.8h0M144.8 529.9h0M141.4 470.7h0M151.5 502.3h0M151.8 445.6h0M144.5 524.7h0M148.8 466.7h0M138.1 485.4h0M145.1 472.9h0M142.7 560.7h0M140.2 491.8h0M146.3 496.4h0M139.5 445.9h0M142.3 500.8h0M138.6 557.8h0M143.3 566.5h0M139.3 474.3h0M138.5 568.4h0M138.5 506.2h0M140 529.6h0M143.7 508.7h0M143.5 564.7h0M140.1 562.6h0M141 507.5h0M150.2 477.4h0M142.7 548.6h0M140.9 568.5h0M140.4 532.3h0M142.3 564.7h0M142.3 487.1h0M155.4 491.7h0M139.4 464.6h0M152.2 479h0M147.1 495.7h0M142.4 471.2h0M143.2 453.2h0M141.8 469.6h0M147.6 512.7h0M143.3 570.1h0M139.6 475.8h0M140.6 454.7h0M142.2 562.2h0M142.1 573.8h0M138.7 509.3h0M143.6 571.5h0M139.7 561.6h0M143.5 572.2h0M140 537.3h0M142.3 453.1h0M141.3 488.9h0M142.3 529.3h0M139.2 520.7h0M143 572.8h0M145.3 447.2h0M140.8 567h0M147.8 553.5h0M140.8 573.6h0M144.9 551.9h0M139.3 533.2h0M145.2 465.9h0M143.6 537.9h0M138.1 492.7h0M140 561.7h0M148.7 548.6h0M137.9 506.7h0M143.9 474.6h0M142.1 567.4h0M143.6 492.8h0M147.3 468.2h0M141.9 556.4h0M140.1 547.4h0M145.3 557.1h0M140.2 575.1h0M139.3 502.1h0M140.5 549.9h0M143.4 477.9h0M144.5 444.1h0M150.7 472.5h0M139.4 532.5h0M159.9 443.1h0M147.3 475h0M138.1 556.7h0M150.4 478.8h0M147.9 559.7h0M138.4 463.2h0M143 539.1h0M154.1 447.6h0M143.2 562.6h0M141.1 501.6h0M139.2 460.5h0M143.1 553.9h0M139.3 509.3h0M145.2 463.9h0M139.4 529.5h0M141.3 491.2h0M143.7 549.1h0M148.3 447.8h0M139.8 538h0M147 497.3h0M152.9 447h0M153.6 468.6h0M146.2 515.9h0M146.2 527.7h0M146.8 510.9h0M145.6 444.6h0M140.5 543.8h0M144.3 458.9h0M141.1 560h0M142.7 515.5h0M142.3 531h0M143.5 534.6h0M138.8 478.8h0M145.3 547h0M147.5 444.2h0M144 551.4h0M139.7 569.8h0M144.3 503.9h0M150.3 481.3h0M138.5 567.1h0M141.2 568.8h0M146 534.6h0M146 555.7h0M141.8 494.1h0M142.6 494.5h0M147.9 473.8h0M145.6 562.8h0M138.1 483.3h0M141.2 506.6h0M151.6 450.2h0M149.5 494.2h0M138 563.6h0M139.2 512h0M140.6 553.8h0M146.2 527.1h0M143 499.5h0M146.7 487.7h0M149.2 461.6h0M140.8 535.9h0M145.1 537.5h0M139.4 448.8h0M145.1 533h0M148.4 509.1h0M139.9 505.2h0M141.4 529.3h0M142.6 525.4h0M139.1 472.6h0M147.9 477.8h0M138.6 532.7h0M143.3 458.6h0M138.4 552h0M139.4 533.5h0M141.8 510.6h0M139.4 467.6h0M145.6 485.3h0M139.7 472.2h0M141.3 555.9h0M139.8 577.1h0M143.1 472.8h0M145.8 497.6h0M152.5 513.6h0M140.8 451.5h0M145.7 461.1h0M138.9 533.2h0M139.4 544.4h0M159.6 453.1h0M141.3 515.4h0M138.1 450.3h0M143.7 520.3h0M144.7 453.2h0M140.7 465.7h0M144.5 560.6h0M142.2 500.7h0M138 548.4h0M142.1 457.9h0M149.6 491.3h0M143.1 450.7h0M138 571.7h0M145.2 555.3h0M140.1 555.9h0M148.3 498.6h0M142.8 536.8h0M141.4 492.7h0M137.9 556.8h0M148.9 464.6h0M147 521.4h0M143.2 452.4h0M138.1 557.7h0M142.4 552.7h0M139.6 573.4h0M141.5 554.2h0M151.3 448.2h0M151.8 462.6h0M155.3 483.6h0M138.5 475.7h0M138.9 487.3h0M138.7 510.2h0M149.3 448.3h0M139.6 572.4h0M139.6 493.4h0M140.7 509.7h0M142.7 560.9h0M141.4 530.7h0M143.2 477.3h0M146.4 564.6h0M153.5 462.2h0M152.4 461.9h0M138.4 536.9h0M140.5 522.1h0M140.9 511.2h0M148.9 456.3h0M145.4 546h0M146.6 532.8h0M143.9 522.8h0M143.8 507.1h0M143.2 524.8h0M146.1 507.9h0M157.2 473.9h0M151.9 502.8h0M142.1 545.8h0M144.1 454.6h0M152.2 445.5h0M138 537.7h0M142.5 564.3h0M147 507h0M147.4 523.4h0M144.3 469.6h0M141.6 575.1h0M140.2 574.6h0M139.5 544.9h0M139 540.7h0M144.8 527.7h0M143.6 500.4h0M146 463.3h0M138.1 548.4h0M138 504.1h0M146.8 448.1h0M139.2 512.7h0M145.3 544.2h0M147.1 503.6h0M140.4 498.2h0M140 443.1h0M151.5 524.6h0M141.2 576.6h0M145.4 552.5h0M144 549.9h0M145.9 492.9h0M142.9 567h0M137.9 557.3h0M139.8 564.8h0M141.7 556h0M143.8 480.1h0M139.3 447.9h0M148.7 445.5h0M145.3 544.9h0M142.7 515.3h0M148.6 449.6h0M142.7 559.3h0M139.5 560h0M142.9 559.5h0M144.4 520.7h0M143.4 541.7h0M142.4 447.5h0M145.2 514.5h0M145.8 492.4h0M141.2 551.4h0M137.9 476.2h0M141.3 490.6h0M139.9 505.9h0M142.4 455.3h0M148.1 496.6h0M138.6 573.2h0M144.8 548.9h0M141 521.2h0M139.6 539.1h0M141.3 462.8h0M139.6 556.9h0M142.5 561h0M141.3 557.1h0M143 541.6h0M152 466.1h0M141.2 556.1h0M141.5 486.3h0M138.4 543.9h0M141.5 548.4h0M146.3 549.1h0M151.3 510.9h0M140.6 522.2h0M151.5 464.3h0M141.1 571h0M145 537.2h0M144.8 551.5h0M144.3 563.5h0M145.9 549.3h0M138 560.4h0M148.3 471.2h0M144.9 481.8h0M139.4 535h0M139.7 474.2h0M141.7 556h0M159.5 451.7h0M150.3 464.7h0M143.8 520.7h0M144.8 521.7h0M137.9 488.1h0M141.5 555.3h0M146 535.6h0M140.9 566.3h0M143.9 548.3h0M139 532.2h0M142.8 544.9h0M143 477.5h0M138.6 505h0M139 549.1h0M140.2 541.7h0M138.3 567.9h0M143.6 559.4h0M144.1 552.4h0M138.3 541.2h0M137.9 489h0M138.7 571h0M150.1 480.4h0M140.8 443.3h0M140.4 511.2h0M142.1 443.5h0M142.2 533.7h0M138 458.5h0M145.6 546.3h0M145.2 513.9h0M144.6 453.1h0M150.9 445.4h0M139.1 534.9h0M146.4 482.6h0M140.8 539h0M138.2 479.9h0M147.5 491.8h0M152.4 459.4h0M144 485.5h0M152.2 446.3h0M140.5 556.8h0M143.1 500h0M149 490.7h0M141.4 451.4h0M142.8 459.8h0M145.2 510.6h0M143.9 509.7h0M143.5 489.3h0M140.2 533.7h0M138.6 496.8h0M144.2 514.4h0M144.8 531.1h0M146.6 452.4h0M144.7 543h0M138.1 562.2h0M147.9 546.9h0M147.6 466h0M142.7 494.6h0M149.4 498h0M143.1 564.8h0M140.5 484.7h0M143.1 543.9h0M143.9 497.4h0M148.3 490.4h0M140.8 559.8h0M139 576h0M140 495.4h0M141.6 567h0M153.3 501.4h0M144.1 534.5h0M138.6 569.7h0M139.1 549.7h0M143.3 492.6h0M147.1 448.8h0M140.7 511.1h0M141.9 516.7h0M143 525.8h0M150.7 451.7h0M149 487.2h0M142.2 512.5h0M148.4 501.4h0M144 566.3h0M146.3 505.9h0M138.4 574.6h0M139.8 569.2h0M145.5 450.7h0M147.1 525.4h0M148.1 492.9h0M141 514.3h0M151 467.1h0M143.2 562h0M156.1 455.6h0M146.7 460.1h0M144.8 548.5h0M138.9 548.6h0M143.9 549h0M143.6 575h0M143.9 489.6h0M147.2 546.8h0M140.1 547.9h0M151.3 467.4h0M146.5 492h0M148.7 444.8h0M142.2 508.9h0M145 525.4h0M138.4 459.6h0M147.8 503h0M143.5 575.2h0M145.4 536.2h0M139.4 525.1h0M144.9 550h0M141.8 540h0M145.3 488.3h0M143.8 567.4h0M138.9 527.8h0M146.3 538.6h0M146.3 525.3h0M146.1 565.7h0M142 567.2h0M143.9 553.9h0M139 496.2h0M138.2 476.1h0M144.1 561.7h0M142.7 505.5h0M138.2 551.4h0M144.9 498.8h0M145.9 520h0M141.5 562.2h0M143 552.5h0M145.3 519.6h0M138.9 477.8h0M157.6 469h0M147.1 521.7h0M146.5 463.5h0M143.4 518.9h0M144.9 527.8h0M143.7 483.9h0M142.2 558.7h0M139.3 521.9h0M149.2 450h0M143.4 571.4h0M148 447h0M144.2 551.1h0M142.2 489.2h0M149.5 445.9h0M153.6 442.1h0M143 469h0M145.5 546.3h0M139 539.1h0M145.8 517.9h0M151.5 450h0M145.3 523.4h0M140.7 571.5h0M149.2 445.9h0M144 548h0M138.4 458.3h0M141.2 533.1h0M139.4 563h0M141.4 548.7h0M151.7 458h0M150.2 461.7h0M148.5 495.5h0M141.2 494.8h0M141.1 561.8h0M148.7 453h0M145.8 488.5h0M138.6 452.6h0M138.9 491.2h0M145.1 527h0M140 548.3h0M143.5 571.7h0M144.6 463.8h0M143.6 441.8h0M147.9 514.5h0M148.4 552.6h0M139.4 507h0M145.7 567.5h0M147.4 456.9h0M142.6 555.7h0M141.5 493.5h0M146.5 470.7h0M152.2 480.5h0M150.7 493.7h0M146.3 492.5h0M138.8 556.7h0M138.3 460.5h0M141.2 500.2h0M147.4 464.7h0M148.8 529.6h0M156 461.8h0M139.7 561h0M140.2 564.2h0M138.9 451.5h0M143.1 544.6h0M149.5 451.2h0M145.5 453.3h0M138.3 482h0M140.1 454h0M140.9 542.3h0M142.4 488.9h0M144.2 561.4h0M145.1 561.6h0M144.2 484.9h0M152.4 455h0M138.5 534.8h0M142.7 469.6h0M158.4 448.5h0M142.1 453.6h0M140.7 444h0M146.6 475.8h0M146.4 501.2h0M138.7 496.7h0M144.3 521.7h0M144.8 541.9h0M144.1 468.9h0M149.1 485.3h0M146.9 532.8h0M139 569.4h0M140.4 470.6h0M139.6 521.9h0M142.6 508.9h0M144.1 542h0M146.4 506h0M146.2 524.8h0M143.8 530.9h0M148.7 448h0M142.6 505.3h0M138.3 506.2h0M139.7 549.4h0M150.5 529.5h0M146.6 455.1h0M148.2 510.4h0M139.6 477.5h0M140.8 574.3h0M149.4 466.9h0M149.3 544h0M140.7 516.9h0M144.2 559.1h0M153.3 449.2h0M153 447.6h0M143.3 539h0M144 503.4h0M149.8 538.5h0M137.9 515.7h0M143.4 565.6h0M148.8 465h0M152.9 481.3h0M144 532.6h0M139.4 550.5h0M142.7 534.8h0M139.1 554.4h0M139.1 548.4h0M149.9 481.7h0M142.8 521.1h0M146.6 481.8h0M144.7 544h0M151.7 445.1h0M137.9 573.4h0M145 441.3h0M147.7 481.8h0M148.4 464.6h0M145.5 451.4h0M140.8 499.7h0M146.9 464.6h0M152.8 457.8h0M138.4 573.9h0M139.4 507.3h0M138.3 566.6h0M141.8 555.3h0M143.5 493.2h0M145.1 512.4h0M139.1 497.4h0M138.6 574.2h0M138.8 573.9h0M153 484.6h0M140.9 472h0M144.1 555.2h0M141.9 497.7h0M149.4 499.7h0M147.7 487.6h0M138.1 533.2h0M140.6 542.9h0M143.7 464.7h0M139.7 466.6h0M140.9 500h0M148.7 445.4h0M142.1 530h0M140.7 452.1h0M143.7 538.4h0M150.6 478.2h0M138.2 539.8h0M139.2 487.1h0M142.6 544h0M147.2 467.8h0M140.8 551.2h0M150.8 484.1h0M151.8 471.9h0M138.1 530.9h0M137.9 466.5h0M141.9 533.3h0M142.7 575.8h0M143.1 450.3h0M149.6 517h0M144 546.9h0M139.8 501.7h0M144.2 500.1h0M143.1 559h0M149 475.5h0M144.9 456.9h0M139.1 537.4h0M155 480.4h0M138.8 537.7h0M144.3 519h0M147.7 502.2h0M151.3 467.3h0M140.7 474.2h0M147.8 507.9h0M152.7 518.5h0M141.3 569.4h0M147.2 515h0M140.4 527.6h0M148.3 508.9h0M149.1 500.6h0M147 495.4h0M138.9 464.7h0M140.5 452.1h0M148.2 497.3h0M139.5 550.2h0M138.9 515.6h0M139.6 447.3h0M142.9 525.1h0M146.9 497h0M142.8 491.4h0M139.6 497.6h0M144.3 553.6h0M144.3 444.9h0M144.2 463.9h0M138.4 457.9h0M154.9 474.1h0M146.3 530.8h0M152.4 503.3h0M140.6 471h0M146 503.4h0M150.3 475.1h0M141 497.5h0M154.4 494.9h0M143.7 571.5h0M145.4 541.8h0M138.8 483.1h0M149.1 457.8h0M139 508.8h0M139.7 475.8h0M148.3 512.6h0M147.5 500.7h0M141.7 540.9h0M138.2 495.8h0M138.9 549.5h0M148.6 496h0M155.6 449h0M146.7 530.1h0M144.9 457.8h0M137.9 569.1h0M150.4 468.1h0M143.6 468.7h0M149 472.5h0M144.9 536.6h0M142.8 538.1h0M142 484.2h0M142.3 549.9h0M139.5 540.9h0M144.6 443.2h0M143 560.3h0M147.4 518.5h0M156.8 465.5h0M152.2 475h0M138.2 474h0M139.3 565.1h0M143 470.7h0M140.1 565.2h0M140.6 464.3h0M148 494.2h0M145.7 451.5h0M157.5 442h0M143.1 485.7h0M139.9 521.7h0M139.9 500.6h0M138.5 463h0M152.8 509.5h0M139.4 538.1h0M140.4 574.3h0M138.9 546.4h0M156.6 477.9h0M142.2 481h0M141.5 532.1h0M137.9 456.9h0M145.8 443.2h0M147.3 474h0M145.9 500.2h0M151.4 465.3h0M144.5 546.6h0M138.6 552.2h0M150.5 489.2h0M146.9 549.7h0M143.4 511.3h0M148.2 449.1h0M148.3 477.4h0M145.2 537.7h0M148.8 443.3h0M143.3 563.1h0M141.4 443.6h0M141.3 512.3h0M142.5 511.3h0M145 518.7h0M150.1 511.3h0M149.1 466.9h0M138.8 471.7h0M140 526.8h0M145 486.3h0M147 547.9h0M144.7 459h0M146.8 566.3h0M139.9 576.8h0M143.3 554h0M138.1 524.4h0M138 488.3h0M137.9 538.4h0M138.5 493.1h0M143.1 493h0M141.4 453.8h0M141.3 488h0M140.2 533.1h0M143.2 475.8h0M146.8 512h0M142.8 542.7h0M140.4 555h0M139.3 561.6h0M137.9 470.8h0M145.7 456.1h0M138.7 538h0M144.1 522.8h0M139.6 528h0M147.6 451.4h0M151.3 466.3h0M148.9 457.2h0M140.8 451h0M146.6 536.4h0M139.5 480.8h0M149.6 451.2h0M142.8 502.3h0M139 566.8h0M138.4 564.4h0M143.9 475.9h0M140.9 446.2h0M144.4 535.2h0M143.2 560.9h0M141.7 550.9h0M139 566.8h0M138.9 575.8h0M140.3 525.2h0M151 448h0M140 485.2h0M145.3 445.1h0M138.3 470h0M138.5 502h0M138.4 547.6h0M142.2 539.4h0M141.1 577.2h0M148.5 474.9h0M138.9 561.6h0M144.3 462.3h0M145.9 467.1h0M147.1 524.4h0M144.5 527.3h0M142.5 483.8h0M144.4 488.6h0M145.3 540.3h0M145.5 526.2h0M150.1 446.5h0M147.3 454.8h0M148.8 449.9h0M141.5 470.8h0M142 558h0M145.1 540.6h0M147.5 491h0M149.6 467.9h0M142.7 552.9h0M149.3 459.1h0M154.7 472h0M145.7 449.2h0M139.2 517h0M138.9 499.6h0M138.7 443.4h0M143.7 500.2h0M139.4 480.9h0M139.5 567.5h0M138.2 467.6h0M142.1 561.9h0M141.6 559h0M143.9 469h0M147.6 507.3h0M144.9 467.8h0M144.7 536.7h0M144.9 468.7h0M139.9 552.2h0M143.8 500.3h0M146.4 470.5h0M147.7 540.4h0M141.3 524.3h0M148.8 480.7h0M151.3 512.6h0M144.3 552.4h0M138.6 540h0M140.5 459.9h0M143.1 526.2h0M146 454.4h0M141.9 482.5h0M144.2 546.8h0M142.4 519.1h0M144.3 469.1h0M145.6 539.6h0M138.6 519.6h0M145.2 543.9h0M156 486.1h0M144.1 547.7h0M146.3 560.7h0M139.3 461.8h0M145.3 563.5h0M140 554.6h0M155.3 490.5h0M138.1 473.4h0M138.2 522h0M140.1 493.4h0M143.5 499.6h0M140.3 548.2h0M141.1 478.5h0M146.5 519.7h0M141.5 570.4h0M144.2 506.1h0M141.1 496.3h0M142.5 511.1h0M138.8 553.2h0M144.9 471h0M141.9 517.3h0M138.7 466.7h0M144 487h0M139.2 564.8h0M148 470h0M153.1 451.1h0M144.8 550.4h0M138.4 574.9h0M142.9 456.9h0M138.9 470.1h0M142.6 533.4h0M145.1 530.1h0M138.8 558.6h0M137.9 533.7h0M151 503.4h0M147.9 559.4h0M144.7 505.9h0M141.8 546h0M142.4 444.7h0M146.2 471.3h0M143 486h0M145.4 464.1h0M144.5 547.8h0M144.5 566.8h0M139.3 463.9h0M138.4 546.9h0M139.3 511.2h0M140.9 534.1h0M144.4 444.7h0M141.2 488.4h0M141.1 473.8h0M139.3 558.3h0M138.2 561.1h0M138.5 448.5h0M140.6 513.2h0M142.4 536.7h0M143.6 530.7h0M138.4 554.5h0M146.6 489.2h0M145.7 517h0M141.7 521.1h0M145 483.2h0M150.8 487.3h0M143.8 509.3h0M141.5 508.7h0M152.5 445.3h0M138.7 456h0M138.1 490.4h0M138.1 538h0M138.4 527.7h0M142.8 532h0M141.4 568.2h0M143.9 559.6h0M144.1 528.4h0M148.5 498.3h0M145.5 513.8h0M140.6 454.6h0M148 533.5h0M140.8 538.6h0M138.1 527.1h0M151.4 522.4h0M141 502h0M139.6 573.3h0M141.2 441.6h0M147.7 548.5h0M147.4 518.8h0M145.7 506.4h0M142 552.1h0M150.9 443.9h0M146.7 508.9h0M137.9 539.8h0M157.9 462.7h0M139.7 545.2h0M139.9 473.4h0M141.7 531.5h0M142.7 522.3h0M145.5 476.4h0M145.7 496.6h0M145.9 540.3h0M143.2 511.3h0M142.5 574.2h0M139.7 484.3h0M137.9 559.1h0M142.4 444.2h0M152.9 515.7h0M139.7 575.2h0M144.9 537.8h0M139.1 530.2h0M141.6 543.9h0M143.8 528.1h0M140.8 456.8h0M145 498.7h0M141.2 495.6h0M148.5 461.4h0M142.9 518.3h0M145.4 479.6h0M140.5 520.5h0M146.9 482.7h0M144.7 476.9h0M144.9 555.7h0M140.5 570.3h0M143.9 469.1h0M147.3 475h0M141 444.6h0M142.1 518.3h0M142.4 490.7h0M143.8 460.5h0M148.5 546.6h0M144.5 537.2h0M141.6 530.4h0M144.4 502.6h0M149.6 537.1h0M140.3 541h0M146.3 529.7h0M142.9 569.2h0M146.2 535h0M143.5 560.9h0M140.8 526.8h0M153.8 467.4h0M138.2 556.1h0M140.3 510.9h0M141.8 572.5h0M144.7 545.1h0M144 484.2h0M138.4 550.4h0M142.8 559.7h0M154.8 486.4h0M147.5 479.5h0M153.6 505.6h0M141.1 473h0M146.2 478.3h0M138.2 495.7h0M151.7 513h0M138.5 575.3h0M145.9 461h0M143.7 461.1h0M139.4 548.4h0M138.1 468.6h0M139.5 572.3h0M146.9 504.7h0M141.6 456.9h0M148.3 474.4h0M140.7 549h0M149.8 502.3h0M148.2 474.4h0M148.1 473.3h0M145.8 485.6h0M142.7 577.4h0M142.2 522.9h0M142.6 571.2h0M144.4 573h0M148.3 481.9h0M147.8 556.6h0M145.8 543.1h0M142.4 569.1h0M141.5 541h0M146.8 531.1h0M143.1 495.6h0M138.5 543.4h0M145.1 502h0M143.2 452.6h0M143.2 572h0M142.3 464.1h0M148.5 517.1h0M140.8 530.7h0M139.2 557.4h0M147 467h0M138.4 501.3h0M142.4 573.2h0M150.5 484.7h0M144.3 534.4h0M140.4 564h0M142.5 531.6h0M142.2 482.6h0M146.3 504.7h0M140.8 512.2h0M144.9 544.7h0M150.2 531.8h0M137.9 468.3h0M141.5 541.1h0M144 514.2h0M139.7 507.3h0M139.1 551.8h0M146.2 536.7h0M142.9 508h0M148 470.9h0M144.7 513.9h0M139.7 535.6h0M138.8 574.4h0M142.4 554.3h0M139.9 555.6h0M142.1 453.1h0M141 566.5h0M138.4 535h0M140 570h0M139.9 507.2h0M148.8 480.8h0M141.6 539.3h0M145.9 486.6h0M142.4 492.7h0M139.3 454h0M143.9 511.7h0M147.8 538.1h0M141.2 567.5h0M138.8 455.1h0M147.2 501h0M146.9 479.6h0M143.5 478.2h0M143.1 485.4h0M152 456.1h0M142.7 526.2h0M144.2 523.6h0M150.7 447.4h0M143.3 575.6h0M144.7 447.6h0M140 452.2h0M144.1 522.8h0M138.3 526.5h0M142.6 527.5h0M142 529.1h0M142.2 551.5h0M138.3 468.1h0M145.4 506.9h0M141.2 550.9h0M141.2 517.7h0M143.1 543h0M143.2 540.7h0M139.8 493.4h0M139.2 530.1h0M141.7 572.1h0M143.6 520.5h0M142 561.9h0M138.8 550.9h0M138.4 561.9h0M138.1 523.9h0M145.8 533.8h0M141 545.8h0M145.1 486.7h0M146.4 529.7h0M141.6 492.2h0M145.2 541.8h0M151.3 509h0M145.1 462.5h0M142.8 443.4h0M148.7 502.3h0M143.1 547.3h0M147.5 507.8h0M138.4 463.2h0M149.2 545.2h0M151.9 522h0M151.1 476.5h0M151.9 509.1h0M146.8 451.6h0M147.4 497.3h0M143 549.1h0M137.9 558.1h0M144.5 538.1h0M141.5 569.5h0M140.4 497.3h0M140.3 476.7h0M138 543.9h0M145.2 488.1h0M141.6 510.8h0M146.7 448h0M150.7 460.9h0M138.6 574.8h0M144.1 515.2h0M141.2 490.9h0M139.6 448.6h0M139 530.4h0M147.3 548.5h0M147.5 528.5h0M145.9 528.4h0M139.1 563.2h0M147.1 460.8h0M148.4 508.1h0M141.4 498.3h0M138.2 547.3h0M138.3 523.7h0M140.7 558.5h0M141.1 500.5h0M138.9 515.3h0M144 463h0M143.8 563.3h0M143.3 562.6h0M143.9 570.6h0M147.5 550.2h0M139.1 532.1h0M143.3 448.2h0M141.2 487.5h0M151.6 448.6h0M146.9 569.1h0M138.3 547.9h0M142.8 577.3h0M150.2 484.3h0M153.4 512.5h0M152.6 456.3h0M137.9 468.3h0M139.6 474.5h0M150.5 450.4h0M149 504.4h0M139.7 444.4h0M139.1 453.2h0M140.2 568.3h0M139.5 521.5h0M147.5 473h0M140.1 558.3h0M148.3 454h0M140.2 461.8h0M142 542.6h0M143.1 514h0M139.1 529.7h0M140.5 570.2h0M147.6 511.2h0M151.8 449.7h0M143.1 572.9h0M149 465.6h0M142.3 509.9h0M141 493.4h0M138.2 516.8h0M149.2 478.3h0M147.7 533h0M147.3 495.9h0M138.8 559.3h0M138.8 552.8h0M139.8 552h0M147 474.6h0M139.7 536h0M145.7 572.6h0M146.3 534.5h0M153.4 465.4h0M146.5 468h0M143.8 503.7h0M140.8 463.2h0M147.6 478.9h0M139.7 565.8h0M157.1 448.1h0M143.1 532.8h0M143.5 513.4h0M151.7 469.9h0M144.8 480.9h0M140.6 526.5h0M144.4 533.4h0M143.5 576.6h0M138 569.1h0M139.6 530.9h0M146.7 474.3h0M149.4 498.4h0M143.5 561.4h0M148.2 460.6h0M142.9 512.9h0M150 454.9h0M147.8 554.8h0M140.7 496.5h0M159.7 455.5h0M147 510h0M146.7 476.9h0M146 444.1h0M142.8 508.7h0M144.5 501.3h0M140 553.1h0M141.2 539h0M145.4 529h0M137.9 464.8h0M138.3 506.6h0M144.6 537.3h0M145.9 503.2h0M141.6 496.9h0M153.2 494.1h0M141.7 473.9h0M149.5 484.6h0M146.4 562h0M143 492h0M149.4 452.7h0M152.2 454.5h0M148.4 494.5h0M138.5 527.8h0M147.5 453.5h0M139.9 556.5h0M144.2 509.8h0M141 576.9h0M138.8 546.9h0M138.8 573.5h0M152.7 456.8h0M137.9 542.1h0M138.4 533.6h0M143 465.7h0M138.8 460.7h0M144.9 560.8h0M148.2 524.9h0M139.2 453.1h0M147.6 495.4h0M137.9 487.7h0M145.8 542.9h0M158.4 449.7h0M140.8 547h0M148.6 512.2h0M143.5 521.1h0M149.5 461.2h0M137.9 471.4h0M143.3 573.3h0M139.5 521.2h0M139.9 573.8h0M147.9 461.7h0M142.4 468.3h0M157.6 451h0M141 530.1h0M138.1 563.3h0M153 468.7h0M148.2 468.5h0M143.6 522h0M138.3 543.9h0M145.2 546.1h0M140.2 499.7h0M146.1 501.6h0M140.7 468.3h0M145.6 531.7h0M142.3 487.5h0M142.2 539.5h0M146.5 500.4h0M144.9 523.7h0M144.1 517.3h0M144 485.1h0M138.4 489.9h0M140.3 471.4h0M146 540.1h0M158.5 444.4h0M164.8 446.2h0M162.7 469h0M157.8 480.1h0M157.1 484.6h0M153.6 533.7h0M155 535.5h0" stroke="#f2434f" stroke-width="1.5" stroke-linecap="round" fill="none"/>
<path d="M36.5 434.8H123" stroke="#5b70db" stroke-width="1.3"/>
<path d="M137.5 434.8H164.5" stroke="#f2434f" stroke-width="1.3"/>
<path d="M166 434.8h2M171 434.8h2M176 434.8h1.5M182 434.8h1.5M187 434.8h1.5" stroke="#f2434f" stroke-width="1.2" opacity=".7"/>
<path d="M123.5 434V584M137.5 434V584M27.6 577.4H194.8" stroke="#999" stroke-width=".5" stroke-dasharray="2 1.5" fill="none"/>
<rect x="131" y="455.6" width="8.4" height="4.8" rx=".8" fill="#f4f4f4" stroke="#bbb" stroke-width=".3"/>
<text x="135.2" y="459.2" font-size="2.8" text-anchor="middle" fill="#333">XIAP</text>
<text x="25.5" y="579.5" font-size="3.6" text-anchor="end" fill="#333">0</text><text x="25.5" y="534.9" font-size="3.6" text-anchor="end" fill="#333">100</text><text x="25.5" y="490.2" font-size="3.6" text-anchor="end" fill="#333">200</text><text x="25.5" y="445.6" font-size="3.6" text-anchor="end" fill="#333">300</text><text x="60.5" y="589.5" font-size="3.6" text-anchor="middle" fill="#333">-10</text><text x="95.5" y="589.5" font-size="3.6" text-anchor="middle" fill="#333">-5</text><text x="130.5" y="589.5" font-size="3.6" text-anchor="middle" fill="#333">0</text><text x="165.5" y="589.5" font-size="3.6" text-anchor="middle" fill="#333">5</text>
<text x="111" y="594.2" font-size="4.4" text-anchor="middle" fill="#222">log2(fold change)</text>
<text x="0" y="0" font-size="4.4" text-anchor="middle" fill="#222" transform="translate(19.3 509) rotate(-90)">-log10 (pvalue)</text>
<rect x="82" y="596.5" width="58.2" height="10" fill="#ebebeb"/>
<rect x="83.8" y="598.2" width="5.8" height="6.8" fill="#fff"/><rect x="104.3" y="598.2" width="5.8" height="6.8" fill="#fff"/><rect x="125.3" y="598.2" width="5.8" height="6.8" fill="#fff"/>
<circle cx="86.7" cy="601.6" r=".9" fill="#5b70db"/><circle cx="107.2" cy="601.6" r=".9" fill="#b8c0c8"/><circle cx="128.2" cy="601.6" r=".9" fill="#f2434f"/>
<text x="91.3" y="603.2" font-size="4.4" fill="#333">Down</text><text x="111.8" y="603.2" font-size="4.4" fill="#333">Stable</text><text x="132.8" y="603.2" font-size="4.4" fill="#333">Up</text>
<text x="0" y="0" font-size="15.7" fill="#111" stroke="#111" stroke-width=".45" transform="translate(240.05 425.48) scale(0.951 1)">D</text>
<path d="M258.6 600V424.2H433" stroke="#e3e9eb" stroke-width=".8" fill="none"/>
<path d="M293.8 427.1V585.4H426" stroke="#222" stroke-width="1" fill="none"/>
<path d="M291.3 581.3H293.8M291.3 554.2H293.8M291.3 527.2H293.8M291.3 500.1H293.8M291.3 473.1H293.8M291.3 446H293.8M330 585.4V588M390.4 585.4V588" stroke="#222" stroke-width=".8" fill="none"/>
<text x="288.6" y="583.8" font-size="7.2" text-anchor="end" fill="#222">0</text>
<text x="288.6" y="556.8" font-size="7.2" text-anchor="end" fill="#222">1</text>
<text x="288.6" y="529.7" font-size="7.2" text-anchor="end" fill="#222">2</text>
<text x="288.6" y="502.6" font-size="7.2" text-anchor="end" fill="#222">3</text>
<text x="288.6" y="475.6" font-size="7.2" text-anchor="end" fill="#222">4</text>
<text x="288.6" y="448.5" font-size="7.2" text-anchor="end" fill="#222">5</text>
<text x="330" y="597.5" font-size="7.6" text-anchor="middle" fill="#222">Normal</text>
<text x="390.4" y="597.5" font-size="7.6" text-anchor="middle" fill="#222">Tumor</text>
<text x="0" y="0" font-size="8.6" text-anchor="middle" fill="#111" transform="translate(267.6 506) rotate(-90)">The expression of XIAP</text>
<text x="0" y="0" font-size="8.6" text-anchor="middle" fill="#111" transform="translate(275.8 506) rotate(-90)">Log<tspan font-size="7" dy="2">2</tspan><tspan dy="-2"> (TPM+1)</tspan></text>
<path d="M330 456.8V473.7M330 485.4V499.7M390.4 440.4V459.4M390.4 474.6V494.6" stroke="#111" stroke-width=".9" fill="none"/>
<path d="M330 446.6h0M330 452.7h0M330 454.2h0M330 455.6h0M330 510.5h0M330 581.3h0M390.4 497h0M390.4 498.5h0M390.4 500h0M390.4 501.5h0M390.4 503h0M390.4 505h0M390.4 508h0M390.4 512h0M390.4 516h0M390.4 520h0M390.4 526h0M390.4 541h0M390.4 523h0" stroke="#777" stroke-width="1.5" stroke-linecap="round" fill="none"/>
<rect x="305.9" y="473.7" width="48.7" height="11.7" fill="#8f8f8f" stroke="#111" stroke-width=".8"/>
<path d="M305.9 479.1H354.6" stroke="#111" stroke-width="1.9"/>
<rect x="366.2" y="459.4" width="48.3" height="15.2" fill="#e4523a" stroke="#111" stroke-width=".8"/>
<path d="M366.2 467.4H414.5" stroke="#111" stroke-width="1.9"/>
<path d="M330 439.6V437.4H390.4V439.6" stroke="#111" stroke-width=".8" fill="none"/>
<text x="360.2" y="438.4" font-size="6.5" text-anchor="middle" fill="#111">***</text>
<text x="0" y="0" font-size="15.7" fill="#111" stroke="#111" stroke-width=".45" transform="translate(474.57 423.68) scale(0.713 1)">E</text>
<path d="M527.9 421.5V583.2H663.2" stroke="#222" stroke-width="1" fill="none"/>
<path d="M525.3 576.9H527.9M525.3 531.7H527.9M525.3 486.5H527.9M525.3 441.3H527.9M565 583.2V585.8M626.7 583.2V585.8" stroke="#222" stroke-width=".8" fill="none"/>
<text x="522.2" y="579.8" font-size="8" text-anchor="end" fill="#222">3</text>
<text x="522.2" y="534.6" font-size="8" text-anchor="end" fill="#222">4</text>
<text x="522.2" y="489.4" font-size="8" text-anchor="end" fill="#222">5</text>
<text x="522.2" y="444.2" font-size="8" text-anchor="end" fill="#222">6</text>
<text x="565" y="596" font-size="7.6" text-anchor="middle" fill="#222">Normal</text>
<text x="626.7" y="596" font-size="7.6" text-anchor="middle" fill="#222">Tumor</text>
<text x="0" y="0" font-size="8.8" text-anchor="middle" fill="#111" transform="translate(501 503.5) rotate(-90)">The expression of XIAP</text>
<text x="0" y="0" font-size="8.8" text-anchor="middle" fill="#111" transform="translate(509.6 503.5) rotate(-90)">Log<tspan font-size="7.1" dy="2">2</tspan><tspan dy="-2"> (TPM+1)</tspan></text>
<path d="M565 442.8L626.7 480.8M565 444.3L626.7 465.2M565 444.9L626.7 488.3M565 445.5L626.7 473.6M565 447.3L626.7 467.3M565 447.9L626.7 477.2M565 448.5L626.7 466.4M565 449.4L626.7 464.4M565 450.3L626.7 460.5M565 451.5L626.7 479.3M565 452.4L626.7 470.6M565 453.3L626.7 498.8M565 454.5L626.7 462.9M565 455.4L626.7 468.2M565 456.3L626.7 459.9M565 457.5L626.7 462.3M565 458.4L626.7 471.8M565 459.3L626.7 485.3M565 459.9L626.7 491.3M565 461.4L626.7 455.4M565 462.9L626.7 456.9M565 463.5L626.7 452.4M565 464.4L626.7 534.7M565 465.2L626.7 498.8M565 465.8L626.7 516.7M565 466.4L626.7 453.9M565 467.3L626.7 483.8M565 468.8L626.7 492.8M565 469.4L626.7 501.8M565 470.3L626.7 503.3M565 471.2L626.7 435.9M565 471.8L626.7 482.3M565 473.3L626.7 444.3M565 474.2L626.7 509.2M565 474.8L626.7 578.7M565 475.4L626.7 494.3M565 476.3L626.7 510.7M565 477.2L626.7 504.8M565 477.8L626.7 507.8M565 478.7L626.7 518.2M565 479.3L626.7 478.4M565 480.2L626.7 474.8M565 480.8L626.7 495.8M565 482.3L626.7 472.7M565 483.8L626.7 465.8M565 484.7L626.7 486.8M565 486.2L626.7 468.8M565 488.3L626.7 521.2M565 489.8L626.7 522.7M565 491.3L626.7 539.2M565 492.8L626.7 476.3M565 495.2L626.7 513.7M565 495.8L626.7 477.8M565 501.8L626.7 531.7M565 504.2L626.7 545.2M565 513.7L626.7 497.3M565 517.6L626.7 489.8M565 548.8L626.7 545.2M565 560.1L626.7 486.8" stroke="#111" stroke-width=".85" fill="none"/>
<path d="M565 442.8h0M565 444.3h0M565 444.9h0M565 445.5h0M565 447.3h0M565 447.9h0M565 448.5h0M565 449.4h0M565 450.3h0M565 451.5h0M565 452.4h0M565 453.3h0M565 454.5h0M565 455.4h0M565 456.3h0M565 457.5h0M565 458.4h0M565 459.3h0M565 459.9h0M565 461.4h0M565 462.9h0M565 463.5h0M565 464.4h0M565 465.2h0M565 465.8h0M565 466.4h0M565 467.3h0M565 468.8h0M565 469.4h0M565 470.3h0M565 471.2h0M565 471.8h0M565 473.3h0M565 474.2h0M565 474.8h0M565 475.4h0M565 476.3h0M565 477.2h0M565 477.8h0M565 478.7h0M565 479.3h0M565 480.2h0M565 480.8h0M565 482.3h0M565 483.8h0M565 484.7h0M565 486.2h0M565 488.3h0M565 489.8h0M565 491.3h0M565 492.8h0M565 495.2h0M565 495.8h0M565 501.8h0M565 504.2h0M565 513.7h0M565 517.6h0M565 548.8h0M565 560.1h0" stroke="#808585" stroke-width="3.7" stroke-linecap="round" fill="none"/>
<path d="M626.7 480.8h0M626.7 465.2h0M626.7 488.3h0M626.7 473.6h0M626.7 467.3h0M626.7 477.2h0M626.7 466.4h0M626.7 464.4h0M626.7 460.5h0M626.7 479.3h0M626.7 470.6h0M626.7 498.8h0M626.7 462.9h0M626.7 468.2h0M626.7 459.9h0M626.7 462.3h0M626.7 471.8h0M626.7 485.3h0M626.7 491.3h0M626.7 455.4h0M626.7 456.9h0M626.7 452.4h0M626.7 534.7h0M626.7 498.8h0M626.7 516.7h0M626.7 453.9h0M626.7 483.8h0M626.7 492.8h0M626.7 501.8h0M626.7 503.3h0M626.7 435.9h0M626.7 482.3h0M626.7 444.3h0M626.7 509.2h0M626.7 578.7h0M626.7 494.3h0M626.7 510.7h0M626.7 504.8h0M626.7 507.8h0M626.7 518.2h0M626.7 478.4h0M626.7 474.8h0M626.7 495.8h0M626.7 472.7h0M626.7 465.8h0M626.7 486.8h0M626.7 468.8h0M626.7 521.2h0M626.7 522.7h0M626.7 539.2h0M626.7 476.3h0M626.7 513.7h0M626.7 477.8h0M626.7 531.7h0M626.7 545.2h0M626.7 497.3h0M626.7 489.8h0M626.7 545.2h0M626.7 486.8h0" stroke="#e64b32" stroke-width="3.7" stroke-linecap="round" fill="none"/>
<path d="M565 433.5V431.1H626.7V433.5" stroke="#111" stroke-width=".8" fill="none"/>
<text x="595.8" y="432" font-size="6.5" text-anchor="middle" fill="#111">**</text>
<text x="0" y="0" font-size="15.7" fill="#111" stroke="#111" stroke-width=".45" transform="translate(10.43 638.38) scale(0.742 1)">F</text>
<rect x="117.5" y="646.3" width="44.1" height="48" fill="#fff"/>
<path d="M120.4 646.3V694.3M127.4 646.3V694.3M134.3 646.3V694.3M141.2 646.3V694.3M148.2 646.3V694.3M155.2 646.3V694.3M117.5 655.7H161.6M117.5 670.7H161.6M117.5 685.8H161.6" stroke="#e6e6e6" stroke-width=".7" fill="none"/>
<rect x="161.6" y="646.3" width="10.7" height="48" fill="#c6d8e8" stroke="#555" stroke-width=".6"/>
<rect x="117.5" y="646.3" width="44.1" height="48" fill="none" stroke="#222" stroke-width="1.1"/>
<text x="0" y="0" font-size="5.6" text-anchor="middle" fill="#333" transform="translate(165 670.3) rotate(90)">BP</text>
<circle cx="158.8" cy="655.7" r="2.5" fill="#80cfe3" stroke="#6bbcd3" stroke-width=".4"/>
<text x="112.6" y="657.8" font-size="6" text-anchor="end" fill="#222" stroke="#222" stroke-width=".15">histone modification</text>
<circle cx="151.1" cy="670.7" r="2.6" fill="#80cfe3" stroke="#6bbcd3" stroke-width=".4"/>
<text x="112.6" y="672.8" font-size="6" text-anchor="end" fill="#222" stroke="#222" stroke-width=".15">proteasomal protein catabolic process</text>
<circle cx="149.3" cy="685.8" r="2.5" fill="#80cfe3" stroke="#6bbcd3" stroke-width=".4"/>
<text x="112.6" y="687.9" font-size="6" text-anchor="end" fill="#222" stroke="#222" stroke-width=".15">regulation of DNA metabolic process</text>
<path d="M115.3 655.7H117.5M115.3 670.7H117.5M115.3 685.8H117.5" stroke="#222" stroke-width=".8" fill="none"/>
<rect x="117.5" y="697.4" width="44.1" height="48.1" fill="#fff"/>
<path d="M120.4 697.4V745.5M127.4 697.4V745.5M134.3 697.4V745.5M141.2 697.4V745.5M148.2 697.4V745.5M155.2 697.4V745.5M117.5 706.8H161.6M117.5 721.8H161.6M117.5 736.9H161.6" stroke="#e6e6e6" stroke-width=".7" fill="none"/>
<rect x="161.6" y="697.4" width="10.7" height="48.1" fill="#c6d8e8" stroke="#555" stroke-width=".6"/>
<rect x="117.5" y="697.4" width="44.1" height="48.1" fill="none" stroke="#222" stroke-width="1.1"/>
<text x="0" y="0" font-size="5.6" text-anchor="middle" fill="#333" transform="translate(165 721.5) rotate(90)">CC</text>
<circle cx="142.8" cy="706.8" r="2.4" fill="#80cfe3" stroke="#6bbcd3" stroke-width=".4"/>
<text x="112.6" y="708.9" font-size="6" text-anchor="end" fill="#222" stroke="#222" stroke-width=".15">nuclear envelope</text>
<circle cx="139.4" cy="721.8" r="2.3" fill="#80cfe3" stroke="#6bbcd3" stroke-width=".4"/>
<text x="112.6" y="723.9" font-size="6" text-anchor="end" fill="#222" stroke="#222" stroke-width=".15">nuclear speck</text>
<circle cx="136.8" cy="736.9" r="2.3" fill="#80cfe3" stroke="#6bbcd3" stroke-width=".4"/>
<text x="112.6" y="739" font-size="6" text-anchor="end" fill="#222" stroke="#222" stroke-width=".15">chromosomal region</text>
<path d="M115.3 706.8H117.5M115.3 721.8H117.5M115.3 736.9H117.5" stroke="#222" stroke-width=".8" fill="none"/>
<rect x="117.5" y="748.6" width="44.1" height="47.7" fill="#fff"/>
<path d="M120.4 748.6V796.3M127.4 748.6V796.3M134.3 748.6V796.3M141.2 748.6V796.3M148.2 748.6V796.3M155.2 748.6V796.3M117.5 758H161.6M117.5 773H161.6M117.5 788.1H161.6" stroke="#e6e6e6" stroke-width=".7" fill="none"/>
<rect x="161.6" y="748.6" width="10.7" height="47.7" fill="#c6d8e8" stroke="#555" stroke-width=".6"/>
<rect x="117.5" y="748.6" width="44.1" height="47.7" fill="none" stroke="#222" stroke-width="1.1"/>
<text x="0" y="0" font-size="5.6" text-anchor="middle" fill="#333" transform="translate(165 772.5) rotate(90)">MF</text>
<circle cx="145.7" cy="758" r="2.5" fill="#80cfe3" stroke="#6bbcd3" stroke-width=".4"/>
<text x="112.6" y="756.7" font-size="6" text-anchor="end" fill="#222" stroke="#222" stroke-width=".15">ubiquitin-like protein transferase</text>
<text x="112.6" y="763" font-size="6" text-anchor="end" fill="#222" stroke="#222" stroke-width=".15">activity</text>
<circle cx="144.8" cy="773" r="2.5" fill="#80cfe3" stroke="#6bbcd3" stroke-width=".4"/>
<text x="112.6" y="775.1" font-size="6" text-anchor="end" fill="#222" stroke="#222" stroke-width=".15">transcription coregulator activity</text>
<circle cx="142" cy="788.1" r="2.6" fill="#80cfe3" stroke="#6bbcd3" stroke-width=".4"/>
<text x="112.6" y="790.2" font-size="6" text-anchor="end" fill="#222" stroke="#222" stroke-width=".15">ubiquitin-protein transferase activity</text>
<path d="M115.3 758H117.5M115.3 773H117.5M115.3 788.1H117.5" stroke="#222" stroke-width=".8" fill="none"/>
<rect x="117.5" y="799.3" width="44.1" height="47.5" fill="#fff"/>
<path d="M120.4 799.3V846.8M127.4 799.3V846.8M134.3 799.3V846.8M141.2 799.3V846.8M148.2 799.3V846.8M155.2 799.3V846.8M117.5 808.7H161.6M117.5 823.7H161.6M117.5 838.8H161.6" stroke="#e6e6e6" stroke-width=".7" fill="none"/>
<rect x="161.6" y="799.3" width="10.7" height="47.5" fill="#c6d8e8" stroke="#555" stroke-width=".6"/>
<rect x="117.5" y="799.3" width="44.1" height="47.5" fill="none" stroke="#222" stroke-width="1.1"/>
<text x="0" y="0" font-size="5.6" text-anchor="middle" fill="#333" transform="translate(165 823) rotate(90)">KEGG</text>
<circle cx="139.7" cy="808.7" r="1.8" fill="#80cfe3" stroke="#6bbcd3" stroke-width=".4"/>
<text x="112.6" y="810.8" font-size="6" text-anchor="end" fill="#222" stroke="#222" stroke-width=".15">Nucleocytoplasmic transport</text>
<circle cx="138" cy="823.7" r="1.7" fill="#80cfe3" stroke="#6bbcd3" stroke-width=".4"/>
<text x="112.6" y="825.8" font-size="6" text-anchor="end" fill="#222" stroke="#222" stroke-width=".15">Ubiquitin mediated proteolysis</text>
<circle cx="119.7" cy="838.8" r="0.9" fill="#ec8d7a" stroke="#e07060" stroke-width=".4"/>
<text x="112.6" y="840.9" font-size="6" text-anchor="end" fill="#222" stroke="#222" stroke-width=".15">Colorectal cancer</text>
<path d="M115.3 808.7H117.5M115.3 823.7H117.5M115.3 838.8H117.5" stroke="#222" stroke-width=".8" fill="none"/>
<text x="120.4" y="856.6" font-size="5.7" text-anchor="middle" fill="#333">0.04</text>
<text x="134.3" y="856.6" font-size="5.7" text-anchor="middle" fill="#333">0.06</text>
<text x="148.2" y="856.6" font-size="5.7" text-anchor="middle" fill="#333">0.08</text>
<path d="M120.4 846.8V849M134.3 846.8V849M148.2 846.8V849" stroke="#333" stroke-width=".7" fill="none"/>
<text x="139.5" y="866" font-size="6.8" text-anchor="middle" fill="#222">GeneRatio</text>
<defs><linearGradient id="g1" x1="0" y1="0" x2="0" y2="1"><stop offset="0" stop-color="#ee8e78"/><stop offset=".5" stop-color="#c9c4c4"/><stop offset="1" stop-color="#86d3e6"/></linearGradient><linearGradient id="g2" x1="0" y1="0" x2="0" y2="1"><stop offset="0" stop-color="#d9756c"/><stop offset=".5" stop-color="#9a9aa4"/><stop offset="1" stop-color="#5cb4d2"/></linearGradient></defs>
<text x="175.7" y="680.3" font-size="6.1" fill="#111">P adj</text>
<rect x="175.2" y="682.3" width="6.9" height="35" fill="url(#g1)"/>
<text x="175.7" y="726.8" font-size="6.1" fill="#111">P adj</text>
<rect x="175.2" y="729.2" width="6.9" height="35" fill="url(#g2)"/>
<text x="185" y="690.8" font-size="5.9" fill="#222">0.003</text>
<text x="185" y="699.8" font-size="5.9" fill="#222">0.002</text>
<text x="185" y="709.8" font-size="5.9" fill="#222">0.001</text>
<text x="185" y="738.1" font-size="5.9" fill="#222">0.003</text>
<text x="185" y="747.2" font-size="5.9" fill="#222">0.002</text>
<text x="185" y="756.2" font-size="5.9" fill="#222">0.001</text>
<path d="M175.2 689.5h1.4M180.7 689.5h1.4M175.2 698.4h1.4M180.7 698.4h1.4M175.2 708h1.4M180.7 708h1.4M175.2 736h1.4M180.7 736h1.4M175.2 745h1.4M180.7 745h1.4M175.2 754.4h1.4M180.7 754.4h1.4" stroke="#fff" stroke-width=".4"/>
<text x="175.7" y="774" font-size="6.1" fill="#111">Counts</text>
<circle cx="179" cy="779.4" r="1.0" fill="#c8c8c8" stroke="#333" stroke-width=".5"/>
<text x="185" y="781.5" font-size="5.9" fill="#222">20</text>
<circle cx="179" cy="786.3" r="1.35" fill="#c8c8c8" stroke="#333" stroke-width=".5"/>
<text x="185" y="788.4" font-size="5.9" fill="#222">30</text>
<circle cx="179" cy="793.2" r="1.7" fill="#c8c8c8" stroke="#333" stroke-width=".5"/>
<text x="185" y="795.3" font-size="5.9" fill="#222">40</text>
<circle cx="179" cy="800.3" r="2.0" fill="#c8c8c8" stroke="#333" stroke-width=".5"/>
<text x="185" y="802.4" font-size="5.9" fill="#222">50</text>
<circle cx="179" cy="807.4" r="2.3" fill="#c8c8c8" stroke="#333" stroke-width=".5"/>
<text x="185" y="809.5" font-size="5.9" fill="#222">60</text>
<circle cx="179" cy="814.5" r="2.6" fill="#c8c8c8" stroke="#333" stroke-width=".5"/>
<text x="185" y="816.6" font-size="5.9" fill="#222">70</text>
<rect x="0" y="881" width="685" height="3" fill="#f6f6f6"/>
<text x="0" y="0" font-size="15.7" fill="#111" stroke="#111" stroke-width=".45" transform="translate(242.00 636.82) scale(0.884 1)">G</text>
<text x="362.5" y="658.2" font-size="6.8" text-anchor="middle" fill="#111">ALCALA Apoptosis</text>
<path d="M280.4 667.8H444.7" stroke="#aaa" stroke-width=".9" stroke-dasharray="2.6 1.8"/>
<path d="M280.4 669.8L281.5 668.4L282.7 666.9L283.6 668.9L284.5 670.7L285.3 668.4L286.5 666.3L287.4 667.2L288.5 667.8L289.7 669.2L290.9 670.7L291.6 671.6L292.3 672.4L293.1 672.7L293.8 674.2L294.5 674.3L295.3 673.3L296 672.9L296.7 673.6L297.4 674.8L298.2 675.1L298.9 675.8L299.6 676.5L300.4 676.4L301.1 677.1L301.8 677.1L302.6 677.7L303.3 678.7L304.1 678.7L304.9 679.5L305.9 680.7L306.9 681.5L307.7 681.2L308.4 682.1L309.1 682L309.9 682.4L310.7 680.3L311.3 679.5L312 679.7L312.8 680L313.5 680.3L314.2 680.6L315 681.3L315.8 681.5L316.6 681.5L317.6 682.5L318.6 682.4L319.3 682.3L320.1 683L320.8 683.5L321.5 683.5L322.6 683.8L323.6 684.1L324.4 685.3L325.1 684.8L325.9 685.9L326.6 686L327.4 687.6L328.1 687.9L328.8 688.8L329.6 689.8L330.3 689.9L331 691L331.8 691.7L332.5 692L333.2 693.9L333.9 694.8L334.7 695.2L335.4 695.6L336.1 697.6L336.9 698.3L337.6 699L338.3 699.9L339.1 701.1L339.8 701.9L340.5 702.8L341.3 703.2L342.1 704.4L342.8 705.7L343.7 706.2L344.6 706.3L345.5 706.4L346.4 706.9L347.1 707.1L347.9 707.9L348.7 708.9L349.7 709.5L350.7 710.7L351.8 711.2L352.8 711.3L353.6 711.3L354.3 712.2L355.1 712.2L355.8 711.9L356.6 711L357.3 711L358 710.4L359.2 711.3L360.4 711.6L361.2 711.7L362.1 712.2L363 712.6L363.9 712.7L364.6 713.5L365.3 713.9L366.1 714.5L366.8 715.1L367.5 715.9L368.2 716.1L369 716.6L369.7 717.7L370.4 718.1L371.2 718.7L371.9 719.2L372.6 720.3L373.4 720.6L374.1 721.6L374.8 721.7L375.5 722.4L376.3 723.3L377 724L377.7 723.3L378.5 724.4L379.2 725L379.9 725.1L380.7 726.3L381.4 726.5L382.1 727L382.8 727.8L383.6 728L384.3 728.2L385 728.7L385.8 728.8L386.5 729.2L387.2 730.3L388 730.8L388.7 731.2L389.4 732.2L390.1 732.6L390.9 733.3L391.6 734L392.3 734.9L393.1 735.2L393.8 736.1L394.5 736.6L395.3 737.7L396 737.8L396.7 737.5L397.4 736.7L398.2 737L398.9 737L399.9 737.6L400.9 739L401.7 740.3L402.5 740.1L403.3 741.4L404.3 742L405.3 743.7L406.1 744.4L406.9 744.8L407.7 745.7L408.4 746.3L409.1 746.3L409.9 745.9L410.6 746.6L411.3 745L412 744.3L412.8 743.1L413.5 742.8L414.2 742.8L415 743.7L415.7 743.4L416.4 744.3L417.2 742.6L417.9 742.2L418.6 741.4L419.3 741.4L420.1 741.2L420.8 742.2L421.5 742.1L422.3 742.8L423 741.1L423.7 740.5L424.5 739.7L425.2 738.4L425.9 736.9L426.6 735.5L427.4 734.6L428.1 732.6L428.8 732L429.6 730.3L430.3 729.3L431 728.2L431.8 725.2L432.5 723.2L433.2 720.8L433.9 718L434.8 710.7L435.4 703.4L436.3 696.1L436.9 690.3L437.7 691.7L438.3 693.2L439.5 694.6L440.4 696.1L441.2 693.2L442.1 688.8L442.7 680L443.3 666.9L443.9 667.8" stroke="#5bbdd8" stroke-width="1.1" fill="none" stroke-linejoin="round"/>
<path d="M282.3 751.2V770.4M284.1 751.2V770.4M287 751.2V770.4M281.2 751.2V770.4M299.8 751.2V770.4M299.9 751.2V770.4M302.5 751.2V770.4M300.3 751.2V770.4M298.8 751.2V770.4M316.7 751.2V770.4M311.5 751.2V770.4M321 751.2V770.4M313.6 751.2V770.4M314.7 751.2V770.4M333.5 751.2V770.4M318.2 751.2V770.4M326.6 751.2V770.4M326.2 751.2V770.4M314.7 751.2V770.4M312.8 751.2V770.4M321.5 751.2V770.4M331.2 751.2V770.4M316.2 751.2V770.4M324.6 751.2V770.4M311.3 751.2V770.4M333 751.2V770.4M317.8 751.2V770.4M315.9 751.2V770.4M334.4 751.2V770.4M312.8 751.2V770.4M310.3 751.2V770.4M349.7 751.2V770.4M339.4 751.2V770.4M338.4 751.2V770.4M335.4 751.2V770.4M347.8 751.2V770.4M351.5 751.2V770.4M335.9 751.2V770.4M360.4 751.2V770.4M362.8 751.2V770.4M362.3 751.2V770.4M361.6 751.2V770.4M363.1 751.2V770.4M365.2 751.2V770.4M354.2 751.2V770.4M355.2 751.2V770.4M365.5 751.2V770.4M353.5 751.2V770.4M359.5 751.2V770.4M352.5 751.2V770.4M367.2 751.2V770.4M374.9 751.2V770.4M378 751.2V770.4M369.1 751.2V770.4M370.1 751.2V770.4M373.3 751.2V770.4M388.1 751.2V770.4M369.2 751.2V770.4M391.1 751.2V770.4M403.3 751.2V770.4M400.9 751.2V770.4M402.9 751.2V770.4M400.9 751.2V770.4M397.5 751.2V770.4M399.9 751.2V770.4M409.8 751.2V770.4M408.7 751.2V770.4M411.4 751.2V770.4M410.1 751.2V770.4M409.9 751.2V770.4M422 751.2V770.4M442.2 751.2V770.4M419.4 751.2V770.4M421.6 751.2V770.4M424.2 751.2V770.4M416.4 751.2V770.4M437.4 751.2V770.4M418.3 751.2V770.4M441.5 751.2V770.4M422.3 751.2V770.4M416.9 751.2V770.4M440.5 751.2V770.4M428.2 751.2V770.4M434.4 751.2V770.4M419.7 751.2V770.4M433.3 751.2V770.4M432.7 751.2V770.4M414.7 751.2V770.4M437.9 751.2V770.4M443.4 751.2V770.4M426.5 751.2V770.4M436.7 751.2V770.4M429 751.2V770.4M420 751.2V770.4M418.3 751.2V770.4M435.7 751.2V770.4M441.1 751.2V770.4M436.7 751.2V770.4" stroke="#111" stroke-width=".55" fill="none"/>
<path d="M305.5 751.2V770.4M319 751.2V770.4M325 751.2V770.4M330 751.2V770.4M333 751.2V770.4M338 751.2V770.4M348.5 751.2V770.4M362 751.2V770.4M380 751.2V770.4M397 751.2V770.4M401 751.2V770.4M418 751.2V770.4M424.5 751.2V770.4M431 751.2V770.4M437 751.2V770.4M441 751.2V770.4" stroke="#111" stroke-width=".9" fill="none" opacity=".85"/>
<rect x="280.4" y="770.6" width="6.2" height="5.9" fill="#c8352b"/>
<rect x="286.5" y="770.6" width="5.9" height="5.9" fill="#d84434"/>
<rect x="292.3" y="770.6" width="8.9" height="5.9" fill="#e8624a"/>
<rect x="301.1" y="770.6" width="9.7" height="5.9" fill="#ef7c62"/>
<rect x="310.7" y="770.6" width="15.3" height="5.9" fill="#f3a58c"/>
<rect x="325.9" y="770.6" width="26.4" height="5.9" fill="#f6b9a2"/>
<rect x="352.2" y="770.6" width="8.9" height="5.9" fill="#f8d2c0"/>
<rect x="360.9" y="770.6" width="8.9" height="5.9" fill="#f9e2d6"/>
<rect x="369.7" y="770.6" width="6.5" height="5.9" fill="#eef2f9"/>
<rect x="376.1" y="770.6" width="6.8" height="5.9" fill="#dae6f2"/>
<rect x="382.8" y="770.6" width="8.9" height="5.9" fill="#c5daec"/>
<rect x="391.6" y="770.6" width="8.9" height="5.9" fill="#a9cbe4"/>
<rect x="400.4" y="770.6" width="8.9" height="5.9" fill="#78b2da"/>
<rect x="409.1" y="770.6" width="5.9" height="5.9" fill="#5d9fd0"/>
<rect x="415" y="770.6" width="13.2" height="5.9" fill="#3f86c2"/>
<rect x="428.1" y="770.6" width="16.7" height="5.9" fill="#2b6cae"/>
<rect x="280.4" y="660.2" width="164.3" height="116.3" fill="none" stroke="#444" stroke-width=".8"/>
<path d="M280.4 751.2H444.7" stroke="#444" stroke-width=".8"/>
<path d="M280.4 796.2L280.4 785.5L280.9 787.4L282.1 788.8L283.6 790.2L285.6 791.4L288 792.3L292.3 793.2L298.2 794L305.5 794.6L314.2 795.2L323 795.7L331.8 796.2L343.4 796.8L358 797.4L372.6 798.1L387.2 798.6L401.8 799.2L413.5 799.7L422.3 800.3L429.6 801L435.4 802.2L439.2 804.1L441.5 806.4L443 810.2L443.9 814.8L444.7 820.4L444.7 796.2Z" fill="#bcbcbc"/>
<path d="M280.4 776.6V824.8H444.7V776.6" stroke="#222" stroke-width=".9" fill="none"/>
<text x="276.4" y="669.8" font-size="5.6" text-anchor="end" fill="#333">0.0</text>
<text x="276.4" y="689.3" font-size="5.6" text-anchor="end" fill="#333">-0.1</text>
<text x="276.4" y="708.8" font-size="5.6" text-anchor="end" fill="#333">-0.2</text>
<text x="276.4" y="728.3" font-size="5.6" text-anchor="end" fill="#333">-0.3</text>
<text x="276.4" y="747.8" font-size="5.6" text-anchor="end" fill="#333">-0.4</text>
<text x="276.6" y="780.1" font-size="7.2" text-anchor="end" fill="#222">2</text>
<text x="276.6" y="789.4" font-size="7.2" text-anchor="end" fill="#222">1</text>
<text x="276.6" y="798.7" font-size="7.2" text-anchor="end" fill="#222">0</text>
<text x="276.6" y="808" font-size="7.2" text-anchor="end" fill="#222">-1</text>
<text x="276.6" y="817.3" font-size="7.2" text-anchor="end" fill="#222">-2</text>
<text x="276.6" y="826.6" font-size="7.2" text-anchor="end" fill="#222">-3</text>
<text x="280.4" y="834.2" font-size="6.9" text-anchor="middle" fill="#222">0</text>
<text x="325" y="834.2" font-size="6.9" text-anchor="middle" fill="#222">10000</text>
<text x="369.5" y="834.2" font-size="6.9" text-anchor="middle" fill="#222">20000</text>
<text x="414.1" y="834.2" font-size="6.9" text-anchor="middle" fill="#222">30000</text>
<path d="M278.2 667.8H280.4M278.2 687.3H280.4M278.2 706.8H280.4M278.2 726.3H280.4M278.2 745.8H280.4M278.2 777.6H280.4M278.2 786.9H280.4M278.2 796.2H280.4M278.2 805.5H280.4M278.2 814.8H280.4M278.2 824.1H280.4M280.4 824.8V827M325 824.8V827M369.5 824.8V827M414.1 824.8V827" stroke="#333" stroke-width=".7" fill="none"/>
<text x="362.5" y="845" font-size="6.9" text-anchor="middle" fill="#111">Rank in Ordered Dataset</text>
<text x="0" y="0" font-size="6.6" text-anchor="middle" fill="#111" transform="translate(261.2 706.3) rotate(-90)">Enrichment Score</text>
<text x="0" y="0" font-size="7" text-anchor="middle" fill="#111" transform="translate(265.6 801) rotate(-90)">Ranked list metric</text>
<text x="441.3" y="669.6" font-size="6.1" text-anchor="end" fill="#111"><tspan font-style="italic">NES</tspan> = -1.529</text>
<text x="441.3" y="676.6" font-size="6.1" text-anchor="end" fill="#111"><tspan font-style="italic">P.adj</tspan> = 0.036</text>
<text x="441.3" y="683.6" font-size="6.1" text-anchor="end" fill="#111"><tspan font-style="italic">FDR</tspan> = 0.025</text>
<text x="0" y="0" font-size="15.7" fill="#111" stroke="#111" stroke-width=".45" transform="translate(473.85 634.58) scale(0.951 1)">H</text>
<path d="M533.4 661V828.6M517 810.9H672.6M564 661V828.6M517 777.8H672.6M594.8 661V828.6M517 744.8H672.6M625.5 661V828.6M517 711.8H672.6M656.1 661V828.6M517 678.7H672.6" stroke="#f0f0f0" stroke-width=".6" fill="none"/>
<path d="M518 661V828.6M517 827.4H672.6M548.7 661V828.6M517 794.4H672.6M579.4 661V828.6M517 761.3H672.6M610.1 661V828.6M517 728.3H672.6M640.8 661V828.6M517 695.2H672.6M671.5 661V828.6M517 662.2H672.6" stroke="#e6e6e6" stroke-width=".9" fill="none"/>
<path d="M518 827.4L671.5 662.2" stroke="#777" stroke-width="1" stroke-dasharray="4 3"/>
<path d="M518 827.4L523.4 827.4L523.4 802.6L529.5 802.6L529.5 779.5L544.1 779.5L544.1 754.7L569.4 754.7L569.4 731.6L577.1 731.6L577.1 711.8L604 711.8L604 696.9L649.2 696.9L649.2 685.3L650.8 685.3L650.8 662.2L671.5 662.2" stroke="#f4a89a" stroke-width="1.1" fill="none"/>
<path d="M518 827.4L521.1 827.4L521.1 819.1L523.4 819.1L523.4 810.9L539.5 810.9L539.5 802.6L545.6 802.6L545.6 794.4L547.9 794.4L547.9 781.1L554.1 781.1L554.1 761.3L558.7 761.3L558.7 746.5L568.7 746.5L568.7 741.5L571 741.5L571 734.9L575.6 734.9L575.6 723.3L587.1 723.3L587.1 713.4L592.4 713.4L592.4 696.9L621.6 696.9L621.6 675.4L649.2 675.4L649.2 673.8L650.8 673.8L650.8 662.2L671.5 662.2" stroke="#b5b5b5" stroke-width="1.1" fill="none"/>
<path d="M518 827.4L524.1 827.4L524.1 817.5L526.4 817.5L526.4 812.5L530.3 812.5L530.3 807.6L542.6 807.6L542.6 802.6L545.6 802.6L545.6 797.7L551.8 797.7L551.8 776.2L554.8 776.2L554.8 766.3L557.9 766.3L557.9 758L569.4 758L569.4 743.1L571.7 743.1L571.7 731.6L578.6 731.6L578.6 723.3L585.5 723.3L585.5 703.5L610.9 703.5L610.9 677.1L649.2 677.1L649.2 670.5L651.5 670.5L651.5 662.2L671.5 662.2" stroke="#7cc4c2" stroke-width="1.1" fill="none"/>
<rect x="516.9" y="660.7" width="155.9" height="168.3" fill="none" stroke="#222" stroke-width="1.3"/>
<text x="512.5" y="830.5" font-size="8.8" text-anchor="end" fill="#222">0.0</text>
<text x="518" y="840.6" font-size="8.8" text-anchor="middle" fill="#222">0.0</text>
<text x="512.5" y="797.5" font-size="8.8" text-anchor="end" fill="#222">0.2</text>
<text x="548.7" y="840.6" font-size="8.8" text-anchor="middle" fill="#222">0.2</text>
<text x="512.5" y="764.4" font-size="8.8" text-anchor="end" fill="#222">0.4</text>
<text x="579.4" y="840.6" font-size="8.8" text-anchor="middle" fill="#222">0.4</text>
<text x="512.5" y="731.4" font-size="8.8" text-anchor="end" fill="#222">0.6</text>
<text x="610.1" y="840.6" font-size="8.8" text-anchor="middle" fill="#222">0.6</text>
<text x="512.5" y="698.3" font-size="8.8" text-anchor="end" fill="#222">0.8</text>
<text x="640.8" y="840.6" font-size="8.8" text-anchor="middle" fill="#222">0.8</text>
<text x="512.5" y="665.3" font-size="8.8" text-anchor="end" fill="#222">1.0</text>
<text x="671.5" y="840.6" font-size="8.8" text-anchor="middle" fill="#222">1.0</text>
<path d="M513.7 827.4H516.9M518 829V832.2M513.7 794.4H516.9M548.7 829V832.2M513.7 761.3H516.9M579.4 829V832.2M513.7 728.3H516.9M610.1 829V832.2M513.7 695.2H516.9M640.8 829V832.2M513.7 662.2H516.9M671.5 829V832.2" stroke="#222" stroke-width="1" fill="none"/>
<text x="595" y="852.6" font-size="9.7" text-anchor="middle" fill="#111">1-Specificity (FPR)</text>
<text x="0" y="0" font-size="9.7" text-anchor="middle" fill="#111" transform="translate(491.5 744.2) rotate(-90)">Sensitivity (TPR)</text>
<text x="574" y="791.8" font-size="8.6" fill="#222">XIAP</text>
<path d="M575 800.5H584.5" stroke="#f4a89a" stroke-width="1.1"/>
<text x="586.8" y="803.6" font-size="8.6" fill="#222">3-year (AUC = 0.631)</text>
<path d="M575 810.7H584.5" stroke="#7cc4c2" stroke-width="1.1"/>
<text x="586.8" y="813.8" font-size="8.6" fill="#222">5-year (AUC = 0.628)</text>
<path d="M575 821H584.5" stroke="#b5b5b5" stroke-width="1.1"/>
<text x="586.8" y="824.1" font-size="8.6" fill="#222">7-year (AUC = 0.631)</text>
</svg></body></html>
